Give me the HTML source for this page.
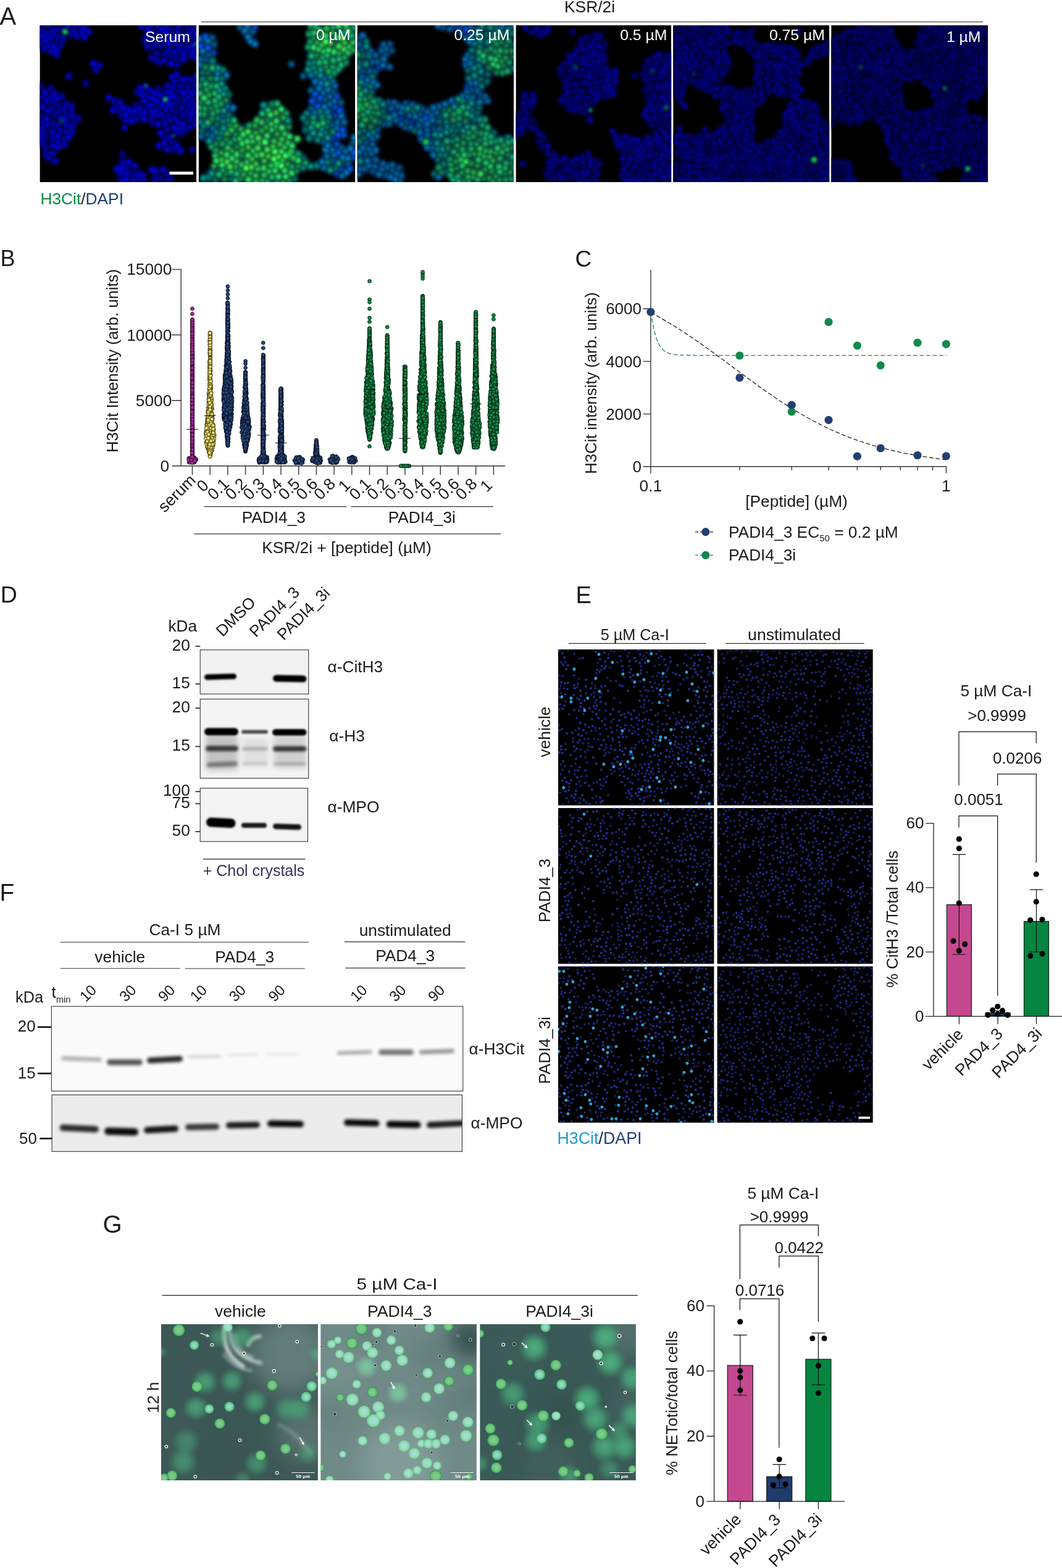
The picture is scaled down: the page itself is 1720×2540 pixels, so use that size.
<!DOCTYPE html>
<html lang="en"><head><meta charset="utf-8"><title>Figure</title>
<style>html,body{margin:0;padding:0;background:#fff}body{width:1720px;height:2540px;overflow:hidden}svg{display:block}</style></head><body>
<svg width="1720" height="2540" viewBox="0 0 1720 2540" font-family="&quot;Liberation Sans&quot;, sans-serif" font-size="26.3" fill="#1a1a1a">
<defs><filter id="b1" x="-20%" y="-100%" width="140%" height="300%"><feGaussianBlur stdDeviation="1.6"/></filter>
<filter id="b2" x="-20%" y="-150%" width="140%" height="400%"><feGaussianBlur stdDeviation="2.2"/></filter>
<filter id="b4" x="-20%" y="-150%" width="140%" height="400%"><feGaussianBlur stdDeviation="2.7"/></filter>
<filter id="b3" x="-30%" y="-30%" width="160%" height="160%"><feGaussianBlur stdDeviation="5"/></filter>
<clipPath id="cd1"><rect x="324.2" y="1052.8" width="175.6" height="71.4"/></clipPath>
<clipPath id="cd2"><rect x="324.2" y="1132.4" width="175.6" height="128.3"/></clipPath>
<clipPath id="cd3"><rect x="324.2" y="1276" width="174.3" height="87.2"/></clipPath>
<clipPath id="cf1"><rect x="83.3" y="1630.2" width="666.5" height="137.2"/></clipPath>
<clipPath id="cf2"><rect x="84.1" y="1773.6" width="664.3" height="91.7"/></clipPath>
<clipPath id="ca0"><rect x="64.4" y="41" width="253.6" height="254"/></clipPath>
<clipPath id="ca1"><rect x="321.7" y="41" width="253.6" height="254"/></clipPath>
<clipPath id="ca2"><rect x="578.6" y="41" width="253.4" height="254"/></clipPath>
<clipPath id="ca3"><rect x="835.4" y="41" width="251.8" height="254"/></clipPath>
<clipPath id="ca4"><rect x="1090.2" y="41" width="253" height="254"/></clipPath>
<clipPath id="ca5"><rect x="1346.2" y="41" width="253.8" height="254"/></clipPath>
<filter id="fa1" x="-5%" y="-5%" width="110%" height="110%"><feGaussianBlur stdDeviation="1.15"/></filter>
<filter id="fa3" x="-10%" y="-10%" width="120%" height="120%"><feGaussianBlur stdDeviation="3"/></filter>
<filter id="fa5" x="-50%" y="-50%" width="200%" height="200%"><feGaussianBlur stdDeviation="2.2"/></filter>
<clipPath id="ce00"><rect x="903.9" y="1052" width="252.7" height="252.8"/></clipPath>
<clipPath id="ce01"><rect x="1161.4" y="1052" width="252.4" height="252.8"/></clipPath>
<clipPath id="ce10"><rect x="903.9" y="1308.8" width="252.7" height="252.8"/></clipPath>
<clipPath id="ce11"><rect x="1161.4" y="1308.8" width="252.4" height="252.8"/></clipPath>
<clipPath id="ce20"><rect x="903.9" y="1565.3" width="252.7" height="253.5"/></clipPath>
<clipPath id="ce21"><rect x="1161.4" y="1565.3" width="252.4" height="253.5"/></clipPath>
<filter id="fe1" x="-5%" y="-5%" width="110%" height="110%"><feGaussianBlur stdDeviation="0.55"/></filter>
<clipPath id="cg0"><rect x="261" y="2145.1" width="253.9" height="253"/></clipPath>
<clipPath id="cg1"><rect x="519.2" y="2145.1" width="252.7" height="253"/></clipPath>
<clipPath id="cg2"><rect x="777.2" y="2145.1" width="252.7" height="253"/></clipPath>
<filter id="fg1" x="-10%" y="-10%" width="120%" height="120%"><feGaussianBlur stdDeviation="0.7"/></filter>
<filter id="fg2" x="-50%" y="-50%" width="200%" height="200%"><feGaussianBlur stdDeviation="2.5"/></filter>
<filter id="fg20" x="-60%" y="-60%" width="220%" height="220%"><feGaussianBlur stdDeviation="18"/></filter>
<radialGradient id="gcA"><stop offset="0" stop-color="#86cc8e"/><stop offset="0.6" stop-color="#74c680"/><stop offset="0.9" stop-color="#45b066"/><stop offset="1" stop-color="#1f7a45"/></radialGradient>
<radialGradient id="gcB"><stop offset="0" stop-color="#a9dfd8"/><stop offset="0.55" stop-color="#9bdcc8"/><stop offset="0.85" stop-color="#7fd89a"/><stop offset="1" stop-color="#6fbf8a"/></radialGradient>
<radialGradient id="gcC"><stop offset="0" stop-color="#9fd8d8"/><stop offset="0.5" stop-color="#86d6b4"/><stop offset="0.92" stop-color="#4fb873"/><stop offset="1" stop-color="#2f7f55"/></radialGradient>
<radialGradient id="ghA"><stop offset="0" stop-color="#52b884" stop-opacity="0.9"/><stop offset="0.45" stop-color="#4aae7c" stop-opacity="0.75"/><stop offset="1" stop-color="#3f9a70" stop-opacity="0"/></radialGradient>
<radialGradient id="ghB"><stop offset="0" stop-color="#7fd0a4" stop-opacity="0.85"/><stop offset="0.5" stop-color="#7fd0a4" stop-opacity="0.6"/><stop offset="1" stop-color="#7fd0a4" stop-opacity="0"/></radialGradient>
<marker id="arw" markerWidth="6" markerHeight="6" refX="3.2" refY="3" orient="auto" markerUnits="userSpaceOnUse"><path d="M0 0L6 3L0 6L1.6 3Z" fill="#fff"/></marker></defs>
<rect width="1720" height="2540" fill="#fff"/>
<g id="panelA"><text font-size="40" x="-0.5" y="40">A</text>
<text text-anchor="middle" font-size="26.4" x="955" y="20.2">KSR/2i</text>
<line x1="326" y1="35.5" x2="1592" y2="35.5" stroke="#222" stroke-width="1.2"/>
<text x="65.5" y="331"><tspan fill="#0b8a43">H3Cit</tspan>/<tspan fill="#1f3d7a">DAPI</tspan></text>
<g clip-path="url(#ca0)">
<rect x="64.4" y="41" width="253.6" height="254" fill="#000"/>
<path d="M64.4 41L128.9 41L148.3 47.5L140.2 58.8L132.2 62L117.7 57.1L101.5 62L98.3 86.2L93.4 92.6L87 87.8L80.5 81.3L69.2 81.3L64.4 83ZM227.4 41L318.4 41L318.4 97.5L303.2 95.9L290.3 105.5L280.6 108.8L266.1 103.9L246.7 103.9L241.9 94.3L246.7 86.2L237.1 78.1L233.8 66.8L235.5 53.9ZM148.3 102.3L156.4 98.3L162.8 103.9L163.6 112L158 115.2L150.7 112ZM64.4 134.6L74.1 141L85.4 141L93.4 150.7L106.4 157.2L116 168.5L117.7 181.4L127.3 189.5L124.1 202.4L120.9 216.9L111.2 223.3L111.2 233L96.7 237.9L91.8 247.6L88.6 255.6L90.2 263.7L82.2 262.1L74.1 254L70.9 242.7L64.4 234.6ZM318.4 123.3L306.5 128.1L293.5 124.9L287.1 116.8L279 120.1L277.4 133L266.1 141L246.7 145.9L238.7 137.8L225.8 136.2L219.3 147.5L224.2 154L233.8 157.2L232.2 163.6L219.3 170.1L209.6 178.2L201.6 173.3L198.3 165.3L187 163.6L177.4 154L174.1 157.2L183.8 170.1L182.2 178.2L191.9 184.6L201.6 194.3L214.5 197.5L225.8 192.7L240.3 199.1L254.8 204L264.5 202.4L259.7 215.3L264.5 218.5L258 231.4L254.8 239.5L271 242.7L290.3 247.6L295.2 241.1L282.2 231.4L280.6 218.5L296.8 216.9L303.2 208.8L318.4 202.4ZM198.3 247.6L203.2 257.2L216.1 262.1L219.3 270.1L212.9 278.2L227.4 279.8L235.5 286.3L235.5 295L193.5 295L190.3 283.1L183.8 275L190.3 265.3L195.1 255.6ZM245.1 273.4L264.5 270.1L272.6 279.8L279 295L246.7 295Z" fill="#000042" fill-rule="evenodd" filter="url(#fa3)"/>
<g fill="none" stroke-linecap="round" filter="url(#fa1)">
<g filter="url(#fa5)"><g stroke="#000044" stroke-width="13.5"><path id="a0p0" d="M99.9 156.4h0M205.5 271.5h0M294.8 71.7h0M244.3 70.2h0M246.1 198.6h0M122.2 41.5h0M68.3 198.4h0M87 185.2h0M71.4 42.7h0M192.9 180.4h0M94.6 201.8h0M316.5 41.8h0M278.4 49.1h0M212.2 187.4h0M73.4 215.6h0M85.8 165.6h0M287.7 161h0M251.2 286h0M259.1 101h0M254.8 44.3h0M65.3 140h0M198.3 249.5h0M286.2 71.3h0M114 54.9h0M74.1 240.3h0M296.5 56.9h0M258.3 54.7h0M245.3 189.7h0M285.2 181h0M105.8 186.3h0M189.6 172.4h0M274.5 195.5h0M272.9 186.4h0M294.1 216.1h0M306.5 195h0M254.2 86.6h0M266.7 86.8h0M122.2 197.5h0M289.5 148.3h0M269.7 209.5h0M261 73.6h0M216.7 281.9h0M259.4 288.3h0M256.3 144.2h0M318.4 152.5h0M276.3 91.7h0M72.9 225.6h0M304.9 64.3h0M95.3 171.4h0M65.2 158.2h0M225.4 185.6h0M103 48h0M270.5 294.7h0M268.2 151h0M306.4 90.8h0M94 181h0M286.8 105.4h0M284.9 217h0M194.7 287.9h0M81.4 142.9h0M237.2 176.2h0M244.4 92.8h0M285.6 95.8h0M250.5 293.9h0M64.7 188.6h0M248.4 77h0M302.4 179.2h0M302.1 45h0M266.1 221.9h0M312.7 62h0M92 66.3h0M93.6 57.9h0M221.8 149h0M279.8 66h0M84 224.2h0M250.2 51.2h0M271.4 282.4h0M65.9 70.3h0M283.1 167.7h0M278 231.2h0M103.1 224.9h0M219.4 170.8h0M281.2 242h0M80.4 41.9h0M196.3 188.2h0M265.8 192.6h0M126.8 190.6h0M130.8 42.3h0M65.7 167.3h0M84.6 174.7h0M73.8 249.4h0M300.3 210.7h0M317.6 69.2h0M220.8 194h0M276.1 288.8h0M99.4 71.6h0M318.4 78.8h0M138.6 135.4h0M311.3 242.7h0"/></g><g stroke="#000050" stroke-width="13.5"><path id="a0p1" d="M83 156.6h0M223.7 287.5h0M273.1 80.4h0M261.7 185.1h0M282.4 132.7h0M194.7 166.3h0M104.8 233.5h0M91.8 88.7h0M303.6 142.4h0M287.3 51.2h0M216.4 292h0M318 183.1h0M97.4 189.8h0M84.9 51h0M85.2 200.3h0M282 190.7h0M70 174.5h0M246 60.1h0M267.4 201h0M311.1 162.6h0M238 155.1h0M226.3 175.4h0M115.2 204.7h0M309.2 129.4h0M316.1 138.9h0M293.2 128.8h0M106.8 202.3h0M317.9 123.7h0M253.7 186.3h0M262.4 64.3h0M68.1 232.7h0M286.4 120.3h0M92.3 47.8h0M218.1 268.5h0M296 186h0M275.7 221.8h0M310.2 48.8h0M175.8 158.1h0M253.6 178.1h0M116.7 189.2h0M266.6 97.1h0M75.9 201.9h0M115.8 180.2h0M273 72.4h0M199.8 262.8h0M280.8 141.4h0M78.6 255.9h0M143.9 52.3h0M71.6 78.9h0M301.2 128.4h0M89.7 261h0M85.3 248.3h0M199.1 294.6h0M236.5 141.1h0M294.6 173.7h0M229.2 42.9h0M107.5 169h0M96.7 211h0M303 77.9h0M253.1 276.5h0M116.6 213.4h0M160.7 106h0M265.9 162.4h0M93.7 230.3h0M298.7 162.8h0M256.7 236.4h0M102.4 61.7h0M233 293.3h0M234.9 64.5h0M107.3 213.5h0M78.2 73.2h0M184.4 162.6h0M316.9 170.9h0M88.6 150.9h0M252.3 96.6h0M316.3 202.3h0M68.5 206.8h0M120.7 49.6h0M270.7 139.2h0M75.9 55.2h0M277.6 175.3h0M304.7 156.9h0M288.6 197.2h0M290.6 79h0M307.5 169.9h0M252.7 70.1h0M293.4 139.3h0M243.3 146.4h0M231.1 284.2h0M270.3 42.2h0M277.7 58h0M65.3 49.7h0M237.7 76h0M242.3 41.5h0M115.2 171.8h0M316.3 194.2h0M103.3 177.6h0M203.9 194.6h0M238.3 57h0M155.1 112.8h0M306.8 206h0M311.7 177.5h0M224.4 279.7h0M111.2 123.3h0M201.6 207.2h0"/></g><g stroke="#00005b" stroke-width="13.5"><path id="a0p2" d="M251 150.8h0M268.5 176.5h0M205.1 288.9h0M262 169.8h0M75.5 192.6h0M86.7 75.1h0M243.6 169.9h0M311.3 75.2h0M264.4 275h0M75.8 162.3h0M239.8 49.2h0M283.1 84.4h0M296.7 86h0M312 84.8h0M266 231.9h0M262.7 47.3h0M67.6 58.2h0M195.9 279.2h0M245.9 181.1h0M203.8 185.7h0M292.3 244.5h0M317.4 93.3h0M233.2 163.3h0M254 164.2h0M132.3 52.2h0M73.8 65.4h0M212.3 195.9h0M282 207h0M228.3 142.8h0M285.9 60.8h0M295.6 201.5h0M276.9 102.9h0M92.6 80.5h0M189.3 274.1h0M317.5 55.1h0M255.7 200.8h0M150.6 102.7h0M269.2 51.9h0M280.8 156.1h0M270.7 242.1h0M86.6 235.7h0M271.5 64.6h0M85.4 213.7h0M72.9 150.2h0M289.6 41.6h0M93.5 221.3h0M297.4 151.2h0M274.2 167.5h0M296 95.7h0M233.4 192.7h0M64.8 223.3h0M94.9 238.3h0M111.7 222.1h0M123.5 57.8h0M110.4 41.4h0M137.9 46.1h0M309.5 185.6h0M78.1 179.6h0M310.5 149.8h0M83.3 60.5h0M208.9 178h0M276.2 149.3h0M245.8 158.9h0M218 180.4h0M259.1 154.7h0M229.5 152.9h0M136.1 60.3h0M278.8 124.5h0M305 55.9h0M92.5 159.2h0M290.2 208.5h0M83 83.5h0M209.2 262.6h0M200.1 174.6h0M260.2 215.4h0M232.8 182.8h0M287 235.4h0M105.9 194.3h0M205.5 280h0M182.9 178.5h0M245.3 275.1h0M196.3 270.2h0M65.3 214.3h0M273.1 159.1h0"/></g></g>
<use href="#a0p0" stroke="#000078" stroke-width="9.4"/><use href="#a0p1" stroke="#00008d" stroke-width="9.4"/><use href="#a0p2" stroke="#0000a2" stroke-width="9.4"/>
<use href="#a0p0" stroke="#00009c" stroke-width="5.2"/><use href="#a0p1" stroke="#0000b8" stroke-width="5.2"/><use href="#a0p2" stroke="#0000d3" stroke-width="5.2"/>
</g>
<circle cx="105.5" cy="51.5" r="4.5" fill="#0acd46" opacity="1.00" filter="url(#fa5)"/>
<circle cx="267.7" cy="161.2" r="3.6" fill="#0acd46" opacity="1.00" filter="url(#fa5)"/>
<circle cx="236.3" cy="138.6" r="2.9" fill="#0acd46" opacity="0.60" filter="url(#fa5)"/>
<circle cx="280.6" cy="220.1" r="2.1" fill="#0acd46" opacity="0.80" filter="url(#fa5)"/>
<circle cx="316.1" cy="71.7" r="3.2" fill="#0acd46" opacity="0.50" filter="url(#fa5)"/>
<circle cx="99.9" cy="195.9" r="4.8" fill="#0acd46" opacity="0.25" filter="url(#fa5)"/>
</g>
<g clip-path="url(#ca1)">
<rect x="321.7" y="41" width="253.6" height="254" fill="#000"/>
<path d="M321.7 58.8L337.8 57.1L350.7 62L349.1 78.1L344.3 94.3L352.4 105.5L363.7 113.6L368.5 124.9L362 137.8L371.7 154L375 170.1L379.8 178.2L376.6 192.7L386.2 200.8L402.4 202.4L412.1 194.3L421.7 183L425 168.5L444.3 163.6L455.6 173.3L466.9 186.2L471.8 195.9L466.9 210.4L470.2 226.6L476.6 241.1L491.1 249.2L499.2 262.1L499.2 270.1L483.1 279.8L475 295L326.5 295L331.4 283.1L345.9 266.9L349.1 250.8L341.1 239.5L331.4 228.2L321.7 218.5ZM499.2 41L575.7 41L575.7 81.3L563.8 94.3L560.5 105.5L547.6 116.8L537.9 124.9L544.4 136.2L546 154L554.1 166.9L560.5 189.5L555.7 202.4L558.9 218.5L547.6 226.6L555.7 237.9L563.8 250.8L563.8 255.6L568.6 271.8L560.5 283.1L547.6 289.5L536.3 279.8L515.3 270.1L499.2 271.8L500.8 265.3L515.3 262.1L526.6 249.2L528.3 234.6L512.1 228.2L499.2 223.3L491.1 212.1L491.1 186.2L497.6 181.4L505.7 163.6L500.8 147.5L508.9 137.8L505.7 124.9L499.2 116.8L497.6 89.4L500.8 62ZM386.2 41L415.3 41L412.1 50.7L405.6 57.1L415.3 65.2L416.9 76.5L412.1 78.1L402.4 62L392.7 55.5ZM575.7 218.5L570.2 228.2L565.4 236.3L570.2 249.2L575.7 258.8Z" fill="#002564" fill-rule="evenodd" filter="url(#fa3)"/>
<g fill="none" stroke-linecap="round" filter="url(#fa1)">
<g filter="url(#fa5)"><g stroke="#002460" stroke-width="13.5"><path id="a1p0" d="M539.4 223.3h0M552.8 274.5h0M544.9 280.5h0M542.7 187.9h0M574.3 255.7h0M345.7 85.7h0"/></g><g stroke="#002a71" stroke-width="13.5"><path id="a1p1" d="M542.6 173.7h0M545.4 233.6h0M412.7 44h0M545.6 156.2h0M556.7 218.6h0"/></g><g stroke="#003082" stroke-width="13.5"><path id="a1p2" d="M336.8 77.2h0M510.3 152.2h0M518.9 159h0M514.9 172.2h0M548 218.5h0M324 74.5h0M505.6 163.8h0M550.5 179h0M554.9 210.5h0M332.7 59.3h0M573.2 247.7h0M548.3 246.5h0M566.5 273.3h0"/></g><g stroke="#02304d" stroke-width="13.5"><path id="a1p3" d="M337.8 88.9h0M563.4 264.9h0M523.9 229.5h0M333.7 95.9h0M335.6 217.6h0M503.5 146.6h0M504.1 175.5h0M552.4 166.1h0M572.9 230.7h0M539.7 150h0M388.6 43.8h0M361.3 187.6h0M343.6 60.8h0M538.6 261.3h0M346.5 71.9h0M409.3 51.4h0M527.1 160.8h0M538.2 203h0M553.1 239.3h0M471.8 103.9h0M491.1 123.3h0"/></g><g stroke="#02395a" stroke-width="13.5"><path id="a1p4" d="M325.3 220.8h0M344.3 207.6h0M525.3 126.5h0M368.5 172.3h0M529.5 253.2h0M557.3 197.8h0M541.5 251.2h0M324.4 96h0M546.5 198.4h0M524.7 271.6h0M534.3 156.5h0M538.3 242.7h0M538.8 131.6h0M559.9 245.1h0M534.6 168.8h0M545.4 207.1h0M542.6 139.3h0M554.3 284.6h0M343.5 220.3h0M509.5 182.5h0M523.9 149.9h0M541.7 164h0"/></g><g stroke="#024168" stroke-width="13.5"><path id="a1p5" d="M528.2 243.4h0M396.2 49.5h0M552.5 187.8h0M377.4 174.6h0M521.7 262.5h0M323 104.9h0M328 82.7h0M336.8 66.3h0M412.9 71.1h0M510.5 132h0M531 235.5h0M322.2 63.3h0M519.6 134.6h0M516.7 142.9h0M555.1 255.3h0M401.9 59.9h0M560.9 279.5h0M352.4 119.2h0M525.5 173.1h0M531.4 145h0M529.9 181.2h0M573.9 222.7h0M400.7 42.1h0M567.6 240.4h0M366.6 121.8h0M504.1 121.5h0M563.7 256.5h0M405.9 67.1h0"/></g><g stroke="#033d3a" stroke-width="13.5"><path id="a1p6" d="M374.4 289.5h0M494.9 210.5h0M348.6 292.1h0M328.1 117.7h0M496.8 198h0M531.2 197.1h0M351.3 201.5h0M359.4 127.4h0M527.6 215.4h0M370.4 152.5h0M326 212.1h0M476.9 289.9h0M370.3 186.5h0M491 257h0M336.4 117.6h0M544 272.3h0M529.2 205.2h0"/></g><g stroke="#044844" stroke-width="13.5"><path id="a1p7" d="M358.5 215.7h0M327.9 128.2h0M509 101.1h0M344.5 98.9h0M491 271.3h0M352.8 191.9h0M329.7 203.7h0M521.4 189h0M539.2 213.4h0M369.9 194.6h0M511.5 117.6h0M501 102.7h0M512.9 268.7h0M500.9 223.9h0M521.6 209.2h0M514.4 226.8h0M323.9 197.5h0M518.4 180.9h0M496.8 183.9h0M350.3 213.9h0M360.9 113.3h0M354.7 223.9h0M364.6 143.4h0M337.5 287.4h0M530.3 262.8h0M491.3 190.9h0M361.7 196.6h0M507.9 109.4h0M533 188.9h0M535.2 124.1h0"/></g><g stroke="#04524e" stroke-width="13.5"><path id="a1p8" d="M343 280.8h0M350.7 127.4h0M507.7 190.5h0M362 152.3h0M534.9 275.5h0M507.3 215.6h0M499.1 112.8h0M548.3 264.4h0M426.9 170.2h0M504.1 206.7h0M329.3 288.5h0M353.1 110.3h0M519.1 112.7h0M530.6 223.4h0M519 217.8h0M339.1 228.4h0M362.1 207.7h0M503.3 269.6h0M466.2 195h0M529.3 135.9h0M362.5 179.2h0M518.7 121.7h0M358.7 136.1h0M355.9 146.4h0"/></g><g stroke="#084b2e" stroke-width="13.5"><path id="a1p9" d="M391.5 251.7h0M389.2 289.5h0M508.1 61.5h0M363.7 290.4h0M341 127.3h0M324.9 165.1h0M433 195.3h0M449 294.1h0M323.4 138.4h0M342.2 175.9h0M383.8 237.9h0M349.7 233.3h0M440.8 169.1h0M560.4 101.7h0M332.6 108.9h0M381.7 217.3h0M343.5 192.4h0M458.4 294h0M467.6 205.4h0M365.9 162.2h0M528.3 108.6h0M512.7 89.4h0M389.4 275.8h0M480.2 276.6h0M468.4 292.3h0M372.2 203.1h0M366.5 225.8h0M483.1 268.9h0M366.3 281h0"/></g><g stroke="#0a5837" stroke-width="13.5"><path id="a1p10" d="M342.6 237.6h0M403.7 203.5h0M352.5 179.8h0M334.7 145.2h0M380.3 225.6h0M331.7 175.9h0M503.4 41.8h0M554.5 53.1h0M357.7 168h0M360.4 275.5h0M558.1 93.1h0M495 264.2h0M360.2 232.9h0M341.6 139.6h0M482.8 249.5h0M499.2 76.4h0M539.2 109h0M472.6 270.5h0M372.6 231.4h0M541.7 117.6h0M572.6 44.7h0M522.6 93.4h0M539.5 44.3h0M330.7 185h0M532.5 116.1h0M349.8 243.7h0M432.9 294.5h0M502.8 68.1h0M344.8 183.7h0M548.1 112.2h0M463.4 183.6h0M500.5 55h0M350 171.4h0M507.8 198.9h0"/></g><g stroke="#0b653f" stroke-width="13.5"><path id="a1p11" d="M322.1 184.6h0M526.9 100.5h0M354.8 282.5h0M347.6 151.4h0M504.4 90.8h0M515.1 203h0M517.4 101.5h0M529.9 89.5h0M337.1 165.5h0M424.9 184h0M343.9 110h0M549.2 95.7h0M348.3 163.2h0M350.7 139.8h0M539.8 97.9h0M569.3 58.1h0M374.2 278.3h0M323.8 151.5h0M322.3 174h0M552.5 105.4h0M336.5 198.5h0M434.3 178.5h0M440.5 286.9h0M448.8 168h0M381.8 293.2h0M354.4 156.9h0M332.9 136h0M511.5 42.4h0M378.9 195.3h0M383.4 281.3h0M523.2 199.6h0"/></g><g stroke="#125b2b" stroke-width="13.5"><path id="a1p12" d="M423.9 211.6h0M390.1 209.4h0M405.8 280.7h0M375.5 244.5h0M538.6 53.3h0M367.7 216.4h0M465.7 265.8h0M358.5 247.8h0M519.1 60.6h0M549 86.1h0M424.4 292.7h0M413.2 203h0M394.4 282.8h0M458.9 190.5h0M346.8 269.1h0M414.3 215.3h0M431 206.3h0M392.2 242.9h0M382 204h0M448.6 217h0M571.5 81.1h0M338.3 153.5h0M446.9 205h0M513.8 68.9h0M420.3 231.7h0M381.6 270.2h0"/></g><g stroke="#156b33" stroke-width="13.5"><path id="a1p13" d="M440 210.2h0M399.9 263.5h0M461 216.8h0M368.9 239.6h0M523.9 83.2h0M383.1 261.5h0M466.4 231.7h0M415.3 251.9h0M545.4 60h0M460.7 238.3h0M439 268.5h0M508.6 53.4h0M348.8 252.3h0M563.9 85.5h0M517.3 48.3h0M439.3 201h0M414.9 295h0M521.1 73.1h0M456.4 225.6h0M427.8 283.6h0M565.2 76h0M516 79.7h0M529.1 46h0M457.2 259.8h0M408.7 229.3h0M435.5 277.9h0M417.8 273.6h0M443.8 228.8h0M471.7 244.7h0M424 198.2h0M375 210.8h0M571.7 68.9h0M416.3 194.7h0M475.3 255.9h0M391.1 266.7h0M414.2 284.4h0M407.4 220.9h0M388.5 224.7h0M409.9 244.7h0"/></g><g stroke="#187b3b" stroke-width="13.5"><path id="a1p14" d="M394 217.6h0M448.1 265h0M548.3 42.1h0M482.8 260h0M437.9 185.9h0M507.8 76.9h0M472.4 280.2h0M563.5 50.2h0M445.4 276.3h0M451 286.1h0M527.3 58.3h0M432.6 220h0M375.7 256.6h0M392.3 232.3h0M447.7 196.1h0M461.1 276.5h0M402.4 290.9h0M462.8 286.2h0M540.7 83.9h0M330.6 158.8h0M427.2 272.3h0M359.9 267.2h0M400.2 229.3h0M455.8 245.5h0M455.6 177h0M402 251.9h0M456.5 207h0M367.3 250.6h0M473.1 236.3h0M468.9 221.3h0M560.3 41.1h0M383.3 250.2h0M531.9 81.1h0M557.1 79.7h0M350.5 260.5h0M481.5 225h0"/></g><g stroke="#1b6b28" stroke-width="13.5"><path id="a1p15" d="M535.7 69.7h0M358.7 259.1h0M428 260.6h0M402.3 238.4h0M447 182.8h0M558.3 69.1h0M414.6 265.7h0M434.4 252.8h0M453.3 233.2h0M408.1 257.4h0M442.2 237.4h0"/></g><g stroke="#207d2f" stroke-width="13.5"><path id="a1p16" d="M548.9 75h0M401.7 213.4h0M372.5 269.9h0M418.3 223.6h0M417.6 239.7h0M367.7 262.1h0M432.8 242.5h0M424 250.4h0M451.2 253.9h0M407.1 271h0M553.9 61.5h0"/></g><g stroke="#249036" stroke-width="13.5"><path id="a1p17" d="M445.3 245.6h0M429.3 230.2h0M462.5 252.1h0M398.7 272.3h0M455.6 268.6h0M443.8 257.5h0M527.6 67.6h0"/></g></g>
<use href="#a1p0" stroke="#002f80" stroke-width="9.4"/><use href="#a1p1" stroke="#003896" stroke-width="9.4"/><use href="#a1p2" stroke="#0040ad" stroke-width="9.4"/><use href="#a1p3" stroke="#024066" stroke-width="9.4"/><use href="#a1p4" stroke="#024c78" stroke-width="9.4"/><use href="#a1p5" stroke="#03578a" stroke-width="9.4"/><use href="#a1p6" stroke="#04514d" stroke-width="9.4"/><use href="#a1p7" stroke="#055f5a" stroke-width="9.4"/><use href="#a1p8" stroke="#066e68" stroke-width="9.4"/><use href="#a1p9" stroke="#0b643e" stroke-width="9.4"/><use href="#a1p10" stroke="#0d7649" stroke-width="9.4"/><use href="#a1p11" stroke="#0f8754" stroke-width="9.4"/><use href="#a1p12" stroke="#18793a" stroke-width="9.4"/><use href="#a1p13" stroke="#1c8e44" stroke-width="9.4"/><use href="#a1p14" stroke="#20a34e" stroke-width="9.4"/><use href="#a1p15" stroke="#248e36" stroke-width="9.4"/><use href="#a1p16" stroke="#2aa73f" stroke-width="9.4"/><use href="#a1p17" stroke="#30c049" stroke-width="9.4"/>
<use href="#a1p0" stroke="#003ea6" stroke-width="5.2"/><use href="#a1p1" stroke="#0048c4" stroke-width="5.2"/><use href="#a1p2" stroke="#0053e1" stroke-width="5.2"/><use href="#a1p3" stroke="#035485" stroke-width="5.2"/><use href="#a1p4" stroke="#03629c" stroke-width="5.2"/><use href="#a1p5" stroke="#0471b4" stroke-width="5.2"/><use href="#a1p6" stroke="#056964" stroke-width="5.2"/><use href="#a1p7" stroke="#067c75" stroke-width="5.2"/><use href="#a1p8" stroke="#078e87" stroke-width="5.2"/><use href="#a1p9" stroke="#0f8251" stroke-width="5.2"/><use href="#a1p10" stroke="#11995f" stroke-width="5.2"/><use href="#a1p11" stroke="#14b06d" stroke-width="5.2"/><use href="#a1p12" stroke="#1f9d4b" stroke-width="5.2"/><use href="#a1p13" stroke="#24b958" stroke-width="5.2"/><use href="#a1p14" stroke="#29d566" stroke-width="5.2"/><use href="#a1p15" stroke="#2fb946" stroke-width="5.2"/><use href="#a1p16" stroke="#37d952" stroke-width="5.2"/><use href="#a1p17" stroke="#3ff95e" stroke-width="5.2"/>
</g>
<circle cx="468.5" cy="250" r="4.5" fill="#0acd46" opacity="1.00" filter="url(#fa5)"/>
<circle cx="448.4" cy="266.9" r="4.5" fill="#0acd46" opacity="1.00" filter="url(#fa5)"/>
<circle cx="521.8" cy="192.7" r="2.3" fill="#0acd46" opacity="0.70" filter="url(#fa5)"/>
<circle cx="531.5" cy="115.2" r="2.3" fill="#0acd46" opacity="0.70" filter="url(#fa5)"/>
<circle cx="523.4" cy="241.1" r="1.6" fill="#0acd46" opacity="1.00" filter="url(#fa5)"/>
</g>
<g clip-path="url(#ca2)">
<rect x="578.6" y="41" width="253.4" height="254" fill="#000"/>
<path d="M578.6 53.9L588.3 57.1L596.4 68.4L594.7 81.3L610.9 83L620.6 68.4L633.5 70L635.1 83L627 92.6L623.8 102.3L631.9 108.8L615.7 112L607.6 124.9L612.5 137.8L604.4 150.7L609.3 160.4L620.6 163.6L635.1 165.3L649.6 168.5L665.7 165.3L681.9 168.5L691.6 174.9L710.9 166.9L723.8 168.5L733.5 157.2L749.7 150.7L757.7 144.3L754.5 131.4L757.7 116.8L752.9 105.5L754.5 89.4L764.2 83L760.9 70L740 50.7L715.8 45.8L707.7 41L832.6 41L832.6 118.5L817.4 116.8L804.5 121.7L788.4 123.3L791.6 131.4L785.2 141L778.7 152.3L786.8 157.2L791.6 163.6L777.1 170.1L773.9 181.4L788.4 191.1L785.2 202.4L794.8 210.4L804.5 213.7L798.1 221.7L811 220.1L832.6 221.7L832.6 295L736.7 295L728.7 283.1L704.5 287.9L698 283.1L707.7 271.8L706.1 257.2L694.8 244.3L683.5 233L675.4 223.3L678.6 216.9L662.5 210.4L649.6 204L631.9 200.8L617.3 202.4L610.9 215.3L612.5 225L602.8 231.4L609.3 242.7L602.8 252.4L617.3 263.7L631.9 266.9L643.1 266.9L652.8 278.2L648 295L622.2 286.3L594.7 279.8L578.6 283.1Z" fill="#002362" fill-rule="evenodd" filter="url(#fa3)"/>
<g fill="none" stroke-linecap="round" filter="url(#fa1)">
<g filter="url(#fa5)"><g stroke="#002059" stroke-width="13.5"><path id="a2p0" d="M649.5 192.7h0M665.9 198.8h0M613.1 109.1h0M756.9 140.7h0"/></g><g stroke="#002668" stroke-width="13.5"><path id="a2p1" d="M743.1 45.5h0"/></g><g stroke="#002b78" stroke-width="13.5"><path id="a2p2" d="M754.4 48.2h0M689.5 191.3h0"/></g><g stroke="#012c49" stroke-width="13.5"><path id="a2p3" d="M764.1 145.9h0M740.8 161.5h0M625.1 284h0M646.8 271.9h0M703 209.2h0M604 277h0M656.7 206.5h0M657.1 167.4h0M778 153.6h0M736.1 41.4h0M592.4 249.7h0M588.1 115.5h0M585.8 79.9h0M747.5 54.6h0M681.1 184.6h0M658 197.4h0M592.7 231.2h0M634.5 81.9h0M698.6 230.6h0M611.5 209.8h0M607.6 115.6h0M717.6 43.9h0M578.9 61.4h0M631.4 71.4h0M636.1 275.7h0M714 189.2h0M750.3 41.1h0M684.1 177.3h0M629 166h0M625.1 88.3h0M648.6 293h0M765.7 51.1h0M622 201.4h0M579.2 118h0"/></g><g stroke="#023355" stroke-width="13.5"><path id="a2p4" d="M633.7 175.8h0M691.9 210h0M600.5 82.9h0M648.9 182.5h0M707 182.5h0M635.3 267.1h0M754.9 61.9h0M597.1 241.6h0M772.8 146.7h0M757.4 156.8h0M608.7 258.7h0M711.9 208.8h0M663 186.6h0M581.8 72h0M678.2 203.2h0M650 284.7h0M592.2 136.7h0M621.2 72.2h0M599.3 115.5h0M729.1 46.9h0M762.5 42.7h0M692 218.3h0M602.8 100.4h0M603.2 233.9h0M580.4 282.4h0M749.3 155.7h0M757.4 89.1h0M700.1 240h0M691.7 181.3h0M627.3 270.8h0M590.3 273.3h0M608.3 89.4h0M618.1 81.4h0M765.5 157.6h0M641.6 194.4h0M711.5 171.9h0M610.9 100h0M607.3 269.3h0M682.2 194.5h0M762.5 134.5h0M789.7 163.5h0M650.5 201.1h0M642.2 281.1h0M586.3 124.8h0M682.3 224.8h0M631.2 108.4h0M603 224.8h0M630 200.1h0M644.1 171.7h0M582.3 273.8h0M618.6 273.8h0M620.5 265.4h0M601.8 248.6h0M610.6 220.8h0M754.2 105.3h0M667.7 170h0M698.5 186.7h0M597.6 268.5h0M756.1 148.8h0M637.9 166.1h0M625.8 79.2h0M665.3 206.8h0M785.7 156.6h0"/></g><g stroke="#023b62" stroke-width="13.5"><path id="a2p5" d="M691.7 200.4h0M595.2 260.4h0M731.5 163.4h0M597.1 218.1h0M832.4 43.8h0M621.4 95.5h0M761.7 102.2h0M679.9 214.3h0M763.1 59.6h0M587.4 57.7h0M692 239.1h0M700 194.6h0M614.2 282.5h0M721 168.6h0M582.2 246.2h0M610.6 137.9h0M620.5 105.9h0M587.6 239.5h0M672.9 188.4h0M701.7 251h0M776.6 165.8h0M640.3 290.8h0M812.8 43.3h0M770.5 134.5h0M638.5 186.9h0M632.5 286.8h0M761 67.5h0M604.4 132.8h0M702 174.5h0M608.7 243.6h0M710.2 286.6h0M753.8 96.1h0M709.4 41.8h0M651.8 174.7h0M595.1 129h0"/></g><g stroke="#033838" stroke-width="13.5"><path id="a2p6" d="M614.7 197.9h0M738.8 211.9h0M800.1 215.3h0M822 56.2h0M769.3 194.2h0M717.9 234h0M788.1 55.8h0M775.7 174.4h0M814.3 54.5h0M790.1 120.3h0M601.4 149.7h0M620.1 180.9h0M734.8 219.1h0M709.2 258.1h0M582.4 101.8h0M671.9 211.6h0M621.6 188.8h0M778.4 128.5h0M723.2 278.1h0M703.4 282h0M711.6 197.2h0M589 223.5h0M764.1 93.4h0M734.4 204h0M803.8 42.9h0M757.8 113.9h0M588.6 90.1h0M765 178.6h0M589.6 210.8h0M831.7 72.3h0M789.1 131.7h0M719.8 178.6h0M669.9 180.8h0M773.3 182.6h0"/></g><g stroke="#034142" stroke-width="13.5"><path id="a2p7" d="M613.4 162.8h0M780 139.5h0M799.7 54.6h0M823.4 47h0M718.5 265.3h0M603 124.3h0M582.4 229.1h0M832.2 110.9h0M763.9 81.6h0M593 67.2h0M581.3 214.5h0M721.1 251.1h0M743.4 202h0M597.3 90.2h0M768.9 70.5h0M689.8 230.5h0M823 223h0M829.7 53.8h0M708.7 241.1h0M600.1 140.1h0M723 197.4h0M724.2 205.7h0M732.3 228.4h0M730.9 211.4h0M775.9 106.5h0M749.8 163.7h0M777.6 75.9h0M759.1 126.9h0M712.9 251h0M604.1 214.4h0"/></g><g stroke="#044b4c" stroke-width="13.5"><path id="a2p8" d="M736.1 173.1h0M707.9 231.9h0M630 190.9h0M774.8 49h0M768.6 122.5h0M790.2 68.5h0M778.7 115.7h0M757.2 205.6h0M763.6 187.7h0M775.9 95.9h0M758.6 173.8h0M777.9 65.6h0M620.5 169.1h0M584.3 133h0M768.1 110.3h0M705 218h0M750 211.8h0M723 214h0M777.3 193.7h0M793.8 44.5h0M763.6 167.2h0M592.6 103.9h0M675.8 174.5h0M583.3 261h0M780.7 41.7h0M591.9 147.2h0M593.6 75.2h0M660.2 176h0M580 109.6h0M716.7 241.9h0M713.6 218.9h0M773.7 56.9h0M807.2 50.3h0"/></g><g stroke="#07432e" stroke-width="13.5"><path id="a2p9" d="M754.2 196.2h0M792 109.7h0M777 226.7h0M600.7 205.5h0M726 239.9h0M787.9 82.5h0M600.8 190.6h0M817.8 281h0M812.1 67.9h0M829.2 239.3h0M804.8 117.1h0M727.9 178.5h0M815.4 106.7h0M820.1 74h0M751.1 220.7h0M751.2 292.9h0M771.1 214.5h0M739.5 273.1h0M823.1 250.1h0M832 92.2h0M715.2 279.4h0M604.4 182.9h0M783.4 289h0M828.1 263.8h0M599.3 157.5h0"/></g><g stroke="#084f36" stroke-width="13.5"><path id="a2p10" d="M735.5 185.1h0M803 228.7h0M819.6 83.4h0M771.7 233.7h0M824.8 101h0M591 160.8h0M828.4 289.8h0M740.1 225.8h0M795 78.9h0M832.1 271.3h0M734.1 194.2h0M823.7 66.4h0M728.7 258h0M759 224h0M612.5 183.5h0M766.9 221.4h0M804.3 71h0M781.5 202.4h0M579.7 143.5h0M808.7 291.8h0M762.7 232.8h0M785.3 193.7h0M750.6 231.7h0M816.2 235.3h0M710.9 271.4h0M588.1 185.4h0M783.4 98.8h0M600.1 174.2h0M743.8 191.6h0M759.2 215.1h0M819.4 291h0M802.3 83.6h0M609 173h0M607.1 195.7h0M759.8 250.5h0M807.1 60.4h0M814 117.8h0M729.3 266.7h0"/></g><g stroke="#095b3f" stroke-width="13.5"><path id="a2p11" d="M787.4 216.8h0M830.2 254.2h0M767.2 207.2h0M735.1 246.1h0M821.7 115.3h0M722 186.3h0M795.2 230.3h0M819.9 264.6h0M741.7 286h0M749.5 173.8h0M830.9 228.5h0M605.4 164.3h0M586.2 202.2h0M724.1 228.8h0M756.4 184.3h0M776.4 84.7h0M810.9 227.5h0M749.2 242.3h0M743.6 181.1h0M578.7 88.5h0M584.2 152.4h0M733.9 290.6h0M582.2 160.6h0M595.9 181.3h0M789.8 206.8h0M823.3 230.9h0M799.4 64.1h0M742.3 294.2h0M785.8 224.6h0M729.4 284.1h0M795 221.4h0"/></g><g stroke="#0c4f2b" stroke-width="13.5"><path id="a2p12" d="M587.7 175.8h0M818.6 94h0M792.2 288.6h0M802.9 285.5h0M578.9 189.3h0M768.1 249.1h0M580.2 168.6h0M828.8 82.6h0M785.8 274.7h0M738.3 261.7h0M803 248.1h0M773.5 268h0M740.5 235.8h0M826.7 279.1h0M796.4 277.7h0M779 215.9h0M741.7 251.6h0M747.8 280.1h0M762.9 264.7h0M807.6 90.4h0M812.3 99.2h0M759.6 294.6h0M766.1 287.2h0M798.1 294.4h0"/></g><g stroke="#0f5d33" stroke-width="13.5"><path id="a2p13" d="M810.2 82.1h0M731.1 275.1h0M784.2 253.1h0M757.3 276.8h0M758.1 286.6h0M809.8 256.8h0M818 272.3h0M813 246.4h0M773.5 290.6h0M794.5 245.4h0M786.2 232.7h0M762.8 241h0M793.1 254.1h0M591.5 193.8h0M820.9 241.8h0M777.2 249.3h0M593.5 169.4h0"/></g><g stroke="#116b3a" stroke-width="13.5"><path id="a2p14" d="M748.7 268.3h0M806.1 107.3h0M751.6 250.9h0M579.1 177.4h0M809.7 278.2h0M782.5 90.2h0M808.1 270.1h0M802.6 96.9h0M787.2 263.8h0M794.3 269.5h0M794.7 94.4h0M777.5 240.7h0M775 258.9h0M805.7 240.1h0M798.8 104h0M746.9 258.5h0"/></g><g stroke="#125b28" stroke-width="13.5"><path id="a2p15" d="M798 260.4h0M766.7 279.1h0M786.4 244.5h0"/></g><g stroke="#197b36" stroke-width="13.5"><path id="a2p16" d="M754.5 262h0M778.4 281.8h0"/></g></g>
<use href="#a2p0" stroke="#002b77" stroke-width="9.4"/><use href="#a2p1" stroke="#00328b" stroke-width="9.4"/><use href="#a2p2" stroke="#0039a0" stroke-width="9.4"/><use href="#a2p3" stroke="#023a61" stroke-width="9.4"/><use href="#a2p4" stroke="#024572" stroke-width="9.4"/><use href="#a2p5" stroke="#034f83" stroke-width="9.4"/><use href="#a2p6" stroke="#044a4b" stroke-width="9.4"/><use href="#a2p7" stroke="#055758" stroke-width="9.4"/><use href="#a2p8" stroke="#056465" stroke-width="9.4"/><use href="#a2p9" stroke="#095a3e" stroke-width="9.4"/><use href="#a2p10" stroke="#0a6a49" stroke-width="9.4"/><use href="#a2p11" stroke="#0c7953" stroke-width="9.4"/><use href="#a2p12" stroke="#116a3a" stroke-width="9.4"/><use href="#a2p13" stroke="#137c44" stroke-width="9.4"/><use href="#a2p14" stroke="#168f4e" stroke-width="9.4"/><use href="#a2p15" stroke="#187a36" stroke-width="9.4"/><use href="#a2p16" stroke="#21a448" stroke-width="9.4"/>
<use href="#a2p0" stroke="#00379a" stroke-width="5.2"/><use href="#a2p1" stroke="#0041b5" stroke-width="5.2"/><use href="#a2p2" stroke="#004bd0" stroke-width="5.2"/><use href="#a2p3" stroke="#034c7e" stroke-width="5.2"/><use href="#a2p4" stroke="#035994" stroke-width="5.2"/><use href="#a2p5" stroke="#0366aa" stroke-width="5.2"/><use href="#a2p6" stroke="#056061" stroke-width="5.2"/><use href="#a2p7" stroke="#067172" stroke-width="5.2"/><use href="#a2p8" stroke="#078283" stroke-width="5.2"/><use href="#a2p9" stroke="#0b7550" stroke-width="5.2"/><use href="#a2p10" stroke="#0d895e" stroke-width="5.2"/><use href="#a2p11" stroke="#0f9e6c" stroke-width="5.2"/><use href="#a2p12" stroke="#158a4b" stroke-width="5.2"/><use href="#a2p13" stroke="#19a258" stroke-width="5.2"/><use href="#a2p14" stroke="#1dba65" stroke-width="5.2"/><use href="#a2p15" stroke="#209e46" stroke-width="5.2"/><use href="#a2p16" stroke="#2bd55e" stroke-width="5.2"/>
</g>
<circle cx="689.9" cy="229.8" r="4.2" fill="#0acd46" opacity="1.00" filter="url(#fa5)"/>
<circle cx="743.2" cy="160.4" r="4.5" fill="#0acd46" opacity="0.60" filter="url(#fa5)"/>
<circle cx="743.2" cy="178.2" r="2.6" fill="#0acd46" opacity="0.90" filter="url(#fa5)"/>
<circle cx="762.6" cy="161.2" r="1.9" fill="#0acd46" opacity="0.70" filter="url(#fa5)"/>
<circle cx="777.1" cy="163.6" r="1.9" fill="#0acd46" opacity="0.60" filter="url(#fa5)"/>
<circle cx="583.4" cy="171.7" r="3.6" fill="#0acd46" opacity="0.70" filter="url(#fa5)"/>
<circle cx="731.9" cy="266.9" r="1.9" fill="#0acd46" opacity="0.80" filter="url(#fa5)"/>
</g>
<g clip-path="url(#ca3)">
<rect x="835.4" y="41" width="251.8" height="254" fill="#000"/>
<path d="M843.5 44.2L888.7 42.6L885.4 53.9L875.7 58.8L864.4 57.1L854.8 49.1ZM932.2 70L951.6 57.1L972.6 50.7L977.4 65.2L983.9 70L980.6 89.4L985.5 112L1000 115.2L996.8 124.9L990.3 137.8L1000 150.7L980.6 157.2L961.3 166.9L958 178.2L951.6 186.2L958 197.5L948.4 189.5L938.7 179.8L916.1 179.8L912.9 166.9L908 162L916.1 150.7L912.9 131.4L903.2 121.7L909.6 105.5L919.3 91L930.6 86.2ZM845.1 152.3L866.1 150.7L867.7 160.4L859.6 173.3L861.2 192.7L867.7 202.4L877.4 215.3L887 231.4L891.9 244.3L903.2 250.8L919.3 258.8L935.4 257.2L948.4 249.2L954.8 242.7L951.6 254L964.5 258.8L972.6 266.9L967.7 276.6L967.7 295L890.3 295L880.6 279.8L888.7 266.9L887 254L880.6 242.7L874.1 231.4L867.7 215.3L856.4 205.6L845.1 215.3L835.4 221.7L835.4 186.2L843.5 179.8ZM1089.4 86.2L1064.5 87.8L1048.4 97.5L1043.6 108.8L1038.7 121.7L1046.8 131.4L1043.6 144.3L1046.8 163.6L1042 186.2L1050 202.4L1061.3 208.8L1061.3 218.5L1045.2 225L1021 225L1004.8 215.3L987.1 210.4L993.5 221.7L998.4 234.6L1006.5 250.8L1009.7 266.9L1006.5 283.1L1009.7 295L1089.4 295Z" fill="#00003b" fill-rule="evenodd" filter="url(#fa3)"/>
<g fill="none" stroke-linecap="round" filter="url(#fa1)">
<g filter="url(#fa5)"><g stroke="#000030" stroke-width="13.5"><path id="a3p0" d="M931.2 268.5h0M1088.1 293.6h0M930.6 162.2h0M912.6 276.2h0M921.8 124.7h0M914.9 104h0M1062.3 214.7h0M1053.4 241.2h0M1025.5 246.8h0M1077.1 195.5h0M913.7 156h0M945.9 122.5h0M1083 203h0M1044 231.3h0M1073.3 148.8h0M898 269.7h0M972.7 132.1h0M1057.7 226.1h0M1051.1 158.6h0M1067.7 239.5h0M1044.2 280.3h0M1083.1 169.7h0M898.9 289.1h0M941.6 64.2h0M1072.1 225.7h0M938.1 122.4h0M963.6 272.8h0M1079.6 117.7h0M1051.8 135.1h0M868.6 209.3h0M976.2 79.9h0M889.1 287.8h0M979.7 97.7h0M1067.2 198.8h0M1068.3 187.7h0M963.7 56.7h0M1022.2 278.9h0M1077.3 132.3h0M950.2 60.8h0M922.9 284.4h0M878.4 47.6h0M933.4 98.3h0M909 119.1h0M972.2 57h0M1042.3 267.3h0M1007.4 283.4h0M1005.6 223.7h0M1067.3 166.7h0M1032.8 284h0M880.2 221h0M966 260.4h0M944.6 159.6h0M992.5 131.1h0M878.2 238.3h0M860.8 195.1h0M959.2 166.9h0M853.6 184.2h0M1057.8 126.1h0M961.7 287h0M1045.2 146.2h0M1040.8 120.2h0M1056 202h0M946.1 181.9h0M914.2 265.2h0M1044.8 108.3h0M842.3 184.3h0M1070.1 96.2h0M1085.1 109h0M1051.6 264.6h0M928.1 148.8h0M893.6 280h0M918.7 294.3h0M897.1 249.3h0M1009.6 249h0M852.4 203h0M1088.9 120.6h0M1081.4 149.2h0M1065.7 127h0M923.6 138.3h0M978.8 71h0M933.2 293.6h0M1062.6 294h0M1088.9 256.6h0M946.1 270.6h0M1018.8 240.5h0M1058.6 162.2h0M981.6 156.6h0M1050.6 121.5h0M1010.9 240.1h0M1053.6 283.7h0M1079.5 91.9h0M904.7 280.1h0M952.7 248.5h0M928.7 277h0M1048.9 273.1h0M934.8 144.3h0M884.8 280.7h0M873.8 229.8h0M1087 210.4h0M916.1 167.6h0M930 121.2h0M1078.1 293.9h0M945.2 287.2h0M1037.2 273.9h0M1053.8 105h0M835.8 219.4h0M970.8 266.8h0M927.9 106.5h0M927.4 51.5h0M1027.4 122.5h0"/></g><g stroke="#000039" stroke-width="13.5"><path id="a3p1" d="M1083.8 156.7h0M1017.3 228.6h0M856.4 164.2h0M943.1 113.6h0M966.7 142.1h0M862.1 52.5h0M1036.6 234.4h0M1019.3 291.7h0M916.5 131h0M861 206.6h0M889.1 263h0M954.7 179.3h0M1088.9 218.5h0M953.8 74.7h0M1070.4 207.4h0M944.3 134.2h0M922.8 175.3h0M1059.1 154.2h0M1085.2 268.2h0M954.4 116.4h0M1068.5 257.5h0M951.3 294.4h0M1079.7 275.7h0M943.7 262.2h0M953.5 135h0M931.6 135.2h0M959 109.5h0M923.9 114.2h0M904.4 259.6h0M963.9 123.5h0M922.1 161.3h0M974.9 119.4h0M1063.3 103.7h0M1016.7 266.1h0M926.3 262.4h0M850.7 176.8h0M967.5 63.5h0M1086.4 100.3h0M955.8 144.8h0M1042.3 288.3h0M1049.1 98.4h0M921.3 91h0M840.7 195.6h0M966.5 114.3h0M942.5 148h0M1077.2 186.2h0M948.9 169.3h0M889.9 271.8h0M960.2 66.7h0M845.2 214.9h0M1086.8 88.5h0M1061.1 249.2h0M1059.8 93.1h0M908.4 111.2h0M1030.3 258.8h0M888 247.9h0M933.6 112.8h0M940.6 95h0M960.2 101.4h0M934.5 82.7h0M996 219.7h0M953.2 158.3h0M971 107.1h0M992.2 212.4h0M965.8 294h0M1032.8 250.6h0M992.6 144h0M1053.6 143.2h0M1086.7 130.5h0M1061.2 262.1h0M940.9 72.5h0M951.7 83.4h0M1088.8 196.1h0M1079.1 254.8h0M943.4 254.2h0M977.6 89.6h0M1062.4 173.5h0M1074.2 123.3h0M957.7 91.6h0M1011.1 291.2h0M964.7 133.1h0M961.6 76.1h0M1024.6 233.4h0M1088.6 177.1h0M872.8 217.7h0M860.7 171.3h0M932 178.8h0M1015.7 283.5h0M1044.2 239.2h0M915.6 139.9h0M1078.8 243.8h0M1013.4 221.5h0M988.8 116.4h0M929.3 170.1h0M998.6 228.6h0M1087.8 276.6h0M942.7 295h0M1045.2 128.7h0M967.3 280.4h0M846.7 265.3h0"/></g><g stroke="#000041" stroke-width="13.5"><path id="a3p2" d="M1060.2 269.8h0M909.2 163.2h0M849.9 153.8h0M844.8 205.9h0M1056.6 179.2h0M1008.6 258h0M1074.9 215h0M1055.8 112.9h0M985.3 123.7h0M1072.4 175.6h0M1071.5 157.9h0M929.3 90.1h0M909.6 288h0M970.8 154.1h0M863.6 154.6h0M1087.6 229.2h0M1086.4 185h0M961.9 84.9h0M1020.6 256.6h0M952 279.8h0M1001.6 236.5h0M850.1 193.4h0M1053.4 169.3h0M918.4 148.9h0M1039.3 256.9h0M948.4 93.7h0M1054.7 292.7h0M1047.2 178.1h0M1064.9 140.2h0M923.2 99.6h0M1060.2 190.2h0M969.5 89h0M1073.5 286.7h0M1062.2 281.5h0M961.1 151.6h0M1086.6 246.4h0M1033 226.9h0M1068.6 117h0M955.8 194.2h0M1009 231.8h0M1043.7 185.8h0M985.1 147.7h0M942.8 279.2h0M1077.9 103.2h0M944.5 102.3h0M938.5 172.7h0M1074.9 264.8h0M978.8 142.9h0M886.3 235.9h0M875.6 56.2h0M1010.4 273.7h0M1041.2 246.7h0M944.8 79.3h0M997 114.6h0M847.6 166.3h0M1081.8 283.8h0M1051.4 252.7h0M1028.2 269h0M1050.5 193.1h0M1075.2 235.9h0M851.4 45.4h0M980.8 111.5h0M1064.7 222.4h0M1084.8 139.9h0M934 284.3h0M956.4 259.6h0M1072.6 250h0M1035.1 293.8h0M1065.4 230.7h0M969.9 75.2h0M1074.4 111.3h0M920.8 274.5h0M895.8 258.9h0M970.2 99.3h0M1077.9 163.3h0M953.5 124.7h0M982.1 130.8h0M868.5 47.1h0M1069.5 275.8h0M836.5 209.5h0M914.1 256.6h0M992.8 152.9h0M996.2 123.4h0M965.7 160.3h0M1088.8 238.6h0M936.2 156.6h0M885.2 52.2h0M1067.3 88.4h0M1074.2 140.9h0M1080.8 222.8h0M1027.7 290.8h0M933.8 257.6h0M952.5 104.8h0M1032 242.1h0M1052.7 232.6h0M1025.3 225.4h0M985.9 138.8h0M1048.5 223.7h0M956.6 267.7h0M864.5 163.5h0M888 43.8h0M996.8 133h0"/></g></g>
<use href="#a3p0" stroke="#000056" stroke-width="9.4"/><use href="#a3p1" stroke="#000065" stroke-width="9.4"/><use href="#a3p2" stroke="#000074" stroke-width="9.4"/>
<use href="#a3p0" stroke="#000070" stroke-width="5.2"/><use href="#a3p1" stroke="#000083" stroke-width="5.2"/><use href="#a3p2" stroke="#000097" stroke-width="5.2"/>
</g>
<circle cx="956.4" cy="178.2" r="2.6" fill="#0acd46" opacity="1.00" filter="url(#fa5)"/>
<circle cx="1079.1" cy="174.1" r="4.5" fill="#0acd46" opacity="0.45" filter="url(#fa5)"/>
<circle cx="932.2" cy="108.8" r="4.8" fill="#0acd46" opacity="0.25" filter="url(#fa5)"/>
<circle cx="1056.5" cy="115.2" r="4" fill="#0acd46" opacity="0.20" filter="url(#fa5)"/>
</g>
<g clip-path="url(#ca4)">
<rect x="1090.2" y="41" width="253" height="254" fill="#000"/>
<path d="M1090.2 41L1180.9 41L1184.2 60.4L1174.4 79.9L1180.9 105.8L1171.2 125.2L1155 138.2L1145.3 147.9L1129.1 138.2L1109.6 135L1103.2 147.9L1109.6 170.6L1099.9 164.1L1090.2 151.2ZM1187.4 54L1219.8 47.5L1219.8 66.9L1239.3 73.4L1271.7 70.2L1291.1 83.1L1297.6 105.8L1291.1 125.2L1297.6 144.7L1291.1 160.9L1271.7 154.4L1245.7 151.2L1226.3 141.4L1223.1 122L1226.3 99.3L1213.3 79.9L1190.6 70.2ZM1297.6 105.8L1317 79.9L1344.2 66.9L1344.2 83.1L1323.5 92.8L1304.1 105.8ZM1145.3 147.9L1171.2 138.2L1197.1 144.7L1226.3 141.4L1245.7 151.2L1232.8 164.1L1219.8 177.1L1216.6 193.3L1197.1 196.5L1174.4 193.3L1168 177.1L1171.2 164.1L1155 154.4ZM1090.2 222.5L1103.2 212.7L1116.1 222.5L1155 216L1174.4 193.3L1197.1 196.5L1216.6 193.3L1219.8 209.5L1223.1 235.4L1245.7 228.9L1265.2 209.5L1271.7 183.6L1278.1 167.4L1297.6 160.9L1323.5 170.6L1330 193.3L1344.2 199.8L1344.2 295L1090.2 295L1090.2 267.8L1106.4 251.6L1096.7 235.4Z" fill="#000036" fill-rule="evenodd" filter="url(#fa3)"/>
<g fill="none" stroke-linecap="round" filter="url(#fa1)">
<g filter="url(#fa5)"><g stroke="#00002c" stroke-width="13.5"><path id="a4p0" d="M1172.9 205.5h0M1098.4 136.7h0M1272.6 201.7h0M1273.1 119h0M1308.8 268.8h0M1304 172.9h0M1323.8 90.4h0M1212.7 155.7h0M1239.9 248.8h0M1245.5 118.1h0M1147.4 103.4h0M1106.6 267.2h0M1232.8 141h0M1287.7 275.1h0M1133.9 82.1h0M1091.3 152h0M1201.5 149.3h0M1338.1 212.2h0M1335.3 198.5h0M1151.5 251.5h0M1301 231.2h0M1097.2 146.7h0M1340.3 69.3h0M1209.1 53.9h0M1319.4 247.8h0M1253 73h0M1097.3 42.8h0M1290.7 233.7h0M1095.6 266.5h0M1170.8 99.7h0M1209.6 235.7h0M1275.6 147.9h0M1188.5 57.9h0M1136.1 109h0M1117.8 60.8h0M1196.4 285.6h0M1233.7 110.4h0M1094.3 275.3h0M1225 292h0M1242.4 237.7h0M1260.4 285.5h0M1307.8 249.9h0M1176 159.5h0M1264.8 230.5h0M1188.8 238.3h0M1125.9 241.2h0M1227.8 74h0M1238.1 275.6h0M1153.6 92.9h0M1133.2 121.5h0M1161 75.2h0M1252.7 89.3h0M1337.6 241.8h0M1177.2 111.5h0M1109.1 71.3h0M1196 249h0M1121 255.5h0M1162.7 278.4h0M1278.8 287.8h0M1284.9 211.9h0M1164 129.6h0M1188.4 290.6h0M1175.8 184.3h0M1181.6 242.3h0M1168.1 241.8h0M1341.9 248.9h0M1154.7 222.8h0M1151.3 133.3h0M1305.7 285.1h0M1102.7 109.3h0M1141.4 281.7h0M1143.2 66.9h0M1104.9 254.2h0M1247.5 285.8h0M1234.4 118.6h0M1316.2 181.8h0M1124.3 114.8h0M1250.6 130.3h0M1205.6 62.9h0M1109.3 114.1h0M1184 223.5h0M1117.3 231.4h0M1214.9 201.7h0M1321.3 294.2h0M1289.7 110.1h0M1323.4 176.7h0M1176.9 267h0M1223.5 282.5h0M1291.8 222h0M1096.9 289.1h0M1316.5 195.7h0M1119.3 44.4h0M1142.9 243.2h0M1175.5 287.2h0M1184.7 175h0M1255.5 100h0M1210.3 146.3h0M1193.3 264.9h0M1304.5 103.7h0M1270 271.8h0M1281.2 137.8h0M1169.4 110.5h0M1143.2 269.6h0M1269.5 153.5h0M1291.4 98.6h0M1229.5 166.6h0M1312.6 278.2h0M1222 143.4h0M1343.6 235.8h0M1120 122.6h0M1147.3 231.6h0M1191.6 275.5h0M1091 51.9h0M1322.5 284.4h0M1249.7 241.6h0M1308.6 227.8h0M1270.7 132.5h0M1295.4 187.3h0M1216.8 50h0M1338 255.6h0M1200.3 176.7h0M1218.4 183.4h0M1156 54.2h0M1113.3 54.1h0M1185 161.5h0M1142 45h0M1131.3 91.2h0M1217.1 83.9h0M1320.3 277h0M1317.9 268.9h0M1180 152.7h0M1273.1 245h0M1169.4 271.3h0M1182.3 260.6h0M1283.7 229.5h0M1144.4 145.1h0M1266.3 99.7h0M1209 283.3h0M1260.9 221.6h0M1170.3 74.3h0M1206.1 261.8h0M1256.5 277.1h0M1131.2 48.8h0M1172.1 54.5h0M1171.1 166.6h0M1183.9 187.1h0M1107.8 226.8h0M1283.8 145.1h0M1241.8 82h0M1224.5 261.6h0M1173.2 63.4h0M1296 196h0M1090.7 108.5h0M1162.3 247.2h0M1232.5 294.2h0M1249.2 249.4h0M1120.4 222.9h0M1265.1 278.5h0M1301.2 263.9h0M1138.4 60.7h0M1090.9 282.3h0M1188.8 216.7h0"/></g><g stroke="#000033" stroke-width="13.5"><path id="a4p1" d="M1276.3 97.7h0M1173.2 223.2h0M1131 270h0M1309.8 189h0M1125.5 80.3h0M1304.8 218h0M1233.4 286.5h0M1142.5 81h0M1139.6 53.1h0M1122.5 130.8h0M1095.8 129h0M1264.1 213.2h0M1105.7 63.5h0M1124.9 279.1h0M1144.8 92.6h0M1235.9 76.6h0M1149.5 47.4h0M1244.8 102.1h0M1195.4 230.3h0M1200.4 269h0M1298.7 179.3h0M1216 277.6h0M1240.3 90.3h0M1099.6 86.3h0M1242.1 293h0M1215.6 59.5h0M1280.6 221.4h0M1334.6 220h0M1216 221.9h0M1128.9 59.7h0M1091.1 88.1h0M1123.1 268.8h0M1156.5 242h0M1105.3 50.4h0M1258 266.9h0M1231.7 258.2h0M1192.6 180.4h0M1244.2 149.6h0M1275.9 295h0M1213.9 176.5h0M1195.4 212.6h0M1307 236.5h0M1273.1 210.1h0M1191 195.6h0M1105.1 277.1h0M1323.4 237h0M1291 160.1h0M1196.9 220.7h0M1287.7 291.9h0M1164.8 262.7h0M1282.6 203.8h0M1279.5 128.3h0M1341.4 82.7h0M1211.9 68.6h0M1180.1 52h0M1149.5 120.8h0M1293.4 260.9h0M1178.6 69.1h0M1194 169.9h0M1110.6 132.4h0M1181.1 196.7h0M1219.8 69.9h0M1222.8 252.4h0M1286.9 176.3h0M1168.4 292.4h0M1211.8 78.1h0M1203 189.2h0M1172.4 234.5h0M1099.5 158.6h0M1193.7 150.1h0M1267.6 75.4h0M1091.3 65.4h0M1299.3 242.3h0M1223 239.2h0M1158 294.7h0M1295.7 283.6h0M1205.1 276.6h0M1232.4 236.5h0M1236.3 102.9h0M1262.5 87.9h0M1103.4 240.9h0M1179.9 141.1h0M1244 73.1h0M1122 53.6h0M1280.2 169.5h0M1209.9 253h0M1295 269.5h0M1304.2 199.4h0M1219.4 208.3h0M1222.8 91.1h0M1173.1 278.6h0M1157.9 67.8h0M1182.3 231.6h0M1199.9 237.8h0M1271.7 192.4h0M1301.2 274.6h0M1247.7 274.9h0M1324.2 77.9h0M1341.2 277.4h0M1241.8 266.8h0M1327.6 260.5h0M1286.6 81.3h0M1217.1 259.4h0M1139.7 99.8h0M1307.3 165.5h0M1256.6 294.2h0M1343.3 293.5h0M1216.5 193.4h0M1335.5 230.5h0M1132.9 220.2h0M1231.9 267.7h0M1197.8 60.3h0M1112.8 220.5h0M1240.8 127.2h0M1270.4 82.9h0M1182.2 278.4h0M1231.5 92.2h0M1327.7 273.3h0M1090.4 293.8h0M1265.2 254h0M1136.5 249.3h0M1149.3 278.1h0M1159.5 44.4h0M1177.8 170.9h0M1107.5 42.5h0M1128.7 137.4h0M1103.8 165.7h0M1138.4 226.3h0M1186.4 146.3h0M1221.1 171.8h0M1343.3 225.2h0M1107.9 85.6h0M1331.9 75.9h0M1133 279.2h0M1196.2 294.8h0M1256.4 237.2h0M1273.8 231.3h0M1137 141.1h0M1150.7 267.2h0M1102.6 76.8h0M1117.1 277.9h0M1311.5 175.4h0M1159.3 109.1h0M1209.2 209.8h0M1302 209h0M1242.9 109.8h0M1168.7 41.7h0M1223.9 126.4h0M1206.6 171.6h0M1090.9 141.2h0M1261.2 151.4h0M1327.1 243.8h0M1317 81.2h0M1243.2 230h0M1288 282.9h0M1203.4 156.8h0M1312.4 242.7h0M1277.7 110.8h0M1141.8 209.6h0M1099.9 208.8h0M1096.7 247.6h0M1293.5 50.7h0"/></g><g stroke="#00003b" stroke-width="13.5"><path id="a4p2" d="M1334.9 263.9h0M1193.5 159.3h0M1226 105.7h0M1294.3 252.6h0M1153 146h0M1259.8 246.8h0M1127.8 41.5h0M1251.8 256.7h0M1173.3 84.9h0M1110.2 93.5h0M1143.9 137.1h0M1287.1 197.2h0M1159.1 270.8h0M1232.3 149.2h0M1293.2 118.3h0M1118.8 245.3h0M1171.2 119.7h0M1100.3 120.7h0M1289.5 139.4h0M1179.5 101.1h0M1284 155.1h0M1161.2 85h0M1135.9 288h0M1146.1 219.5h0M1279.4 252.2h0M1322.2 188h0M1098.4 60.9h0M1124.4 71h0M1265.5 263.8h0M1311.5 292.4h0M1229.5 132h0M1243.1 136.9h0M1151.1 62.3h0M1177.7 253.2h0M1298.4 165.4h0M1293.2 203.3h0M1313.5 219.3h0M1254.6 229.6h0M1142 115.8h0M1163.9 51.2h0M1185.9 208.8h0M1226.3 118.7h0M1255.5 145.1h0M1279.3 77.7h0M1159.2 118.8h0M1113.9 285.1h0M1279.5 275.3h0M1202.9 164.7h0M1138.2 258.2h0M1282.7 91.2h0M1333.6 279.7h0M1284.4 246.3h0M1270.3 106.5h0M1170.3 175.6h0M1114.7 269.1h0M1204.5 197.1h0M1162.4 101.2h0M1312.9 204.4h0M1229.8 246.7h0M1319.7 214.2h0M1257.1 122.2h0M1126.3 104.7h0M1109.4 234.7h0M1283.7 261.9h0M1147.8 259h0M1149.6 71.5h0M1228.1 84.8h0M1291.3 152.2h0M1151.5 287.1h0M1210.6 183.9h0M1333.6 86.2h0M1115.6 101.3h0M1322 224.1h0M1095 102h0M1253.9 107.7h0M1330.7 290.3h0M1305.7 257.7h0M1137.7 74h0M1108.2 124.8h0M1209.2 293h0M1265.2 144.8h0M1165.2 93.8h0M1284.4 184.4h0M1317.1 230.2h0M1309.8 96.4h0M1160.7 142.6h0M1314.6 88.7h0M1325 195.4h0M1158.8 155.4h0M1190.9 257.3h0M1331.8 250.6h0M1279.4 237.1h0M1287.9 131.5h0M1128.7 250.6h0M1329.7 210h0M1113 77.9h0M1209 218.3h0M1127.1 228.5h0M1119.9 293.9h0M1243.4 257.9h0M1291.7 88.5h0M1134.2 232.9h0M1176.3 45h0M1206.7 227.7h0M1278.6 178.2h0M1283.5 101.7h0M1235.1 160h0M1176.3 92.8h0M1119.6 88h0M1174.4 214.4h0M1265.1 239.3h0M1215 244.8h0M1223.6 269.8h0M1166.5 227.8h0M1156.9 262.5h0M1094.8 74.8h0M1160.2 255.5h0M1165.6 60.9h0M1216 267.8h0M1094.2 115.9h0M1282.3 117.1h0M1259 135h0M1343.7 206h0M1103.5 218.7h0M1223.5 154.5h0M1294.4 211.7h0M1172.6 144.2h0M1319.4 258.9h0M1105.8 142.1h0M1137.1 132.2h0M1113.1 256.4h0M1167.1 210.7h0M1206.9 243h0M1251.2 81.2h0M1216.3 163.8h0M1268.2 294.7h0M1261.1 115.4h0M1202 254.5h0M1274.2 259.7h0M1169.3 153.4h0M1217.3 233.2h0M1199.8 69.8h0M1130.4 259.5h0M1271.2 283.5h0M1294.1 172.5h0M1266 125.3h0M1106.2 289.7h0M1095 221.4h0M1318 169.4h0M1280.4 191.6h0M1201.7 205.6h0M1101.2 233.4h0M1161.2 216.1h0M1321.2 205.2h0M1142.8 292.6h0M1195 52.5h0M1128.9 294.1h0M1270.1 219.6h0M1276.9 267h0M1104.3 152h0M1169.9 254.8h0M1150.3 83.6h0M1144.3 127.7h0M1107 102.2h0M1100.9 95.2h0M1297.8 293.1h0M1149.1 111.6h0M1341.2 285.4h0M1094.1 229.1h0M1343.2 268h0M1157.3 232.2h0M1217.1 291.4h0M1190.9 66.5h0M1109.9 246.9h0M1186.1 269.3h0M1192.9 204.7h0M1178.2 294.9h0M1250 265.4h0M1297.5 144.5h0M1162.6 286.8h0M1194.2 188.2h0M1258.7 79.1h0M1187.2 248.1h0M1273.2 183.9h0M1296.3 105.3h0M1229.4 276.5h0M1269.8 92.4h0M1156 126.1h0M1117.4 110.6h0M1133.7 241.1h0M1133 66.5h0M1123.5 96.9h0M1262.1 106.4h0M1109.6 171.7h0"/></g></g>
<use href="#a4p0" stroke="#00004d" stroke-width="9.4"/><use href="#a4p1" stroke="#00005b" stroke-width="9.4"/><use href="#a4p2" stroke="#000068" stroke-width="9.4"/>
<use href="#a4p0" stroke="#000065" stroke-width="5.2"/><use href="#a4p1" stroke="#000076" stroke-width="5.2"/><use href="#a4p2" stroke="#000088" stroke-width="5.2"/>
</g>
<circle cx="1318.5" cy="258.8" r="4.8" fill="#0acd46" opacity="0.95" filter="url(#fa5)"/>
<circle cx="1124.1" cy="119.3" r="2.9" fill="#0acd46" opacity="0.30" filter="url(#fa5)"/>
</g>
<g clip-path="url(#ca5)">
<rect x="1346.2" y="41" width="253.8" height="254" fill="#000"/>
<path d="M1346.2 41L1600.2 41L1600.2 295L1346.2 295ZM1443 41L1491.4 41L1488.2 60.4L1483.4 78.1L1468.8 83L1455.9 73.3L1446.2 60.4ZM1462.4 131.4L1491.4 124.9L1501.1 141L1510.8 154L1515.6 166.9L1507.6 178.2L1488.2 181.4L1475.3 186.2L1462.4 173.3L1457.5 154ZM1346.2 202.4L1355.9 192.7L1378.5 202.4L1394.6 195.9L1410.7 191.1L1426.9 199.1L1433.3 218.5L1439.8 242.7L1446.2 258.8L1462.4 270.1L1465.6 283.1L1462.4 295L1386.5 295L1378.5 266.9L1362.3 258.8L1346.2 260.5ZM1568.9 154L1585 160.4L1600.2 131.4L1600.2 192.7L1585 189.5L1568.9 183L1565.7 170.1ZM1507.6 279.8L1531.8 270.1L1547.9 263.7L1560.8 276.6L1557.6 295L1515.6 295ZM1346.2 41L1386.5 41L1365.6 53.9L1346.2 62Z" fill="#000032" fill-rule="evenodd" filter="url(#fa3)"/>
<g fill="none" stroke-linecap="round" filter="url(#fa1)">
<g filter="url(#fa5)"><g stroke="#000026" stroke-width="13.5"><path id="a5p0" d="M1430.5 81.3h0M1462.9 266.3h0M1598.9 196.9h0M1479.7 103.7h0M1505.3 69h0M1571 290.9h0M1505.7 252.1h0M1377 67.5h0M1468.2 241h0M1494.2 42.7h0M1530.7 155.4h0M1507.9 130.8h0M1540.3 188.1h0M1558.4 153.2h0M1460.5 228.9h0M1517.9 162.3h0M1416.6 158.7h0M1397.9 160.8h0M1559.9 42.8h0M1436.1 191.6h0M1441.2 72.4h0M1392.1 123.6h0M1489.5 236.2h0M1428.6 176.8h0M1499.9 230.6h0M1417.5 87.7h0M1418.3 173.3h0M1555.2 96.2h0M1378.3 113.7h0M1491.3 197.1h0M1386.4 98.5h0M1596.4 56h0M1562.6 146h0M1403.1 141.3h0M1529.6 107.4h0M1535.9 178.1h0M1490.4 105.7h0M1392.9 106.4h0M1465.2 188.2h0M1534.8 115.2h0M1449.8 219.3h0M1446.2 128.7h0M1364 74.8h0M1460.6 199.7h0M1375 182.6h0M1596.6 134.2h0M1540.2 57.3h0M1580 89.4h0M1500 207.5h0M1404.5 190.9h0M1486.3 91.6h0M1518 227.6h0M1354.5 164.8h0M1542.3 137.8h0M1415.3 96.3h0M1350.3 191.2h0M1588.2 239.4h0M1347 170.9h0M1375.7 199h0M1418.6 183.2h0M1526.6 265.7h0M1385.3 144.9h0M1356.5 281.1h0M1496.3 97.9h0M1456.1 176h0M1518.7 66.9h0M1445.1 108.1h0M1541.6 242.2h0M1407.7 116.8h0M1511.5 85.3h0M1347.1 275.3h0M1554.8 182.8h0M1363.9 292.3h0M1436.1 179.5h0M1545.6 103.8h0M1500.1 88.3h0M1525 193.9h0M1587.4 116.1h0M1536.6 91.9h0M1401.9 64.1h0M1460.7 209.1h0M1564.9 242h0M1572.8 45.9h0M1398.7 75h0M1572.9 237.6h0M1548.4 147h0M1553.5 171h0M1513.9 273.6h0M1400.9 45.6h0M1545.9 177.6h0M1385 132h0M1455.9 76.9h0M1558.1 66h0M1357.8 118h0M1505.1 114.4h0M1599.6 281.6h0M1450.6 228.3h0M1500.7 122.9h0M1577.1 78.4h0M1526.4 83.4h0M1538.3 260.3h0M1581.2 289.6h0M1398.9 114.7h0M1525.3 43.4h0M1550.3 266h0M1510.3 286.6h0M1351.6 104.5h0M1355 145.1h0M1415.9 123.3h0M1367.9 86h0M1560.5 269.4h0M1523 153h0M1366.9 144.2h0M1546 215.3h0M1418 41.2h0M1532.5 197.2h0M1464.3 178.2h0M1456 127.5h0M1540.3 166.6h0M1597.5 264.4h0M1429.2 49.7h0M1565.9 185.4h0M1369.2 154.6h0M1534.3 52.2h0M1377.9 171.2h0M1381.3 123.9h0M1409.8 136.6h0M1577.7 147.7h0M1539.4 224.2h0M1501.6 265.8h0M1583.2 232h0M1402 83h0M1425.2 164.2h0M1365.5 279.2h0M1508 187.5h0M1584.3 253.3h0M1578.1 189.2h0M1363.1 195.7h0M1572.7 262.9h0M1505.1 55.1h0M1536.2 146.8h0M1527.3 92.1h0M1560.7 251h0M1560.1 289.8h0M1590.5 260.5h0M1467 290h0M1497.7 250.4h0M1470.5 264h0M1492.2 206.4h0M1419.3 75.5h0M1501.1 195.2h0M1596.3 83.9h0M1499 106.2h0M1567.2 284.1h0M1514.4 113h0M1360.8 89.7h0M1418.6 191.2h0M1496.7 51.2h0M1452.4 85.8h0M1383.9 179.9h0M1563.1 112.5h0M1411.7 57.2h0M1346.3 291.7h0M1419.9 66.5h0M1449.2 249.1h0M1579.5 212.5h0M1444.3 64.7h0M1366.5 53.7h0M1453 202.6h0M1469 87.2h0M1409 41.6h0M1598.8 272h0M1463 249.1h0M1367.7 270.2h0M1346.3 73.2h0M1600.2 49.1h0M1537.8 159.3h0M1548.1 237.6h0"/></g><g stroke="#00002d" stroke-width="13.5"><path id="a5p1" d="M1455.1 138.7h0M1591.6 249.7h0M1556.4 236.4h0M1445.4 176.3h0M1477.1 191.2h0M1393.5 53.8h0M1513.6 58.3h0M1596 108.1h0M1407.5 50.3h0M1571.4 99.7h0M1560.2 177h0M1563.1 259.9h0M1520.1 119.8h0M1555.6 117h0M1351.9 93.3h0M1570.8 215.1h0M1530.3 62.7h0M1364 136.9h0M1533 219.2h0M1370.4 174.3h0M1515 217.3h0M1397.9 131.5h0M1354.8 294.2h0M1347.6 160.8h0M1557.1 130.7h0M1391.1 139.3h0M1371.6 190.9h0M1502.8 290.8h0M1386.7 156.5h0M1569.5 248.7h0M1591 277.2h0M1483.7 201.2h0M1599.7 92h0M1459.9 169h0M1407 73.8h0M1498.5 59.3h0M1514.4 251h0M1528 139.9h0M1454.1 256.2h0M1565.8 275.8h0M1545.5 67.4h0M1449.9 157.6h0M1493.1 114.7h0M1510.4 105.2h0M1477.2 268.7h0M1473.6 282.5h0M1394.4 148.3h0M1432.2 168.1h0M1385.9 109.7h0M1585.2 131.7h0M1583.2 203.9h0M1352.8 183.8h0M1456.7 244h0M1587.9 72.7h0M1439.3 124.7h0M1446.7 142.2h0M1583.1 158.7h0M1354 262.6h0M1523 59.3h0M1531.9 77.6h0M1387.7 76.3h0M1371.9 100h0M1355.4 73.3h0M1547 160.7h0M1575.1 140h0M1568.5 71.4h0M1392.8 44.1h0M1524.9 255.4h0M1472.1 128.2h0M1351.3 66.6h0M1572.3 203.7h0M1487.1 246.7h0M1566.2 228h0M1550.8 57.4h0M1551.3 45.7h0M1488.6 82h0M1375.7 76.7h0M1532.5 170h0M1443.6 56.4h0M1550.4 225.5h0M1547.3 111.3h0M1441.3 205h0M1463.9 127.2h0M1569.4 150h0M1363.6 263.6h0M1560 105h0M1477.3 207.6h0M1477.3 112.3h0M1521.2 105.9h0M1493.7 65.5h0M1525.9 247h0M1443.4 162h0M1544.2 230.9h0M1534.4 128.2h0M1513.4 176.8h0M1530.8 188h0M1513.7 194.1h0M1477.8 218.3h0M1361 158.6h0M1460 117.6h0M1480.6 125.9h0M1550.7 84.8h0M1481.4 283h0M1504 96.7h0M1428.3 190.7h0M1532.4 251.5h0M1466.4 109.2h0M1449.6 209.6h0M1470.7 117h0M1388.4 88.5h0M1352.8 153.3h0M1526 223.1h0M1552.6 244.5h0M1496.5 242.4h0M1535.2 237h0M1393.3 167.9h0M1355 58.8h0M1384.2 63h0M1457.4 149.8h0M1504.3 276.5h0M1591.3 143.3h0M1593.9 43.3h0M1561 211.1h0M1495.3 74.1h0M1363.7 184.7h0M1346.3 283.4h0M1542 152.7h0M1428 89.1h0M1583.3 281.3h0M1347.6 81h0M1492.3 225.7h0M1540.6 121.3h0M1434.2 41.8h0M1589.5 59.6h0M1425 137.4h0M1550.4 194.2h0M1548.4 125.3h0M1356.5 271.9h0M1572 271.2h0M1541.3 46.3h0M1500.5 222.1h0M1408.5 163.2h0M1525.6 175.4h0M1597.5 70.4h0M1585.2 149.8h0M1563.9 79.9h0M1481 240.1h0M1531.9 98.3h0M1580.6 269.3h0M1527 124.8h0M1463.8 99.9h0M1393.8 62.9h0M1568.2 61.8h0M1565.5 135.9h0M1485.9 69.1h0M1589.7 211.7h0M1551.3 139.3h0M1433.2 66.7h0M1346.3 201.4h0M1423.6 197.1h0M1483.9 274.4h0M1454.9 235.3h0M1600 243.9h0M1538.6 108.3h0M1486.3 255.5h0M1458.9 159.8h0M1495.1 180.6h0M1558.1 228.4h0M1521 76h0M1441.8 235h0M1407.6 99.3h0M1595.8 236.8h0M1370.1 118.1h0M1589.4 93.7h0M1450.3 102.3h0M1386.4 117.6h0M1483.6 117.3h0M1361.4 150.6h0M1588.2 124.3h0M1433.8 115.4h0M1512.9 41.3h0M1346.3 261.7h0M1526.4 114.9h0M1535.1 268.4h0M1426.4 42.1h0M1537.6 66.7h0"/></g><g stroke="#000034" stroke-width="13.5"><path id="a5p2" d="M1570.6 129.1h0M1581.5 97.6h0M1595.8 228.9h0M1474.3 235.2h0M1584.3 219.3h0M1376.2 147.1h0M1419.1 106.8h0M1568 121.5h0M1494.7 258.7h0M1375.2 132.9h0M1469.8 215.4h0M1537.7 210h0M1434.3 132.4h0M1404 107h0M1366.3 111.2h0M1544.7 251.9h0M1580.6 48.1h0M1520.8 184.1h0M1460.2 84.5h0M1490.7 57.2h0M1588.6 268.7h0M1499.3 187.4h0M1596.3 206h0M1427.4 121.7h0M1410.3 150.9h0M1393 179.7h0M1384.6 50.7h0M1375.5 273h0M1458.4 93.6h0M1466.9 256.3h0M1444.8 81.9h0M1558.3 197.7h0M1525.6 239.3h0M1346.2 141.8h0M1438.8 219.9h0M1542.4 198.3h0M1549.9 257.8h0M1515.2 145.7h0M1449.5 169.6h0M1412.5 79.8h0M1386 171.3h0M1372.3 290h0M1588.9 81.8h0M1446.8 241.7h0M1588.8 293.3h0M1489.5 217.6h0M1387.8 188.1h0M1440.1 89.2h0M1506.3 202.5h0M1366.3 165.9h0M1374.1 52h0M1381 192h0M1517.2 208.1h0M1543.1 75.3h0M1543 86.2h0M1457.7 104.8h0M1561.3 163.1h0M1358.9 99.4h0M1450.3 93.8h0M1441.5 115h0M1559.3 189.8h0M1490.7 286h0M1403.7 171.3h0M1494 274.9h0M1591 101.2h0M1489 123.2h0M1504.9 43.4h0M1419.2 53.9h0M1579.7 107h0M1425.6 61.3h0M1423.3 147.8h0M1437.8 212h0M1451.2 69.9h0M1442.7 48.7h0M1469 201.9h0M1471.8 94.8h0M1402.8 91h0M1571.6 84.3h0M1526.8 208h0M1435.3 57h0M1558 74.5h0M1412.1 66.5h0M1408.3 180.5h0M1454.3 188.4h0M1416.5 131.5h0M1524.6 51.5h0M1368.6 125.9h0M1376.9 161.6h0M1357.1 132.9h0M1594.5 219.6h0M1516.2 48.7h0M1358.2 109.3h0M1553.9 217.8h0M1577.1 256.1h0M1550.4 205h0M1497.2 214.7h0M1480.6 261h0M1483.6 226.8h0M1597.4 256.2h0M1568.1 193.6h0M1467.5 225h0M1512.6 75h0M1348.7 129.5h0M1377.7 85.3h0M1560.9 58.4h0M1517.4 129.4h0M1451.9 116.6h0M1516.4 239.5h0M1585.4 193.4h0M1438.2 97.6h0M1517.1 93.1h0M1358 174.3h0M1564.8 89.6h0M1434.9 145.6h0M1588.2 50.4h0M1493 295h0M1426.4 111.3h0M1431 103h0M1382.1 290.9h0M1357.2 82.7h0M1579.6 125h0M1403.2 154.2h0M1462.5 218.4h0M1506.8 139.8h0M1509.1 231.9h0M1579 70.8h0M1478.3 294.2h0M1574.7 225.8h0M1574.9 280h0M1365.2 61.3h0M1431.6 205.3h0M1578.2 246.3h0M1499.4 282.9h0M1395.8 97.9h0M1498.5 133.3h0M1506 212.9h0M1516.3 263.9h0M1583 140.5h0M1571.9 111.9h0M1512.2 121.6h0M1390.8 197.2h0M1438.1 154.1h0M1466.2 273.7h0M1448.5 196.1h0M1427.1 155.4h0M1375.6 283h0M1597.3 291.4h0M1405.9 129.6h0M1415.6 142.3h0M1477.4 84h0M1514 294h0M1412 109.8h0M1597.6 125h0M1518.5 170.4h0M1504.1 180.3h0M1443.1 188.2h0M1512.8 154.5h0M1475.3 248.6h0M1427.8 72.2h0M1436.9 227.6h0M1562.9 50.3h0M1562.2 219.2h0M1574.2 56.9h0M1485.2 185.2h0M1528.5 70.6h0M1379.2 104.3h0M1544.7 95.1h0M1445.2 256.1h0M1510.2 223.6h0M1582.6 56h0M1373.6 265.1h0M1579.6 114.9h0M1529.5 230.8h0M1349.3 121.2h0M1507.6 240h0M1502.1 80.7h0M1533.3 42.7h0M1520.1 138.3h0M1599.6 116.7h0M1567.1 157.6h0M1424 98.9h0M1508.8 262.2h0M1471.6 183.1h0M1521.7 272.6h0M1394 82.2h0M1526.4 164.1h0M1487.2 266.7h0M1575.8 155.2h0M1349.9 112.9h0M1519.5 199.4h0M1419.8 115.4h0M1395.8 188h0M1591.2 285.4h0M1599.9 101.2h0M1454.8 264h0M1402.3 56.3h0M1360.7 125.3h0M1376.2 93.3h0M1465.3 281.4h0"/></g></g>
<use href="#a5p0" stroke="#000044" stroke-width="9.4"/><use href="#a5p1" stroke="#000050" stroke-width="9.4"/><use href="#a5p2" stroke="#00005c" stroke-width="9.4"/>
<use href="#a5p0" stroke="#000059" stroke-width="5.2"/><use href="#a5p1" stroke="#000068" stroke-width="5.2"/><use href="#a5p2" stroke="#000078" stroke-width="5.2"/>
</g>
<circle cx="1567.3" cy="273.4" r="3.9" fill="#0acd46" opacity="0.95" filter="url(#fa5)"/>
<circle cx="1530.2" cy="143.5" r="3.6" fill="#0acd46" opacity="0.55" filter="url(#fa5)"/>
<circle cx="1393.8" cy="108.8" r="3.6" fill="#0acd46" opacity="0.35" filter="url(#fa5)"/>
<circle cx="1494.7" cy="267.7" r="3.2" fill="#0acd46" opacity="0.30" filter="url(#fa5)"/>
<circle cx="1362.3" cy="146.7" r="1.9" fill="#0acd46" opacity="0.30" filter="url(#fa5)"/>
</g>
<text text-anchor="end" fill="#fff" font-size="24.8" x="308" y="67.9">Serum</text>
<text text-anchor="end" fill="#fff" font-size="24.8" x="567.5" y="65.3">0 µM</text>
<text text-anchor="end" fill="#fff" font-size="24.8" x="825.5" y="65.3">0.25 µM</text>
<text text-anchor="end" fill="#fff" font-size="24.8" x="1080.5" y="64.6">0.5 µM</text>
<text text-anchor="end" fill="#fff" font-size="24.8" x="1336" y="64.6">0.75 µM</text>
<text text-anchor="end" fill="#fff" font-size="24.8" x="1588.5" y="68">1 µM</text>
<rect x="274.5" y="278" width="38.5" height="4.8" fill="#fff"/></g>
<g id="panelB"><text font-size="36" x="0.5" y="430.5">B</text><path d="M293.2 435.7V754.8M278.4 754.8H818.2" fill="none" stroke="#333" stroke-width="1.4"/>
<path d="M278.4 648.7H293.2M278.4 542.5H293.2M278.4 436.4H293.2M311.5 754.8V769.3M340.2 754.8V769.3M368.9 754.8V769.3M397.6 754.8V769.3M426.3 754.8V769.3M455 754.8V769.3M483.7 754.8V769.3M512.4 754.8V769.3M541.1 754.8V769.3M569.8 754.8V769.3M598.5 754.8V769.3M627.2 754.8V769.3M655.9 754.8V769.3M684.6 754.8V769.3M713.3 754.8V769.3M742 754.8V769.3M770.7 754.8V769.3M799.4 754.8V769.3" fill="none" stroke="#333" stroke-width="1.4"/>
<text text-anchor="end" x="274.2" y="763.8">0</text>
<text text-anchor="end" x="278.3" y="657.7">5000</text>
<text text-anchor="end" x="278.3" y="551.5">10000</text>
<text text-anchor="end" x="278.3" y="445.4">15000</text>
<text text-anchor="middle" font-size="25.7" transform="translate(191 584.5) rotate(-90)">H3Cit Intensity (arb. units)</text>
<text text-anchor="end" transform="translate(318.5 779.5) rotate(-45)">serum</text>
<text text-anchor="end" transform="translate(339.6 788) rotate(-45)">0</text>
<text text-anchor="end" transform="translate(372.6 785.3) rotate(-45)">0.1</text>
<text text-anchor="end" transform="translate(401.3 785.3) rotate(-45)">0.2</text>
<text text-anchor="end" transform="translate(430 785.3) rotate(-45)">0.3</text>
<text text-anchor="end" transform="translate(458.7 785.3) rotate(-45)">0.4</text>
<text text-anchor="end" transform="translate(487.4 785.3) rotate(-45)">0.5</text>
<text text-anchor="end" transform="translate(516.1 785.3) rotate(-45)">0.6</text>
<text text-anchor="end" transform="translate(544.8 785.3) rotate(-45)">0.8</text>
<text text-anchor="end" transform="translate(569.2 788) rotate(-45)">1</text>
<text text-anchor="end" transform="translate(602.2 785.3) rotate(-45)">0.1</text>
<text text-anchor="end" transform="translate(630.9 785.3) rotate(-45)">0.2</text>
<text text-anchor="end" transform="translate(659.6 785.3) rotate(-45)">0.3</text>
<text text-anchor="end" transform="translate(688.3 785.3) rotate(-45)">0.4</text>
<text text-anchor="end" transform="translate(717 785.3) rotate(-45)">0.5</text>
<text text-anchor="end" transform="translate(745.7 785.3) rotate(-45)">0.6</text>
<text text-anchor="end" transform="translate(774.4 785.3) rotate(-45)">0.8</text>
<text text-anchor="end" transform="translate(798.8 788) rotate(-45)">1</text>
<line x1="330.6" y1="820.6" x2="561.2" y2="820.6" stroke="#333" stroke-width="1.2"/>
<line x1="568.3" y1="820.6" x2="799" y2="820.6" stroke="#333" stroke-width="1.2"/>
<line x1="314.2" y1="864.8" x2="811" y2="864.8" stroke="#333" stroke-width="1.2"/>
<text text-anchor="middle" x="443.3" y="846.7">PADI4_3</text>
<text text-anchor="middle" x="683.3" y="846.7">PADI4_3i</text>
<text text-anchor="middle" x="561.5" y="895.5">KSR/2i + [peptide] (µM)</text>
<marker id="mm" markerWidth="8" markerHeight="8" refX="4" refY="4" markerUnits="userSpaceOnUse"><circle cx="4" cy="4" r="2.9" fill="#a22c9c" stroke="#2a0a26" stroke-width="0.9"/></marker>
<marker id="my" markerWidth="8" markerHeight="8" refX="4" refY="4" markerUnits="userSpaceOnUse"><circle cx="4" cy="4" r="2.9" fill="#eadf6e" stroke="#3a3612" stroke-width="0.9"/></marker>
<marker id="mb" markerWidth="8" markerHeight="8" refX="4" refY="4" markerUnits="userSpaceOnUse"><circle cx="4" cy="4" r="2.9" fill="#27477c" stroke="#080d18" stroke-width="0.9"/></marker>
<marker id="mg" markerWidth="8" markerHeight="8" refX="4" refY="4" markerUnits="userSpaceOnUse"><circle cx="4" cy="4" r="2.9" fill="#12894a" stroke="#04200f" stroke-width="0.9"/></marker>
<polyline fill="none" marker-start="url(#mm)" marker-mid="url(#mm)" marker-end="url(#mm)" points="311.6,586.6 311.6,699.6 311.1,685.8 311.9,574.9 311.5,612.2 311.5,718.5 312,664 311.7,739.2 311.3,670.6 317.2,744.8 311.3,651 311.7,732.6 311.5,521.5 311.9,735.9 311.6,655.5 311.9,744.3 311.5,519.4 311.9,701.3 314.1,749 311.5,603.9 311.7,548.2 311.6,615.4 311.1,634 311.9,648.1 311.5,540.2 312.5,747.7 311.4,585.5 311.6,636.8 311.9,688 313.7,749.2 311.5,525.7 311.3,609 309.1,743 311.5,715 311.4,676.4 311.5,584.2 311.6,647.9 311.4,722.1 311.6,567.2 313.9,740.9 311.3,714 311.8,601.8 311.5,739.3 311.3,701.1 311.1,714.9 311.9,696.9 311.7,680.5 311.6,521.7 311.2,655.6 311.4,690.6 317.8,744.7 311.3,606.1 311.7,739.6 308.9,746.1 311.2,724.8 311.7,587.8 311.9,655.7 311.3,726.8 311.1,613.2 311.5,678.2 311.5,528.4 311.7,627.8 311.4,695.5 311.8,652.7 311.8,721.5 311.8,713.6 311.7,585.9 311.6,721.7 308,748.6 311.3,729 311.4,670.8 311.6,607.3 311.7,579.7 311.2,720.7 311.6,546.9 311.4,685.4 311.5,610.9 311.2,662.4 311.8,665.5 311.3,660.5 311.7,733 311.5,529 311.9,703 311.4,543.1 313.7,746.6 311.8,616.8 311.4,595.7 311.9,597 311.5,520.5 311.5,715.4 311.5,700 311.1,644.2 311.6,604.8 311.7,576.7 311.5,636.8 311.3,710.7 311.3,647.1 311.8,551.1 311.4,705.5 311.8,598.2 311.5,529.9 312.4,743.8 310.6,744.4 311.6,568.9 311.3,619.7 311.5,709.6 311.9,677.7 311.2,575.3 311.3,660.8 311.6,582.8 314.8,746.4 311.3,581.1 311.3,624.4 306,744.7 311.5,523.7 311.2,571.6 311.6,543.9 311.9,669.2 311.9,727.2 311.5,630 311.3,623.6 311.4,716.5 311.9,595.5 311.8,647.2 311.6,647.5 311.8,622.4 311.3,634.4 311.7,652.3 311.2,569.5 311.5,579.2 311.5,521 311.7,555.9 311.5,532 311.3,644.2 311.1,608.5 311.5,677.6 311.5,508.6 311.5,669.5 311.2,729 311.4,680.4 311.9,590.4 311.5,729.3 311.4,652.9 311.3,570.1 311.1,710.1 311.1,678.8 311.8,703.3 311.2,631.8 311.7,581.5 311.4,711.5 311.2,706 310.9,745.2 311.3,708.9 311.1,689.5 311.5,519.7 311.2,694.9 311.5,557.8 308.7,743.4 311.5,731.3 311.3,649.9 311.8,674.3 311.6,527.4 311.1,691.5 311.3,554.5 311.2,749 311.9,674.2 311.1,586.2 311.9,618.8 311.4,575.8 311.3,665.9 311.3,685 311.6,536.7 312,570.3 311.7,610.7 311.1,608.3 311.6,727.1 311.3,735 311.7,599.4 311.6,651.3 311.2,692.7 311.7,555.7 312.6,747.2 311.6,749.1 311.4,684 311.4,705.9 311.8,630 311.5,542.9 311.6,571 311.5,528.1 311.5,712.2 311.7,694.3 311.4,649.1 311.6,544.9 312.7,744.3 311.5,568.6 311.8,628.8 310.7,741.5 311.7,628.2 311.4,714.2 311.5,704.5 311.5,610.8 311.3,696 311.5,553.3 311.8,567.6 311.3,672.4 311.7,667.6 311.6,625.2 310.7,749.2 311.5,535 311.6,540.3 311.2,679.7 311.7,733 311.5,632 311.5,558.7 311.8,737.4 306.6,742.2 311.1,677.3 311.4,554 311.6,604.5 311.3,620.9 311.3,731.1 311.8,712.7 311.9,702.4 311.7,649.7 311.2,626.7 310.2,745.2 311.5,558.4 311.5,651.6 311.5,656.3 311.7,624.9 311.4,558.8 311.2,730.4 311.7,646.1 311.4,541.3 311.8,651.1 311.8,715.3 311.4,674.4 311.3,595.7 311.1,577 311.2,710.5 311.1,621.3 311.6,652.1 311.1,612.7 306.3,749 311.8,663.5 311.8,637.2 311.5,521.9 311.3,686.3 311.4,534 306.6,748.2 311.4,736.8 311.3,729.3 311.4,674.1 311.5,527.1 311.5,528.4 312,590.7 311.3,739.1 312.1,692.4 311.8,677.1 311.5,642.3 311.4,671.3 311.1,699.4 311.2,703.2 311.5,571.4 311.5,689.4 311.3,594.4 311.4,724.1 311.8,613.8 311.8,665.8 311.1,615 311.5,517.5 311.3,614.1 311.4,541.7 308.8,743.1 311.8,722 311.2,623.6 311.7,570.7 311.1,716.9 311,691.5 311.3,690.3 311.8,556.2 311.3,626.2 311.3,557.6 311.4,668.6 311.1,700 311.3,573.9 311.6,559.6 311.7,572 311.7,734.3 311.5,660.2 311.3,549.2 311.9,584.4 311.4,673.5 311.2,593.9 311.2,646.9 311.5,546.4 311.6,725 311.5,526.9 311.8,707.3 311.3,636.1 311.7,642.1 311.3,705.3 311.1,522.4 311.4,694.2 311.5,559.5 311.8,699 311.5,544.1 311.5,534.4 311.6,533.8 311.5,667 311.7,574.1 311.5,669.8 311.7,641 311.5,591.9 311.5,736.9 311.8,716.8 311.6,629.6 311.7,639.4 311.3,671.6 311.4,622.9 311.7,687.5 311.1,641.5 311.8,732.2 312,560.8 311.7,589.7 311.3,721.5 311.8,689.6 311.8,637 311.9,646.9 311.1,557.9 311.4,700.6 311.3,567.9 311.6,539.4 312,576.3 311.7,599.5 311.4,607.9 311.2,660.7 311.4,533.3 311.1,680 311.6,641.5 311.6,697.6 311.1,636.5 311.5,670.7 311.2,723.9 311.2,657.8 311.6,564 311.6,607.7 311.3,696.2 311.8,565.5 311.6,566.2 311.5,706.6 306.6,748.4 311.5,539.6 311.8,631.1 311.8,554.7 311.8,725.1 311.5,688.3 311,649.4 311.2,720.7 311.2,692.3 311.5,582.1 311.4,563.6 311.7,584.2 311.5,524.6 311.1,604.9 314.9,749.1 311.3,568.7 311.6,649.1 311.3,681.9 311.5,648.9 311.3,695.6 311.4,542.4 311.7,580.5 311.2,591.9 311.4,693.9 311.4,656.8 311.4,632.1 311.6,702.8 312.1,696.3 311.9,580.3 311.7,621.5 311.4,571.7 311.3,595.5 312.1,581.7 314.8,741.3 311.1,639.9 311.5,500.1 309.8,745.5 311.3,562 311.2,592.9 311.4,539.9 311.5,721.2 311.7,708.5 311.8,699.2 307,747.1 311.4,685.3 311.5,529.6 311.5,525.3 311.2,576.7 312.6,740.3 311.8,581.7 311.8,714.2 311.6,540.8 311.2,592.1 312,644.7 311.9,622.7 311.2,623.8 311.8,728.2 311.1,609.9 312,724.9 311.2,572.1 311.6,612.4 311.1,580.5 311.4,739.8 311,705.3 311.8,529.9 311.1,581.9 311.7,518.3 311.6,600.5 311.3,611.4 311.3,582.5 311.8,639.6 310.9,730 311.9,601 311.1,695.8 311.7,693.8 311.9,610.8 308.8,744.1 311.9,641.4 311.5,682.5 311.2,549.7 305.7,742.2 311.5,721.2 311.1,732.6 311.1,724.2 311.5,526.5 311.7,712.7 311.1,567.6 311.5,659.4 311.3,680.2 311,701.6 308.6,741.7 311.8,735.4 311.3,741.6 311.6,533.9 311.3,727.2 311.4,540.1 311.8,671 312,537.2 312.1,658.4 310.9,741.9 311.5,534.5 311.3,577.8 311,675.3 311,626.8 311.4,541.2 307.7,749.1 311.4,539.9 311.7,681.4 311.4,568.8 311.4,536.3 311.5,529.5 311.8,558.9 311.4,729.3 311.8,608.3 311,603.9 311.6,588.1 311.3,558 311.5,686.8 311.9,572.8 311.8,684.3 311.2,666.3 311.1,667.6 311.5,607.8 311.2,651.8 311.2,739.1 311.2,562.2 311.6,618.5 317.2,743.3 316.3,745.6 311.4,595.1 313.6,746 311.7,700.9 311.6,562.7 311.8,594.5 311.7,625.9 311.3,569.1 311.2,675.8 314,743.6 311.5,525.5 312.5,748.2 311.2,652.6 311.5,657.8 311.8,725.2 311.3,544.1 311.5,525 311.4,560.7 311.6,674.9 311.1,620.8 315.5,747.2 305.9,745.4 311.3,679.6 311.5,536.4 311.5,526.2 311.5,574.2 311.5,562.1 311.4,641.8 311.8,571.9 311.7,727.5 311.2,717.6 311.8,704.2 311.3,587.9 311.5,651.3 311.2,531.6 311.4,748.4 311.5,535.1 311.5,535.8 311.5,561.8 311.6,571.2 311.9,609.6 311.2,720.2 311.1,717.5 311.8,679.6 311.3,717.4 311.9,728.6 311.9,693.6 311.3,610.1 311.5,595.4 311.4,618.7 309.9,744.7 311.5,534 311.7,595.8 311.2,566.5 311.3,652.4 311.3,660.5 311.6,539.8 311,597.4 311.4,715.2 311.4,739.2 311.1,654.3 311.3,698.6 311.1,647.7 311,749.3 311.1,653.7 311.7,583.7 311.2,612.2 311.7,619.6 311.8,642.5 311.4,556.9 311.7,710.5 311.4,553.6 311.7,596.1 311.2,733.8 315.7,746.3 311.8,538 311.4,540.9 311,740 311.3,697.8 311.2,739.9 311.3,692.2 311.5,523 311.4,660"/>
<line x1="302" y1="695.4" x2="321" y2="695.4" stroke="#111" stroke-width="1"/>
<polyline fill="none" marker-start="url(#my)" marker-mid="url(#my)" marker-end="url(#my)" points="343.7,698.2 340.8,706.5 344,710.2 338.7,721 339.3,641.2 341.4,670.4 340,584.1 340.2,558.1 340.3,707.3 339.5,636.4 339.9,586.3 341.5,694.6 340.2,736.5 339.8,597.3 339.8,710.5 340.2,628.8 339.5,601.8 341.3,646 336,690.6 340.3,693.9 340.8,578.4 333.8,701.5 335.5,685.7 334.5,701.3 339.7,639.6 346.1,695.5 339.7,672.1 340.4,616.7 345.2,699.2 339.9,554 340.3,564.4 338.8,678.9 338.7,668.8 340.2,738.5 334.3,716.4 342.1,685 338.2,705 341.6,688.4 336.9,665.8 337.9,728.7 343,669.5 346.6,707 338.5,680.2 337.3,660.5 339,722.8 340.1,662.8 344.8,687.7 340.2,570.9 339.9,612.9 336.9,693.2 338.4,708.2 341.2,652.7 338.2,721.4 339.7,572.1 340.9,651.6 341.2,732.3 339.8,646.9 345.4,715 340.5,624.3 340.2,632.7 340.4,718.6 339.6,679.6 340.7,610.6 340.6,598.1 339.9,585.1 342.5,686.8 345.4,699 340.4,566.3 344.3,694.5 340.4,682.4 338.3,649.6 343.5,703.9 341,643.3 339.6,662.2 335.7,686.1 341,655 339.1,641.3 341.4,657.5 338.6,689.6 342.6,703.4 340.8,658.3 339.7,666.8 340.1,616 340.4,601.6 337.9,710.1 336.3,725.1 340.1,558.9 340.9,683.9 339,682.2 339.9,654.1 338.3,694.4 345.7,703.7 337.8,699.8 340.7,629.3 340.5,661.7 336.7,675.9 341.6,689.4 340.6,613.2 344.8,722.5 340.4,731.4 342.6,675.8 340.4,566.6 340.9,685.2 340.2,605.7 340.2,547.2 343.7,716.5 335.3,682.1 340.1,568.6 339.4,623.4 337.7,673.7 339.3,707.9 340.2,643.7 340.4,591.3 340.3,662.2 340.4,584 342.3,648.2 339.9,588.8 340.1,539.5 340.4,669.5 334.9,687.9 335,706.1 341.1,701.2 340.5,621.9 340.6,622.3 338.9,641.5 340.1,573.3 340.1,707.3 340.4,600.1 340.8,668.3 342.8,683.4 340.1,692 334.9,715.1 340,711 340.3,697.5 339.6,700.5 339.7,686.9 344.7,698.3 340.2,612.3 340.4,591.9 341.1,689.4 340.5,589.5 339.9,591.2 344.1,718.6 340.2,739.4 335.7,701.6 334,702.8 339,733.6 340.2,550.6 338.8,684.3 338,651.2 340.1,632.2 341,623.2 340.2,548.6 340.2,539.2 339.4,624.3 339.4,681.7 340.5,579.8 340.3,643.4 340.8,660.1 344.1,672.8 339.9,632.6 337.8,676.5 340.7,599 340.2,737.9 339.7,606.9 340.1,641.2 338.7,637.6 345.4,688.2 338.9,697.2 340.2,738.1 341.1,652.7 340,686.4 343.2,660.9 340.3,568.6 342.1,687.1 336.8,709.3 341.2,629 336.1,694.2 334.9,716.9 339.3,680.5 338.8,639.4 333.6,700.1 340,571 340.3,642 339.9,605 339.8,614.1 340.2,542.4 338.1,646.4 340.8,598.9 337.5,662.9 340.7,591.8 340.2,547 340.3,565.6 339.1,664.2 343.6,671.6 340.3,565.6 340.8,736.6 340.1,555.7 340,650.2 340.5,625.6 340.8,698.6 342,667.8 339.8,602.5 339.5,728.1 335.7,679.2 339.9,716.6 341.5,718.2 339.6,586.8 340.5,631.4 339.8,593.5 342.4,657.9 340.3,737.5 343.3,688.5 337.3,725.3 339.9,564.2 338.1,704.6 340.4,576.8 341.4,734.6 339.9,550.1 343,674.8 346.3,695.2 338.8,630.9 340.3,560.3 341.5,728.5 339.6,726.8 337.5,727.8 340.6,730.3 340.7,621.5 341.3,648.7 343.1,719.6 335.4,709.4 339.8,612.3 342.5,660 341.7,718.2 340.5,678.6 340.6,726.9 341.2,725.8 345.4,721.7 338.2,664.4 340.8,650.2 340.2,551 339.8,593.6 340.2,548.1 339.4,712.9 336.7,726.9 339.9,700.2 340.4,569.3 340.2,586.9 338.3,641.5 341.1,616.9 341.7,702.1 343.1,729.9 344.2,677.4 334.2,708.8 339.6,719 339.3,675.5 341,607.6 341.1,618.7 340.8,722 340.2,737.9 339.9,671.6 339.6,613.5 337.5,680.3 340.3,568.6 340.4,697.6 340.1,737.9 335.8,700.7 337.2,667 340.7,713.8 342.6,703.4 342.8,716.2 340.6,612.4 340.3,735.3 341.6,677.6 342.1,661.7 338.3,651.9 336.8,695.6 341,728.3 341,618.5 336.9,725.1 342.7,728.7 341.4,624.4 344,694 334.9,687.7 334.9,717.7 340.6,731 341.5,663.4 338.9,675.9 341.7,654.1 342.8,686.7 338.3,732.7 341.4,653.7 339.8,595.6 336.9,719.5 335.2,687.1 338.9,705.2 335.1,714.8 340.6,575.8 338.8,697.9 345,689.9 337.2,686.3 339.9,566.9 338,665.9 339,651.8 340,596.6 334.5,717.6 340.2,552 340.3,588 341.2,669.5 341.9,669.5 340.3,603.1 344.3,686.7 339.9,606.5 344,679.8 335.4,719 340.5,591.7 340.5,584.8 336.1,718.4 340,605.5 341,731.5 341.7,630 340.1,572.2 338.1,661.3 339.7,600.6 339.6,616.4 343.1,691.9 341.1,643.9 340.2,548.5 338.5,637.6 340.8,622.6 339.8,559.1 341.1,607.6 339.3,720.4 337.6,725.4 335.8,693.2 340.4,575.1 343.3,662.4 338.8,639 340.3,583.5 344.2,711.9 340,592.8 335.4,724.1 340.5,727.3 340.2,579.3 340.4,689.9 340.3,588.8 343.6,716.9 344.6,706.4 342.4,647.6 336.9,721.4 340.2,739 339.8,686.9 340.1,660.7 340.3,588.2 338.7,654.8 339.8,636.2 338.8,637.1 340.7,640.1 338.3,700.5 338.1,729.3 341,700 339.9,585 335.8,679.3 343.8,713.7 334.4,716.5 338.8,663.4 345.4,690.9 340.3,578.7 340.1,717.4 340.9,600.8 340.7,629.8 342.2,648.3 340.2,563.3 342.2,703.2 340.9,636 336.9,716.7 339.9,667.8 340.2,542.3 340.1,674.3 340.7,734.7 343.5,716.6 340.4,575 341,643.1 340,713.8 347.1,705.3 338,675.3 340.1,605.6 341.3,643.8 340.2,548.8 341.1,626.1 340.6,569.5 342.5,701.6 340.3,652.2 344.1,724.8 341.2,630 340.2,738.9 333.2,703.7 340,630.2 340.4,693.4 340.1,583.8 339.6,677.4 343,663.1 344.6,720.6 341.6,626.4 340.8,703.5 346.2,717.2 337.5,713.3 337.2,668.2 337.9,647.2 338.5,664.7 342.5,675.9 342.2,708.3 336,699.6 341.5,707.2 339.8,659.9 341.3,663.2 339.5,659.6 337.1,683.3 339.6,730.2 340.6,632.6 334.8,690.3 341.4,673.1 340.1,629.5 343.5,728.6 337.8,711.3 340.2,724.4 345.1,712.8 335.2,686.4 338.9,699.9 339.8,621.3 340.2,738.8 341.1,632.3 339.7,604.9 335.7,703.9 340.2,541.2 337,702.6 347.2,705.1 336.4,676.8 335.6,686.6 340.5,597.9 344.1,720.7 338.6,638.5 340.3,556.5 340.3,633.9 342.8,703.2 339.6,616.6 345.8,708.6 340,654.7 340.9,599.5 339.5,696.2 341.5,649.1 339.8,664.7 340.3,578 340.2,543.2 340.4,581 335.9,723.4 339.6,596.2 340.2,541.1 339.6,638.7 340.3,617.1 342.8,659 343.6,677.6 335.2,687.4 341.1,708.2 336.4,691.4 342,636 341.1,692.6 340.2,606.8 341.3,678.3 340.2,541.4 336.9,692.7 339.6,674 340,585.5 344.8,701.3 340.3,672.6 340.4,702.5 341.6,712.9 339.5,652.3 340.4,575.4 336.4,713 339.6,553 340.6,588.6 339.7,696.7 340.4,567.4 338,695.3 340.4,635.8 340.6,641.7 341.3,659.1 334.2,717.6 346.1,709.6 340.2,546 340.2,594.2 339.9,614.5 342.6,693.8 339.7,596.6 340.4,590.4 342.8,688.3 340.4,677.1 339.7,721.1 338.3,648.2 337.6,682.9 339.8,711.9 340.1,598 340.1,713.8 339.3,611.1 345.9,707.4 340.4,691.4 346.4,706.7 340.4,698.8 340.6,659.1 336.6,708.4 340.1,611.4 337.9,688.8 337.6,660.7 342.9,682 334.6,718.8 342.9,729.8 341.6,655.7 337,717.5 339.5,645.2 339.9,612.4 337.9,654.7 341.4,681.6 339.8,693.8 340.7,734 339.6,634.3 344.3,692.3 340.3,609.3 339.4,616.5 337,707.2 340.2,739.3 340.6,714.5 340.1,564.7 343.6,721.4 335.7,710.7 338.5,635.5 340.1,542.8 340.8,668 336.3,674.1 338.9,724.3 341.9,639.2 339.9,575.1 334.3,705.3 340,726 340.3,608 338.5,712.5 340.4,645.6 340.1,665.1 342.8,654.4 346.5,713 338.3,696.1 340.2,542.9 340.3,556.5 340.5,636.7 341.5,626.5 341.9,642.6 338.8,722.4 341.8,731.1 340.3,652.2 340.5,627.5 340.4,572 340.3,561.7 342.2,667.7 339.9,592.9 346.8,710.7 344,707.3 341.2,664.8 341.3,697.1 333.6,710.6 340.3,675.7 334,697.4 338.7,716.6 340.5,543.5 340.2,568.1 339,675.9 341,705.6 340.1,637.4 341.7,638.4 339.9,668.2 341.7,727.3 340.4,614.8 340.2,554.4 340.1,557.7 340.3,574.2 340.4,659.6 340.4,584.3 338.9,643.7 338.8,716.6 334.8,699.3 340.2,583.7 340.7,646.5 339.3,610.3 341.1,718 339.8,655.5 340.3,583.8 337.4,694.9 334,701.8 337.2,682.9 340.4,570 339.4,606.7 337.2,678.3 335.7,687.9 339.9,724.5 338.5,690 340.2,544.3 340.2,547.4 339.4,701.4 340.7,591.7 338.7,732.8 346.6,702.9 340.2,544.6 341.1,682.5 340.3,556.4 339.7,670.4 335.5,688.8 340.2,547.8 340.8,633.7 338.6,670.8 344.1,715.5 339.7,730.5 335.8,714.8 340.2,606.1 340.4,692.8 342.4,646.5 342.3,644.4 343.2,707.3 342.5,649.4 340.5,678.6 339.9,671.1 337.2,669.7 340.3,717.5 340.9,650.9 340.8,662.1 340.3,598.3 339.4,607.3 339.9,676.2 337.7,676.7 339.6,721.3 341.7,663.4 345.8,698.4 340.5,722.6 340.1,547.8 343.8,710.4 339.2,628.6 342.5,671.8 337.5,662.3 340.2,544.8 340.3,735 342.1,700.6 338.6,646.7 344.6,713.5 336.4,694 340.5,558.9 341.3,675.7 342.8,689 339.3,622.3 335.6,691.4 340.4,611.6 338.4,664.9 339.8,588.9 338.9,718.8 343.1,717.3 334.3,693.3 340.1,585.4 340.9,654.9 340.1,598.9 339.9,586.3 336.7,667.2 340.2,541.3 339.3,688.1 344.8,700.7 340.1,573.7 336.2,699.8 340.8,608.8 340.1,568.3 337.3,709.7 343.2,671.2 340.3,567.4 339.6,588.6 345.3,704.2 340.7,625.7 340.2,677.6 344,720.4 339.7,660.3 342.5,686.5 340.3,568.9 338,703.8 337.2,680.5 340.6,587.9 340.8,621.3 339.9,663 340.6,619.5 341.9,655.9 340.2,550.5 339.8,652.4 338.8,725.1 339.9,593.8 338.3,647.8 336.6,667.8 340.2,540.4 340.4,585.1 340.1,658.9 340.3,572.9 340.2,553.9 337.4,670.3 341.3,617.7 342,641 339.5,733.3 341.4,724.7 340.2,538.9 340.5,716.2 344.2,719.9 340.2,569.8 344.8,701 344.9,689.1 337.6,667.1 340.5,594.1 340.2,539.7 345.4,700.8 340.5,640.1 339.7,602.9 345.6,694.7 339.1,723 340.2,554.6 339.6,719.9 342,637.1 343.2,678.9 340,663.6 341.9,714.2"/>
<line x1="330.7" y1="673.1" x2="349.7" y2="673.1" stroke="#111" stroke-width="1"/>
<polyline fill="none" marker-start="url(#mb)" marker-mid="url(#mb)" marker-end="url(#mb)" points="368.3,561.7 368.1,581.5 369.2,618.3 364.8,623.8 368.9,527.8 362.8,671.3 368.8,716.1 367.2,616.3 375.6,654.8 369.7,544.1 369.2,652.6 365.3,675.1 370.8,697.1 372,688.9 364.9,633.6 369.8,592.4 373.1,639.8 369.9,698.5 366.9,600.9 366.5,590.7 365.6,609.9 364.1,674.2 369.2,707.2 368.9,494.3 368.8,516.9 367.4,570.8 368.8,710.3 371.5,606.7 375,642.7 368.9,501.1 366,657.3 368.8,519.2 369,501.7 370.6,588.8 364.5,623.9 363.5,678.2 374,629.5 367.1,615.4 369.6,568 369.3,549.5 368.8,719 370.4,663.2 375.2,663.1 373.6,647.1 373.4,680.4 365.2,634.7 369.5,545.3 368.8,516.7 368.9,565 374.2,663.1 375.5,651.2 369.7,561.5 369,501.3 367.7,564.9 369,634.8 363.9,676.5 365.5,639.9 365,642.3 370.7,625.5 368.6,700.5 367.8,563.3 372.8,670 375.7,659.6 368.6,648.1 369.8,710.8 363.6,626.2 368.3,490.4 373.1,649.4 368.4,522.4 369.2,500.7 364.3,616.7 364.4,652.4 371.4,679.3 368.9,483.1 368.9,491.8 370.4,569.7 374.5,647.6 368.6,717.3 368.6,680.1 368.5,524.7 372.7,674.6 374.6,670.3 368.7,714.6 369.6,713.4 363.7,661.1 369.4,641.7 372.2,684.1 362.7,635.1 367.4,590.4 370.3,567.3 368.3,669.6 367.1,598 369.3,548.4 366.5,637.9 370.6,595.9 366.1,615.6 373.4,611 368.2,596.5 367.8,702.5 366.6,649.6 368.5,595.8 366.5,665.7 365,691.9 366.9,649.3 374,613.2 374.1,681.6 368.3,634.1 368.4,522.5 368.6,542.5 367.1,592.1 369.1,545.8 372.4,606.4 363.4,631.2 369.3,503.5 373.4,644.5 366.8,584.3 363.1,644.5 369.1,644.3 369,529.6 365.5,605.9 373.4,639.1 369,677.6 373.9,651.6 371,616.1 367.2,576.6 370,565.3 364.5,670.6 369,558.2 367.2,638.8 362.7,670.5 370.4,573.6 368.7,640.2 372,629 368.8,720.7 369.9,652.8 371.6,655.1 374.3,636.7 374.9,675.4 372.7,616.8 365.6,660.2 365.6,667.7 368.4,532.8 370.8,653.2 369.5,525.9 363.3,675.5 368.3,616.5 372.2,630.9 368.4,595.6 367.9,579.7 369.4,646.8 369.7,709.4 369.4,699.5 373.2,617.1 373.6,686.7 368.7,702.2 364.6,616.9 367.9,601 368.9,509.9 362.3,660.1 364.7,628.6 368.4,700.3 372.1,593.3 373.2,673.6 372.7,600.2 369,508.8 369.2,666.3 368.6,633 371.9,629.3 369.1,564.1 368.4,632.6 366.4,680.7 371.7,654 366.7,591.4 369.1,537.6 368.6,638.7 369.2,528.2 372.7,628.7 371,654.8 369.1,557.4 364.9,654.1 369.3,682.9 370.2,637.1 368,700.2 369.7,536.4 366,698.9 366.2,697 367.6,698.8 363.1,649.6 368.5,634.1 368.4,587 368.5,631 365.9,695.9 375,642.9 374.6,628.1 370.3,686.4 375.2,664.8 370.2,595.4 367.6,598.3 366.7,587 364.6,639.8 374,618.5 363.5,658.3 367.6,633.6 372.4,633.3 369.1,578.8 368.4,694.5 369.3,714.6 366.9,695.9 369.2,609 366.2,664.9 369.2,601.5 364.8,613.8 368.8,675.7 369.3,569.7 375,670.9 368.9,501.5 371.9,651.7 370.3,680.5 372.5,608.2 367.5,574.2 368.1,556.5 368,567 368.8,500.1 367.4,593.8 365.7,671.6 362.6,677.7 368.8,514.3 365.7,670 371.3,599.3 372.8,684.5 362.8,649.5 366.1,632.5 369.1,687.8 367.2,599.4 369.1,558.3 369.1,532 368,689.3 369.1,708.5 366.4,599.4 368.2,552.9 375.6,643.6 367.5,682.5 368.4,492.9 372.3,595.3 368.9,701.1 370.1,652.6 372.6,676 375,620.4 365.4,651.1 367.7,669.9 368.9,580.7 365.7,648.6 368.7,711.4 371.2,638.9 371.3,663.4 372.2,610.3 373.2,616.5 363.2,644.1 370.8,689.8 367.9,560 373,623.6 362.8,642.2 369.1,542.8 369.4,713.5 365.2,672.3 371.5,613.2 370,640.5 366.2,669.8 372.5,668.9 369,629.3 362.6,674 368.3,570.6 367.8,666.9 367.2,596.7 373.7,682.7 372.1,608.9 372.9,614.8 372.1,596.4 365.9,593.1 369.7,578.2 366.7,616.1 369,590.4 369.6,702.2 374.5,663.2 363.9,612.5 369.2,670.4 365.3,677.5 371.8,598.8 368.9,598.2 369.3,678.4 368.9,535.8 369.5,599.6 371.4,618.4 370.2,670.9 368.4,573.6 370.1,596.3 363.6,673 368.8,519.2 373.1,626.5 366.6,694.5 368.4,595.5 370.6,698.5 371.2,697.8 369.4,633.5 368.8,706.1 375.4,670.4 366.4,609 372.5,648.8 367.4,635.7 366.6,591.6 369.4,601.9 374.3,644.4 369.3,517.1 367.4,620 367.3,697.3 371.7,691.6 372.8,669.3 363.6,625.1 364.7,655.5 373.3,644.2 374.4,639.5 369.4,543.8 367.8,707.3 366.2,606.7 371.5,586.4 367.2,697.4 366.8,626.3 368.4,527.5 374.6,615.9 370.9,641 368.8,524.6 369,510.5 374.6,646.5 365.2,605.8 366.9,683.9 366.3,621.4 369.1,673.6 369.5,536.2 371.4,658.3 367.3,668.4 370.4,645.6 367,611.8 368.8,608 369.6,581.2 368.9,594.7 368.3,641.3 369,507.4 367.7,710.7 369.9,591.9 372,691.1 374.4,624 373.3,608.2 364.8,652.9 367.5,702.9 365.7,606.8 371.7,625.2 368.2,572 366.7,699.6 368.8,499.8 368.2,553.4 369.6,610.5 364.5,670.3 371.9,618 367.1,670.5 365.1,615.1 368.4,525.4 368,599.4 368.2,709.3 368.5,664.2 370.2,626.4 372.1,610.3 368.5,599.8 365.6,615.9 369.1,546.5 369.6,639.1 369.1,582 368.9,497.3 371.6,612.2 368.8,655.9 367.9,557.2 368.8,621.3 370.7,626.7 367.3,707 365,633.7 370.4,692.1 369.2,541.5 368.4,711.7 374,624.2 370.1,691.4 363.1,678.9 371.7,626.1 369,554.2 373.1,652 369.4,531.4 369.1,612.1 369.5,628.8 369.5,715.9 369.2,651.2 369.1,522.6 367.2,693.2 371.9,665.1 368.5,665.2 373.7,687.4 369.2,705.4 368.8,503.6 364.4,622.6 362.4,642.9 369.2,580.8 366.4,621 368.5,533.8 368.7,556.6 369.8,556.5 371.2,671.2 368.4,634.5 368.5,523.3 361.8,638.6 367.7,686.2 371.5,673.2 373.4,613.4 369.3,550.8 368.8,531.2 368.5,654 368.8,706.9 369.2,522.8 374.3,678.3 368.8,548.7 369.6,715.3 369.5,707.9 370.5,587.6 365.4,619.7 365.4,641.5 365.7,649.7 371.1,586.1 375.4,634.1 365.2,616.1 365.3,617.6 367.3,577.9 370.1,652.5 370.9,590.4 369.7,640.7 368.3,608.2 373.8,641.8 366.8,592.5 368.7,627 365.8,671.4 369.4,527.6 369.4,529.8 370,658.3 368.9,532.1 371.3,696.9 376.1,645 362.6,676.1 368.6,629.3 363.9,677.3 369.3,546.4 370.7,586.4 369.1,585.3 366.1,668.2 369.9,583.1 365.5,607.6 364.6,645.1 367.4,560.9 370.3,701.1 369.1,713.3 372.8,637.8 365.5,674.7 369.1,700 371.2,591.4 370.7,629.5 368.7,514.3 370.3,563.2 375.9,650.1 367.9,564.3 366.8,586.7 369.8,600.6 369.3,662.7 369,689.8 363.1,677.2 368.8,513.4 374,677.3 362.4,635.6 368.3,563.1 368.1,707 368.4,716.1 369.5,569.5 369.9,544.5 367.6,594.8 371,611.6 367.6,666.8 368.5,653.3 369.4,531.9 373.9,621.4 368.8,507.3 370.3,591.8 368.6,519.9 370.2,586.8 368.9,490.4 365.4,600.6 371.6,651.3 375.3,632.7 369.2,542.9 368.7,523.5 373.7,612.5 374.2,615.9 371.8,604.1 363.8,665.2 371.1,624.2 363.9,642.1 364,621 368.6,613.4 371.7,661.8 369.2,518.3 370,677.2 368.9,510.6 364.7,643.8 368.6,670.6 368.9,606.7 372.5,601.2 374.3,668.3 367.5,640.5 364.7,614.9 368,551 370.6,700.9 368.8,581.1 371.9,595.9 371.7,602 367.3,679.5 365.8,636.6 368.4,550.7 368.3,706.1 368.8,537.7 363.6,662.3 368.6,582.9 368.9,522.7 369.2,545.4 369.8,585.2 369.5,693.2 374.4,618.3 367.4,578.3 372,681.1 369.1,690.4 368.9,500.3 365,650.1 369.7,690.9 368.9,721.5 365.9,598.4 363.1,667.6 362.1,645.2 368.5,636.9 362.7,635.7 369.3,640.4 369.5,697.2 372.7,688 364,622.2 361.8,647.9 371.1,697.3 368.3,612 369.4,664.9 368.7,544 368.4,697.9 368.8,498.7 369,516 369.4,694.7 365.5,628.7 372.5,682.4 368,670.6 371.7,665.4 368.5,717.1 368.4,559.2 368.5,679.5 364.6,659.6 370.2,697.5 368.5,543.8 369.7,687.6 370,549.7 368.9,670.6 368.2,627.8 369.2,718.6 369.5,701.7 368.4,660.4 370.8,580.7 371.9,618.2 369.6,586.8 371,639.6 367.1,664.2 369.8,560 369.3,552.2 372,639.2 369.2,613.3 368.8,692.5 364.4,653 368.4,584.1 362.5,677.5 367.7,566.8 369.3,579 368.8,518.8 363.1,671 362.6,630.4 368.2,709.6 367.4,697.6 369.4,519.2 371.9,618.3 373,621.8 371,601.5 364.1,651.8 367.6,563.4 368.3,638.1 370.3,577.4 373.7,648 366.6,582.3 367.6,554.7 370.4,697.6 372.4,672.2 369.5,529.3 363.7,627.6 365.8,593.1 368.7,541.5 367.1,628.1 367.9,696.1 368.4,684.7 369,665.5 368.7,523.5 374.6,675.7 373.1,655.3 370.4,589.9 368.3,716.3 362.5,672.9 369,504.9 369.1,525.3 370.7,701.5 363.7,678.9 362.2,632.3 370.1,555.9 366.4,661.3 367.2,706.6 368.8,526 367.3,684.7 369.5,707 366.6,699 368.9,685.7 368.9,491.8 368.1,673 372.8,601.8 368.7,623.7 371.2,665.9 365.5,619.6 369.1,524.9 368.9,720 371.1,671.8 368.9,721.8 371.7,669.3 368.7,509.4 368.6,521.2 367.7,564.5 368.8,515.4 368.3,546.2 369.1,536.5 364.5,617.8 368.8,527.1 367.5,583.8 373,601.3 374.6,631.8 364.1,607.3 363.6,674.4 368.1,706.8 368.9,719.9 370.5,636.5 369,507.8 364.5,686.9 369.7,698.3 362.5,629 365.5,631.5 371.7,639.3 364.5,635.7 368.2,537.6 365.4,679.6 370.1,632.5 369.3,721.9 371.2,602.4 372.7,640.9 367.3,651.1 364.4,678.3 370.6,659.2 362.4,643.6 366.9,614.5 372.3,631.9 368.7,624.4 369.4,578.3 365.7,624.7 368.9,476.7 368.5,518.4 370.1,686.8 368.6,657.6 364,661.9 369.1,507 365.4,680.3 367.3,626.1 370.3,599.9 368.2,552.5 369.1,560.6 372.2,672.4 368.4,716.3 364.4,639.7 369.3,563.3 375,657.6 369.3,522.8 374.7,631.3 372.5,636.2 368.4,690.8 371.8,656.7 367.3,700.4 370.7,702.7 368.9,582.5 371.2,686.4 368.4,669.3 364.1,665.2 369,558.1 363.9,639.5 369.3,530.1 369.2,528.7 368.9,703.7 366.6,640.9 369.3,530.2 371.8,613.6 373.4,679.9 367.3,699.4 369.8,544.2 364.9,680.1 371.7,690 374.7,672.9 369.2,576.1 369.2,568.8 368.7,515.6 370.8,574.6 368,698.9 368.9,565.8 372.6,620.6 364.9,645.3 369.2,508.1 367,644.1 368.7,609.6 362.8,655.1 369.5,588 371.3,695.9 369.7,614.2 368.4,686.7 364.2,679 368.7,511.3 370.5,600.7 368.3,568.5 366.5,621 368.5,536 367.6,606.8 369.3,544.7 370,605.9 372.4,640.4 369.7,542.9 367.5,574.6 367.5,573.5 365.7,691.6 372.5,628.8 367.7,555.4 369.3,711.1 372.1,618.4 374.8,653 369.7,714.9 372.8,680.6 366.9,627.7 368.3,622.9 369.2,587.2 368.3,528.1 363.9,648.1 369.6,632.9 369.3,620.1 365.1,610.7 372.3,653.6 373.9,649.5 375.1,625.9 369.5,573.6 362.1,648.9 366.8,681.3 368.3,550 363.6,661.9 369.3,679.9 373.1,612.3 368,601.9 370.6,667.2 375.1,658.8 369.6,692 365.7,616.1 372.9,672.6 369.1,674.7 368.9,684 363.5,680.8 363.4,665.5 368.2,567 368.6,561.5 367.3,592 367.7,566.7 374.8,625 365,625.3 372.5,601 368.9,491.5 368.6,588.3 368.6,505.7 363.2,648.4 367.1,577.3 368.9,587.7 373.1,691.7 364.2,609.5 373.5,630.5 368.8,510.1 367.9,546.7 368.9,511.4 365.1,693.7 367.7,556.9 365.8,652 369.4,649.1 368,570.8 369.7,715.2 367.2,623.7 374.7,680 368.4,523.4 374.6,624.6 371.8,591.7 368.8,510.9 368.1,670.7 373.8,621.3 371.9,694.2 371.4,585.6 369.2,523.5 373.7,652.3 374.9,675 365.3,692.7 370.4,560.4 364.7,631.3 364.5,656.3 368.1,651.2 368.7,543.9 372.7,600 368.3,658.4 369.2,549 368.8,515.8 366.7,632.1 373.4,635.1 373.4,645.3 366,619.8 369.2,689.3 368.9,578.2 374.8,634.6 369.4,682.8 369.8,641.1 370.5,587.4 368.7,521 366.8,623.2 369.1,652.8 368.8,523 368.2,676.5 363.5,673.6 372,677.4 370.8,580.8 370.3,555.8 367.5,584.4 369.1,567.5 370,580.3 368.9,515.4 371,702.4 367.1,630.7 370.7,619.4 365.6,675.6 368.9,497.5 372.6,633.3 372.7,652.3 369.5,553.5 368.7,539.6 372.5,666.6 371.1,688.4 371,658 369.6,715.5 363.7,639.3 372.9,674.3 369.2,603.5 368.1,680.9 367.7,667.6 362.6,636.1 368.9,492.2 369.9,560 364.9,648 369,500.3 373.1,676.1 370.3,651.1 369,542.9 375.6,635.5 369.3,494.6 367.1,583.1 364.5,661.9 364.7,611.2 369.5,612.9 368.5,591.8 375.5,650.6 372.7,688.5 368.9,528.2 367,609.8 370.8,606.4 372.5,614.6 365.8,630.9 369.9,603.8 369.3,684.6 364.3,642.2 365.2,676.7 369.8,648.9 370.7,572.2 373,687.5 369.4,555.9 369.9,704 369.1,626.5 364.4,660.1 368.5,575.5 369.3,525.1 368.5,525.7 374.1,662.2 368.9,497.3 368.9,464 368,561.5 369.1,652.8 371.8,661 365.4,603.4 365.9,677 368.6,585.5 367.5,670.8 368.7,720 367.2,700.8 368.6,547.4 370.3,588.2 368.7,514.4 370.1,698.9 368.9,505.3 372.7,685 367.8,663.3 368.2,655.6 370.9,701.3 368.7,716.6 372.3,601.2 374,652.4 366.4,604 369.1,530.4 375,655.7 362.2,650.1 362.2,663.7 369,504.7 371.1,655.4 374.4,613.7 368.2,616.8 368.9,470.4 368.4,555.8 368.9,491.1 367.3,688.4 367.3,636.1 365.8,679.9 369.3,523.3 371.3,587.3 369.6,705.9 367.5,704.3 373.9,626.6 368.7,547.8 368.2,531.3 373.4,656.9 372.3,686 369.1,516.9 368.9,556.6 367.1,669.8 367.2,699.1 370.6,569.6 367.6,625.3 368,594.2 368.6,528.1"/>
<polyline fill="none" marker-start="url(#mb)" marker-mid="url(#mb)" marker-end="url(#mb)" points="397.9,660.1 397.6,608 400.3,705.4 395.6,665.9 401.8,683.3 394.1,708.9 397.4,611.1 397.6,610.9 403.1,684.4 396.9,713.5 398,644 398,684.9 397.6,608.6 401.1,705.6 394.3,709.4 402.7,684.7 396.4,636.7 397.4,721.3 397.9,722.3 393.8,679.1 396.8,635.1 396.2,706 395.1,662.7 400.9,669.5 397.2,669.7 397.4,664.1 402.8,688.3 396.7,638.2 398.2,621.3 400.4,661.6 402,681.1 400.3,714.8 392,693.4 398.8,658.1 402.3,686.8 396.7,626.9 397.6,689.1 399.2,688.4 398,670.4 399.8,704.1 400.1,654.9 400,710.2 398.9,645 395,701.8 401,709.7 398.8,642.5 399.7,681 403.4,696.5 397.1,674.7 397.9,639.7 397.2,629.4 398.1,710.6 392.1,685.4 396,724 398.1,633.6 402.5,705.7 397.7,707.5 392.2,689.5 395.6,720.7 396.6,717.1 394.2,666.1 396.9,682.9 397.5,660.4 401.7,712.1 398.6,682.5 397,644.6 400.6,709.3 397.8,608.5 393.9,693.9 397.9,613 402.9,681.7 401.1,694.2 395.7,708.6 397.2,680.9 397,653 397.3,638.1 395.1,676.1 398.3,727.2 397.1,633.2 399.3,662.5 397.7,678 397.4,612.1 398.3,619.2 397.3,728.1 399.7,646.2 397.2,619.5 398.1,664.4 397.8,711.7 395.7,677.4 399.2,645.2 399,689.1 398.6,694.6 397.9,688.2 391.4,692.2 398.7,629.5 398.4,670.8 399.7,722 394.1,667.5 398.4,706 397.3,609.7 392,700.4 398.4,660 398.1,685 398.6,720.6 399.3,711.1 399,652.3 398.1,712.5 397.9,721.6 397.2,609.9 397.4,728.9 400.7,672.3 398.8,633.4 395.4,711.6 400.4,664.5 394.9,672.6 395.1,681 398.2,622.7 394.8,676.8 397.6,602.9 398,652 397.3,731.2 394.5,660.1 397.8,721.9 394.8,666.4 398.8,715.2 400.3,681.1 392.4,691.7 400.2,709.7 397.3,616.3 399.1,676.9 394.5,659.7 397.7,650.4 401.4,692.5 399,667.8 396.1,675.9 393.8,699.9 399.1,650.7 398.3,699.4 397.6,595.6 397.4,639 402.3,694.3 399.3,703.2 398.4,709.3 392.1,686.4 397.4,714.9 398.6,649.4 399.1,637.2 394.8,662.2 397.3,725 403.4,690 397.5,617.5 398.3,703.1 397.3,624.8 401.4,691.7 399.4,668.4 393.8,688.5 396,685 393.4,699 398.3,675.3 400.3,665.8 398.1,719.9 397.6,603.4 393.8,705.6 397.2,626.1 397.9,677.3 398,654.8 397.6,602.5 397.6,731.2 397.3,693.4 399.7,671.7 397.6,585 402.9,704.1 398,725.9 397.5,624.5 397.6,606.5 396.1,703.2 396.2,648.6 394.2,694.4 394.6,680.5 397.2,718.5 398.8,715.4 399.4,683.4 397.8,729.7 395.9,703 398.4,643.8 395,714.6 398.1,603.4 397.5,627.8 392.9,700.5 397.4,673.9 400.6,690.8 402.8,701.8 398.1,617.1 397.6,607.2 396.6,657.3 395.4,697 394.2,680 401.8,705.7 400,654.2 396.8,705.8 399.9,700.4 397.8,617 403,689.7 397.7,727.4 397.9,683.1 402,678.6 402.5,706.8 403,682.7 396.6,627.8 396.3,671 397.8,608.2 401,712.7 397.4,625.4 396.3,642.7 400.5,678.2 397.3,630.6 401.4,705.4 397.7,680.6 396.5,647.1 397.7,627.7 395.2,712.8 399.5,712.6 395.2,656.1 395.2,706.8 393.1,679.9 394.1,701.1 397.2,672.5 399.9,652.6 398.2,624.9 396,641.3 402.3,708.7 397.6,722.1 397.8,647.2 397.9,646.2 398.6,670.9 401.3,670.7 397.3,681.2 399.5,696.3 400.8,666.9 401.1,692.9 398.2,630.4 393.1,702 397.8,684.3 396.5,710.5 400.4,677.9 397.5,648.1 398,619.5 397.9,661.3 401.2,703.3 397.8,697.9 399.6,718.4 393.5,705.5 396.5,716.7 395.5,648.3 400,711.7 397.6,604 394.7,714.9 396.6,648 402.2,685.9 394,690.5 397.5,621.7 397.6,686.7 397.1,668.6 398.7,662.5 397.9,656 397.2,604.7 396.6,657.5 395.4,658.6 398.2,635 397.3,704.6 395.3,661.2 397.9,662.8 396.3,655.1 398,613.9 400.7,686.7 402.2,676 399.2,693.4 400,666.4 396.7,623.6 397.6,603.3 392.4,680.6 397.6,642.3 398.4,622.7 401.3,677.8 396.9,674.8 394.1,681.7 395.3,720.6 399.3,637.6 397.6,605.2 398.6,685.9 397.5,702.1 402.8,680.1 397.5,692.9 397.7,664.8 397.5,710.5 397,715.7 396.5,713.7 397.6,715.2 395.7,721.3 400,674.3 394.8,653.5 397.4,633.8 398.6,667.3 399.6,678 398,656.5 397.6,607.4 397.9,688.3 392.5,687.6 397.1,668 397.5,605.4 398.4,651.4 401.3,673.1 397,679.8 397.3,710.9 399,636 399.7,664.7 397.7,609.7 396.6,669.9 396.9,709.7 398.1,722.4 397.5,635.2 398,666.1 396.2,660.3 396.5,722 397.6,712.7 397.8,609.8 397.7,652.2 393,694.4 397,680.8 397.6,730.6 394.3,692.2 397.1,633.5 396.1,652.8 393.6,709.3 397.3,623.6 396.1,695.6 397.1,678.2 398.9,634 400.8,714.8 392.2,683.2 400.5,704.4 398.5,633.5 397.3,649.8 396.8,632.4 397.4,609.1 395.7,663.9 399.2,648.1 401.7,703.3 397.4,655.7 399.2,664.2 401.8,678.7 399.9,708 397,681.2 398.5,657.5 395.7,704.2 397.8,646.8 393.2,692.9 397.6,662.3 397.3,614.8 397.6,604.6 401.5,680.3 397.8,632.9 399.8,709.3 395.3,705.1 397.1,627.1 396.2,661 395,702.9 397.7,663.6 391.9,692.4 402.9,690.8 396.2,716.1 396.3,710.1 399,721.6 394.9,715.7 398.2,663.5 394.5,699.7 396.7,725.6 397.6,643.1 398.8,725.7 394.6,677 400.2,692.2 397.7,613.6 398.3,660.7 400.2,657.5 403.3,702.6 400.5,670.3 398.1,625.8 397.6,589.2 401.7,706.9 397,676.3 397.6,721.9 395.2,710.8 400.1,652.1 393,676.9 393.5,682.7 398.8,708.4 397.3,639.9 396.6,626.8 398.4,628.3 396,642.8 397.4,609.4 395.4,680 397.4,727 395.9,698.3 397.4,631.4 397.7,623.7 399.7,658.3 404.1,691 395.4,662.8 396.9,673.8 397.2,702.1 395.2,679 396.6,725.4 396.9,706 397.6,674.4 396.7,676.8 393.7,681.9 397.6,712.4 397.1,676.2 396.1,706.5 401.5,683 397.5,709.2 397,673.3 397.5,706.2 398.3,629.8 397.9,728 402.3,677.3 397.6,605 398.4,630.4 398.7,695.2 397.6,604.9 391.4,700.2 396.2,636.1 397,728.6 397.2,627.1 393.9,677.8 401.5,700.5 398.3,726.6 397.3,645.4 395.1,711.9 396.7,656.7 395.2,660.4 396.1,663.9 394,697.2 401.5,701.4 397.6,724 398.1,622.8 398.5,650.7 397.9,646.8 397.7,612 396.4,668 397.3,724.1 397.2,657.4 394.3,683.6 397.3,677.8 397.7,640.2 398,630.9 400.1,652.1 395,652.8 397.8,656 395.3,674.1 398.9,671.9 397.6,630.4 395.7,678 398.1,619.8 397.9,694.3 394.8,703.4 397.8,711.4 396,642.5 399.8,720.2 404.3,692.2 403.9,691.4 400.4,696 399.8,677.4 393.3,697.2 397.6,691.6 395.9,673 403.6,692.9 397.6,608.6 398.2,660 398.8,702.8 397.8,691.5 399.9,711.8 392.8,706.5 395.5,686 395.7,687.6 400.2,659.4 397.8,611.1 394.9,711.4 399.5,693.7 400.8,663.4 397.4,623.8 397,628.8 396.7,701.9 400.2,652.5 398.8,724.1 395.7,703.1 399,720.9 394.1,673.7 398.9,657.6 395.5,668.8 397.2,719.1 397.8,659.4 396.4,633.8 397,726.8 395.7,692.1 393,709.8 397.7,690.6 397.3,698.4 399.7,713.2 394.3,714 399,707.8 401.7,706.6 398.4,630.4 397.5,627.1 397.1,677.5 397.5,626.8 400.6,659.5 397.5,722.8 401.1,669.6 397.9,677"/>
<polyline fill="none" marker-start="url(#mb)" marker-mid="url(#mb)" marker-end="url(#mb)" points="427.1,715.4 426.9,643.4 425.6,695.4 432.5,740.5 429.3,749.2 428.4,739.7 426.3,585.6 426.3,577.7 426.6,691.5 426.4,601.8 426.3,576 427.7,738.9 425.3,713.3 426.3,598 425.9,652.5 426.6,673.4 426.5,605 426.8,643 426.8,664.2 427.2,696.1 425.8,648.2 427.6,743.7 426.5,636.8 425.5,640.5 426.3,691 426.4,608.2 426.9,653.6 426.1,711.1 425.8,726.3 425.8,717.4 426.3,676.7 426.4,726 431.9,744.2 426.1,714.6 425.9,582.5 426.6,645.9 427.5,731.7 426.3,665.7 427.2,674.4 426.3,622.4 425.8,626.1 426,653.1 425.8,640.1 425.6,642.6 431,744.4 426.5,610.4 426,657.7 425.6,672 425.8,666.3 426.8,653.2 425.9,642.9 423.8,748 426.3,577.5 425.9,707.7 426.4,589.3 425.3,681.3 425.8,721.3 432.3,748.4 426,621.9 425.8,691.4 426.1,679.7 426.9,638.7 427.2,682.9 426.4,660.2 425.9,655.6 426.3,633.1 425.4,719.5 426.7,630.2 419.4,747.3 426.3,590.2 425.4,721.5 426.6,682.9 427.4,707.4 426.1,677.6 425,736.3 426,607.5 426,693.9 426.6,634.6 426.1,677.4 425.2,730.2 425.6,737.9 425.9,698.3 426.3,597.7 425.7,725.2 426.3,704.7 427,734.9 426.1,629.4 426.8,650.3 426.1,738.5 426.8,721.3 427.1,642.9 427.4,705.3 425.5,712.5 425.9,623.4 426.3,730.2 426.4,724.8 429,742.2 425.8,629 426.4,694 426.5,606.1 426.4,596.9 426.5,600.2 426.5,704.1 425.3,699.3 426.6,638.2 425.2,693.8 426.6,666.9 426.7,723.2 426.4,699.9 426.4,680.1 426.9,576.5 426.6,680.1 426.4,593.2 425.8,634.7 428.5,742.1 432.6,743.5 426,632.6 425.7,637.2 426.3,640.3 427,692.6 425.4,684.5 426.5,629.1 426.3,563.8 421.8,746.5 425.7,686 419.2,743.4 426.7,712.8 425.9,659.7 426.3,577.4 426.3,584.8 426.4,611.9 427.1,741.6 426.7,664.5 426.2,698.6 427.3,747.5 426.5,612.1 427.3,707.4 425.8,636.8 426.4,658.2 426.1,598.7 426.1,711.1 426.8,721.5 429.3,742.1 426.8,727.9 427.4,748.6 427.1,737 426.3,633.4 426.3,555.3 426.5,732.3 432.8,741.8 427.1,695 426.3,648.3 426.4,590.3 426.4,744.2 426.1,697.3 426.1,700.5 425.4,693.5 429.7,739.3 426,658 425.6,700.4 427.1,694.2 426.3,653.3 426.7,639.1 426.3,589.6 426.1,610.3 426.3,614.8 426.2,670.5 426.3,594.1 426.3,587.5 427,725.9 426.4,661.9 430.5,746.4 426.4,684.7 428.4,741.1 427,649 426.9,730.5 425.9,661.6 426.8,692.3 425.9,626.4 420.2,743 427,637.8 426.1,593.8 426.4,637.9 423.1,740.8 425.3,701.6 425.7,660.6 425.9,644.8 426.8,701.1 426.6,667.7 426.7,731.9 425.3,708.6 426.3,600.9 427.2,702.4 426.9,663 425.9,652 426.6,665.9 425.6,654.5 425.9,728.5 425.7,663.8 426.3,625 426.3,600.2 425.1,731.2 426.3,606.8 425.2,719.4 427,729.9 425.4,696.4 426.7,608.4 425.9,733.1 432.8,745.6 425.6,678.2 427.2,689.7 425.6,675.3 425.2,688.6 425.5,662.7 426.2,603.5 426.9,626.8 426.1,660.5 427.6,736.6 426.6,580.7 426.6,666.1 419.8,749.4 425.8,684.3 427,689 426,653.1 426.3,731.2 426.4,605.3 426.7,688 426,682.7 425.6,679.5 425.5,654.8 426.8,692 426.4,695.5 427.4,744.1 425.7,652.8 426.1,639.3 426.5,640.7 425.4,725.2 427.4,745.8 426.4,594.6 425,735 425.2,706.5 426.8,632.9 426.6,626.1 426.5,746.5 426.8,706.5 426.8,645.5 424.2,739.5 426.8,617.2 425.6,688.6 426.3,630.1 425.8,697.8 426.6,699.9 426.1,602.5 426.3,579.4 426,613.3 426.4,694.4 426.6,611.1 426.1,602.4 426.3,580.7 427.1,689.7 426.3,584.2 427,662.5 419.3,744.1 425.4,665.6 426.5,723.3 425.3,698.5 426,689.4 427.2,657.4 426.1,613.1 426.9,710.2 426.3,614.5 425.7,698.2 426.6,618.5 425.3,735.6 426.6,634.4 426.3,682.5 426.3,579.5 427.2,703.2 426.6,704.5 426.3,600.1 421.3,743.7 426.8,652.5 426.8,688.2 424.4,742.2 426.3,611.6 426.9,671 426.5,630.3 426.8,655 426.8,687.9 426.1,698.9 426.2,689.7 426.8,683.9 426.7,615.7 425.9,616.2 426.2,597.5 426.7,720.4 424.8,739.4 426.2,597.4 426.5,681.2 426.8,711.5 426.6,683.6 426.3,586 425.9,613.4 426.1,680.2 426.8,726.4 426.3,581.7 425.8,663 425.6,645.2 426,607.7 426.4,702.9 425.7,734.1 425.8,624.3 426.3,622.6 425.7,630.7 426.3,678.6 426.7,721.5 426.5,677 425.9,731.6 420,747.4 424.2,745.3 427.2,656.9 425.9,638.7 432.6,745.5 426.6,662.7 426.7,630.2 433,744.8 426.7,615.2 428.2,745.5 429.1,740.7 427,652 426.2,711.8 427.1,714 426.3,581.5 425.9,722.6 423.5,745.2 427.4,695.7 426.3,661.2 426.7,653.4 426.3,713.2 423.1,745.1 426.5,597.5 427.5,748 426.3,700.3 425.4,659 425.7,639.6 426.8,694.8 427.4,734 426.3,749.1 426.3,631.5 426.3,679 426.7,647.7 426.3,580.6 426.1,727.7 426.3,586.4 425.3,708.8 426.3,577.7 426.3,583.4 426.3,580.3 426.5,676.3 425.1,732.5 425.8,659.2 425.9,675.2 426.8,745.2 426.9,627.4 426.8,661.3 427,650.8 427.3,689.2 425.6,683.7 426.9,664.2 426.2,584.9 427.3,695.7 430.2,747.6 426.1,617.4 426.5,615.3 426,696.2 419.4,745.2 426.1,600.6 426.4,610.4 426.6,678.2 422.1,748.6 425.8,686.4 426.2,645.3 426.8,701.1 426.3,707.9 426.2,577.5 425.4,746.6 426.4,597.3 426.7,717.9 426.2,587.4 425.7,693.5 426.8,742 426.3,661.9 426.6,588.9 427.3,670.1 425.6,692.3 425.6,717 426.1,598.1 425.8,714 427.3,705.3 426.5,738.2 427.2,689.2 426.7,642.1 426.5,596.7 422.7,747 418.9,745.4 426.3,588.8 419.6,744.4 427.5,741.3 426.7,626.4 426.3,598.9 426.3,575.1 427.2,734.1 425.7,664.9 426,701.2 425.9,736.1 427.3,692.4 426.3,593.7 426.8,660.3 426.1,635.6 427.1,690.8 426.9,689.5 426,632.8 426.3,582.8 425.8,705.4 427.3,710.5 426.1,660.8 425.8,700.7 425.7,611 426.8,627.2 426.3,738 426.4,599.2 426.6,691.1 426.7,705.6 431.3,745.7 426.3,584 421.3,744.9 426.1,599.2 426.2,602.8 427.4,683.2 425.5,679.9 428.6,744.4 426.4,729.9 425.5,724.7 426.2,594 425.9,746.8 425.8,741.7 425.8,624.1 426.8,734.3 420.2,742.6 426,686.1 426.4,587.8 426.8,603.4 425.9,647.5 425.2,729.1 427.5,711.9 426.5,683 426.4,610.8 426.5,613.5 426.3,576.2 426.4,589.3 426,639.2 426.6,690.3 430.9,745.6 426.4,676.6 422.2,740.3 425.7,623.8 426,591.3 426.7,704.8 426.8,608.1 426.1,609.1 427.7,739.5 426.7,686.7 426,627.7 426.8,704.3 426.6,722.4 425.8,669.6 425.7,635 426.9,733.5 426.3,585.9 426.4,709.5 426.2,593 425.9,624.9 426.9,654.6 427.3,731 426.6,719.6 431.3,747.3 423.9,738.6 426.3,583.5 425.6,715.3 421,746.6 426.3,574.8 425.9,721.2 426.5,671.6"/>
<line x1="416.8" y1="704.9" x2="435.8" y2="704.9" stroke="#111" stroke-width="1"/>
<polyline fill="none" marker-start="url(#mb)" marker-mid="url(#mb)" marker-end="url(#mb)" points="454.3,720.3 455,681.1 454.8,651.2 456.6,691.5 456.6,681.9 452,742.4 454.7,722.7 455.5,637.9 455.4,634.5 453.3,681.3 456.1,694.4 453.6,693.2 454.5,678.9 455.9,649 456.8,745.8 461.2,739.5 456.6,699.6 455.4,644.7 453.8,743.1 456.7,745.7 455.6,703.4 456.5,681.6 460,748.1 455.1,649 454.1,662.3 453.8,720 456.8,694 454.7,686.6 455.8,737.9 454.4,666.2 456.2,655.7 456,697.4 453.7,709 461.2,748.2 454.5,675.2 456.6,700.4 455.5,703.3 455.1,710.6 455.5,695.2 453.8,669 453,723.2 453.7,707 456.7,726.5 456.1,700.6 456,693.1 454.5,682 456.1,643.5 454.5,714 455.7,630.9 453.5,694.3 455.9,717.8 448.6,745 456.7,724.6 455,686.8 453.2,746 451.8,736.4 455.9,685.8 456.7,744.8 451.9,741.7 454.5,704.8 454.6,650.6 455.7,698.4 453.3,713.5 454.7,649.5 456.2,713.9 456.1,741.3 454.8,706.4 456.1,651 455.2,713 450.9,743.9 454.9,698.1 457.7,742.7 456.1,671.8 455.3,644.7 454.9,677.2 453.3,696.5 454.2,654.9 456.3,675 456,709.6 454.7,659.9 455.1,654.8 455.6,725 456,733.4 456.8,731.8 455.7,684 448.1,742.5 447.9,743.4 455.7,697.1 454.8,709.3 453.2,725.9 456.5,683.6 454.7,672.4 455.4,664.9 449.7,744.9 455.8,701.9 455.6,649.8 454.5,670.3 455.9,638 456.4,685.5 460.4,749.1 453,717.7 453.1,715.5 455.3,642.1 453.5,682.3 454.8,708.6 455.3,723.8 455,650.8 456,641.4 453.7,732.3 454.9,666.5 453.2,709.3 454.6,740.5 456.1,691.3 456.9,692.9 454.9,654.5 454.2,715.5 454.9,657.6 452.3,742.8 448.9,739.3 456.4,727.3 456,726.1 457,746.9 454.4,687.4 456.1,650.7 454.3,698 454.5,666.7 456.5,703.6 456.5,685.3 453.7,709.9 453.4,713.9 455.7,630.5 456.1,661.3 456.4,724.8 454.5,662.6 455.1,634.2 455,679.6 457.3,739 455.5,645.9 454.9,631.9 454.3,706.7 448.6,746.5 455.3,721.8 454.1,633.2 455.4,678.9 458.4,736.8 453.4,708.9 453.6,698.9 453.5,672.7 453.6,717.5 455.6,701.3 454.4,646.4 454.5,727.2 454.1,749.3 457,737 453.6,670.6 456.9,737 454.8,740.5 454.8,631.1 455.2,727 455.1,674 455.7,701.4 452.9,738 458.2,737.1 459.5,745 456.6,696.9 455.7,701.5 459.3,739.9 449,746.7 456.1,667.1 454.5,636.4 458.7,738.4 458.4,738.5 456.1,708.3 457,708.9 454.8,649.9 453.8,693.7 455.6,707.9 457.6,740 455.3,717 456.9,722.8 456.4,730.9 455.8,738.6 456.1,690.3 449,747.3 453.9,714 454.4,726.2 456.1,687.8 454.7,661.1 455.1,716.8 455.2,708.9 455.5,635.7 454.1,693.6 454.7,659.2 453.6,693.8 456.1,718.6 455.1,700.6 455.9,739.3 453.9,679.9 454.6,704.6 455.9,679.1 452.9,725.1 455.3,673.6 454.4,679.1 454.2,642.5 454.2,655.7 454.5,697.5 453.4,748 452.3,746.4 457,732 455.7,674.9 455.2,633.9 455.1,643.5 454.7,703.4 456.3,749.1 461.5,742.9 455.1,704.7 453.9,697.7 456.2,685 454.8,663.2 456.9,709.1 456,663.8 452,748.5 458.3,743.9 456.3,681.9 462.4,748 454.5,748.8 455.2,633.8 454.1,634.8 455.7,694.7 451.9,746.3 456.6,682.5 460,744.7 453.4,741.8 455.4,651.6 455.7,664.3 456,666.6 455.1,665.2 454.6,710.3 454.5,685.6 455.3,644.3 453.5,699.7 456.7,694.9 455.5,643.1 455.7,646.8 449.2,740 453.6,728.8 454.3,692.2 455.3,668.5 456.1,666.7 453.7,731 453.9,683 455,692.1 455.3,668 455,695.9 455.1,657.3 455.7,629.7 456.1,692.2 454.5,653.3 451,748.1 453.9,663 450.5,741.9 455.5,654.8 451.7,748.1 456.2,665.1 456.7,728.7 458.7,742.1 454,739.3 456.3,693.1 454.9,673.1 455.5,650.1 454.9,638.9 453,739.2 454.9,691.5 456.8,707.9 456.7,735.5 454.4,668.2 457.8,746.6 455,629.6 455.9,649.6 455.8,649.3 454.7,699.8 455.8,643.6 454.8,653 454.9,698.1 456.1,723 455.4,743.9 454.6,639.1 454.5,747.3 452,742.8 453.2,697.6 455,639.6 456,680.3 450,744.8 461.5,748 456.1,710.3 454.1,667.7 454.2,722.2 454.1,732.3 455.4,681.3 456.9,715.8 456.1,679.2 454,720.7 454,670 455.4,635.1 455.4,651.6 461.2,746.8 455,735 457,706.4 454.4,670.4 453.7,706 455,686.4 455,666.3 450.8,745.1 455.2,686.1 454.2,647.7 455.7,647.9 454.1,674.8 456.7,688.3 450.9,749 452.3,740.2 460.6,747.5 453.1,728.7 455.2,639.3 455.9,688 454.6,639.4 455.3,669.8 455.1,716 450,749.3 461.2,739.3 456.4,742.7 452.4,743.4 457.1,712.8 456.4,719.4 454.5,642.2 456.4,694.1 456.7,692.5 454.9,645.9 456.7,682.2 454.6,730.6 453.2,709.6 455,720.5 456.6,689.8 452.7,745 455.9,663.2 454.2,730.5 455.3,645.6 455.6,645.8 454.5,644.4 454.6,707.4 452.9,721.9 453.6,688.9 456.8,686.6 453.2,696.6 455,637.9 453.4,672.4 455.8,678.7 455.3,675.6 454.7,661.1 456.9,693.3 453.2,743.4 456.8,710.7 453.2,731.7 453.3,746.5 454.4,630.6 455.3,745.5 453.2,684.4 455.2,678.7 455,658.2 453.9,709.1 455.6,647.3 455.8,668.9 455.1,730.2 455.2,729.9 456.9,713.2 455.6,742.7 455.2,662.6 454.4,629.8 454.4,675.2 456.1,665.1 447.9,748 457.3,736.9 458.2,738.6 454.8,664.9 456.7,731.2 455.2,660 455.5,664.8 456.4,732.1 454,677.1 458,748.8 455.1,682 456.4,698.4 456.1,712.2 455.8,733.4 456,635.6 455.5,736.3 454.7,689.1 454.7,652 455.1,690.3 453.6,726.2 454.8,713.1 453.5,683.2 453.1,733.4 455.5,715.7 456.3,662 455.3,649.6 454.5,658 455.5,731.2 454.6,641.6 455.7,656.3 457.1,715.4 454.6,635.1 454.4,666.6 455.1,723 455.9,694.2 455.5,719.6 456.2,686.2 454.9,655.5 456,713.4"/>
<line x1="445.5" y1="717.7" x2="464.5" y2="717.7" stroke="#111" stroke-width="1"/>
<polyline fill="none" marker-start="url(#mb)" marker-mid="url(#mb)" marker-end="url(#mb)" points="482.3,741.8 483.8,749.9 480.3,746 482.5,741.2 479.4,743.1 486.6,748.2 480.9,748.2 483.6,740.7 483.1,741 486.3,745.7 483.3,746 484.5,743.5 479.8,747.5 481,740.9 481.8,744.6 479.7,740.9 489.9,749.2 479.8,744.7 485.3,745.9 480,743.5 483.6,749 480.3,749.6 476.8,745.9 490.9,744.7 488.8,743.5 482.7,744.8 485.2,740.3 478.9,750.2 485.9,740.8 486.3,748.1 479,743.3 488.8,747.9 488.3,745.3 488.4,750.5 478.7,747.1 482.4,746.7 479.5,748.4 484.3,746.4 483.2,742.3"/>
<polyline fill="none" marker-start="url(#mb)" marker-mid="url(#mb)" marker-end="url(#mb)" points="509.7,747.8 512.5,733.8 513.6,747 512.2,723.8 511.9,725 511.6,737.8 518.7,749.6 512.8,719.6 510.8,745.4 512.8,749.8 513.6,747.5 512.8,718.2 513.5,729.8 512.4,713.9 513.2,723.4 514.1,746.9 512.4,719.4 513.6,749.6 512.4,720.4 510.8,740.9 505.8,744.3 514.3,734.7 512.1,714.6 513.5,733.5 510.2,742.3 507.7,744.8 518.9,745.5 513.4,744.7 510.1,744.5 513.9,727.4 512.7,733.3 513.5,722 508.6,747 512.5,722.6 513.1,730.1 516.5,740.1 513.1,718.8 511,732.2 514.7,745.4 510.8,732.8 510.9,744.9 519.8,746 510.5,735 511.6,737.2 516.9,741.3 518.5,746.3 514.6,746.6 513,730.4 509.5,748.3 518.5,742 511.1,743.8 512,739.2 513.8,728.7 511.5,741.8 506.7,744.3 515.1,750.2 519.1,742.4 511.8,727.2 510.3,745.6 511.9,737 511.2,739.8 513.9,743.9 510.6,742.2 511.8,725.9 511.8,727.7 512.2,737.9 516.3,739.4 512.5,743.7 505.5,746.6 518.5,746.8 511.5,724.1 510.6,744.2 512.3,737.6 512.4,743.1 514.4,750.4 516.7,749 510.4,733.5 512.3,723.1 517.4,741.8 512.8,740.7 512,735.1 512.3,715.9 513.3,733.4 514.1,731.8 511,726.6 510.4,739.5 514.6,743.9 511.1,736.6 509.8,748.1 510.8,730.1 512.2,714.7 511.3,738.7 512.3,739.5 513.3,727.4 511.9,731.5 512.1,749.6 512.4,712.9 512.8,716.4 512.4,720.3 506.1,747 512.6,724.5 512.3,742.8 506.2,744.7 512.2,730.5 511.5,719.9 513.8,729.2 512.9,721.9 512,716 512.1,721 510.4,735.4 511.4,721.6 511.1,743.1 512.1,732.5 515.6,749.8 511.1,745.3 515.6,743.3 513.5,724.3 513.6,741 507.4,741.6 511.6,735 512.5,716 512.7,719.1 512.7,746.3"/>
<line x1="502.9" y1="739.9" x2="521.9" y2="739.9" stroke="#111" stroke-width="1"/>
<polyline fill="none" marker-start="url(#mb)" marker-mid="url(#mb)" marker-end="url(#mb)" points="540.1,740.9 546.7,745.4 536.5,743.7 537,742.2 539,738.4 541.3,745.2 543.1,748.4 534.9,748.4 542.8,746.1 541.3,742.3 539.9,743.9 546,746.4 542,741.5 537.1,742.4 537.6,749.4 539.6,749.3 541.1,743.2 541.2,744.9 541.2,741 537.5,749.4 541.2,747 546.3,743.3 544.6,739.5 546.7,741.9 544,749.8 536.5,748.3 543.7,748.9 541.1,740.6 538.1,740.9 543.2,743.7 541.7,747.6 540.2,744.5 537.1,742.2 541.4,746.7 545.9,748.6 541.5,740.2 538.2,749.8 541.6,745.7 547.9,743.8 543.4,747.3 538,738.7 544.4,740.1 533.9,744.4 539.5,749.5 535.5,745.6 545.1,747.4"/>
<polyline fill="none" marker-start="url(#mb)" marker-mid="url(#mb)" marker-end="url(#mb)" points="571.4,740.1 569.4,740.8 568.7,742.2 569.6,745 568.2,747.4 566.5,744.7 566.2,747 569,740.9 572.1,748.2 566.8,747.5 573.4,749.3 576.3,746.4 569.7,749.2 573.5,745.5 571.2,746 573.4,744.5 568.4,747.2 575.3,742.3 571.8,747.7 565.7,748.7 569.5,748.9 565.7,745.2 569.3,744.8 564.9,742.6 571.6,744.7 571.4,743.3 567.8,746.8 571.8,742.7 571.2,743.5 568.2,743.7 571.2,745.2 571.3,742.2 568.7,742.6 569.5,743.7 565.3,743.2"/>
<polyline fill="none" marker-start="url(#mg)" marker-mid="url(#mg)" marker-end="url(#mg)" points="598.5,532.1 599.3,589.1 602.4,664 598.9,711.4 598.9,645.4 594.5,644.9 595.4,662.3 596.4,584.6 598.7,702.7 598.8,620.9 603.8,660.3 598.5,627 603.1,629.7 596.4,630.1 595.6,699.1 598.4,677.4 599,540.6 598.3,711 596,591.2 599,707.6 597.3,564.1 600.2,688 597.3,592.4 598.5,621.2 598.4,675.8 599.5,596.6 599.3,598.3 598.8,543.9 593.7,659.8 593.5,674.9 598.9,580.7 598.8,684.5 599.1,569.5 598.2,543 600.3,629.4 598.5,547.8 598.6,655.4 603.5,676.2 597.6,604.8 595.7,628 598.4,712.1 597.9,686.6 597.2,593.9 595.2,689.4 595.1,684.1 597.7,551 598.3,627.5 594.6,647.2 594.9,663 604.6,631.1 598.2,553.7 599.6,559.5 598.3,583.1 599.7,560.3 604.5,639.7 601.8,673.3 599.5,667.4 601.1,616.6 598.8,662.5 597.4,589.4 594.9,610.1 595.6,606.5 600.3,570.5 604.2,667.5 593.8,634.7 597.7,632.2 598.5,698.8 593.7,611.6 600.6,621 598.8,564 597.8,652.9 598.8,711.2 592.3,647.6 595.8,673.7 595.2,653.1 600.9,591.3 601.2,655.2 604.7,659 598,578.3 597.5,606.3 595.1,658.4 604.9,659 596.6,605.9 598.8,639.2 598.3,688.1 598.2,672.9 594.7,650.9 598.1,572.7 599.6,705.4 594,654.3 595.9,622.9 596.5,678.8 600.6,665.4 595.5,672 592.4,662.7 602.2,602.6 599.3,554.2 599.6,666.9 597.6,675.8 599,575.2 599.2,598.3 597.5,708.4 599.7,673.3 593.4,678 598.9,587.3 598.8,705.5 602.7,652.1 598.5,533.1 602,658.2 593.2,620.8 598.5,559.1 598.6,683.6 601.1,632.4 600.2,644.8 594.9,667.4 597.8,558.2 597.8,685.9 597.9,703.9 596.3,634.1 598.6,620.9 602.3,675.4 597.4,561.4 598.3,701.4 598.7,561.7 598.3,647.9 598.4,557 598.7,710.8 598.5,485.2 595.9,649.6 601.5,594.7 598,661.9 598.5,592 598.4,645.5 592.4,652.9 601.5,686.3 593,619 598.5,609.1 599.5,657.8 600.8,588.6 597.9,625.9 596.5,578.7 591.7,666.1 600.6,574.7 598.8,593.2 599.5,598.9 596.1,617.4 599.4,560.7 594.9,639.5 599.9,642.6 598.9,533.7 593,670.9 595.5,613.8 593.3,658.7 593.3,657 594.8,659.4 600.9,686.7 598.5,689.3 600.2,674.9 604.1,679.3 599.4,558.4 603,633.9 601.7,605.6 598.8,551.1 598.4,591.5 591.6,670 597.6,588.3 598.6,712.2 598.3,624.5 600.2,634.2 598.2,554.4 602.1,689.8 601.9,613.4 595.1,641.7 597.9,571.2 599.9,640 596.9,667.7 592.3,642.9 602.7,685.4 600.8,655.9 595.7,654.3 599.7,688.4 598.3,537.8 598.7,691.8 601.6,593.4 599.9,677.7 596.7,661.8 597.7,553.8 598.1,704.6 599.4,709 598.1,600.1 598.5,535.6 597.6,688.4 594.2,620.9 605,636.7 601,605.1 601.2,593.2 596.4,602.1 601.4,617.9 599,590.5 597.7,695.2 598.3,574.2 597.4,706.8 599,633.1 595,616.8 598.7,637.3 597.3,614.4 594.4,646.4 603.8,639.7 604.1,661.5 597.3,588 595.7,653.3 602.4,645.7 601,651.1 597.7,620.5 594.1,680.5 598.5,640.5 597.9,707.9 598.5,571.2 596.7,594.7 595.4,673.9 604.3,669 600.2,682.6 596.9,652.2 601,619.3 592.8,638.3 595.9,622 598.3,700.4 598.5,662.5 596.8,569.8 602.6,682.2 598.7,594 597.9,574.8 602.7,683.3 594.4,634.1 598.5,537.1 595.1,601.2 600.3,631.9 598.9,566.1 604.5,652.3 596.4,700 598.5,455.5 594.7,637.5 600.4,690.6 600.7,688.3 598.3,576 600.8,690.8 595.4,647.6 593.6,621.8 595.1,629.2 598.5,535 600.5,627 592.4,660.4 600.8,701.6 598.1,599.9 598.5,534 597.4,658.6 596,690.3 596.3,636.2 600.6,578.8 595.9,643.8 598.7,568.3 597.7,635.6 597.3,603.3 601.4,680.8 593.7,620.9 594.6,687.4 594.7,668.3 602.3,650.7 598.1,603.8 599.3,613.8 601.1,588.9 597,673.1 598.1,552.3 595.2,628.7 600.2,678.1 597.9,647.3 600.2,624.3 600.5,596.2 596.9,608.3 602.1,600.1 593,631.6 598.5,536.1 596.2,661.1 592.3,672.8 598.6,597.2 599.4,586 604.6,668.7 594.9,680.2 604.6,638.4 592.9,627.1 598.4,622.7 604.5,623.7 595.5,644.5 602.5,660.8 598.2,610.8 596.8,615.6 600.1,614 598.6,686.5 598.1,559.6 599.4,566.7 599.5,606.8 598.6,658.9 599.3,678.2 603,664 602,664.3 600.2,570 603.7,623.6 598.8,685.7 597.7,577.2 596.6,581.6 599.1,627 599.4,576.3 595.8,660 599.1,681.6 596.6,575.5 597.3,580.7 604.3,655.2 598.1,632 599.1,604.9 598.4,616.6 595.6,697.4 598.5,688.2 600.8,615.1 596.2,647.4 600.9,596.5 603,650.8 604.9,655.5 598.3,657.2 598.8,540.1 596.8,694 603.8,661.4 596.7,631.8 597.5,650.1 594.1,666.3 599.2,664.5 594.7,630.5 600.6,636.3 599.4,635.5 598.3,575.3 603.3,638.4 602.4,606.5 598.6,561.2 598.2,666 595.6,612.8 598.4,575.6 599.8,690.9 594.5,693.1 597.8,559 596.9,700.6 602.2,688.6 602.4,646.3 596.4,687.4 602,611.3 598.5,649.1 601,683.2 598.5,560.2 603.6,646.8 597.7,573.7 601,701.1 598.3,597.3 598.9,551.2 594.3,669.3 597.8,580.2 594.7,626.3 602.8,632.4 598.8,642.3 594.9,671.6 598.6,671.5 601.5,652 600.2,595.5 599.2,643.6 598.4,585.7 596.5,697.8 598.9,554.6 600.5,622.1 600.4,587.4 602.7,668.8 595.9,600.3 596.6,588.6 595.5,695.4 596.5,622.2 595.9,630.8 593.5,654.9 598.2,632.3 601.3,588.5 598.1,666.9 596.8,658.8 598.1,549.1 600.6,583.3 595.8,602.1 603.2,629.2 595.1,632.2 603.7,649.5 595.5,656.4 596.8,680 596.1,606.3 598.2,667.6 597.6,578.8 604.2,642.7 598.8,580.9 600.8,700.8 598.7,576.3 603.3,616.6 595.6,628.7 594.6,625.2 604.1,633.1 599.4,708.3 598.5,541.7 602.2,659 600.6,688 601.3,673.1 602.1,605.7 595.7,698.7 599.6,664.6 601.3,692.6 598.2,580.4 599.7,603.7 597.2,578.8 598.9,709.6 597.8,697.6 601,643 601.3,645.5 600.1,622.4 595.6,695.2 595.4,602.3 601.8,693 598.5,622.6 597.1,691.5 595.4,661.2 598.8,694.4 597,578.9 604,664.1 598.4,649.7 596.5,695.6 595.8,596.8 600.4,653.1 601.4,605.5 598.6,700.2 599.3,704.3 602.1,694.4 596.4,622.5 598.1,564.1 596.1,701.1 595.9,608.4 594.6,682.3 597.6,615.9 598.9,592.2 599.5,674.1 598.4,540.4 603.5,619.6 598.6,543.5 597.4,611.6 598.2,541.3 598.4,600.3 597,566.9 598.9,688.7 598.1,629.8 595.3,644.4 592.1,648.9 595.7,688.3 594,667.8 598.5,588.7 600.4,685.9 598.5,543.1 598.5,660 594.8,661 597.7,701.4 592,666.8 602.9,636.8 599,576.1 598.6,594.5 603,678.4 598.1,618.8 600.9,695.6 599,664 602.1,672.8 593.2,663.5 593.8,677.2 598.9,644.6 605.2,659.3 605.1,668.5 598.6,611.9 597.2,652 596.6,586.7 599.1,565.6 597.6,613.4 598.6,578.1 598.5,723 598.6,538.1 601.4,662.2 595,652.2 598.3,548.2 598.1,647 598.3,620.2 595.6,698.2 595.1,597.1 595.3,643.3 595.6,592.7 592.3,634 598.4,548.2 594.6,682.9 597.3,678.5 598.7,642.8 598.9,630.7 598.5,619.3 603.4,670.1 596.4,698.9 598.5,521.3 599.8,584.4 596.5,611.8 595.5,603.2 594.4,640.2 595,657 602.9,687.7 598.7,672 597.6,705.7 597.8,614.1 599.1,580.5 604,648.4 603.2,633.2 598.8,650.6 604.9,670 598.2,545.4 598.2,639.2 598.4,537.7 595.8,679.1 598.9,574.9 603.9,617.9 600.9,670.6 594.8,636.1 604.5,646.9 594.1,620.8 596.8,585 600.2,655.1 597,622.8 602.4,673.3 600.3,576.7 598.2,560.9 601.9,600.7 599.4,606.2 598.7,704.3 601,640.6 600.8,635 595.8,599.3 602.1,636.7 599.2,707.1 598.8,690.9 596.9,633.5 593.7,667.8 592.5,656.3 598.2,547.6 600.5,610.5 593.3,622.5 598.4,570.6 600.9,584.5 598.9,543.7 596.9,605.6 598.6,661.4 599.5,676 598.7,561.3 597.2,615.9 591.8,661.2 600.7,660.5 598.3,623.1 594.8,683.9 603.7,648 599.2,612.9 599,680 595.5,683.1 598.7,706.3 598.7,574.3 598.5,536.1 598,627.1 592.8,672.6 597.7,556.3 602.8,646 598.2,667.6 595.8,662.6 602.2,605.6 597.1,659.1 598,618.3 601.3,677.2 599.1,595.7 592.2,672.5 601.5,599.4 598.5,500.1 598.5,607.4 600.2,698.7 603.3,652.6 593.3,680.3 593.5,670.3 596.5,641.7 596.1,580.2 596.8,628 600.5,621.6 598.6,595.1 601.6,664.7 602.5,631.7 599,557.2 593.6,663.3 594.7,667.1 600.3,603.9 605,665.8 597.5,612.5 604.8,647.9 602,607.2 598.7,660 604.2,626.3 597.9,706.5 603.1,679.8 597.8,549.9 603.7,620.4 594.5,651.9 596.5,669.7 595.2,595.9 599.8,695.1 598.8,567.3 601.4,596.5 591.8,650.8 597.2,571.1 598.4,535.4 604,643 594,657.3 596.6,573.6 602.9,651.9 593.9,684.2 596.4,618.1 591.9,663.6 600,566.4 600,630.2 598.4,572.6 599.4,559.6 592.6,641.3 599.8,632.1 602.5,687.7 598.7,664.3 598.4,536.9 593,677.6 598.9,614.6 598.5,532 601.2,630.5 598.3,537.6 592.3,650.4 599,597.7 599,664.1 600.4,571.5 599.5,622.1 600.9,673.7 598.4,602.3 600.6,633.3 598.3,654.6 594.6,682.3 592.2,656.8 601.8,597.2 596.5,577.5 594.6,662.5 596.4,652.3 604.9,646.8 594,661.3 603.3,663.3 601.6,636 600.5,631.5 598.3,685.8 602.3,689.6 598.4,701.8 596.5,612.4 596.9,676.6 596.9,638.3 605.3,670.2 598.7,567 598.1,684 599,552.6 601.1,640.2 598.2,540.4 599.5,619.6 595.4,596 602.4,651.4 595.5,638.2 600.5,619.5 602.2,638.4 595.9,584.2 602.5,639.4 600.7,587.1 594.5,634.5 602.8,617.4 601.8,610.2 602.1,636.4 601.6,602.4 601.4,598.8 599.7,573.3 596.2,634.6 598.5,532.4 598.5,532.9 599.1,710.5 600.4,689.5 596,602.4 598.3,654.9 596.3,688.1 596.3,687.5 598.4,576.9 595.7,616.8 597.9,556.6 598.8,550.5 595,662.4 603.6,625.9 599.8,573.4 593.3,676.5 598.6,590.8 596.4,585.3 600.8,637.3 604.1,627.6 602,597.9 597.6,672.7 601.3,678 594.3,616.4 600.2,702.8 600.6,577.5 595.2,682.4 597.8,705.9 600.3,621 592.7,625.9 601.2,668.1 601.8,672.3 597.8,635.6 597.5,702.9 603.1,681.6 599.2,641.2 595.6,596.5 595.5,621.4 597.9,570.5 600.5,633.9 598.8,651.2 599.1,710.3 604.3,644.5 602.2,634.5 600.9,691.7 598,556.6 597.3,594.7 595.6,682.3 592.6,629.7 597,640.5 595.7,688.2 599.5,586.6 600.4,583.5 597.9,674 598.2,539.9 600.4,609.7 600.1,665.5 596.3,625.7 598.7,562.4 598.5,489.5 598.2,578.6 600.5,601.5 597.6,701.8 595.8,655.1 597.5,652.8 598,626.9 597.2,682.3 598.2,573.2 602.4,634.9 596.1,692.8 599.5,597 595.7,639.2 600.9,667 604.7,671 600.9,591.5 598.5,552.2 599.8,587.4 594.5,637.4 597.3,600.7 598.9,558.7 597.9,710.5 600.1,578.5 598.4,704.2 596.3,702.8 603.5,635.5 593.6,635.8 597.9,551.7 594.9,613.6 594.6,632.9 599.1,706.7 599.2,625.1 597.3,566.5 596.6,627.3 593.2,666.2 597.7,704.9 603.8,658.5 602.2,683.2 596,680.6 597.3,628.3 599.9,705.8 595.6,597.8 604.8,665.5 599,616.1 600.6,588.9 603.6,641.7 592.9,661.9 599.9,679.4 599.3,707.2 602.4,685.8 598.5,514.9 596.3,607.8 598.5,535.7 597.8,687.7 600.5,666.8 602.2,659.5 598.2,554.2 602.7,611.9 599.1,555.8 598.3,687.2 597.2,698.4 598.2,701.7 600.5,617.4 600,602 592.4,662.7 598.6,653.8 596.2,664.7 594,623.2 597.2,578.8 598.6,542.8 598.5,532.7 599.3,557.3 596.7,608.8 593.6,612.8"/>
<line x1="589" y1="630.6" x2="608" y2="630.6" stroke="#111" stroke-width="1"/>
<polyline fill="none" marker-start="url(#mg)" marker-mid="url(#mg)" marker-end="url(#mg)" points="626.9,563.2 626.2,713.4 630.6,644.5 627.4,629.3 626.3,589.6 625,697.5 624.8,663 621.5,656.7 621.2,673.6 626.3,631.9 627,562.5 624.1,684.7 625.1,720.5 631.2,717 625.4,633.4 625.8,680.7 627.7,633.8 623.8,657.3 626.7,595.7 623.2,711.1 623.9,632.8 620.9,667.8 633.1,668 629.6,692.1 630.4,644.1 627.8,677.6 628.5,662.7 624.2,708.8 633.7,684.1 633.1,690.8 629.8,636.3 627.4,693.9 632.1,661.4 621.9,692.6 630.8,701.9 629.2,636.1 625.4,626.4 627.7,661.1 627.2,544.8 624.2,715.1 630,718 627.3,567.1 631.3,649.7 627.2,555 631.6,655.8 626.8,609.8 625.2,628.5 625.8,690.7 623,704.4 626.1,607.3 627.4,568.7 630.3,701 620.3,678.2 630.7,678.8 629.6,700.1 633.2,678.3 629.6,647.9 621.2,682.9 627.7,584.1 626.8,629.9 621.9,662.7 624.5,678.4 629.1,654.3 630.8,648.6 626.1,662.7 631.2,684.8 628.4,681.3 627.1,643.9 626.7,631.9 626,640.8 627.3,706.6 624.4,633.2 633.4,683.3 626.2,589.7 631.9,676.3 628.3,677.8 628,576.8 627.6,642.3 634.3,682.1 626.9,657.9 622.5,692.5 628.2,590.6 630.2,688.9 624.2,687.5 628.3,725.5 628.2,596.5 624.9,694.8 627.4,722.4 630,687.3 627.1,655.4 627.9,593.7 628.5,594.5 628.5,699.6 629,637.8 626.4,619.5 627.2,649.2 627,564.1 625.8,647.9 631.2,638.3 629.4,701 625.2,633.6 623.5,717.8 627.8,672 627.7,596.1 625.3,699 624.1,699.3 633.3,702.6 627.3,717.4 630.9,717.9 628.3,645 633.6,683.6 629.1,705.8 627.2,543.3 623.6,651.7 625.5,632 628.6,671.7 627.1,548.8 627.1,674.9 627.4,656.8 632.2,675.4 627.8,566.8 627.6,629.1 628,675.3 627.3,557.5 625.8,686.2 626.3,697.9 627.2,550.9 625.4,695.6 627.2,551.6 626.6,637.7 627.6,585.9 626,725.5 626.8,640.7 627.5,678.9 627.4,585.1 624.8,625.2 624.9,636.6 627,622.1 628.8,665.1 627.6,559.6 624.8,642.1 625.6,651 629.9,711.3 632.6,687.3 628.3,678.3 626.1,597.6 625.8,671.1 626.7,650.4 627.9,699.3 627,709.2 630.2,668.5 625.5,619.7 628.2,678.6 627.4,698.3 626.9,663.7 622.5,670.9 627.3,722.9 627.9,633.3 626.4,682.1 621.9,650.9 621.4,697 623.5,659.1 628.8,692.8 622.2,712.6 628.2,724.7 626.3,622.9 626.2,697.6 628.6,644.6 629,630.4 620.9,679.4 630.2,707.3 627.8,686.9 627.2,549.6 626.3,726.3 634.5,689.2 632.8,654.2 628.2,583.5 626.6,647 623,650.9 627.3,552.5 624.5,673.4 620.4,671.8 627.6,696.6 627.6,710.9 627.5,632.3 624.4,684.5 625.3,658.7 628.3,605.9 624.5,629.6 627.5,688 625.7,667.9 625,724 626.5,667.3 627,580.9 630,704.1 627,713.9 626.9,717.6 624.8,718.1 630.7,708.8 626.5,672.3 632.7,661.2 626,702.8 632.8,664.3 629.2,707.5 625.4,602.7 627.6,595.4 628.3,608.8 626.4,631.8 626.9,563 626.5,724.8 626.4,584.3 626,591.6 626.8,596.6 625.6,614.1 626.9,587.1 627.7,620 628.7,678.7 628.6,659.1 626.5,620.1 632.2,662.9 625.6,690.2 631.3,679 628,716.2 623.6,683.8 630.7,636.4 622.8,701.2 623.2,693.3 630.4,710.6 626.2,588.3 627.1,642.4 630.9,694.1 622.9,668.9 627.3,561.7 626,713.2 625.4,609 626.2,652.1 627.9,575.9 625.1,632.3 626.2,599.4 621.1,663.2 629.3,668.1 626.2,619.5 627.3,549.3 626.2,698.2 622.6,644.7 630.2,632.4 633.8,691.8 627.3,619.4 626.2,705.1 623.9,690.3 627,582.2 626.7,716.2 627.7,617.3 628.4,656.8 627.2,556.6 626.2,722.4 622.6,645.5 627.2,543 633.7,697.4 620.6,698.9 626.5,666.7 626.8,611.1 627.6,605.5 626.6,694.3 627,709.1 631,704.9 624.9,612.2 627.5,660.1 627.1,612 629.6,707.4 621.3,668.8 622.2,703.9 620.3,667.9 626.8,552.8 626.9,560.1 628.4,716.8 632.4,688 627.6,688.7 629.4,723.7 630.8,682.4 626.9,602.5 629.2,705.8 627.8,593 626.9,601.5 626.3,636.6 624.4,678.9 632.3,704.5 625.9,689.2 624.7,695.6 625.8,673.8 622.1,695.2 623,675.3 627,593.5 627.2,548.6 627.2,546.3 627.7,574.6 627.2,546.7 625.4,649.2 627,699.6 630.3,650.3 624.2,702.8 625.6,627.2 628.5,659.4 622.6,704.5 628.6,719.8 625.2,710.1 634,673.2 632.4,662.9 627.9,572.2 627.1,576.1 622.5,643.7 626.8,573.7 632.7,671.3 624.3,703.3 626.3,621.4 625.8,608.5 626.7,571.2 626.8,604.8 626.9,726.3 627.3,581.7 625.3,606.7 625,646.1 627,556.9 625.2,664.2 633.5,683 627.1,699.7 629.5,670.4 627.5,625.5 624.2,711.3 634.1,661.5 625.2,652.7 630.2,689.5 628.1,708.4 625.6,671.6 631.6,704.7 629.7,722.5 623.1,711.2 626,688.5 629.5,704 627,578.4 629.4,699.3 630.2,720.9 628.3,629.5 620.7,680.3 625.8,622.7 633.1,683.2 627.3,586.1 622.6,713.2 628.7,611.7 623.3,670.2 631.2,636.7 627.4,555 625.1,711.6 623.5,644.4 629.3,693 626.8,727.1 627.3,558.5 627.2,607.5 625.9,622 627.5,708.2 632.8,689 628.5,665.7 626.9,665.2 627.3,563.6 628.8,646.3 627.5,621 625.6,646.7 626.8,605.4 628.7,608.6 625.6,721.2 629.1,637.7 628.4,605.7 626.8,616.3 623.7,667.8 623.2,680.7 628.3,705.1 631.2,679.3 626.2,605.2 627,700.2 625.7,680.1 625.4,676.7 625.2,629.7 627.5,714.9 627.1,586.1 626.7,687 625.9,627 628.8,635.2 621.9,705.6 630.1,685.7 621.3,705.6 628.1,612.9 628.1,578.5 627.2,557 626.5,648.8 626.3,660.4 627,556.9 627.2,640.6 620.4,693.9 626,641.4 621.5,669.7 631.3,648.2 629.7,633 620.2,694.1 624.8,720 627.4,561.4 634.2,683.9 628.3,632.9 621.2,694.3 630,713.3 626.7,593.2 629.6,672 631.6,662.5 625.9,648.4 633.7,686.5 624.1,719.3 629.6,715.9 624.8,638.6 622.5,710.2 622.5,679.5 629.1,637.6 633.3,674.5 625.9,647.7 628,587.8 626.7,544.7 628.7,626.4 627.2,578.6 631.3,694.4 627.4,578.3 626.2,595.8 629.7,666.8 622.6,687.7 628.1,628 627,668.1 625,647.6 620.6,689.8 622.9,712.9 628.4,616 624.6,651.7 622.6,649.7 627.1,706 627,609.2 630.4,656.7 633.6,690.8 626.7,664.5 620.9,677.7 627,564.6 625.7,650.2 626.8,601.8 627.7,699.7 625.8,631.2 626.5,611.6 626.1,721.1 627.4,576.3 633.1,694.7 626,596.2 621.7,678.6 626.4,623.2 627.2,668.7 632.8,709.1 627.9,613.8 632.6,704 624.8,629.6 628.4,701.7 625.5,639.2 622.7,694.9 627.8,590.8 625.7,599.1 628.3,726.1 627.6,587.4 628.4,641.4 627,719.7 627.1,692.4 625.7,612.7 629.7,633.9 621,699.9 623.2,702.7 626.5,675.9 626.8,711 624.2,668.9 630.7,683.7 631.3,645.1 629.6,687.1 624.7,635.2 627.4,637.5 626.2,673.5 632.4,703 626.9,565.9 626.5,633.9 622.5,679.6 627.1,547.9 621.8,670.3 627.9,678.5 627.2,598.8 626.8,690.1 626.8,579 625.8,625 627.1,630 623.6,655.1 626.5,573.2 632.5,703.9 628.6,720.3 630.1,690.1 622.4,663.1 629.7,615.7 632.8,702.5 633.3,704.8 627.4,674.4 627.1,555 625.1,659.9 631,649.2 627.1,557.3 621.2,653.6 621.2,677.5 628.5,630.4 626.5,597 631.2,696.3 630.6,637.3 626.9,556.7 626.7,610.5 625.6,619.9 625.2,692.8 624.7,710.7 628.8,699 627.7,582.4 628.1,610 629.5,618.8 623,696.2 627.7,712.8 620.5,682.2 632.6,651.3 628,677.3 627,558.5 626.6,571.9 625.9,604.3 624.2,631.5 628.6,599.5 624.5,668.1 627.2,611.9 627.7,590.2 631.6,673.2 632.8,672.5 631.7,651 626.9,589.1 629.6,673.3 625.1,711.5 631.8,651.6 630.2,679.2 622.9,683.9 622.1,653.5 627.7,571.2 627.4,556.1 632,684.1 630.2,718.1 624.6,688.6 629.2,709 628.7,639.2 627.2,553.2 628.5,598.9 628.2,604.8 627.5,586.1 625.6,701.6 628.3,712.8 630.9,653.4 628.3,662.8 627.2,573.3 621,677.3 631.8,685.1 620.7,658.4 628.3,708.5 626.8,585.7 627.2,583.3 626.4,594.3 620.1,681 627.3,642.9 627.9,616.4 627.7,667.7 623.1,644.6 623.1,647.3 627,609.7 627.2,553.7 625.3,612.8 623.6,716.2 627,574.2 626.7,562 628.8,599.8 630.4,643 627.7,648.9 627,694.6 626.9,556.6 627.9,600.4 623.1,672 627.1,562.3 630.2,655.7 627.6,583.2 627.2,614.8 623.7,677.8 627.6,618.9 626.3,617.8 629.2,621 627.2,548.7 626.2,648.2 626.8,669.3 629,618 627.3,608.3 628,596.7 629.1,633 627.4,612 627.5,649.8 626.3,583.6 624.3,657.8 628.5,702.1 625.6,622.2 626.4,670.5 624.8,670.1 629.9,646 633.5,663.8 632.7,686.6 627.3,610.8 632.2,688.7 629.1,644.7 627.1,635.8 622.1,654.2 627.3,603.8 625.5,602.8 627.5,656.8 628.2,682 625.3,705.1 625.2,646.3 626.8,578.8 621,669.5 627.1,660.2 627.7,639.5 627.9,589.5 621.9,687.3 627.8,564.6 627.2,574.8 627.3,584.2 628.6,718.3 631.9,690 627.2,577 626.4,712.2 626.9,625.5 625.6,684.3 627.2,529.8 625.5,628.9 629.3,614.4 628.9,655.8 630.8,643.4 621.1,660.3 625,685.2 630.2,678 620.5,684.7 628,593.1 629.2,714.1 623.1,666.5 632.4,656.5 629,650 620.4,696 624.3,703.3 629.6,617.1 627.5,608 630.9,658.3 624.5,619.4 627.4,596.9 627.3,609.4 627,698.7 627,700.2 630.8,705.8 633.6,664 634.3,674.3 627.5,633.5 625.1,681.2 625.8,617.7 630.7,665.6 626.7,723.7 628.6,611 633.6,688.6 625.5,623.6 632.5,659.6 625,672.9 620.8,686.1 621.7,689 627.1,548.1 627.1,553 628.3,655.9 627.4,576.8 634.4,683.7 629.4,633.6 622.6,667.2 620.6,688.8 633.9,688.2 626.1,634.1 626.7,582 623.7,711 624.7,685.9 627,720 627.2,578.1 627.7,611.2 627.2,547 622,702.5 626,660.3 627.6,705.5 629.6,619.5 630.5,655.2 631.1,670.7 627.7,693.1 627.6,671.1 628.7,714.2 624.8,645.2 623.3,642.1 627.2,684.3 628.3,603.7 633.6,683.3 621.7,705.9 621.1,669.3 627.7,584.2 629.3,708.3 627.1,560.7 626.3,664.9 633.3,691.8 627.2,575 623.6,704.5 620.7,658 624.2,652.3 627.3,551.4 629.2,708.5 631.8,647.4 621.4,697.8 621.9,694.7 628,578.4 626.9,703.9 622.4,667.7 625.3,681.6 625,706.5 627,655 634,661.5 627,583.8 627.4,568.9 628.7,620.7 622,663.9 629.8,650 626.4,695.7 628.7,726.3 624.4,665.6 625.4,721.7 627,588.5 631,634.7 625.2,714.2 626.8,644.6 629.9,672.6 627.1,583.7 628.2,582.5 627.7,687.1 627,591.6 629,623.7 625.8,624.1 627.5,568.1 621.2,701 628.5,601.3 627.1,554 629.6,717.7 628.3,721.2 627.8,685 627.3,560.7 620,681.7 626.6,649.6 623.8,693 624.6,706.2 627.2,653.5 626.2,610.9 626.1,608.2 624.9,669.8 627.1,575.9 628.5,601 627.4,573.9 625.2,646.9 624.5,692.2 626.9,637.8 628.3,725.5 620.3,669.1 628,613.8 628.4,635.6 626.2,620.9 626.1,716.6 623.4,717.8 623,672 626.6,686.7 628.2,585.2 631.9,663.8 624.2,632.6 626.9,567.6 629.1,721.3 621.5,679.4 628.7,659.2 624.9,631.5 622.3,661.6 624.7,628.6 627.7,609.6 622.1,669.2 631.4,682 626,674.5 627.8,683.1 632,665.7 631,656.5 631.7,706.8 625.1,638.4 634.2,683 628,717.4 628.1,710 629.7,640.4"/>
<line x1="617.7" y1="661.4" x2="636.7" y2="661.4" stroke="#111" stroke-width="1"/>
<polyline fill="none" marker-start="url(#mg)" marker-mid="url(#mg)" marker-end="url(#mg)" points="655.3,604.9 655.3,628.8 656.1,725.3 655.3,599.9 655.8,671.9 655.7,694.9 655.1,620.5 655.6,648.5 655.3,637.8 656.1,724.1 655.4,669.9 655.5,727.9 655.4,594.3 655.9,606 656.1,729.9 656.2,634.8 656,660.4 655.8,668.5 656.9,633.7 655.9,724.7 656.4,693 655.1,609.9 655.6,644.3 655.3,754.8 655.5,646.5 656.9,640.3 655.3,627.5 655.8,665.2 656.9,684.3 655.4,659.3 655.7,647.3 656.2,630.3 655.7,661.8 655.8,705.1 655.4,712.9 655.9,641.4 656.9,661.3 651.4,754.8 657,679.5 657.2,661.8 655.9,728.2 656.3,629.1 654.6,654.6 656.3,605.9 655.1,676 656.4,600 655.5,688.6 656.6,709 655.7,669 655.9,700.8 655.9,713.7 655.1,628.6 657.8,754.8 655.5,623.1 655.3,593.9 655.6,724.3 656.2,707.6 655.7,594.7 656.7,683 656.6,612.8 655.7,712.9 655.6,641.8 657.1,681 655.3,594.1 655.4,716.4 655.7,626.1 655.4,714.9 656.4,659.5 655.5,663.6 655.7,686 656.3,690.6 656.9,666.3 656.4,636.2 657.2,675.2 656.6,603.5 656.2,653.7 656.5,648.8 656.9,683.2 656.8,606.4 650.2,754.8 657,672.5 656.1,727.1 656.7,619.2 656.1,638 656.9,632 656.4,706.3 655.4,646.4 655.7,610.6 656,731 654.9,624.2 655.2,709.3 655.5,636.5 656.1,658.3 656.5,716.9 656.4,624.9 655.7,719.5 655.6,605 656.5,595.1 655.2,662.5 655.4,597.3 655,677 654.8,645.2 656.1,723.7 657.1,667.9 656.6,670.3 655.4,634.6 656.4,708.6 655.6,607.8 655.9,700.7 656.2,619.2 655.7,635 655.9,696.7 654.8,630.8 655.5,625.7 656.3,724.2 656.5,647.5 656.4,600.9 656.4,675.2 656.4,684.3 655.6,632.9 655.6,616.5 656.2,645.7 655.7,714.1 655.9,598.1 654.8,678.2 656,663.7 655.1,702.6 656.3,714.7 656.2,715.6 655.6,702.5 656.3,718.9 656.5,621.6 656,605.6 655.3,652.5 656,636 657.1,653.3 656.2,652.2 656.4,672.9 656,688 656.6,665.9 656.2,723.4 656.4,704.7 655.4,712.1 655.3,633.8 655,615.6 655.5,615.4 655.2,693.6 656.5,697.7 655.9,675.7 657.3,670.2 654,754.8 660.4,754.8 656.3,661.2 655.7,706.7 655.5,615.5 655.9,720.9 655.4,655.1 656.3,612.4 655,673.4 656.3,707.6 656,679.9 656.7,701.6 656.1,715.7 655.2,696.1 656.9,674 656.1,697.1 656.4,709.7 655.8,718.4 655.7,729.9 655.6,695 654.8,624.1 656.8,632.4 656.8,646.6 655.2,611.8 655.5,722.8 655.7,638.8 655.8,679.8 656.2,627.8 655.9,662.1 655.6,714.5 655.2,631.8 655.5,643 656,731 654.7,679.4 656.1,658 656.3,698.6 656,725.5 655.2,697.2 657,629.2 656.2,637 655,599 656.6,686.6 655.8,661.8 656.9,679.6 655.5,724.1 655.9,730.3 655.3,657.1 656.3,598.1 656.5,594 655.1,662 655.7,696.3 656,688.8 655.3,615.5 654.8,662.7 652.7,754.8 656.8,643.1 655.3,607 656.5,609.2 656.3,618.7 655.6,621.6 656.7,681.4 656.5,703.4 655.3,596.4 656.3,727.3 655.1,611.8 656.4,680.8 655.5,725.9 655.7,628.2 655.2,681.6 655.7,622.3 656,601.2 656.2,618.9 655.9,697.3 662.9,754.8 655.6,703.2 655.3,690.6 656.3,652.2 657.2,672.2 655.3,647.5 655.7,616 655,607.6 656.8,661.9 661.6,754.8 655.9,707.6 655.6,720.3 655.6,703.4 657,666.4 648.9,754.8 655.8,728.1 656.7,691.8 655.2,655.2 655.3,719.4 656.6,711.5 656.2,707.8 655.8,693.6 659.1,754.8 655.8,665.8 656.4,602.3 655.2,610.2 656.7,602.5 656.5,605.4 655.3,667.5 656.5,674.2 656.6,654 656.1,681.8 655.6,699.2 656,650.2 655.3,666.5 657,643.3 655.8,689.2 655.4,595.8 656.1,598.9 656.5,754.8 656,601.9 655.7,712.4 656.4,618.3 655.8,728.3 656.6,621.9 655.4,637.7 656.2,726.6 655.8,715.4 657,638.6 656.5,633 655.3,600.2 655.6,597.7 656.3,632.4 655.9,711.2 656.8,647.1 655.8,614.6 655.4,703.4 656.5,619 655.5,613 655.4,652.4 656.8,669.1 656.2,717.6 655.7,725 655.8,650.7 655.3,599.2 655.8,729.4 655.9,613.7 655.3,691.9 657.1,658.1 655.9,620.8 656.1,659.7 656.5,670.4 656.1,703.9 655.3,620.3 656.4,695.4 656.5,635.3 656.4,658.3 655.2,692.2 656.4,605 655.8,667.9 656.6,599.6 655.8,609.5 656.6,620.3 655,672.6 655.4,707.1 655.5,620.4 655.5,717.7 656.3,725 655.5,657.8 656.2,671.8 656.4,608.7 657,636.4 655.4,639 655.4,645.9 657.2,657.3 656.1,654.1 656,710.1 656.2,703 655.7,655"/>
<line x1="646.4" y1="710.2" x2="665.4" y2="710.2" stroke="#111" stroke-width="1"/>
<polyline fill="none" marker-start="url(#mg)" marker-mid="url(#mg)" marker-end="url(#mg)" points="685.1,530.9 682.8,584.4 679.8,666.1 678.5,682.2 691.2,683 683.8,543.4 682.6,627.9 684.4,700.7 681.3,603.9 682.3,615.1 685.3,719.3 684.2,521.9 684.6,488.4 686.8,580.9 679.9,642.8 684.1,631.7 685.2,690.2 684,700.3 684.8,520.5 682.7,712.8 684.6,479.5 690.2,686.6 682.2,590.1 689.5,638.8 687.1,639.4 684.7,575.4 685.8,649.7 681.8,612 687.9,712.4 688.7,628.8 685.9,711.8 684.6,486.6 682.8,588.9 687.6,694.9 688.7,633.8 687,641.1 682,663.8 689.9,628.4 686.3,678.1 684.6,493.3 682.1,650.7 685.5,644.5 683.3,560.2 690.6,638.2 684.5,553.6 687.4,608.7 686,566 686.4,562.7 685.7,578.5 682.7,669.6 684.3,534.6 684.8,521.2 681.8,586.1 684.6,484.5 681.9,611.7 685.8,547.8 687.3,616 687,647.8 684.4,586.8 680.5,705.1 684.8,675.3 681.3,650.7 686.1,582.2 686.7,601.4 681.3,687 686.6,675.1 685,523.2 684.5,578.7 686.7,635.7 690,683.1 682.9,621.4 680.6,662 684.1,719 684.9,515.1 683.7,638.9 690.4,685.5 685.2,638.2 685.1,525 678.4,641.1 679.7,683.4 681.2,676.8 683.6,599.2 685.9,577.4 687.7,595.6 684.7,494.1 681,624.5 677.8,682.2 683.4,561.8 689.3,682.4 684.8,551.2 678.1,666.8 689.7,647.6 687.7,693 686.7,708.1 685,675.5 686.3,630 690.3,678.1 684.7,619.7 683,608.6 688.1,654.4 685.4,532.6 687.5,604.4 684.1,690.9 688.2,604.1 688.6,700.7 682.1,644.8 684.4,683.2 687.2,666.9 680.8,697.3 683.8,697.7 683.3,549.1 687.8,616.7 684.8,578.9 680.5,625.6 686.1,671.2 685.6,648.2 684.6,581.1 687.3,599.4 684,587.3 690.6,643.1 684.4,530.5 689,640.9 683.9,556.8 685.4,543.4 684.2,690.8 686.8,672.6 684.2,523.8 685.6,678.6 684.6,493.2 679.3,699.4 686.8,682.2 685,603.4 682.6,579 688.6,649 685.2,665.1 680.3,644.9 684.7,521.3 686.9,654.8 685.1,710 678.7,647.6 679.2,658.5 684.1,700.5 684.7,509.3 682.6,653.3 691,651.7 684.5,521.9 682.6,570.5 684.8,519.3 678.6,690.9 681.7,681.2 687.5,715.4 684.4,563.8 681.3,671.4 685.3,652.4 687,637.9 683.7,610.9 678.9,665.8 684.9,585.8 684.6,487.2 685.2,512.1 683.1,623.6 685.5,622.9 686.3,576.9 684.6,633.4 684.4,528.2 684.8,604.4 681.6,675.5 686.8,626.5 686.7,689.3 682.9,635.4 690.1,631.9 684.6,482.6 684.8,566.2 683.7,554.1 690.6,636.6 684.7,601.1 685.1,485 684.6,506.2 685.3,578.8 687.3,657.7 678.9,652.1 687.1,577.6 679.5,680.1 680.5,669.1 681,654.9 687.6,661 683.4,692.3 687,704.5 684.9,539.3 684.4,610 679.9,658.3 681.1,677.2 679.3,632.1 684.4,555.9 681.2,626 682.9,619.1 685.7,723.1 684.5,494 681.5,695 690.1,640.3 684.1,603.2 683.4,569.3 685.2,585.6 685.1,579.9 684.7,583 684.4,599.8 684.1,646 683.2,666.9 683.6,671.5 682.4,660 685.9,559.6 681.2,701.8 690.2,674.6 686.6,588.4 678.8,680.6 684.5,495.7 681.6,673.5 684.5,568.2 685.2,714 687.3,603.3 685,694.1 687.9,601.2 683.6,609.7 682.1,695.1 682.6,623.2 680.4,698.1 683.7,719.7 683.9,722 686.9,591.5 684.6,490.5 683.6,587.7 684.9,504.7 682.1,618.4 685.6,571.7 687.1,598.4 685.1,488 682.4,647.7 682.2,631.8 687.8,591.3 687.4,697.3 686.3,567.8 681.5,643.7 683.3,620.7 682.3,719.2 684.4,609.7 680,692 685.7,555 686.3,597.2 680.4,671.6 684.4,480 687.5,658.1 685.7,631.6 684.4,516.1 684.6,486.3 687.7,687 681.3,707.9 685.2,556.7 690,673.4 685.1,552.4 684,720.2 684.5,511.8 685.1,647.8 686.2,606.1 684.6,488.1 687.5,693.6 685.4,702.8 688,621.7 684.6,483.3 678.7,693.4 686,647 689.2,675.7 685.3,670.4 684.2,524.3 684.5,499.6 687,597.7 684.8,527.9 681.3,598.3 689.4,698 681.4,691 685.2,599.5 684.4,523.6 686.8,642.5 683.9,549.1 680,701.1 686.6,641.5 686.3,610.7 684.1,542.2 686.2,606.3 682.6,692 685.1,630.5 688.9,627.3 677.9,682.1 688.8,619.5 684.8,630.8 682.5,654.8 684.2,715.7 684.3,709.9 682.4,607.9 684.4,512.3 684.5,494.3 682.5,573.1 681.9,700.6 684.9,616.6 681.5,648.2 685,678.9 681,647.1 684.6,492.3 683.1,668.7 684.7,499.3 687.1,682.9 678.4,645.9 684.6,577 691,674.8 684.3,572.4 687.5,603.8 685.1,532 684.3,649.9 685.6,599.9 688.1,633 687.6,712.1 683.5,629.4 682.4,663 679.3,658.2 685.1,703.6 679.7,700.1 683.8,673.8 683.7,716.7 684.8,717.8 682.8,587.9 684.5,521.9 684.1,560.7 685.2,658 690.6,690.8 683.5,721.7 685.1,525.9 682.6,631.5 684.5,575.9 684.2,547.2 682.4,715.2 679.7,639.8 684.6,520.2 683.1,622.5 685.2,639.6 685.4,650.5 680.2,616.7 682.6,689.4 684.9,531.5 688.1,632.6 681.7,599.6 686,693.6 689.6,686.2 690.9,672 685.5,593 689.3,692.9 685.2,694.7 683.4,722.3 679,691.9 684.6,646.9 680,641.2 684.3,600 685.9,718.1 684.7,682 685.3,692.7 684,672.8 684.6,638.9 684.3,678.6 682.4,598.9 682.9,676 690.7,647.5 686.4,615.7 681,638.1 684.7,506.1 682.8,705.1 689.4,672.4 684.3,565.8 686.5,609.9 689.3,621.3 684.1,625.9 685.8,607.1 684.7,521.4 688.1,636.5 682.4,621.5 684.3,544.5 689,623.7 684.9,539.7 685.3,571.8 683.6,647.8 685.1,723.2 684.6,498.6 683.9,542 683.2,668.7 688.2,698.5 684.6,489.3 682.4,718.8 686.7,570.6 683.5,639.5 682.5,617.4 683.8,555.1 687.9,662.2 688.5,655 687.8,651.7 684.1,668.9 682.6,671.6 684.6,527.7 681.3,634.3 681.3,693.7 686.8,663.4 684.3,529 684.6,615.9 682,611.9 681.7,627.1 691.2,684.5 684,586.7 682.3,617.2 683.1,554.7 683.5,651.5 687.7,655.7 680.4,684.6 683.3,724.2 685.5,653.1 684.7,525.2 684.6,603.3 684.7,514.6 684,603.5 682.7,712.3 684.8,523.5 687.2,616.5 686.5,575.3 686.3,719.6 682.5,676.4 685.9,665.2 684.6,566.8 678.9,675.3 687.4,583.3 682.6,652.4 688.2,647.7 690.3,648 684.2,674.3 680.4,682 685,573.5 681.2,710.5 686.1,690.1 687.4,637.4 688.3,697.8 688.9,680.6 685.3,533.4 684.6,513.4 682.1,703.8 684.7,516.7 683.3,621.6 687.9,616.4 687.2,669.7 682.1,700.3 681.2,648.4 690.1,640.3 685,632.8 684.3,522.7 684.3,584.3 684,628.4 687.8,601.4 686.5,683.3 679.8,618.4 684.6,697.9 683.6,676 685,495.4 684,582.5 684.2,723.4 684.1,680.3 688.1,708.6 685.2,531.4 685.5,632.3 685.9,708.5 691.1,677.3 684.8,643.4 684.9,651.7 684.3,511.9 680.5,677.4 685,567.2 686,578.4 683.2,683.3 687.3,580.9 685,581.5 684.5,503.4 688.5,694 688.9,641.4 680.3,642 685.6,616.4 685.5,671.3 681.3,649.7 684.5,658.1 682.9,621 681.2,624.9 686.9,646.9 686.1,562.3 684.5,720 684.9,490.3 686.1,627.4 684.7,557.5 685.2,721.6 685.4,555.5 679.7,629.6 684.6,482.2 684,582.8 680.1,690.1 685.4,724.3 683.7,721.4 684.9,502.4 686.5,646.6 688.3,664 682.7,663.1 682,620.6 688.9,618.7 684.3,522.5 684.6,498.1 687.3,605.2 686.2,706.3 681.6,638.7 684.8,538.8 684.2,687 684.8,511 685.7,580.7 679.3,625.2 690.1,641.7 685.1,542.4 682.8,570.8 684.1,623.1 679.7,696.2 686,695.4 689.6,660.1 689.8,670.5 684.9,599.1 684.6,577.8 684.5,636 685.9,609.7 684.7,704.8 684.4,540.5 684.8,645.6 681.4,673.6 678.5,664.3 682.4,601.8 681.8,701.3 690.2,640.8 684.6,549.9 684,717.7 687.6,710.2 680.8,662.4 689.5,618.8 681.1,615 690,687.8 685.1,561.8 683.7,637.2 684.5,498.1 682.7,602.7 682.8,620.4 685.2,572.8 686.3,646.6 685,622.9 678,667.6 685.4,617.8 688.4,609.9 685.4,573.8 685.9,574.8 684.9,659.3 689.5,627.2 685.5,558 684.6,480.2 683.9,634.9 685.1,638 688.5,671 684.8,503.7 683.7,600.7 688.3,650.9 680.7,687.6 688.3,665.1 680.3,610.8 684.6,481.3 683.6,541.9 688,640.9 686.9,682.7 685.5,548.5 684.4,717.2 687,623.1 686,672.3 684.7,547.7 688.7,704.4 687,685 688.8,696.1 684.6,493.2 684.3,672.5 686.5,578.5 684.3,564.9 681.7,679.3 690,698.4 683.8,552.7 684.9,704.6 683.1,663.3 684.8,546.4 685.1,657.4 684.4,546.8 680.6,679.9 679.5,642.8 683.8,535.9 689.5,702.2 680.2,630.9 689.8,661.7 685,609.5 688.4,652.7 687.2,670.9 689.6,690.8 683.1,653.5 687.6,650.3 685.2,722.8 685,533.8 683.3,581.2 684.3,669.9 679.6,656.3 685.3,579.7 686.8,577.3 685.8,709.1 685,653.5 679.5,663.4 684.8,557.9 683.7,595.8 683.6,718.4 684.3,668.6 680.7,697 685,558.5 680.9,687.3 689.8,654.2 685.7,565.1 685.2,544.9 687.2,636.3 681.3,704.4 678.9,691.7 680.3,671.6 683.1,666.4 681.2,612.2 684.5,503 683.7,572.2 682,638.6 683.8,656.7 684.5,709 681.6,672.3 684,693.1 684.1,660 684.2,593.4 684.4,575.2 683.1,576.7 686.2,578.4 679.8,625.7 683.8,579.1 684.8,516.7 689.1,702.3 685.6,716.5 684.5,507.9 684.6,525.9 685.1,708.5 684.5,502.9 686.3,700.8 685.2,533.1 678.5,655.1 683.6,547.4 685.5,599.1 683.4,638.1 686.5,648.8 684.4,568.1 680.6,691.9 679.5,626.4 679,652.6 684.8,643.3 681.9,678.3 684.6,442.8 678.8,657.3 684.8,511.7 686,567 678.9,661.1 682.5,644.2 683.1,718.3 681.4,610.1 689.7,684 686.9,585.6 687.1,677 681.9,687.1 684.6,659.8 686.6,577.7 686.2,675 683.1,625 684.4,524.2 681.8,647.3 685.9,590.5 682.2,591.8 687.2,662.4 685,609.2 685.1,718.9 679.8,694.9 685.2,538.7 683.5,551.9 679.2,628.8 685.5,569.4 684.3,539.8 684.5,497.9 682.5,661 684.1,586 682.7,652 686.3,710 680.1,626 687.8,663.6 684.5,550.4 684.9,659.6 684.8,636.7 681.9,702.3 684.7,624.8 686.5,662 684,569.1 684.6,440.6 686,585.3 686.5,679.6 685.2,528.3 682.9,675 690.9,686 685.1,509.7 684.2,559.3 689.8,673 685.3,536 683.8,543.5 684.5,591.6 683.7,607 684.8,632.2 687.9,691 691.1,648.6 684.7,536 682.8,571.8 688.5,623.1 683.3,697.8 681.3,646.4 686.4,688.1 686.1,608.6 684.4,697.7 684.8,672.9 689.3,690.5 678.4,657.9 685.4,661 690.9,655.1 682.6,718.9 685.2,498.7 687.9,704.6 685.8,624 685.6,722.9 685.1,716.4 683.4,545.5 690.3,697.9 684.9,643.6 687.8,694.5 685.7,577 678.3,644.4 688,631.9 686.8,617.9 681.9,654.1 681.3,653.7 690.5,653.5 684.6,525.7 685.4,564.5 684.7,604.9 684.1,561.1 687.3,590.9 686.4,718 684.5,609.9 688.4,660.5 686.1,630.1 687.8,623.5 683.5,645.2 684.1,532.2 686.4,643.7 684.5,503 688.9,622.6 683,690 683.6,551.4 684.9,527.1 682.4,580.9 686.7,579.3 685,717 681.6,629.3 686.3,608.2 685.6,567.1 685.6,551 684.4,515 683.2,566.5 684.6,493.4 679,681.5 680.1,620.3 685,564.3 683.7,564.5 684.9,655.1 683.3,641.7 684.6,493.1 685.7,702 685.1,591 685.2,652.4 682.4,637.9 684,548.2 684.9,607.2 684.2,521.9 682.2,620.2 683.5,700.7 684.6,638.5 685.7,624.9 684.1,617.7 684.7,494.3 683.4,556.7 680.9,709.3 684.8,483 682.6,716.6 684.8,607.1 685,596.5 687.8,619.2 687.4,709.3 682.3,657.8 686.3,625 683.1,587.2 683.8,636.6 685.9,553 687.9,682.1 685.7,664.8 684.9,668.5 688,631 687.7,704.4 679,692 691.4,679.7 685.2,692.4 689.1,674.8 684.4,692.2 689.6,691.6 685.5,704.5 683.2,711.5 686,611.3 681.2,609.8 680.6,654.4 684.6,480 681.3,646.2 681.9,590.4 689.4,669.2 685.5,609.4 684.6,481 684.6,535.2 684.6,491.1 683.7,606.3 685.3,708.3 685.6,722.8 684.5,519.8 687.2,610.9 684.2,635.3 684.2,567.3 682.9,690.4 679.5,659.9 682.1,607.9 685.5,546.3 686.1,675.4 683.2,593.4 687.2,658.9 686.7,673.3 684,702.2 684.6,494.8 687.2,604.6 687.8,637.5 686.1,699.1 684.1,652.6 684,575.3 684.7,574.8 684.8,537.4 684.6,484 680.8,616.3 689.2,651.5 687.7,611.5 686.7,694.2 680.6,674 689.4,694.3 689.6,703.2 684.6,632.5 691,670.6 685,517.1 681.6,611.4 684.8,507.4 682.1,660.4 689.4,648.1 678.2,661.4 684.5,662.7 684.5,556 684.6,447 679.7,645.1 684.5,555.6 687.6,681.5 684.3,698.4 688.8,674 688.6,703.4 684.5,632.4 686.7,611.9 684.8,612.6 688.7,624.7 689.3,682.6 683.5,613.8 686.4,651.4 680.6,663.9 681.5,652.6 686.4,586.4 685.1,711.4 687.4,696.7 684.9,560.5 688.5,687 688.9,673.3 685.7,545.7 685,621.5 686.4,597.2 684.4,690.3 687.1,717.9 684.6,494.4 686.4,609.9 687.1,588.4 685,590.2 685.4,552.7 685.3,597 681.6,649.4 688.4,622.2 683.4,559.9 679.4,646.8 687.9,674.1 685.7,654.4 684.4,572.7 683,569.1 685.1,657.5 685,521.7 680.2,642.3 681.9,705.7 680.5,643.2 686.2,557.5 689.4,690.8 686,630 684.8,509.1 683.8,653.1 681,647.8 684.8,504.8 682.8,608.4 683.7,718.1 685.1,531.9 685.5,604.9 683.9,720.7 683.3,674.3 688,641.4 685,626.3 684.8,713.9 689,631.7 685.8,564.6 685.2,494.7 684.6,488.9 684.2,557 682.2,714.8 691.1,645.3 690.9,650.8 682.5,630.3 684.6,482.6 684.8,570.8 683.7,554.7 683.8,550.9 686.5,569 688.2,694.4 684.6,519.5 686.7,586.4 686.4,598.6 683.9,622.2 683.5,642.7 682.7,632.9 690.6,670.4 683.4,576.5 682.7,581.1 684.7,703.8 684.2,520.1 683.2,606.6 681.4,697.4 684.6,451.3 689.1,655.7 678.7,692.8 682.7,719.8 679.1,681.4 684.1,617.2 684.6,485.4 681.3,679.2 684.6,663.2 687.4,605.1 685.1,693.2 682.8,602.6 685.2,542.9 685,505.4 679.4,686.3 684.5,561.4 690.9,655.6 684.5,503.9 684.4,617.6 680.5,680.8 684.9,602.6 687.1,669.8 685,615.8 684,564.7 680.3,706.8 685.2,539.1 680.9,610.5 685.2,654.1 683.9,595.6 685.1,724.1 684.8,513 678.3,669.3 686.4,563.8 685.3,673.4 678.8,675.9 687.9,712.6 684.5,565.2 684.8,722.2 686.4,707.8 689.8,639.1 687.3,696.6 684.7,635.4 684.9,530.1 684.6,480.6 686,563.9 684.6,482.6 682.6,576.1 685.5,554.8 683.2,716.3 687.4,701.5 688,611.2 681.5,646 680.8,683.1 684.7,707.9 684.6,586.2 686.9,678.5 686.4,599.9 684.2,692.8 684.5,568.7"/>
<line x1="675.1" y1="638.1" x2="694.1" y2="638.1" stroke="#111" stroke-width="1"/>
<polyline fill="none" marker-start="url(#mg)" marker-mid="url(#mg)" marker-end="url(#mg)" points="713.6,604.4 707.5,654.3 716.2,634 709.7,712.3 707.1,687.4 713.8,609 713.2,536.8 712.6,693.1 709.1,640.7 712.2,583.9 713.2,546.4 714.2,590 719.2,676.8 719.3,673 711,634.4 708.8,708.5 711.7,692.1 714.3,681.6 713.4,656.2 713.2,579.4 712.9,559.8 711.9,721.9 715.4,698.7 718.7,662.4 708.5,677 713.2,593.3 712.6,598.3 710.9,674.4 712.8,724.4 712.7,622.5 713.5,543.2 709.6,687.3 715.4,613.9 710.1,666.4 713.4,598 708.9,639.9 714.2,593.4 717.4,702.7 718,656.8 716.2,646 713,615 717.7,691.8 713,556.4 718.6,653.8 713.2,590 712.8,553.4 713,665.2 711.9,722.3 712.5,600 713.3,552.2 709.2,639.3 719.8,671.5 708.7,670.4 716.5,632.4 713.1,563.9 714.4,709.6 712.2,727.6 707.1,696.1 707.6,692.9 712.8,611.4 713.3,527.5 717.4,664.9 709.5,699.7 713.2,538.1 711.1,604.7 711,714.8 712.1,633.6 719.8,693.1 711.8,589.3 710.3,685.4 711.6,643.8 707.6,689.6 712.3,693.4 711.5,658.6 708.6,707.1 712.7,575.2 712.3,577.3 716.1,707.1 713.3,533.7 715.6,660.6 711,618.2 709.9,660.5 710.6,705.2 713.1,706 713.2,729.8 713.5,549.7 713,702.4 714.2,708.8 714.5,644.7 713.3,521.8 709.7,636.9 712.9,655.2 713.3,526.7 714.8,608.6 713,582.7 714.6,639.6 712.6,602.5 711.4,705.9 708.7,658.1 712.3,582.5 714.4,578.8 716.1,713.9 713.3,524.4 711.7,599.2 713.4,599.1 713.4,530.2 717.3,689.1 716.3,692.9 713.4,588 715.8,625.5 709.5,663.2 709.6,712.9 711.8,611.9 713.1,570 713.8,596.1 714.4,664 716.4,705.2 712.7,557.5 714.2,677.6 713.5,543 716,673.1 710.5,619 710.1,630.9 711.8,722.7 713.3,638.2 713.3,549.1 712.7,613.8 713.5,539.3 711.4,601.8 718.2,693.2 711.5,595.4 717.2,654.5 711.8,599.5 719.8,691.7 712.9,586.7 712.7,598 714.4,623.5 713.2,724 713.2,691.1 713.7,729.6 708.3,678.7 718,683.8 711.3,614.9 712.7,582.7 714.3,619.3 711.7,705 716,668.8 708.5,702 714.1,645.9 709.3,690.7 711.4,654.8 712.3,630.8 718.3,678.8 715.7,645.2 712.2,699.1 711,641.4 707.3,696 713.5,534.1 713.2,547.7 708,683.9 715.6,686.3 716.7,700.9 713.1,536.8 712.8,626.7 713,670.5 719.4,681.7 713.7,561.9 710.7,623.3 707.4,654.1 713.7,570.3 710.9,638.2 707.5,684.7 712.1,578.1 711.8,615.6 713.2,533.8 709.4,674.2 717.6,645.6 713.4,531.3 719.3,681.9 713.2,711.7 719,698.8 718.4,660.5 713.8,548 716.5,658.1 713,687.9 707.1,674.6 713.2,709.8 713,681.7 713.9,550.4 714.3,668.4 709.5,638.6 711.5,605 714,688.4 713.4,731 710.9,634.4 712.5,560.2 713.8,610.2 717.7,639.7 712.8,682.1 715.3,607.9 715.8,668.8 713.6,695.6 713.4,523.7 714.6,643.3 713.6,582.6 713.2,542.4 711.4,692.1 719.2,686.7 710.1,635.5 713.7,580.4 707.2,697.8 714.3,647.3 714,608.5 712.8,603.1 713.7,631.2 711,674.5 713.5,540 712.8,572 713,639.7 707.8,686.7 719.3,676.2 713.3,731.9 713.5,560.1 708.3,661.8 713.3,529.8 715.3,647 718.4,696.3 707.1,669.8 710.9,711.2 714.7,710.7 714.8,685.6 711.1,693.2 713.8,705.6 715,623.4 716.5,639 713.6,554.3 716.6,639.6 717.3,658.5 711.3,638.2 711.4,597.3 714.7,706.3 713.4,543.8 712.9,658.7 713,656.4 712.9,545.7 714.2,577.2 714.5,591.5 713.6,711.4 716.8,710.2 713.7,553.6 713.2,546.6 713.4,536.5 714.8,714.1 710.8,626.5 713,728.3 715.1,615.4 713.9,713.5 712.9,601.7 713,709.7 716.4,683.5 714.8,623.1 713.6,731.4 715.5,667.5 715,692.4 712.7,656 713.5,659.8 717.1,669.2 713.4,590.5 714.1,562.6 713.5,630.7 714.5,628.7 713.3,522.5 709,642.9 706.9,686.7 713.2,535.4 719.5,683.4 712.8,717.8 718.9,681.8 716.3,716.9 712.3,650.1 713.2,688.3 717.3,706.9 709.6,635.7 713.3,733.4 713.6,544.7 713.9,553 709,708.6 713.4,667.7 713.4,574 713.4,531.5 719.6,686 712.2,577.7 711.4,704.2 712.9,553 706.9,692 709.3,639.5 713.8,571.4 716.4,673.1 714,643 708.5,656.5 718,665.4 719,687.7 713.2,611.2 718.5,652.3 718.1,689.3 714.5,653.8 713,731 712,726.8 715.4,660.6 711.3,624 715.8,646.8 712.5,669.4 710.1,652.3 710.9,719.4 713.8,555.8 717.4,646.6 713.6,634.9 713.3,524.9 717.5,690.8 712.7,718.9 717.8,648 714.4,577.9 712.7,627.1 711.1,640.2 707.9,685.3 713.3,663.9 714.5,660.4 713.6,730.7 712.9,696.6 713.8,702.4 712.9,609.4 713.5,538.5 711.9,634.3 715.1,691.7 708.2,663.3 711.8,642.7 716.2,620.2 712.8,618.2 707.7,697.9 708.5,702.2 713.4,688.5 717.6,662.3 713.8,636.4 713.3,645.5 714.5,606.1 710.8,681.3 713.5,616.2 712.8,578.3 713.3,732.4 718.3,672.9 707.7,688.5 711.6,643.6 712.3,584.3 713.4,729.2 712.5,697.9 711,605.2 713.9,620.7 711,658.7 714.2,658 713.2,719.7 715.5,634.9 713.8,608.8 707.7,679 709.8,690.1 713.3,559.7 718.9,688.7 713.5,552.1 712.4,602.3 713.2,577.6 713.8,674.9 714.3,567.3 711,639.2 716.4,625.5 717.3,710.2 712.7,596.4 710.9,614.3 714.2,723 712.3,676.6 714,564.4 716.4,665.6 712.8,640.1 713.4,667.5 713.1,693.5 720,681.5 711.1,639.4 710.9,619.7 711.9,720 712.9,586.3 711.3,709.1 716.6,708.5 708.7,703.1 713.4,540.4 712.1,582.2 710.8,687.2 713.7,636.3 711.5,627.8 708,700.7 716.7,675.5 712.3,638 712,723.8 715.8,689.9 712.3,673.3 709,709.9 716.7,696.9 709.4,649.1 713.2,732.2 715.3,707.2 713.5,636.1 712.7,562.1 713.2,547.3 713.5,583.4 715.2,639.7 711.7,709.2 713.1,709.5 708.4,646 712.6,661.2 713.4,603.4 713,635.4 713.9,629.4 712.8,572.3 710.5,691 711.2,671.7 707.1,666.4 707,682.6 713,699.2 710.9,721 715,679.9 710.3,648.1 706.8,667.2 714.5,645.8 715.8,615.6 713.4,729.8 710.9,681.1 710.7,619.3 711.7,682.6 716.5,658 713.3,528.4 713.3,733.5 711.7,614.8 709,704.1 713.3,664.4 714.2,589.6 713.8,673.8 713.4,694 712.7,557.1 710.9,676.7 709.4,704.5 719.8,680.4 710.7,686.6 709,672.6 713.8,570.6 712.8,633.8 713.2,529.1 712.1,580.9 712.7,618.9 712.6,578.6 713.4,703.9 717.8,639.2 708.6,679.4 715,620.8 711,702.4 718.3,651.2 713.2,730.9 713.6,563.3 712.9,654.4 713.6,576.5 713.5,570.1 711,705.5 713.7,600.6 711.2,646 711.2,651.4 711.3,610.4 710.4,645.5 713.9,708.4 714.5,716.9 719.8,665.1 713.6,684.6 708.1,696.3 713.8,585.7 713.5,627.1 719.7,691.5 713.3,551.5 713.4,662.4 713.4,566.1 714.4,630.7 711.1,679.9 713.1,595.1 713.2,531.6 713.9,587.7 714.9,632.9 716,624.9 711.6,689 712.8,669 713.4,732.5 709.2,639.7 715,652.6 713.1,621.3 708.4,687.4 715.5,722.3 713.6,627.3 712.7,700.3 713.4,553.9 712.5,681.8 715.8,637.8 711.1,704.3 708.3,701.1 719.8,685.3 713.3,528.1 713.4,689.6 712.8,724.6 718.7,661.2 713.6,600.4 713.9,569.1 718.1,654.1 713.1,672.8 708,700.2 713.8,551.5 714.7,675.8 710.5,625.7 714.1,560.5 707.5,662.8 706.9,687.9 713.5,731.7 708.7,647.3 713.8,576.3 714.3,614.7 716.3,622.1 718.5,656.2 713.3,549.1 719.3,695.1 714.2,565 714.5,592.3 719.3,675.4 718.7,690.1 711,637.5 710.5,686.8 714.5,694.1 714.4,614.4 712,650.7 707.2,696.2 719.7,675 710,633.8 713.9,693.1 715,654.6 713.2,531.7 717.6,709.1 716.7,716.4 717.2,664.1 714,607.1 713.3,698 711.4,627.3 713.6,649.1 713.3,530.4 713,630.4 716.9,645 713.9,572.7 713.2,712.6 713.4,731.2 713.1,583.1 713.2,655.8 712.2,623.3 713.3,527.5 710.9,653.2 711.7,622.7 708.8,660 713.2,728.7 713.4,703.7 712.7,693.7 717.3,659.6 715.1,716.9 713.3,611.9 713.2,730.7 711.1,684.9 713.6,557.6 716.9,691.3 716,685.7 712.4,586.8 712.7,710.9 712.7,607.2 719.2,677.6 713.8,720.6 708.5,647.4 712,587.3 716.9,636.6 710.3,682.3 716.4,708.3 712.6,614.2 713.2,556.9 713.5,684.3 712.9,694.9 713.4,529.8 714.4,711.5 709.4,685.7 717.5,681.1 713.4,724.4 717.2,663.8 713.3,641.7 709.8,668.1 717,651.3 713.6,730.9 712.2,700.3 713.6,636.2 713.5,548.3 714.7,675.1 714.3,721.8 715.9,629.8 714.1,585.7 715.9,683 714.2,650.6 712.7,715 712.3,605.3 714.5,631.3 715,598.6 711.2,621.2 713.2,663 716.6,643.1 708,704.4 713,652.6 713.3,532.6 712.8,595.4 712.2,606.5 714,567.4 715.1,624.1 711.7,663.3 713.1,575.4 714.6,668.7 713,529.4 708.9,656.5 716.6,690.8 712.8,583.9 713.6,592.1 715.8,711.8 713.8,650.6 717.8,701.4 708.7,672.6 713.2,533.1 713.3,534.1 715,679.7 713.4,732.8 707.1,680 709.9,688 713.3,523.3 708.4,676 714.3,641.9 717.2,665.2 717.8,699.9 714.1,559.2 711.1,664.2 711.9,587.2 714.1,581.2 715.5,648.6 713.1,567 713.8,613.2 711.1,669 710.5,661.8 713.3,553.6 713.6,655.8 713.8,617.8 716.6,641.7 713.2,588 713.2,621.9 713.8,661.9 712.1,611.6 715,666.7 713.6,548.9 712.6,678.9 713.1,708 713.3,732.8 707,681 716.1,653.5 713.2,539.2 712.7,579.2 712.9,584 713.9,599.6 712.8,567.9 711.3,662.3 713.5,580.6 713.8,715.8 712.2,587.9 713.2,731.5 712.6,723.3 713.2,674.7 713.1,559.1 713.8,606.2 710.5,623.2 714.8,673.9 713,550.9 709.3,638.7 713,550 712.8,554.3 712,684.8 718.7,665.8 713.2,685 712.4,575.5 707.4,671.8 716.8,697.4 713.4,545.9 713.7,666.2 714.5,586.6 711.9,623.7 713.1,549.5 719.5,670.2 713.1,538.3 717.5,701.5 712.4,635.4 713.5,709.2 717.8,687.2 708.1,685 715.4,633.4 710,702.2 712.9,663.6 712.2,695.3 712.2,599.7 714.8,595.5 710.1,659.4 713.3,646.5 718.5,690.8 716.4,677 713.3,680 711.5,681.4 711.8,600.7 718.1,676.3 712.8,633.4 711.6,606.5 715.5,703.5 713.6,723.4 710.4,703.8 712.3,652.8 717.2,651.2 714.3,592.7 713.1,596.8 711,644.9 713.3,536.1 710.9,705.6 713.1,589.2 712.3,670.1 714.1,661.4 713,731 714.7,616.4 710.7,659.5 709.9,630.9 712.5,569.5 713.3,710.3 719,692.6 716.8,667.8 715.3,600.9 711,618.5 714.8,596.6 712.9,648.5 715.4,625 715,639.6 712.9,564.6 714.9,689.9 713.8,620.7 712.5,678.9 716,635.5 715.4,625.9 713.6,661 713.3,559 711.4,596.7 713.9,570.9 713.8,728.8 713.9,628 714.5,723.2 717.4,659.4 712.7,725.1 713.2,525.9 715.5,654.8 713.1,551 713.5,688.1 713.2,576.9 713.4,539.5 710.1,641.7 710.7,695.9 714.1,663.4 713.7,629.6 712.9,730.7 712.5,608.6 713.6,561.9 715.4,670.5 715.1,615.1 713.6,730.2 713.2,594.6 712.9,545.8 708.8,656.8 712.5,561.3 716.9,645.3 711.5,636.1 709,690.6 714.2,594.5 712.4,595.9 712,721.1 713.1,584.5 714.1,615.4 712,640.1 712.9,612.4 714,703.5 718,698.9 714.5,673.9 712.6,612.8 710.7,643.7 709.3,639.5 712.3,705.5 713.7,563.3 718,679.5 713,686.8 712.3,709.6 713.7,569 713.5,727.5 711.8,720.6 713.2,541.7 712.8,637.8 714,714 707.6,674.4 712.6,635.1 716.7,666.2 713.5,658 714,700 713.9,606.6 716.4,633.6 713.9,644.2 713.5,654.6 713.9,676.1 714.9,610.1 713.3,678.7 714.8,719.3 715.2,661.1 716.7,713.9 719.4,667.5 712.3,693 718.2,665.6 711.3,686.1 713.9,601.4 715.2,599.6 718,650.4 715.1,602.5 714.4,697.8 709.4,666 710.8,609.9 711.8,628.2 711.6,657 713.7,578.2 707.6,676 713.3,622.1 715.2,605.3 717,659.5 716.4,628.7 710.6,635.5 717,711 716.6,656.5 714.2,680.7 713.9,606 709.2,638.8 713.3,523.2 712.7,533.9 713,731 709.3,648.1 711,697.9 716.7,665 713.3,629.1 712,715 713.8,598.7 709,680.6"/>
<line x1="703.8" y1="657.2" x2="722.8" y2="657.2" stroke="#111" stroke-width="1"/>
<polyline fill="none" marker-start="url(#mg)" marker-mid="url(#mg)" marker-end="url(#mg)" points="740.4,626 743.6,614.4 744.2,643.5 743.7,698.2 744.1,725.6 743.9,688.3 742.3,567.9 735.8,710.4 737.7,675 740,639.9 744,632.3 742.2,571.7 738.9,692.5 744.5,681.5 742.4,694.3 741.2,596.1 741.4,593.5 742.8,722.7 747.8,699.2 742,567.9 742,559.1 743.6,633.3 741.8,620.4 740.7,641 741.6,674.6 742.6,717.8 745,638.1 743.8,716.3 741.5,583.2 744.4,713.4 738.5,687.3 741.8,705.2 743.4,675.2 735.6,691.1 742.6,615 748.5,710.6 739.6,632.5 741.9,606.6 741.3,587.3 742,557.6 741.9,662.3 741.4,625.3 743.8,696.3 743.6,631.3 739.6,700 742.5,696.7 744.1,685.9 745.2,687.3 742.3,633.8 741.7,726.5 744.8,639.2 741.6,578.1 735.9,706.5 740.1,724.6 737.6,703.6 742.5,593.2 738,720.2 742.2,593.7 740.1,701.2 738.3,689 741.1,626.4 736.7,688.7 743,673.4 743.2,705.2 744.4,712.9 745.7,653 742.7,652.7 745.8,665.3 742.5,668.6 743.4,679.2 741.4,724.7 742.3,582.2 738.6,706.7 739,728.1 739.1,669.7 745.1,667.1 738.1,707.9 745.7,687.7 742.4,711.3 737.4,692.2 745.4,675.1 742.9,701.1 742,581.7 742.6,616.6 742.2,568.1 740.7,605 737,707.1 745.9,724.2 742.2,563.7 738.3,721.5 744,616.3 742.2,567.5 748.6,685.1 742.3,631.4 740.6,646.7 741.1,682.7 741.2,722.1 741.2,630.9 743.3,669.9 739.1,636 742.4,660.4 741.6,600.1 745.4,708.3 745.3,709.6 740.6,604.9 741.6,612 740.9,611 741.5,581.6 743.5,641.4 746.1,717.9 740.1,663.9 742.2,587.1 739.9,678 738.7,714.5 737.9,656.6 744.5,632.4 747.2,717.1 743,601 743.6,672.3 741.5,693.7 741,649.5 737.2,669.5 744.9,706 748,711.5 739.2,675.1 741.4,682.7 741.9,573.6 742,599.5 742.2,715.7 736.9,696.8 741.4,603.9 742.9,670.4 739.7,715.3 743.4,631 742.3,630.8 741.3,614.4 745.1,647.8 741.8,664.3 744.3,651.4 739.1,708 742.8,640.7 743,589.2 743.2,627.9 740,626.7 741.7,713.5 741.8,694.9 742.7,646 741.8,684.6 742.5,628.7 735.4,690.2 741.3,659 741.7,731.6 744.3,727.4 742.6,663.9 741.5,708.1 742,559.8 742.4,599.9 741.3,714 742.5,652.3 743.3,714.2 739.1,708.6 747.9,712.8 745.8,676 742.6,591.8 742.1,665.9 742.8,588.4 746.8,666.5 743.1,598.6 740.1,643.5 742,556.3 741.9,727.2 744.3,700.2 740.4,694.4 745.9,684.9 742.7,725.8 741.5,618.4 737.3,667.2 737.6,702.8 742.6,654.6 736.5,700.1 742.2,660.9 743.2,732.7 742.2,716.1 742.2,577.9 742.1,581 746.6,720.7 747.3,675.8 736.8,700.3 737.6,710.5 744.1,630.3 741.1,613.4 743.3,634.2 736,675.7 739.2,683.4 747.5,675.7 743.9,638.3 741.1,584.7 741.5,610.6 740.7,695.3 741.6,730.4 738.1,657.8 738.6,725.3 745.2,663.5 741.7,699.5 742.2,607.6 746.2,720.4 742.2,579 735.9,716 743,611.4 736.9,673 742.7,618.5 740.8,623.9 743,718 739.7,727.9 739.3,634.9 743.3,597 738.3,651.1 738.7,696.1 739.1,685.2 740.4,702.6 740.1,731.1 743.3,722.8 736.8,717.3 742.5,586.3 747.3,667.7 739,676 739.6,630.6 742,609.3 741,601.8 748.8,682.2 742.3,582.3 746.7,719.7 741.7,596.5 741,610.4 743.8,617.7 742.6,594 742,556.7 742.5,623.4 742.9,707.2 743.9,730.9 744.3,668.1 741,599.6 742,590.3 744.7,726.5 737.5,720.7 741.3,663.6 742.1,560 742,559.6 739.3,673.3 743.4,648.4 741.8,574.7 739.4,686.9 738.8,706.4 742.8,694.3 741.8,715.3 741.9,568.2 746.6,672.8 743.3,626 745.8,652.1 748.1,681.2 742.1,597.4 741.5,650.3 746.9,718.1 741.7,650.3 740.8,714.8 739.7,651.9 738.2,708.1 741.5,671 746.1,694.6 744.2,628.2 741.9,601.1 741.5,570.8 741.4,631.4 743.2,641 737.1,695.3 742.3,581.7 743,604.2 741.1,689.7 738.3,664.5 748.3,701.4 740.3,625.8 745.3,684.2 742.6,714.7 736,682 745,725.3 742.4,625.5 741.8,596.5 741.5,707.4 744.6,678.8 742.3,643.8 739.7,663 737.7,695.7 736.9,679 743.7,645.3 742.4,675.6 744.1,723.4 740,652 743.6,632.5 741.5,597.5 742.6,599.6 741.5,584.6 738.4,695.9 741.1,716.8 741.9,612.8 739.9,669.1 741.6,590.9 744.3,628.6 736.5,709.8 747.4,711.2 744.6,674.7 736.4,709.6 741.1,632.3 741.7,575.2 743.5,729.2 738.7,726.5 742.4,574.6 746.3,715.5 742.3,567.9 739.1,676.3 742.4,689 748,689.8 741.9,564.4 742.1,570.3 744,636.4 748.2,677 743.6,638.6 735.5,694.2 739.5,688.4 741.3,634.4 741.6,732.1 738.7,708.9 738.8,699.2 748.5,686.2 741.5,601.2 736.9,703.6 738.4,659.8 741.6,639.9 742,611.7 740,682.2 742,723.5 737.6,665.2 743.9,662.3 743.5,684.8 744.3,676.2 745.5,703.2 740.3,690.8 746.1,657.3 742.6,654 737.5,690.3 741.5,578.7 738.5,682.5 746.1,659.8 741.7,603.8 744.8,708.9 743.6,645.4 741.7,631.7 744.7,667.7 744.6,728 744.4,719 742.4,576.5 742.4,661.5 745,654.1 741.3,588.7 742.1,591.3 742.6,649.7 737.4,670.2 743.5,653.9 743,718.7 741.9,729.6 741.1,717.1 743.9,716.5 742.5,575 741.2,665.9 742.2,580.7 747.3,670.2 738.1,692 742.7,609.6 737.8,659.3 743.6,634.7 746.7,721.4 735.8,702.5 741.5,640.8 741.3,580 741.2,658.5 744.2,708.7 741.7,571.8 741.4,714 744.6,643.1 741.7,654.8 735.3,683.8 739.5,713.1 744.9,660.1 738.5,667.7 739.1,692.7 746.9,676.7 742.4,624.9 738.1,653.3 742.5,628.6 741.8,613.6 743.9,667.6 746.7,671.7 738.1,687.8 745.2,716.1 741.9,644.3 744.1,711.5 741.7,573 740.8,712.2 738.4,686.3 748.7,686.8 740.4,677.3 747.4,686.6 742,625.2 746.2,657.2 747.9,715.2 741.4,729.5 745,670.9 736.7,692.4 746.7,685 741.8,619.1 745,656.8 742.6,690.5 745.2,643.6 742.8,603.5 739.6,684.4 743.7,654.4 742.3,594.5 742.1,698.9 741.4,720.8 742.3,601.1 740.4,613.6 747.5,696.7 742.7,596.5 737.8,677 738.1,687.3 742.6,725 737.5,685.8 745.5,644.8 742.5,595 741.5,687 743.2,731.8 741.5,611.8 744.8,646.2 737,688.8 744.4,680.3 741.6,597.2 735.5,679.7 745.1,652.4 742,559.7 743.4,651.9 738.2,657.8 741.7,724.6 745.8,670.7 745.8,716.6 745.2,660.2 742.5,578.2 747.5,692.9 741.4,693.4 740.6,691.3 738.9,691.7 745.4,726.3 740.7,709.1 741.1,587.4 748,675.8 743,594.6 740.7,660.2 747.1,688.7 741.4,650.5 735.9,679.9 742,582.6 745.3,725.4 744.2,644.2 742.1,563.8 741.5,565.9 742,557.1 742.5,637.6 740.9,683.1 747.5,678.6 739.5,685.3 745.8,695.2 742,566.6 748.3,702.5 747.2,720.3 745.7,690.1 736.8,714.5 741.8,569.1 742,633.4 743.9,666.5 739.2,644.4 741.7,561 740.2,631.5 742,604.1 741.2,619.7 737.9,678.5 743.9,682.2 742.3,570.9 744.8,707.9 743.5,680.4 740.6,612.3 743.5,664.6 743.8,666.2 742.1,644.7 744.1,645.3 741.5,599.1 742.1,583.6 744.1,710 746.5,692.6 740.4,728.5 743.1,645.7 740.6,603.5 743.2,723.7 744,654.7 744.8,713 742.7,722.4 743.4,666.3 741.3,615.9 742.6,588.8 742,731.5 742.6,693 740.1,707.3 742.8,607.3 744.7,703.4 747.3,691.8 741.6,633.8 742.5,702.9 740.6,644.1 742,556.7 742.3,702.8 746.4,680.4 737.4,663.9 742,589.6 741.2,727.9 746,714.3 744,697.4 736.3,671.5 742.5,632.7 741.6,555.5 740.7,661.1 738.7,700.4 742,559.8 742.5,696.8 741.3,640.7 744.8,728.4 743.2,594.9 738.5,674.7 740.9,677.4 742.1,562.7 742,557.8 743.2,646.7 736.3,696.5 745.3,688.9 740.1,648.8 742.6,642.3 743.4,665.2 738.4,708.8 743.6,688.5 742.3,713.9 735.5,696.9 737.6,692.5 742,608.8 737.1,668.3 741.6,670.7 744.1,708.2 741.7,578.5 742.4,707.6 743.7,643.7 740.8,692.7 742.5,632.5 748.1,710.9 746.5,685 743.2,650 739.2,659.3 742,555.9 742,732.9 740.1,680.7 736.3,674.7 741.9,622.7 746.3,666.2 742.7,625.8 737.3,715.8 737.3,666.3 742.2,574 743.8,663.5 742.8,700.5 742.3,681.6 746.7,716.9 743.8,693.9 742,555.5 743.1,654.3 740.9,703.2 741.9,637.1 744.3,626.2 738.9,684.1 744.8,673.6 740.8,594.6 736.7,705.9 739,637.9 745.6,647.6 743.7,631.3 740.1,628.3 739.6,687.7 742.7,585.7 740,664.3 739.4,639.8 740,621.7 738.6,645.5 736.3,682.4 744.2,668.5 741.9,595.5 740.8,673.5 741.4,702.4 745.3,673.5 736.4,689.7 743.7,639.7 739.8,659.2 742.1,588.8 747,710.1 740.1,619.8 742.3,599.5 746.3,719.3 743.2,595.5 741.6,704.2 742,599.1 742.4,610 742.4,574.8 743.6,714.6 742,590.3 742,698.2 741.1,707.1 743,598.8 742.2,659.2 741.5,590.4 743,628.5 741.9,625 742.1,577.6 744,715.8 739.9,626.5 743.7,621.8 743.8,725 740.3,670.1 748.3,689.4 741,658.5 744.2,641 741.8,676 744.4,672.7 740.4,676.9 738.6,716.5 738.9,650 745.7,665.6 742.6,697.5 743.1,595.3 740.3,730.8 740.4,699.1 740.1,705.4 744,617.9 743.7,615.3 737.6,718.6 738.6,663.3 740.1,666.2 742.9,731.5 747.7,686.4 748.5,708.2 742.7,594.4 747.2,677 742.4,706.5 742.6,676.7 744,681.8 740.2,619.8 740.3,678.9 740.3,606.9 741.5,581.9 742.1,713.6 742.5,559.2 745,684.6 742.5,710.1 743,720 743.6,658.2 742.9,677.6 740,711.1 743.4,626.5 739.2,636.2 740.6,638 740.6,632.4 742.8,606.5 745.6,693.7 742.5,732.8 746.3,661.2 741.2,594.7 748.2,675.6 741,632.9 747.1,701.8 747.2,673.2 744.2,705.1 741.6,673.4 743.7,612.2 742.1,679.8 736.9,687.7 739.5,674.6 737,698.2 739.1,693.9 740.7,722.3 744.3,688.3 742.3,708.8 742,595.1 744.2,727.9 742,645.5 742.9,587.6 740.4,630.6 742.1,667.4 745.9,700.7 741.9,631.4 744.9,647 744.5,680.9 741.8,574 743.4,601.2 742.9,629 742.2,647.5 737.7,691.7 741.6,709.2 742.6,683.5 742.3,579.6 740.7,670.9 736,692.5 736.6,677.7 742.2,649.5 742.1,717.6 742.2,572.6 737.5,686.5 741.3,626.8 738.7,656.1 742,730.9 741.5,693.8 740.6,728.8 744.8,717.6 739.1,644.4 746.9,677.4 742.6,658.4 747.2,705.6 740.9,605.1 742.2,595.3 738.5,656.4 738.8,688.7 741,600.7 747.4,668.2 742.4,594.5 744.7,690 741.6,627.1 741.9,591.4 743.9,700.9 740.1,712.8 741.9,700.8 741.5,600.9 743.3,602.8 744.9,709.7 742.4,654.2 737.9,683 739.6,716.7"/>
<line x1="732.5" y1="673.1" x2="751.5" y2="673.1" stroke="#111" stroke-width="1"/>
<polyline fill="none" marker-start="url(#mg)" marker-mid="url(#mg)" marker-end="url(#mg)" points="773.9,720 771.2,639.3 774.1,672.3 766.5,695.6 770.6,598.4 772.3,692.6 770.6,584.5 771.4,652 770,713.1 770.6,517.2 769.9,569.4 772.8,718.3 771,532.7 770.5,675.6 771,721.9 769.2,698 770.3,689.5 770.8,663.7 773.6,654.3 770.7,596.4 770.6,678.3 771.5,715.8 770.7,667.5 770.5,712.5 770.9,614.1 771.1,519.9 771.1,620.8 771.3,569 771.1,564.6 771.7,576.6 771.1,648.6 766.9,668 775.2,680.5 768.3,724 772.1,678.2 770.9,527.3 772.9,661.3 767.1,707.3 772.5,695.3 767,678.7 771.3,551.3 765.3,698.4 768.3,640.9 770.1,567.7 773.2,679.9 770.9,663.1 772.2,644.3 770.7,507.4 770.5,576.5 770.2,715.1 766.8,664.1 770.9,644.7 772.3,719.3 773.2,724.5 766.2,713 772.6,718 769.1,620.2 773.3,664.4 766.5,673.9 768.1,641.5 773.5,644.8 769.5,581.3 769.8,708.5 771.6,565.1 770.7,505.6 765.3,700.1 769.6,602.4 770.3,624.3 770.2,711.4 767.5,701.2 765.3,680.9 775,697 768,652.6 766.2,684.2 766.1,685.6 767.7,679.2 770.7,524 771.5,562.5 771,591.3 772,608.5 772.6,660.2 768.4,674.9 771.6,639.9 764.8,702.3 770.5,637.1 771.5,572 766,701.4 770.6,546.1 769.5,585.7 770.5,538 770,590.3 769.4,588.2 770.5,578.6 767.4,696.6 770.8,536.4 771.8,638 768.9,668.1 765.1,678.4 770.7,517.1 769.7,643.9 771,714 771.2,657.7 772.6,608.7 773.9,678.2 770.7,513.7 772.6,660.8 770.7,542.9 770.4,529.6 776.5,685.7 770.6,579.8 766.1,703.3 771.7,724.4 773.1,641.2 774,710.6 770.8,673 770.6,538.1 771,678.9 771.1,722.4 770.2,596 770.8,650.9 770.8,608.2 772.1,714.5 770.3,546.6 771.2,667.7 770.9,545.6 769.5,582.7 770.7,508.2 771.8,685.4 770.1,601.1 770.1,546.3 772.9,655.7 772.5,682 768.9,724.8 771.1,540.3 767.9,641.2 770.7,511.3 773.3,703.3 771.2,589.7 769.3,675.6 773.4,638.6 770.5,696.8 770.9,527.5 770.4,625.3 770.3,569 770.9,721.3 768.8,685.2 770.6,547.9 772.3,649.7 770.1,637.1 768.6,721.5 773.2,652.9 770.4,581.9 770.4,697.6 768.1,645 770.7,523.3 770.7,587.2 772,634.3 769.5,653.4 770.7,519.3 766.6,714.3 771,656.6 770.7,511.9 770.5,636.9 771.1,699.7 770,630.3 771.7,595.4 772.8,643.8 771,670.3 769,681.7 770.6,641.1 770.7,508.7 772.7,636.1 767.8,639.4 770.2,552.9 767.1,658.8 772,622.6 773.6,651 767.7,646.9 766.7,667.6 764.4,691.1 765.9,712 767.6,659.4 774.2,661.8 771.7,569.7 770.7,507 772.3,603.8 774.2,719.1 767.9,710.9 770.9,574.9 771.4,591.3 771.6,681.9 770.7,554.7 770.4,569.1 771,616.4 764.7,691.6 770.4,585.1 770.9,601.2 770.6,545.5 770.7,572.2 769.5,606.5 766.7,717.9 770.1,676.7 770.7,681.2 774.1,654.3 769.9,569.9 770.7,506.1 771.4,582.5 771.7,605.3 770.7,506.3 770.3,691.6 770.5,604.7 769,722.5 764.7,695.3 772.7,659 776.1,701.4 771.7,635.5 770,552.6 770.8,723 769.6,704.9 770.9,522.7 769.2,662.4 770.8,643.5 776.9,688 770.5,562.7 770.4,565.5 768.8,721.7 771.2,652.5 769.2,598.7 771,642.3 771,682.9 770.7,554 771.3,612.5 773.6,699.8 771.3,552.6 770.6,522.9 770.8,607.4 767.6,675 770.5,523.4 773.2,661.9 773.3,658.9 772,718.3 769.1,677.1 774.9,684.3 771.3,694.2 770.6,525.4 772.8,724.4 771.7,619.6 770.9,677.1 771,536.7 770.6,517.8 770.3,562.8 770.9,598.4 769.5,627.7 770.7,521.2 771.7,647.3 770.5,693.4 771.3,613.9 770.8,514.6 771.8,594.9 770.2,596.7 773.8,691.4 771.5,565.3 770.7,558.7 771.5,625 773.8,710.6 770.3,540.1 771.8,584.2 774.2,673.1 770.8,554.2 772.7,711 770.3,640.6 769.8,613.6 770.8,636.8 776.2,692.8 768.7,681 769.9,593.9 770.3,558.1 767,672.1 772.6,663.1 770.9,700.1 770.7,561.4 770.9,611.6 770.2,564.7 771,629.4 768.3,641.8 770.9,527.2 769.3,661.1 771.7,692.1 770.9,580.4 774.8,688.5 772.4,610.5 770.6,587.5 771.5,678.4 770.7,710.3 770.3,691.2 771.1,604.5 770.7,508.1 775.4,702.8 770.7,511.7 770.5,691.3 772.5,724 771.6,612.1 770.8,518.6 770.6,519 769.6,589.3 770.3,566.8 770.7,552 773.8,683.4 767.3,714 770.2,593 768.8,606.7 769.4,628.6 767.9,683 770.8,715.8 776.2,690 771.5,629.2 769,635.7 768.5,618.9 767.2,661 770.9,557.3 772.1,596.6 770.8,669 775.3,691.7 774,657.5 767.6,674.6 769.5,601.9 768.2,700 772.3,599.6 773.7,712.1 771.5,575.5 767.5,720.4 771,574.5 764.7,683.2 767.3,671.2 767.7,670.2 770.6,566 770.1,693 774.6,662.8 767.8,665.2 772.4,689 774.8,714.3 771.6,576.7 768.6,665.1 769.9,573.4 770.5,530.1 771.2,510.1 767.7,720.5 770.9,528.1 771.3,651.4 770.1,642.5 770.7,557.8 771.5,665 771.1,634.8 771.1,524.8 773.8,685.2 768.3,634.5 769.8,649.7 770.8,593.3 770.8,555.6 771.4,698.3 771.1,588.3 770.6,665.6 770.9,710.5 770.1,551.5 771.2,682.6 768.3,668.9 768.8,627 770.7,511.2 771,676.2 771.7,603.5 770.1,550.3 764.7,684.4 770.9,513 766.4,710.5 771.2,539.2 771.4,646.3 770.6,528.6 773.1,629.7 771.4,554.2 771.3,570.6 771.1,536 771.9,641.9 771,591.9 771.5,688.2 773.1,683 765.7,694.5 770.8,561.1 771.2,654.9 771,664.8 769.4,708.8 769.5,625.3 773.8,718.9 766.6,713.6 772.2,604.2 771.1,724.7 766.4,713.7 767.4,647.9 771.4,661.5 765,691.3 772.8,660.3 773.3,718.5 774.2,654.7 768.3,664.5 770.6,676.8 766,713.3 773.6,720.6 770,642.2 771.5,681.4 769.1,696.7 771,617.2 769.7,677.1 770.6,636.5 769.2,610.1 769.1,604 766.3,676.5 771.3,707.9 773,652.8 771.6,630.6 768.5,717.1 770,582.2 770,720.3 770.5,532.4 773.4,647.8 772.1,722.7 770.8,595 771.6,606.7 767.8,688.1 771,701.4 766.7,699.1 773.9,692.6 770,565.6 769.1,638.9 770.6,528.2 771.7,645.3 770.3,525.3 774.7,705.6 775,697.4 770.8,515.9 772.2,644.7 765.6,681.5 768.6,688.4 772.8,627.2 770.3,649.4 769.9,576 770.5,529.5 771.7,595.4 770.3,552.5 770.8,674.3 767,695 771.5,719.2 770.2,683.6 767.9,646.3 768.2,665.8 767.8,705.3 770.5,559.6 771.3,611.3 773.1,719 767.8,721.8 767.7,697.1 770.5,572.9 773.1,716.3 765.9,678.5 770,567.6 771.9,701.4 770.2,556.1 770.9,572.5 766.5,665.6 771.9,605.7 771.9,663.4 767.9,654.8 771.4,662.5 774.3,720.3 771.3,640.1 775.8,694 768.3,637.7 771.9,609.6 770.7,589.9 769.7,720.5 771.8,649.6 766.9,721.7 770.8,674 770.9,566.7 773,629.1 770.8,688 769.5,715.3 770.8,590.4 770.2,671 770.3,586.7 770.1,577.2 770.5,522.5 771.3,560 767.4,646.7 770.2,542.7 776.3,703 770.2,696.3 771.4,595.3 773.4,670 770.1,684.3 770.4,719.7 774.5,669 775.5,692.6 770.4,663.5 770.7,532.2 767.3,717 768.7,650 771.1,661.4 769.7,696.1 772.7,682 770.3,638.4 775.2,709.1 769.9,698.8 771,552.6 768.5,692.4 769.1,638.5 770.7,522.2 770.9,545.5 770.9,578.9 772.7,651.4 774.9,679.6 770.3,707.5 770.7,548.9 767.3,725 770.6,515.2 770.2,722.2 775.8,708.5 772.6,623.8 770.6,557 771.4,604.5 770.6,533.2 771.6,716.7 771.7,574.4 770.6,521.5 772.6,630.2 771,608.9 773.5,663.4 773.9,682.1 773.2,663.6 768.6,663.2 770.3,577.2 772.2,588.4 771.5,709.7 770.5,673.1 770.1,691.4 770.9,625.7 770.9,526 769,693.7 770.9,549.3 769.9,662.2 769,621.4 771,604.4 769.7,721.5 767.3,712.3 765.8,670.2 770.7,517.5 773.5,651.2 771.8,576 767.7,673.9 771,585.8 769.1,610.5 771.1,572.4 775.6,682.7 769.5,621.3 764.6,688.7 767.8,639.1 771.3,618.7 770.7,665.2 769.1,617.2 769.2,646.6 770.8,702.2 772,696.7 771.4,678.9 769.2,613.6 770.4,623.7 772.7,722.5 776.3,691 770.2,647.9 773.3,655.1 770.3,537.2 767.4,697.8 774.6,673.2 766.6,666.6 769.3,590.6 769.7,640.5 771,532.7 772.7,659.7 771.3,660.8 768.9,646.3 771.5,595.8 769.2,592 771.6,598.5 770.2,612.1 770.7,602.3 770.2,596.5 771.1,664.6 774.9,706.6 772.5,678.9 772.4,666.3 767.8,658.9 770.7,547.8 770.8,602.8 769.8,677.9 769.7,594.6 771.2,637.3 770.4,519.7 769.6,667.3 767.6,649.7 772.3,689.5 769.6,715.8 771.8,705.7 764.9,683.2 771.5,710.4 770.7,514.9 771.4,628 773.9,658 771,515.7 770.7,508.6 767.9,671.3 770.1,705.2 771.4,620.5 770.9,537 769,676.2 771.6,667.5 770.6,518 768,674.8 771.8,630.5 768.9,611.1 768,644.1 770.2,617.6 767.4,658.8 776.5,685.3 770.2,581.8 774.1,682.5 771.5,692.3 776.9,692.5 773.3,687.6 770.2,613.5 770.2,621.7 771.1,684.7 771.1,579.4 770.9,559.7 770.9,626.3 771.9,627.2 771.3,606.5 774.1,715.9 772.2,686.1 769.6,698 770.3,598.1 774.1,705.5 770.6,520.1 769.1,596.8 770.7,514.1 770.8,645 770.2,610.5 768.1,685.6 775.3,696.6 773.7,685.1 775.8,708.8 768.3,628.3 772.2,724.6 771.7,691 765.1,706.4 766.1,715.5 769.9,711.7 771.2,572 771.2,688.4 770.6,517.6 769.8,565 771.6,672.3 771.1,549.2 771.9,581.1 769.9,560.4 768.9,621.7 769.8,710.3 770.3,628.2 766.7,673.8 773.8,650 770.7,506.7 767.9,689.3 769.3,686.9 770.5,539.3 767.7,665 769.2,644.6 771.2,566.8 771.3,562.7 770.6,505.6 770.3,569.4 769.2,707.8 770.4,612.8 768.9,628.3 770.8,642.8 773.4,697.9 771.1,613.6 771.3,658.7 771.3,554.1 772.2,602 769,614.2 770.8,568.2 770.5,621.5 770.7,511.1 772.6,644.1 771.5,676 770.3,577.4 770,615.9 770.4,709.4 773.6,724.3 776.7,692.8 770.7,509.6 771.2,638.8 765.8,696.3 770.9,622.3 769.4,580.6 770.6,652 770.1,620.4 774.5,699 768.2,635.4 769.4,690.6 769.3,611.8 769.2,643.8 770.7,514 765.2,683.8 772.3,723.9 772.3,632.2 770,654.7 773.3,662.9 771,715.8 775.1,716.8 771,686 776.2,699.8 768.1,643.1 773,712.1 771,535.4 774.4,700.4 765.5,680.8 773,705.5 775.3,677 770.2,606.6 774.6,670.5 768.6,716.9 770.7,569.5 768.4,697.9 767.8,690 772.7,722.4 768.7,716.2 770.9,697.1 770.5,615.9 770.8,550.5 770.6,663.3 768.2,661 769.8,571.4 769.3,583.9 766.7,665.4 770.3,607.1 771.1,655.3 770.8,590 772.6,661.2 771.2,600.9 770.7,525.9 770.7,553.3 777,689.9 768.1,643.6 770.6,528.6 770.2,628.5 770,596.5 773.6,717.5 770.7,513.1 769.5,614.2 768.9,695.6 767.8,724 773.5,721.3 771.2,632.1 768.4,643.5 771,599 770.8,534.7 770.4,534.5 772.2,598.6 771.2,587.2 771.6,614.3 770.5,529 774.1,711.2 770.7,528.7 769.5,633.2 764.9,700.5 770.7,525.1 770.5,534.7 770,622.8 770,575.7 769.2,632.1 771.1,598.2 768.3,714.1 771,559.7 770.8,528.5 770.4,711.5 770.7,544.4 771.2,693.3 771.7,725 772.5,642.6 769.7,664.4 764.4,701.7 770.3,654.1 769.3,600.8 771.2,605.6 773.6,662.1 767.2,655.5 773.3,643.6 772,617.9 769.8,572 768.2,663.5 770.3,587.6 773.2,694.7 771.6,627.8 770.5,535.8 772.1,699.6 771.3,693 768.9,614.3 768.7,644.4 771.5,582.7 768.6,720 767.3,716.3 770.7,711.4 765.1,701.1 769,676.8 771.2,607"/>
<line x1="761.2" y1="654" x2="780.2" y2="654" stroke="#111" stroke-width="1"/>
<polyline fill="none" marker-start="url(#mg)" marker-mid="url(#mg)" marker-end="url(#mg)" points="804.2,690.7 799.4,666.3 796.4,703.5 803,666.2 799.3,628.8 802.8,658.4 798.9,586 805.4,649.5 796.9,674.9 800.3,590.9 795.7,618.3 799.2,572.6 799.9,616.2 799.5,564 803,677.7 800.8,599.1 800.5,585.7 797,635.8 797.7,694.9 799.4,600.2 803.3,686.9 796.8,603.2 801.9,648.4 800.3,725.4 798.9,579.5 799.6,566.4 801.8,624.6 796.5,633.7 805,694.9 800.4,632.7 801.6,700.7 799.8,582.9 799.7,549.3 798.8,552.1 802.9,650.9 798.3,638.7 805.2,646.3 800.6,595.9 799.3,539.4 802.2,716 798.5,687.3 802,719.1 797,600.8 799,612.6 797.2,684 798.8,560.6 801.6,709.3 798.6,581.7 796.8,641.1 804.2,657.5 793.4,692.1 796.8,693.1 800.8,724.4 794.7,655.9 797.8,722.9 804.6,669.9 800.5,701.8 801.9,692.6 798.4,579.1 803.1,631.3 803.7,695.4 800.9,594.6 799.7,569.6 799.8,564.3 795.2,673.8 798.8,617.7 795.8,707.8 799.6,663.1 799.3,615.5 800.2,574.4 799.7,701.1 802.9,650.5 798.1,686.3 800,664.1 799,701 799,557.7 799,586.1 798.2,665.2 796.3,664.1 804.4,642.3 797.4,687.4 793.5,668.4 798.1,690.1 795.3,694.2 803.5,622.5 798.6,721.3 798.9,555 800.2,575.1 799.6,710.6 803,673.5 802.8,676.2 796.6,656.9 793.6,646.3 795.7,618.6 800.1,615.9 798.8,699 801.1,595.1 798.2,717.2 805.2,654.9 799.7,727.1 798.6,693.3 802.8,698.7 802.9,714.5 800.9,710.6 797.4,704.4 799,596.9 795.9,632.6 799.3,538.5 799.8,634.9 799.2,615.2 796.1,675.6 800.5,667.6 799.9,564.2 799.4,548.3 801.6,637.5 798.5,665.5 799.5,567.7 803.2,678.9 806,684 797.5,660.1 799.5,542 794.1,651.4 795.3,658.8 804.8,697.4 796.8,666.7 801.7,649.8 799.9,555.8 803,624.7 799.4,517.1 797.4,706.3 798.8,686.3 803.8,634.3 794.1,648.5 798.8,629.9 794.3,694.9 802.6,661.7 800.8,642.8 799.6,701.2 799.6,702.4 799.7,576.5 804.6,641.8 798.9,680.7 794.6,656.1 796.1,685.2 799,581.6 800.1,714.2 793.4,666 794.3,665.9 802.9,690.2 799.2,645 800.4,676.6 799.8,575.2 798.2,671.2 799.3,560.8 799.4,607.4 799.6,571.8 799.9,688 802.1,616.5 805.3,685.9 798,660.9 800.6,671.2 797.8,676 799.6,713.5 801.8,683.5 800.8,636.5 800.5,649.8 800.3,636.5 801.6,606 799.7,579.8 800.5,640.9 799.5,670.1 792.7,683.4 799.7,665 793.5,643.4 799.1,557.7 802,684.4 795.9,659.3 800.8,720.5 804.7,690.9 794.8,640.9 799.4,535.3 797.8,667.5 800.1,604 797.8,714.8 797.7,625.6 800.9,599.4 796,684.9 796.8,704 796.5,640.8 798.6,593.4 793.6,688.9 801.1,659.7 801.5,685.3 802.2,629.6 802.7,700.8 799,557.6 805.1,647.3 798,597 798.9,651.2 796.2,644.8 799.3,546.5 794.1,704.8 800.1,566.4 797.9,635.3 801.1,629 798.9,568.4 797.8,719.2 799.1,656.9 802.3,606.9 796.6,658.1 796.2,709.2 802.3,720.9 801.5,616 804.5,673.1 798.8,651.4 799.7,665.9 795.4,706 796.3,624.9 800.2,691.7 799.3,556.2 799.4,629 799.8,638.5 798.7,565.1 800.2,593.5 800.8,717.8 799.1,624.2 799.4,653.7 802,717.5 796.9,711.4 799.3,638.2 800,571.8 799.4,532.7 799.9,689.8 794.6,678.9 797.4,592.4 799.3,681.1 799.1,546.7 804.5,636.4 805.3,650.4 797.8,599.8 798.8,558.7 798.1,685.2 799.4,536.2 800,569.5 795.5,709.4 803.8,668.4 798.4,655 802.2,679.6 804.1,644.4 802.5,611.3 802.5,610.2 793.9,672 803.8,673.8 796.1,643.8 799.6,609.1 796.1,609.6 802.3,694.2 799.4,614.6 795.3,701.7 793.7,677.7 800.5,620.4 799.1,555.8 804.6,679 796.9,630.7 797.8,624.5 796,672.1 795.4,668.6 804.3,689 793.5,673.6 799.7,595 797,614.8 794.9,633.1 797.6,691.8 803.1,697 799.5,715.8 802.2,684.2 799.7,572.6 796.2,609.7 798,659.4 798.7,571.3 800.7,719.7 804.2,639.7 804.7,661.8 801,604.9 799.9,624.7 799.7,671.3 799.7,566.6 799.8,589.2 805.7,679.5 802.4,665.1 797.1,693.4 799.6,714.5 799,575.1 795.9,718.8 799.5,706.5 795.8,627.3 799.8,626.1 804.5,676.8 795.3,634.1 802.1,647.7 797.5,591.1 799.3,683.7 793.5,668.5 801,687.8 800.9,680.9 797,709.3 802.6,650.2 803.1,641.3 798.8,626.2 797.9,690.1 793.1,682.7 802.3,653.6 801.7,721.1 796,690.5 799.2,641.3 800.8,615.8 800.1,726.9 799.2,675.8 795.8,619.9 797.3,684 797.1,643.3 799.2,552.4 800.7,718.6 798.8,722.7 800.9,603.4 800.6,642.1 793.6,657.5 799.7,705.8 799.6,547.5 801.9,616.1 800.4,615.9 797.7,686.7 801,643 800.7,630.3 797.2,708.6 802.8,673.4 798.3,576.8 800.3,723.5 802.2,720.6 797.3,668.8 796.2,634.5 801.5,610.7 796.4,713.1 794.6,662.2 802.3,690.8 801.1,601.6 794.5,669.2 795.1,677.8 801.9,629.9 793.8,651 800.4,636.5 804.4,700.1 800.6,634.6 801.4,693.7 799.1,647.5 801.2,631.7 800.8,725.2 802.7,632.8 804.8,673.6 802.5,695.9 795.2,689.6 799.8,581.2 797.1,596.3 794.2,669.8 794.5,690 794.5,702.6 799.4,674.8 805,658.9 799,584.9 803.7,674 799.8,564.2 799.9,545.2 799.6,544.5 799.9,566.7 801,712.3 799.7,560.2 799.1,667.6 800,680.2 796.7,607.9 804.5,686.6 802.7,710.1 802.2,622.7 796,646.9 799.7,559.3 804.4,698.4 797.3,689.2 794.9,659.9 793.9,698.8 799.5,540.2 799.6,581.6 802.2,652.7 801.3,621.7 805.2,690.6 800.6,579.3 792.9,675.9 799.4,587.1 801.8,713.1 798.2,641.7 798,618.6 794.8,637.2 795.5,690.4 797.7,595.4 799.9,721.8 799.7,686.6 801.9,670.9 803.2,700.4 798.9,646.8 801.2,715.1 798.1,623.8 797.9,652.5 799.8,657.8 797.9,592.5 795.8,681.1 800.3,602 800.1,720 800.1,571.2 801.3,605 803.9,655.5 794.2,661.8 798.9,715.2 797.6,592.4 804.8,695.8 793.1,657.6 801.2,629.5 798.6,719.3 800.1,567.2 799.9,567.6 805,684.4 802.1,675.3 799.2,689.8 796.4,700.1 801.5,674.6 804.3,661.1 799.2,558.4 801.4,656.2 803.4,651 799.7,670.2 799.2,669.6 799.5,612.8 800.6,628.9 799.8,663.2 803.9,636.7 797.5,648.8 799.3,549.7 802.2,626.6 799.2,724.1 797,611 801.6,624.8 798.6,632.5 799.8,564.4 804.4,668.2 798.9,621.5 806.2,678.2 797.6,714.3 800.6,616.7 801.3,670.6 798.4,626.6 797.1,633.3 799.6,624.3 799.5,587.9 798.9,595.1 800,676 804.9,656 796.5,621.3 798.8,694.8 799.5,558 799.9,611.7 799.5,641.6 795.7,629 805.3,660.5 801.4,669.2 798.9,593.5 798,709.4 796.8,705.7 798.5,671.4 801.3,613.9 802,705.4 800.8,656 801.5,610.7 801.3,652.2 800.9,645.9 800.2,721.1 795.5,705.2 796.1,644.3 802.5,668.8 799.5,540.9 795.4,666.1 800.3,710.6 795.4,707.6 793.8,668.6 794.8,655.9 802.1,625.8 801.4,724.4 799,564.3 803,629.6 798.6,565 799.3,553.8 799.1,548.7 794.7,644.8 803.9,655.8 799.5,705.9 795.6,686.1 798.5,571.3 796.1,617.2 802.9,616.5 800.2,566.8 797.1,673.7 798.7,571.7 800.1,709.5 804.4,695.1 799.3,542.3 802.4,610 799.1,562.6 795.7,713.4 799.7,566.6 803.2,616.8 799.2,623.8 794.7,634.3 797.7,684.2 797.4,606.4 799.6,576 797.4,632.7 801.4,609.8 803.5,690.7 799.3,704.9 796.1,663.9 799.9,579.1 799.7,546.6 799.8,632.5 800.5,594.2 799.3,539.9 799.4,553.1 798.9,696.9 799.3,597.2 799.1,698.9 796.4,616.6 804.7,653.3 796.7,671.6 799,563.2 799.5,691.2 797.8,700.7 797.3,611.5 799.8,551.4 799.5,599.8 799.5,598.9 796.8,712.4 798.1,662.4 799.4,596.3 793.9,652.6 800.9,691.7 798.7,679.7 799.9,620.2 802.5,654.2 800.4,660.9 800.1,614.1 797.2,657.8 793.9,700.1 799.3,541.2 799.8,549.4 796.8,622.3 793.2,669.9 799.8,535.3 804.8,667.6 794.8,700.3 799.7,592 798,597.9 801.6,700.1 804.2,658.4 800.5,631.8 799,665.3 799.8,722.8 801.3,644.7 796.8,620.5 799.6,554.7 795.6,642.9 795.4,660.8 802.4,648.5 801.3,699.4 801.6,636.5 796.8,653.2 800.9,654.7 799.3,543.4 803.4,697.5 799.3,541.8 801.7,651.9 800.8,675.6 799.2,635.7 799.2,582.3 804.2,644.2 798.3,607.2 805.9,680.7 799.8,621 805.1,652 796.4,716.1 797.9,639.5 800.8,585.7 799.8,606.9 797.2,618.9 799.6,588.4 795.5,682.8 798.8,671.2 799.8,664 796.6,721.4 805.5,674.3 803,622.9 798.8,627.3 796.9,606.8 798.3,656 798.8,646.9 799.3,542.6 798.2,616.5 799.3,542.6 799.4,665.3 799.8,666.7 803.6,697 798.7,592.5 792.9,656.4 799.3,572.1 801.3,687.9 804.5,646.7 799.1,636 794.9,634.6 803.5,673.8 799.6,691.8 799.9,540.8 799.3,545.8 802.3,679.4 799.5,621.8 805.2,655.7 800.7,595.7 797.7,648.4 800.4,579.4 802.2,617.3 805.1,666.8 805.2,669.3 794.6,696.8 797.2,611.5 795.2,622.4 795.3,627.4 799.9,560.4 801.9,664.8 799.6,538.9 798.7,722.3 799.4,563.8 801.7,696.3 798.2,631.5 794.5,646.1 799.9,601.8 802.2,648.7 798.3,717.9 802.9,718.6 803.5,634.6 803.3,620.7 802.8,711 797.1,641 802.6,709.7 800,626.8 799.4,510.7 800.7,593.3 795.8,677.7 802.4,678.1 801,595.8 805.5,674.9 797.8,629.1 800.6,630.3 801.2,622.6 800.5,589.6 799.5,691.6 798.8,578.8 797.3,602 793.7,652.4 800.1,568.7 803,698.3 793.4,688 797.7,604.4 799.4,550 799.1,553.4 800.9,724.4 799.4,568.4 796.7,679.4 798.7,603.9 798.6,721.8 800,659.9 793.8,681.8 799.1,648.9 797.6,724 799.8,646.7 798.7,631.3 799.8,725.1 799.3,593.9 799.6,637.2 802.8,612.1 799.7,661.1 796.5,629.8 799.1,569.9 795.5,644 799.2,716.3 802.4,636.9 800.1,645.8 799.3,549 798.6,573.6 799.7,561.3 799.2,702.9 802.6,612.8 800.3,709.5 803.3,690.8 801.3,622 798.8,556.6 802.7,677.4 797.7,714.1 801.6,704.4 804,675.3 799.5,695.4 799.8,532.5 796.6,723.3 796.5,719 799.5,602 800.2,665.1 802,686.8 802.9,639.5 805.6,678.6 801.3,635.9 799.5,541 799.9,691 793.4,662.6 801,642.8 798.6,698.5 801.5,710.7 799.4,533.7 800.8,699.9 800.5,697.8 800.3,569.3 802.4,636.7 799,602.9 799.5,653.3 797.6,712 799.5,544.8 797.7,665 799.9,638.7 799.2,616.1 804.5,693.1 804.3,661 800.5,628.1 799.9,720.3 799,695.7 795.8,672.5 797,726.1 792.6,672.3 802.2,658.9 797.2,615 799.1,684.8 795.3,624.3 799,553.8 799.8,591 798.2,614.5 802.5,710 798.9,605.1 800.5,611.1 797,600.8 801,634.5 798.7,727 799.1,558 794.3,696.8 801.5,624.2 804.1,633 796,666.6 798.9,673 797,705.9 800.6,605.8 800.3,679.6 803.8,649 801.9,720.9 801.5,680.2 797.5,677.1 803.5,698.3 801.5,695 799.6,675.2 803.8,698.2 797,690 802.2,708.4 797.7,669.2 798.6,596.8 799.2,610.4 801.6,699.4 805.8,654.4 796.4,641.8 800.3,707.1 801.7,720.5 797.4,610.1 799.4,536.5 802.4,687.6 793.8,639 798,604.1 803.9,680.9 804,698.7 799.7,638.3 805.1,668.5 799.9,707.9 799.3,714.5 800,557.3 802.1,717.5 799.8,654.8 797.2,718.2 800.8,722.8 799.1,669.9 802,643.6 799.7,722.7 799.6,564.7 802.5,627.3 799.5,657.4 799.6,719.1 798.1,642.9 799.4,668.3 798.3,705.9 799.2,584.1 799.5,651.9 797.1,703.2 800.8,614.7 802.2,712.8 794.4,676.1 798.1,691.8 801.8,620.7 799.1,556.2 802.9,615.6 801.1,662.1 801.7,724.5 802.3,681.5 800.4,727.2 801.3,641.2 799,662.2 805.3,683.1 799.6,717.8 801,709.1 799.3,590.1 799.1,637.2 793.1,688.8 795.6,657 796,710.3 799.5,543.8 798.9,593 798.8,660.1 799.2,674 799.7,675.8 800.9,587.5 799.5,597.8 799,703.3 799.9,633.9 799.1,650.2 803.8,660.4 804.2,692.7 793.8,685 802.7,640.4 797.2,713.5 798.9,563.1 799.4,536.6 800.4,590.5 793.2,651.7 799,619.9 799.2,544.1 795.9,672.2 798.9,571 793.7,656.8 799.8,725.2 799.8,682.9 801.6,618.5 804.2,646.3 805.2,699.9 799.1,630.1 799.6,556.2 804.6,686.9"/>
<line x1="789.9" y1="663.5" x2="808.9" y2="663.5" stroke="#111" stroke-width="1"/></g>
<g id="panelC"><text font-size="37" x="931.5" y="432.3">C</text><path d="M1053.9 436.9V766.8M1041.4 755.8H1533.1" fill="none" stroke="#333" stroke-width="1.4"/>
<path d="M1041.4 670.6H1053.9M1041.4 585.4H1053.9M1041.4 500.2H1053.9M1532.4 755.8V766.8M1197.9 755.8V761.8M1282.2 755.8V761.8M1342 755.8V761.8M1388.4 755.8V761.8M1426.2 755.8V761.8M1458.3 755.8V761.8M1486 755.8V761.8M1510.5 755.8V761.8" fill="none" stroke="#333" stroke-width="1.4"/>
<text text-anchor="end" font-size="26" x="1039" y="765">0</text>
<text text-anchor="end" font-size="26" x="1039" y="679.8">2000</text>
<text text-anchor="end" font-size="26" x="1039" y="594.6">4000</text>
<text text-anchor="end" font-size="26" x="1039" y="509.4">6000</text>
<text text-anchor="middle" x="1053.9" y="795.8">0.1</text>
<text text-anchor="middle" x="1532.4" y="795.8">1</text>
<text text-anchor="middle" x="1290" y="821.2">[Peptide] (µM)</text>
<text text-anchor="middle" font-size="25.6" transform="translate(965.8 620.6) rotate(-90)">H3Cit intensity (arb. units)</text>
<path d="M1053.9 506.3 L1058.7 508.9 L1063.5 511.5 L1068.3 514.1 L1073 516.9 L1077.8 519.6 L1082.6 522.5 L1087.4 525.4 L1092.2 528.3 L1097 531.3 L1101.8 534.3 L1106.5 537.4 L1111.3 540.6 L1116.1 543.8 L1120.9 547 L1125.7 550.3 L1130.5 553.6 L1135.2 556.9 L1140 560.3 L1144.8 563.7 L1149.6 567.2 L1154.4 570.7 L1159.2 574.2 L1164 577.7 L1168.7 581.2 L1173.5 584.7 L1178.3 588.3 L1183.1 591.9 L1187.9 595.4 L1192.7 599 L1197.5 602.6 L1202.2 606.1 L1207 609.6 L1211.8 613.2 L1216.6 616.7 L1221.4 620.2 L1226.2 623.6 L1230.9 627.1 L1235.7 630.5 L1240.5 633.9 L1245.3 637.2 L1250.1 640.5 L1254.9 643.8 L1259.7 647 L1264.4 650.2 L1269.2 653.3 L1274 656.4 L1278.8 659.4 L1283.6 662.4 L1288.4 665.3 L1293.2 668.2 L1297.9 671 L1302.7 673.8 L1307.5 676.5 L1312.3 679.1 L1317.1 681.7 L1321.9 684.2 L1326.6 686.7 L1331.4 689.1 L1336.2 691.5 L1341 693.7 L1345.8 696 L1350.6 698.1 L1355.4 700.2 L1360.1 702.3 L1364.9 704.3 L1369.7 706.2 L1374.5 708.1 L1379.3 709.9 L1384.1 711.7 L1388.9 713.4 L1393.6 715 L1398.4 716.6 L1403.2 718.2 L1408 719.7 L1412.8 721.1 L1417.6 722.5 L1422.3 723.9 L1427.1 725.2 L1431.9 726.5 L1436.7 727.7 L1441.5 728.9 L1446.3 730 L1451.1 731.1 L1455.8 732.2 L1460.6 733.2 L1465.4 734.2 L1470.2 735.1 L1475 736 L1479.8 736.9 L1484.6 737.7 L1489.3 738.6 L1494.1 739.3 L1498.9 740.1 L1503.7 740.8 L1508.5 741.5 L1513.3 742.2 L1518 742.8 L1522.8 743.4 L1527.6 744 L1532.4 744.6" fill="none" stroke="#222" stroke-width="1.3" stroke-dasharray="7 3.5"/>
<path d="M1053.9 505.3 L1058.7 533 L1063.5 549.7 L1068.3 559.9 L1073 566.1 L1077.8 569.8 L1082.6 572.1 L1087.4 573.5 L1092.2 574.3 L1097 574.8 L1101.8 575.1 L1106.5 575.3 L1111.3 575.4 L1116.1 575.5 L1120.9 575.5 L1125.7 575.6 L1130.5 575.6 L1135.2 575.6 L1140 575.6 L1144.8 575.6 L1149.6 575.6 L1154.4 575.6 L1159.2 575.6 L1164 575.6 L1168.7 575.6 L1173.5 575.6 L1178.3 575.6 L1183.1 575.6 L1187.9 575.6 L1192.7 575.6 L1197.5 575.6 L1202.2 575.6 L1207 575.6 L1211.8 575.6 L1216.6 575.6 L1221.4 575.6 L1226.2 575.6 L1230.9 575.6 L1235.7 575.6 L1240.5 575.6 L1245.3 575.6 L1250.1 575.6 L1254.9 575.6 L1259.7 575.6 L1264.4 575.6 L1269.2 575.6 L1274 575.6 L1278.8 575.6 L1283.6 575.6 L1288.4 575.6 L1293.2 575.6 L1297.9 575.6 L1302.7 575.6 L1307.5 575.6 L1312.3 575.6 L1317.1 575.6 L1321.9 575.6 L1326.6 575.6 L1331.4 575.6 L1336.2 575.6 L1341 575.6 L1345.8 575.6 L1350.6 575.6 L1355.4 575.6 L1360.1 575.6 L1364.9 575.6 L1369.7 575.6 L1374.5 575.6 L1379.3 575.6 L1384.1 575.6 L1388.9 575.6 L1393.6 575.6 L1398.4 575.6 L1403.2 575.6 L1408 575.6 L1412.8 575.6 L1417.6 575.6 L1422.3 575.6 L1427.1 575.6 L1431.9 575.6 L1436.7 575.6 L1441.5 575.6 L1446.3 575.6 L1451.1 575.6 L1455.8 575.6 L1460.6 575.6 L1465.4 575.6 L1470.2 575.6 L1475 575.6 L1479.8 575.6 L1484.6 575.6 L1489.3 575.6 L1494.1 575.6 L1498.9 575.6 L1503.7 575.6 L1508.5 575.6 L1513.3 575.6 L1518 575.6 L1522.8 575.6 L1527.6 575.6 L1532.4 575.6" fill="none" stroke="#1f8a4c" stroke-width="1.3" stroke-dasharray="7 3.5"/>
<circle cx="1197.9" cy="576" r="6.6" fill="#12894a"/>
<circle cx="1282.2" cy="666.8" r="6.6" fill="#12894a"/>
<circle cx="1342" cy="521.5" r="6.6" fill="#12894a"/>
<circle cx="1388.4" cy="559.8" r="6.6" fill="#12894a"/>
<circle cx="1426.2" cy="591.8" r="6.6" fill="#12894a"/>
<circle cx="1486" cy="555.2" r="6.6" fill="#12894a"/>
<circle cx="1532.4" cy="557.3" r="6.6" fill="#12894a"/>
<circle cx="1053.9" cy="505.3" r="6.6" fill="#233f73"/>
<circle cx="1197.9" cy="611.8" r="6.6" fill="#233f73"/>
<circle cx="1282.2" cy="656.1" r="6.6" fill="#233f73"/>
<circle cx="1342" cy="680.4" r="6.6" fill="#233f73"/>
<circle cx="1388.4" cy="739.2" r="6.6" fill="#233f73"/>
<circle cx="1426.2" cy="726" r="6.6" fill="#233f73"/>
<circle cx="1486" cy="737.5" r="6.6" fill="#233f73"/>
<circle cx="1532.4" cy="738.8" r="6.6" fill="#233f73"/>
<path d="M1126 861.6H1156" fill="none" stroke="#222" stroke-width="1.3" stroke-dasharray="5 3"/>
<circle cx="1142.8" cy="861.6" r="6.6" fill="#233f73"/>
<path d="M1126 899.4H1156" fill="none" stroke="#1f8a4c" stroke-width="1.3" stroke-dasharray="5 3"/>
<circle cx="1142.8" cy="899.4" r="6.6" fill="#12894a"/>
<text x="1180" y="870.5">PADI4_3 EC<tspan font-size="15" dy="6">50</tspan><tspan dy="-6"> = 0.2 µM</tspan></text>
<text x="1180" y="907.9">PADI4_3i</text></g>
<g id="panelD"><text font-size="37.5" x="0.8" y="975.8">D</text><text font-size="26.2" x="272.5" y="1022.5">kDa</text>
<text font-size="26" transform="translate(360.5 1032.5) rotate(-45)">DMSO</text>
<text font-size="26" transform="translate(414.5 1033.5) rotate(-45)">PADI4_3</text>
<text font-size="26" transform="translate(459.5 1038.5) rotate(-45)">PADI4_3i</text>
<g clip-path="url(#cd1)">
<rect x="324.2" y="1052.8" width="175.6" height="71.4" fill="#f2f2f2"/>
<rect x="331" y="1091.8" width="52" height="9" rx="4.5" fill="#000" opacity="1" filter="url(#b1)" transform="rotate(-1.7 357 1096.3)"/>
<rect x="442" y="1093.8" width="54.5" height="11" rx="5.5" fill="#000" opacity="1" filter="url(#b1)" transform="rotate(1.1 469.2 1099.3)"/>
</g>
<rect x="324.2" y="1052.8" width="175.6" height="71.4" fill="none" stroke="#222" stroke-width="1"/>
<g clip-path="url(#cd2)">
<rect x="324.2" y="1132.4" width="175.6" height="128.3" fill="#f4f4f4"/>
<rect x="333" y="1190" width="52" height="58" fill="#000" opacity="0.2" filter="url(#b3)"/>
<rect x="392" y="1195" width="42" height="48" fill="#000" opacity="0.08" filter="url(#b3)"/>
<rect x="443" y="1192" width="53" height="52" fill="#000" opacity="0.15" filter="url(#b3)"/>
<rect x="331" y="1179.2" width="55" height="12" rx="6" fill="#000" opacity="1" filter="url(#b1)"/>
<rect x="391" y="1182.5" width="43" height="6" rx="3" fill="#000" opacity="0.70" filter="url(#b1)"/>
<rect x="441" y="1181" width="55.5" height="10.5" rx="5.2" fill="#000" opacity="1" filter="url(#b1)"/>
<rect x="333" y="1208" width="53" height="9" rx="4.5" fill="#000" opacity="0.70" filter="url(#b2)"/>
<rect x="392" y="1210" width="42" height="6" rx="3" fill="#000" opacity="0.22" filter="url(#b2)"/>
<rect x="442" y="1208.8" width="54.5" height="8.5" rx="4.2" fill="#000" opacity="0.75" filter="url(#b2)"/>
<rect x="335" y="1234" width="50" height="8" rx="4" fill="#000" opacity="0.38" filter="url(#b2)" transform="rotate(-2.3 360 1238)"/>
<rect x="393" y="1235" width="41" height="4" rx="2" fill="#000" opacity="0.15" filter="url(#b2)"/>
<rect x="443" y="1235" width="53" height="5" rx="2.5" fill="#000" opacity="0.20" filter="url(#b2)"/>
</g>
<rect x="324.2" y="1132.4" width="175.6" height="128.3" fill="none" stroke="#222" stroke-width="1"/>
<g clip-path="url(#cd3)">
<rect x="324.2" y="1276.8" width="174.3" height="86.4" fill="#f3f3f3"/>
<rect x="334" y="1325.3" width="47.5" height="15" rx="7.5" fill="#000" opacity="1" filter="url(#b1)" transform="rotate(3 357.8 1332.8)"/>
<rect x="391" y="1333" width="41" height="8" rx="4" fill="#000" opacity="0.90" filter="url(#b1)"/>
<rect x="442" y="1334.8" width="46" height="9" rx="4.5" fill="#000" opacity="0.92" filter="url(#b1)" transform="rotate(1.9 465 1339.3)"/>
</g>
<rect x="324.2" y="1276.8" width="174.3" height="86.4" fill="none" stroke="#222" stroke-width="1"/>
<text text-anchor="end" x="307.8" y="1053.6">20</text>
<line x1="316.4" y1="1046.8" x2="324.2" y2="1046.8" stroke="#222" stroke-width="1.6"/>
<text text-anchor="end" x="307.8" y="1114.5">15</text>
<line x1="316.4" y1="1107.9" x2="324.2" y2="1107.9" stroke="#222" stroke-width="1.6"/>
<text text-anchor="end" x="307.8" y="1154.1">20</text>
<line x1="316.4" y1="1147.1" x2="324.2" y2="1147.1" stroke="#222" stroke-width="1.6"/>
<text text-anchor="end" x="307.8" y="1215.9">15</text>
<line x1="316.4" y1="1209.3" x2="324.2" y2="1209.3" stroke="#222" stroke-width="1.6"/>
<text text-anchor="end" x="307.8" y="1288.8">100</text>
<line x1="316.4" y1="1282.3" x2="324.2" y2="1282.3" stroke="#222" stroke-width="1.6"/>
<text text-anchor="end" x="307.8" y="1309.3">75</text>
<line x1="316.4" y1="1301.8" x2="324.2" y2="1301.8" stroke="#222" stroke-width="1.6"/>
<text text-anchor="end" x="307.8" y="1353.8">50</text>
<line x1="316.4" y1="1347.2" x2="324.2" y2="1347.2" stroke="#222" stroke-width="1.6"/>
<text x="530.5" y="1088.7">α-CitH3</text>
<text x="533.2" y="1200.9">α-H3</text>
<text x="530.5" y="1315.6">α-MPO</text>
<line x1="329" y1="1391.6" x2="494.5" y2="1391.6" stroke="#222" stroke-width="1.3"/>
<text text-anchor="middle" fill="#33335a" font-size="25" x="411" y="1419.2">+ Chol crystals</text></g>
<g id="panelE"><text font-size="38" x="932.5" y="976.8">E</text>
<text text-anchor="middle" font-size="25.2" x="1028.2" y="1036.9">5 µM Ca-I</text>
<line x1="920.8" y1="1042.4" x2="1143.7" y2="1042.4" stroke="#333" stroke-width="1.1"/>
<text text-anchor="middle" font-size="26.6" x="1286.5" y="1036.9">unstimulated</text>
<line x1="1175" y1="1042.4" x2="1399.5" y2="1042.4" stroke="#333" stroke-width="1.1"/>
<text text-anchor="middle" transform="translate(891.3 1185.5) rotate(-90)">vehicle</text>
<text text-anchor="middle" transform="translate(891.3 1442.6) rotate(-90)">PADI4_3</text>
<text text-anchor="middle" transform="translate(891.3 1701.4) rotate(-90)">PADI4_3i</text>
<text font-size="26.8" x="902.5" y="1852.7"><tspan fill="#1c9ad6">H3Cit</tspan>/<tspan fill="#1f3d7a">DAPI</tspan></text>
<g clip-path="url(#ce00)">
<rect x="903.9" y="1052" width="252.7" height="252.8" fill="#000"/>
<g transform="translate(903.9 1052)" fill="none" stroke-linecap="round" filter="url(#fe1)">
<path d="M227 240h0M152 121h0M12 230h0M180 64h0M117 45h0M215 106h0M7 6h0M71 116h0M85 105h0M36 93h0M146 213h0M200 184h0M89 97h0M68 211h0M243 195h0M244 233h0M222 238h0M69 85h0M223 118h0M42 244h0M139 246h0M99 150h0M56 124h0M104 59h0M11 208h0M221 22h0M30 161h0M250 129h0M194 186h0M121 195h0M5 157h0M55 113h0M231 189h0M36 67h0M116 170h0M7 96h0M1 77h0M240 76h0M190 149h0M36 119h0M115 131h0M191 40h0M174 25h0M162 187h0M22 237h0M166 168h0M70 155h0M41 131h0M96 174h0M164 179h0M51 95h0M132 22h0M122 42h0M44 122h0M67 128h0M178 52h0M150 98h0M33 138h0M87 134h0M104 165h0M75 5h0M239 171h0M123 99h0M163 38h0M130 129h0M246 36h0M159 7h0M136 147h0M245 214h0M55 158h0M76 20h0M184 204h0M157 155h0M246 59h0M81 14h0M29 177h0M141 212h0M113 209h0M252 244h0M239 152h0M113 67h0M141 113h0M63 33h0M75 31h0M129 237h0M147 114h0M43 83h0M99 101h0M220 26h0M12 73h0M100 58h0M175 174h0M45 49h0M212 64h0M196 120h0M29 229h0M55 227h0M250 220h0M172 16h0M227 26h0M13 32h0M159 146h0M119 226h0M50 126h0M167 11h0M67 36h0M163 198h0M176 121h0M227 87h0M218 203h0M45 60h0M221 9h0M227 9h0M144 196h0M160 63h0M188 129h0M58 92h0M126 233h0M250 164h0M68 16h0M31 207h0M224 248h0M50 221h0M221 186h0M141 22h0M35 147h0M34 99h0M107 206h0M150 230h0M96 182h0M35 249h0M92 163h0M5 53h0M230 108h0M14 136h0M23 135h0M158 107h0M124 160h0M68 77h0M107 105h0M236 86h0M130 1h0M77 88h0M223 170h0M205 203h0M35 191h0M137 222h0M134 39h0M250 96h0M26 58h0M248 140h0M11 55h0M126 19h0M131 115h0M180 147h0M137 125h0M171 130h0M209 166h0M168 232h0M154 145h0M42 95h0M200 126h0M143 224h0M237 196h0M140 82h0M96 123h0M44 216h0M182 20h0M15 64h0M233 252h0M100 11h0M204 109h0M114 102h0M136 170h0M103 137h0M143 229h0M108 129h0M27 63h0M7 168h0M147 191h0M149 173h0M239 231h0M152 61h0M152 135h0M169 63h0M37 75h0M53 63h0M98 142h0M247 89h0M118 32h0M70 60h0M130 225h0M2 167h0M65 111h0M133 242h0M182 190h0M32 151h0M26 98h0M226 41h0M8 252h0M44 196h0M39 236h0M77 215h0M210 161h0M116 233h0M171 210h0M133 8h0M142 66h0M141 186h0M34 81h0M243 12h0M81 67h0M16 54h0M71 27h0M21 212h0M200 115h0M209 26h0M103 215h0M67 161h0M229 17h0M174 73h0M25 74h0M70 195h0M5 162h0M245 145h0M215 168h0M119 113h0M230 144h0M115 193h0M197 42h0M216 189h0M120 136h0M178 83h0M18 217h0M136 192h0M181 112h0M107 170h0M249 116h0M63 91h0M120 252h0M156 171h0M99 115h0M116 37h0M250 75h0M109 110h0M28 235h0M134 34h0M237 52h0M191 121h0M127 111h0M74 147h0M17 228h0M79 206h0M150 208h0M10 13h0M187 212h0M12 162h0M109 123h0M149 53h0M178 250h0M251 135h0M88 144h0M214 148h0M32 196h0M174 199h0M131 231h0M164 73h0M8 25h0M137 116h0M132 83h0M232 45h0M216 233h0M240 109h0M168 77h0M220 67h0M40 14h0M69 248h0M32 56h0M62 105h0M118 105h0M155 244h0M151 182h0M104 27h0M3 89h0M68 240h0M51 251h0M88 185h0M193 26h0M252 158h0M116 19h0M57 175h0M124 14h0M105 142h0M18 198h0M120 170h0M228 77h0M145 147h0M247 198h0M61 4h0M176 163h0M178 91h0M233 220h0M109 160h0M16 26h0M147 186h0M215 31h0M8 181h0M2 131h0M239 61h0M26 157h0M189 154h0M26 240h0M209 46h0M151 198h0M119 237h0M223 37h0M169 51h0M77 27h0M140 206h0M37 173h0M108 1h0M242 30h0M38 140h0M114 229h0M252 104h0M221 32h0M72 245h0M233 172h0M220 142h0M243 121h0M76 122h0M10 91h0M14 215h0M76 59h0M26 42h0M20 171h0M180 174h0M7 213h0M100 163h0M2 2h0M37 87h0M75 172h0M233 9h0M6 129h0M233 149h0M34 128h0M62 185h0M102 106h0" stroke="#222c8c" stroke-width="4.2"/>
<path d="M183 225h0M241 140h0M43 145h0M222 192h0M133 187h0M14 241h0M214 199h0M226 83h0M146 67h0M67 98h0M147 140h0M11 189h0M130 138h0M193 158h0M142 158h0M170 87h0M54 132h0M124 133h0M112 11h0M174 230h0M149 2h0M178 30h0M225 149h0M193 206h0M62 82h0M86 2h0M86 161h0M169 205h0M133 52h0M128 122h0M62 238h0M162 104h0M175 44h0M200 164h0M17 247h0M110 233h0M63 215h0M234 106h0M201 134h0M85 195h0M191 142h0M12 153h0M130 202h0M169 44h0M143 5h0M200 154h0M154 213h0M4 202h0M221 92h0M163 156h0M46 205h0M34 47h0M154 151h0M35 15h0M137 251h0M94 51h0M131 150h0M12 84h0M104 181h0M229 177h0M118 123h0M30 79h0M102 19h0M2 97h0M244 182h0M145 130h0M58 77h0M208 190h0M176 225h0M27 196h0M157 238h0M153 87h0M246 105h0M218 45h0M153 193h0M193 117h0M30 218h0M146 120h0M5 21h0M90 113h0M144 76h0M202 171h0M206 183h0M177 34h0M242 68h0M119 160h0M38 206h0M115 27h0M60 86h0M86 117h0M209 117h0M82 8h0M249 28h0M37 221h0M83 167h0M194 66h0M181 213h0M156 27h0M188 178h0M162 173h0M144 100h0M117 215h0M56 241h0M198 56h0M12 21h0M195 168h0M228 117h0M0 55h0M44 166h0M76 112h0M134 27h0M162 125h0M208 152h0M2 64h0M220 209h0M100 204h0M149 237h0M139 102h0M25 144h0M85 156h0M36 241h0M147 83h0M7 195h0M78 159h0M215 14h0M181 166h0M142 201h0M131 197h0M226 215h0M126 155h0M185 184h0M187 103h0M1 122h0M144 37h0M160 43h0M145 239h0M250 150h0M252 6h0M226 156h0M167 226h0M203 49h0M120 203h0M186 38h0M68 137h0M125 188h0M108 186h0M107 45h0M0 50h0M226 0h0M46 135h0M81 236h0M3 232h0M105 198h0M54 73h0M46 248h0M45 71h0M236 242h0M139 61h0M232 35h0M81 141h0M154 67h0M69 219h0M225 112h0M101 126h0M236 66h0M154 202h0M199 223h0M191 112h0M196 102h0M60 63h0M238 201h0M74 210h0M239 119h0M183 70h0M200 142h0M125 204h0M206 8h0M241 222h0M139 94h0M60 127h0M58 216h0M184 161h0M164 2h0M245 21h0M159 141h0M4 186h0M64 0h0M204 158h0M112 240h0M64 22h0M140 240h0M186 165h0M55 55h0M80 46h0M139 10h0M150 131h0M189 199h0M217 129h0M246 15h0M41 152h0M120 50h0M61 96h0M156 230h0M105 34h0M248 171h0M161 136h0M16 1h0M123 60h0M18 105h0M213 141h0M171 244h0M130 211h0M100 156h0M89 148h0M136 201h0M204 23h0M73 221h0M115 6h0M5 70h0M101 86h0M135 75h0M50 157h0M121 217h0M2 42h0M208 142h0M209 177h0M231 224h0M224 100h0M62 38h0M211 156h0M122 126h0M117 243h0M236 159h0M62 248h0M91 3h0M78 154h0M140 89h0M91 198h0M28 131h0M10 63h0M240 250h0M162 131h0M138 152h0M173 250h0M99 194h0M4 59h0M222 126h0M173 183h0M77 168h0M70 33h0M197 160h0M133 68h0M163 14h0M252 186h0M198 189h0M161 225h0M7 43h0M209 205h0M21 189h0M91 79h0M163 193h0M26 7h0M18 223h0M205 127h0M84 29h0M85 51h0M49 145h0M28 185h0M187 139h0M85 127h0M31 61h0M207 221h0M48 163h0M110 190h0M142 14h0M77 99h0M244 41h0M214 118h0M183 217h0M148 202h0M232 195h0M227 209h0M175 107h0M212 194h0M87 201h0M231 2h0M60 59h0M227 61h0M56 101h0M250 202h0M27 202h0M223 134h0M24 149h0M108 220h0M59 145h0M236 99h0M70 71h0M169 121h0M111 142h0M75 163h0M132 252h0M195 153h0M187 171h0M92 177h0M70 226h0M172 99h0M103 192h0M218 121h0M34 214h0M136 16h0M47 183h0M153 44h0M28 245h0M206 210h0M145 167h0M143 137h0M30 111h0M95 131h0M49 152h0M134 93h0M223 74h0M216 153h0M244 204h0M251 85h0M242 52h0M78 129h0M96 21h0M157 54h0M228 234h0M27 165h0M131 106h0M171 58h0M61 132h0M163 57h0M37 162h0M161 117h0M65 146h0M58 70h0M230 94h0M41 105h0M44 175h0M164 25h0M181 13h0" stroke="#1b2370" stroke-width="3.8"/>
<path id="ey00" d="M43 99h0M121 176h0M166 66h0M9 224h0M90 190h0M182 152h0M74 186h0M215 183h0M48 79h0M21 85h0M164 86h0M113 182h0M118 166h0M208 37h0M210 126h0M195 177h0M181 74h0M165 147h0M225 68h0M135 227h0M235 124h0M21 79h0M104 132h0M101 186h0M61 47h0M235 180h0M174 143h0M245 250h0M26 32h0M6 77h0M148 223h0M146 19h0M231 231h0M227 162h0M66 8h0M164 214h0M67 68h0M166 142h0M124 53h0M190 223h0M160 208h0M129 41h0M139 49h0M210 83h0M217 56h0M88 21h0M183 130h0M105 40h0M252 38h0M151 7h0M170 39h0M166 245h0M154 162h0" stroke="#2fa0d0" stroke-width="4.8"/>
<use href="#ey00" stroke="#2e5cb0" stroke-width="3.0"/>
</g></g>
<g clip-path="url(#ce01)">
<rect x="1161.4" y="1052" width="252.4" height="252.8" fill="#000"/>
<g transform="translate(1161.4 1052)" fill="none" stroke-linecap="round" filter="url(#fe1)">
<path d="M202 7h0M197 238h0M241 118h0M246 158h0M19 51h0M220 214h0M229 88h0M93 235h0M8 89h0M104 176h0M66 77h0M252 252h0M161 17h0M48 191h0M197 212h0M50 32h0M191 167h0M226 181h0M240 7h0M136 184h0M170 213h0M43 78h0M22 111h0M38 19h0M42 178h0M201 33h0M211 194h0M57 245h0M58 46h0M208 24h0M24 148h0M120 178h0M198 159h0M66 3h0M196 30h0M82 19h0M93 225h0M122 8h0M52 41h0M241 13h0M61 108h0M136 40h0M125 41h0M145 192h0M86 25h0M36 40h0M101 6h0M245 41h0M68 169h0M76 67h0M90 148h0M102 36h0M179 202h0M159 228h0M135 95h0M215 28h0M72 9h0M231 1h0M4 0h0M129 91h0M57 76h0M236 135h0M80 234h0M182 162h0M251 212h0M128 57h0M225 241h0M221 104h0M79 149h0M48 49h0M128 70h0M118 142h0M61 170h0M237 139h0M148 172h0M172 10h0M91 126h0M94 213h0M157 76h0M151 4h0M178 135h0M167 82h0M44 206h0M241 35h0M80 207h0M167 218h0M52 166h0M87 187h0M240 184h0M126 33h0M158 215h0M16 90h0M153 221h0M110 134h0M237 144h0M27 57h0M64 45h0M33 53h0M186 146h0M72 90h0M124 136h0M94 158h0M131 246h0M154 196h0M104 43h0M111 146h0M164 179h0M137 121h0M211 32h0M250 64h0M119 246h0M54 36h0M103 229h0M105 186h0M237 89h0M91 66h0M13 134h0M141 39h0M82 120h0M230 6h0M222 63h0M128 124h0M15 210h0M143 174h0M192 43h0M126 211h0M46 144h0M197 189h0M84 73h0M173 177h0M9 220h0M158 52h0M58 232h0M137 159h0M104 147h0M202 215h0M111 80h0M139 49h0M195 220h0M129 204h0M182 28h0M146 229h0M230 147h0M16 120h0M208 49h0M79 131h0M135 72h0M77 180h0M131 171h0M144 74h0M249 124h0M148 183h0M232 71h0M232 222h0M236 240h0M191 19h0M244 174h0M187 210h0M73 208h0M141 129h0M189 217h0M65 108h0M72 133h0M235 214h0M212 10h0M67 52h0M61 154h0M213 89h0M177 230h0M10 96h0M29 247h0M172 240h0M144 31h0M210 206h0M174 54h0M107 75h0M71 123h0M159 239h0M53 240h0M95 172h0M112 245h0M238 128h0M113 215h0M72 196h0M196 195h0M81 239h0M60 191h0M42 248h0M65 22h0M95 208h0M251 87h0M95 167h0M47 125h0M67 93h0M112 119h0M77 248h0M46 72h0M160 196h0M177 184h0M97 150h0M145 6h0M159 89h0M98 228h0M113 109h0M137 206h0M24 69h0M217 3h0M194 200h0M203 147h0M232 180h0M13 154h0M222 140h0M75 99h0M75 137h0M70 111h0M160 37h0M111 126h0M169 151h0M119 183h0M11 227h0M158 121h0M229 169h0M54 2h0M238 70h0M152 108h0M83 78h0M42 235h0M226 128h0M173 200h0M148 235h0M235 113h0M76 230h0M97 79h0M122 128h0M16 66h0M154 38h0M87 130h0M12 77h0M240 192h0M89 195h0M26 15h0M213 216h0M77 118h0M3 129h0M225 24h0M19 77h0M16 46h0M42 152h0M204 108h0M28 93h0M76 157h0M223 228h0M139 228h0M29 203h0M120 200h0M22 86h0M104 61h0M88 15h0M250 69h0M236 20h0M88 160h0M96 243h0M52 196h0M36 92h0M216 179h0M15 188h0M129 107h0M96 14h0M197 16h0M29 88h0M132 48h0M83 174h0M58 66h0M218 167h0M66 128h0M176 8h0M203 65h0M18 161h0M229 236h0M146 123h0M1 242h0M162 24h0M125 103h0M142 101h0M218 161h0M171 20h0M153 100h0M126 252h0M108 70h0M75 21h0M34 100h0M53 134h0M41 119h0M223 199h0M74 84h0M72 49h0M232 59h0M228 45h0M73 16h0M133 119h0M116 166h0M250 187h0M174 234h0M21 221h0M131 193h0M216 135h0M85 36h0M118 153h0M117 147h0M25 100h0M112 39h0M56 205h0M127 7h0M242 51h0M94 39h0M228 63h0M212 117h0M201 226h0M57 200h0M237 250h0M104 237h0M120 251h0M9 203h0M202 248h0M43 41h0M194 171h0M105 141h0M172 192h0M58 161h0M128 77h0M169 162h0M111 239h0M55 24h0M173 40h0M65 161h0M66 27h0M146 54h0M223 169h0M68 81h0M175 171h0M75 41h0M212 244h0M5 186h0M80 54h0M14 247h0M195 24h0M170 59h0M178 175h0M164 249h0M227 176h0M237 101h0M36 186h0M103 167h0M243 168h0M185 173h0M28 223h0M52 214h0M11 15h0M143 16h0M220 233h0M44 225h0M141 164h0M5 142h0M180 252h0M248 221h0M17 177h0M38 71h0M198 165h0M241 66h0M51 85h0M202 141h0M192 206h0M70 186h0M198 79h0M150 195h0M170 183h0" stroke="#1e267a" stroke-width="4.2"/>
<path d="M206 42h0M248 183h0M247 97h0M96 181h0M67 251h0M63 245h0M110 12h0M206 239h0M155 235h0M84 109h0M9 130h0M175 31h0M182 235h0M51 101h0M220 10h0M228 213h0M102 242h0M9 242h0M96 193h0M218 148h0M81 143h0M113 61h0M141 27h0M73 5h0M16 221h0M205 16h0M90 240h0M246 70h0M204 187h0M233 123h0M210 237h0M82 41h0M27 51h0M147 10h0M75 78h0M223 207h0M47 231h0M164 60h0M36 151h0M37 212h0M195 141h0M24 179h0M228 32h0M37 162h0M209 174h0M10 106h0M68 235h0M165 205h0M115 159h0M182 222h0M117 35h0M93 132h0M124 236h0M127 130h0M41 26h0M185 184h0M241 113h0M91 25h0M167 2h0M133 213h0M179 148h0M159 7h0M104 123h0M138 8h0M95 186h0M189 196h0M32 73h0M112 181h0M69 201h0M200 182h0M237 231h0M24 78h0M247 80h0M2 70h0M50 172h0M135 34h0M36 198h0M138 251h0M151 25h0M35 177h0M125 181h0M11 71h0M61 24h0M90 118h0M145 79h0M24 157h0M159 68h0M90 73h0M11 198h0M245 105h0M140 245h0M213 189h0M198 246h0M212 107h0M5 218h0M11 117h0M17 5h0M222 32h0M46 182h0M140 117h0M166 244h0M182 245h0M175 36h0M85 250h0M142 87h0M252 75h0M206 118h0M232 163h0M250 203h0M173 209h0M40 5h0M236 157h0M95 198h0M129 26h0M233 26h0M250 134h0M234 82h0M107 53h0M33 206h0M211 132h0M60 182h0M101 52h0M214 38h0M40 65h0M244 60h0M60 85h0M145 252h0M22 2h0M248 30h0M122 81h0M185 19h0M19 61h0M133 4h0M169 44h0M101 94h0M84 151h0M151 19h0M17 109h0M208 164h0M236 177h0M121 32h0M50 60h0M50 92h0M23 194h0M236 62h0M161 143h0M140 151h0M108 165h0M1 76h0M107 205h0M121 189h0M155 10h0M34 250h0M100 253h0M97 43h0M31 2h0M61 74h0M82 199h0M6 250h0M181 212h0M151 242h0M123 146h0M111 45h0M60 215h0M137 191h0M124 169h0M234 208h0M247 240h0M190 239h0M3 21h0M156 187h0M115 197h0M77 62h0M113 6h0M117 191h0M137 172h0M1 215h0M228 112h0M212 249h0M49 158h0M202 21h0M121 109h0M48 11h0M41 92h0M117 132h0M56 252h0M125 225h0M189 157h0M130 39h0M215 62h0M122 21h0M213 122h0M30 13h0M201 127h0M99 160h0M246 115h0M228 159h0M236 171h0M31 161h0M119 52h0M121 122h0M145 145h0M108 193h0M129 187h0M139 18h0M89 203h0M1 155h0M4 208h0M143 138h0M96 121h0M246 252h0M243 94h0M152 118h0M117 71h0M219 248h0M58 129h0M101 202h0M55 188h0M84 59h0M47 176h0M91 230h0M41 85h0M166 132h0M198 69h0M130 141h0M209 99h0M161 243h0M64 220h0M92 45h0M175 217h0M242 149h0M32 218h0M141 70h0M34 79h0M109 159h0M194 7h0M189 5h0M39 45h0M234 234h0M214 155h0M45 242h0M67 61h0M131 99h0M137 165h0M4 122h0M153 50h0M241 43h0M209 71h0M186 252h0M46 238h0M83 13h0M60 140h0M244 235h0M118 65h0M127 14h0M207 225h0M199 207h0M75 31h0M153 213h0M98 63h0M111 229h0M115 223h0M19 152h0M52 177h0M92 2h0M228 57h0M169 51h0M133 227h0M50 69h0M32 31h0M24 243h0M100 100h0M55 50h0M64 205h0M9 139h0M176 123h0M243 3h0M216 55h0M18 205h0M139 238h0M247 49h0M2 97h0M154 249h0M153 208h0M48 198h0M46 112h0M111 19h0M221 157h0M203 169h0M78 165h0M57 111h0M227 18h0M6 152h0M77 1h0M91 191h0M206 137h0M133 241h0M199 135h0M177 190h0M251 229h0M48 27h0M96 71h0M80 9h0M28 83h0M6 78h0M11 22h0M185 76h0M99 136h0M74 114h0M132 165h0M229 81h0M13 60h0M241 81h0M133 135h0M235 35h0M153 140h0M82 83h0M128 220h0M105 28h0M228 11h0M213 162h0M166 36h0M117 211h0M15 71h0M232 130h0M2 223h0M161 109h0M33 129h0M252 144h0M226 71h0M140 196h0M74 71h0M192 151h0M106 251h0M132 148h0M242 220h0M213 199h0M77 106h0M223 40h0M74 215h0M48 218h0M130 234h0M2 203h0M11 125h0M100 72h0M100 1h0M178 84h0M98 126h0M8 8h0M70 147h0M3 83h0M44 98h0M107 173h0M219 44h0M7 234h0M219 38h0M114 187h0M36 85h0M0 135h0M226 250h0M232 189h0M231 138h0M24 187h0" stroke="#181e62" stroke-width="3.8"/>
</g></g>
<g clip-path="url(#ce10)">
<rect x="903.9" y="1308.8" width="252.7" height="252.8" fill="#000"/>
<g transform="translate(903.9 1308.8)" fill="none" stroke-linecap="round" filter="url(#fe1)">
<path d="M150 112h0M243 192h0M135 68h0M62 199h0M239 1h0M26 62h0M49 83h0M139 214h0M161 199h0M219 195h0M96 163h0M3 174h0M3 67h0M228 1h0M112 178h0M15 157h0M121 210h0M38 88h0M240 233h0M246 134h0M198 69h0M164 215h0M107 55h0M94 227h0M64 215h0M228 180h0M62 60h0M125 134h0M104 70h0M43 192h0M116 247h0M18 251h0M118 224h0M57 151h0M86 15h0M36 104h0M123 191h0M105 103h0M141 26h0M197 185h0M34 38h0M120 118h0M203 206h0M153 40h0M240 201h0M242 116h0M172 183h0M221 84h0M151 122h0M176 197h0M13 206h0M102 253h0M196 157h0M40 251h0M21 43h0M222 104h0M50 54h0M109 196h0M45 168h0M4 180h0M182 183h0M175 159h0M188 156h0M159 107h0M247 32h0M81 92h0M113 66h0M19 138h0M67 240h0M143 227h0M120 4h0M70 225h0M223 68h0M214 82h0M192 203h0M100 1h0M131 106h0M188 118h0M104 123h0M85 229h0M140 196h0M94 72h0M179 56h0M78 224h0M173 222h0M104 132h0M176 49h0M77 232h0M205 249h0M49 131h0M216 115h0M123 26h0M88 41h0M155 20h0M138 20h0M162 11h0M252 62h0M114 111h0M199 77h0M115 206h0M81 201h0M35 57h0M176 11h0M169 80h0M168 42h0M230 188h0M250 191h0M145 252h0M221 77h0M65 100h0M134 160h0M143 218h0M244 143h0M32 184h0M4 204h0M0 72h0M207 24h0M162 176h0M37 223h0M85 76h0M215 19h0M193 22h0M185 25h0M245 93h0M19 242h0M39 65h0M28 79h0M197 105h0M190 71h0M45 34h0M36 1h0M74 45h0M153 94h0M250 40h0M100 87h0M248 165h0M159 216h0M136 252h0M117 175h0M131 88h0M104 10h0M150 167h0M72 102h0M137 117h0M11 105h0M100 118h0M137 30h0M180 21h0M135 147h0M99 35h0M81 115h0M173 33h0M23 32h0M84 122h0M68 212h0M248 15h0M30 54h0M19 53h0M94 80h0M246 2h0M99 241h0M17 151h0M147 97h0M141 61h0M89 85h0M215 136h0M111 206h0M199 244h0M210 127h0M189 65h0M220 130h0M177 202h0M199 213h0M206 196h0M244 151h0M86 235h0M7 170h0M124 69h0M22 78h0M240 13h0M215 75h0M218 148h0M235 24h0M189 128h0M142 158h0M57 6h0M25 217h0M24 234h0M130 62h0M54 249h0M41 45h0M173 154h0M145 131h0M40 106h0M78 103h0M113 79h0M165 179h0M46 184h0M222 40h0M207 30h0M117 220h0M146 103h0M33 157h0M4 36h0M99 8h0M69 31h0M22 67h0M189 144h0M111 157h0M183 192h0M116 120h0M77 249h0M247 122h0M173 115h0M21 185h0M4 123h0M187 214h0M79 41h0M202 86h0M180 118h0M61 94h0M177 83h0M207 84h0M157 127h0M199 162h0M23 113h0M69 25h0M12 123h0M244 170h0M177 192h0M58 216h0M50 214h0M75 120h0M36 71h0M125 9h0M167 19h0M6 46h0M115 237h0M240 225h0M211 159h0M241 76h0M116 27h0M104 242h0M165 51h0M23 101h0M6 215h0M189 189h0M150 12h0M234 73h0M232 10h0M16 177h0M42 52h0M67 106h0M36 217h0M50 244h0M121 200h0M249 175h0M183 245h0M70 63h0M122 172h0M234 123h0M162 231h0M108 43h0M78 218h0M218 96h0M27 209h0M13 165h0M115 190h0M199 168h0M176 214h0M161 158h0M65 45h0M19 197h0M63 5h0M95 59h0M70 235h0M169 128h0M182 16h0M214 44h0M137 12h0M226 47h0M95 137h0M217 66h0M38 18h0M11 144h0M58 183h0M89 137h0M236 38h0M109 169h0M194 214h0M63 224h0M211 240h0M47 26h0M152 117h0M46 65h0M220 32h0M196 86h0M203 42h0M192 233h0M118 153h0M22 86h0M78 49h0M151 70h0M149 135h0M207 164h0M141 87h0M236 187h0M24 16h0M243 158h0M73 201h0M224 183h0M206 75h0M201 175h0M110 220h0M166 238h0M223 13h0M59 46h0M69 37h0M33 21h0M51 177h0M2 76h0M16 142h0M76 67h0M48 252h0M28 133h0M130 164h0M217 50h0M100 94h0M242 208h0M36 200h0M112 251h0M165 130h0M128 208h0M47 6h0M140 248h0M233 245h0M39 138h0M223 247h0M88 172h0M157 45h0M176 134h0M179 37h0M111 33h0M127 145h0M172 14h0M248 232h0M202 2h0M147 0h0M197 198h0M211 198h0M74 133h0M114 195h0M191 171h0M85 87h0M138 97h0" stroke="#222a82" stroke-width="4.2"/>
<path d="M247 246h0M135 228h0M125 139h0M75 24h0M42 220h0M6 243h0M60 173h0M244 80h0M126 126h0M184 107h0M233 193h0M172 239h0M203 120h0M45 41h0M51 31h0M72 50h0M215 26h0M178 102h0M63 111h0M242 175h0M4 237h0M136 132h0M250 110h0M223 190h0M16 120h0M168 169h0M125 242h0M239 128h0M120 96h0M103 64h0M102 17h0M19 171h0M124 218h0M148 175h0M30 203h0M99 49h0M67 88h0M138 80h0M230 23h0M143 209h0M45 86h0M149 204h0M252 239h0M160 27h0M169 99h0M99 99h0M92 243h0M161 57h0M80 211h0M213 206h0M106 85h0M185 252h0M100 105h0M248 47h0M249 81h0M246 52h0M132 119h0M104 188h0M112 184h0M97 198h0M115 95h0M43 146h0M14 80h0M148 31h0M96 186h0M4 92h0M170 191h0M173 59h0M190 1h0M192 228h0M186 57h0M62 192h0M53 37h0M201 65h0M171 227h0M196 46h0M101 214h0M102 199h0M210 105h0M208 225h0M79 34h0M12 214h0M195 52h0M200 128h0M144 141h0M156 136h0M98 13h0M40 236h0M27 87h0M200 59h0M217 12h0M179 235h0M94 39h0M145 108h0M240 184h0M179 111h0M224 178h0M159 147h0M241 105h0M56 69h0M156 61h0M113 91h0M239 242h0M13 74h0M8 55h0M34 16h0M238 165h0M68 74h0M31 101h0M3 97h0M150 128h0M247 117h0M136 172h0M16 231h0M165 209h0M219 239h0M138 7h0M205 17h0M30 224h0M248 9h0M248 23h0M224 27h0M180 251h0M153 154h0M130 225h0M12 45h0M27 252h0M104 39h0M7 159h0M205 155h0M68 188h0M117 16h0M230 32h0M81 9h0M45 232h0M192 84h0M111 139h0M251 196h0M49 191h0M172 8h0M91 1h0M52 18h0M194 141h0M211 94h0M236 250h0M131 82h0M220 6h0M220 219h0M58 164h0M77 244h0M96 149h0M184 147h0M201 139h0M153 175h0M53 99h0M109 26h0M32 96h0M61 84h0M99 247h0M235 91h0M220 62h0M210 53h0M0 246h0M120 21h0M129 153h0M84 129h0M64 18h0M109 121h0M209 11h0M140 112h0M60 212h0M149 57h0M108 163h0M129 171h0M170 199h0M9 193h0M61 249h0M165 34h0M72 206h0M114 164h0M31 3h0M240 196h0M64 186h0M129 75h0M106 5h0M98 192h0M88 112h0M121 234h0M206 68h0M110 228h0M28 244h0M153 140h0M153 192h0M124 85h0M3 15h0M147 147h0M209 47h0M74 138h0M77 97h0M165 189h0M132 48h0M88 190h0M209 113h0M72 77h0M245 252h0M239 89h0M156 9h0M17 236h0M40 214h0M5 113h0M128 234h0M181 228h0M168 144h0M64 126h0M176 69h0M87 68h0M120 66h0M156 75h0M159 250h0M33 193h0M74 13h0M133 126h0M168 110h0M173 149h0M228 241h0M142 11h0M248 145h0M5 41h0M179 3h0M99 222h0M172 137h0M184 94h0M162 103h0M226 90h0M75 239h0M124 80h0M226 236h0M108 72h0M227 203h0M90 221h0M88 54h0M233 203h0M201 195h0M134 241h0M158 114h0M252 201h0M126 159h0M173 107h0M55 105h0M85 29h0M234 49h0M14 172h0M200 54h0M225 95h0M63 40h0M225 212h0M98 209h0M109 241h0M242 101h0M24 123h0M189 208h0M95 84h0M11 131h0M47 70h0M13 227h0M122 163h0M53 26h0M185 84h0M18 71h0M38 60h0M197 229h0M40 75h0M160 68h0M105 237h0M45 241h0M57 240h0M239 30h0M238 69h0M215 1h0M196 236h0M79 127h0M103 177h0M130 201h0M214 61h0M54 222h0M211 4h0M205 51h0M13 58h0M7 63h0M132 181h0M6 211h0M0 4h0M23 175h0M26 190h0M193 152h0M103 207h0M104 76h0M244 68h0M119 242h0M128 246h0M181 134h0M85 59h0M22 22h0M110 117h0M163 164h0M13 242h0M239 18h0M202 188h0M134 199h0M106 138h0M148 37h0M43 128h0M43 91h0M14 101h0M66 51h0M215 251h0M179 168h0M86 209h0M69 119h0M148 92h0M234 81h0M229 120h0M182 220h0M207 244h0M17 27h0M153 236h0M139 221h0M119 104h0M122 248h0M83 243h0M189 239h0M151 180h0M72 20h0M140 186h0M20 164h0M126 183h0M180 88h0M185 129h0M203 219h0M72 180h0M172 122h0M247 240h0M183 233h0M97 204h0M194 62h0M222 135h0M1 30h0M73 71h0M135 166h0M18 76h0M28 92h0M196 117h0M234 237h0M239 111h0M154 218h0M228 252h0M245 85h0M123 16h0M154 29h0M224 207h0M22 145h0M12 150h0M19 105h0M110 233h0M232 42h0M90 238h0M59 28h0M146 75h0M219 119h0M130 133h0M97 214h0M19 12h0M114 12h0M142 243h0M58 232h0M140 127h0M56 60h0M151 86h0M11 222h0M197 18h0M3 222h0M209 35h0M103 110h0M12 252h0M182 177h0M201 111h0M102 143h0M19 90h0M159 40h0M143 174h0M64 78h0M195 100h0M3 128h0M30 197h0M231 152h0M231 94h0M221 114h0M74 229h0M234 100h0M64 69h0M134 137h0M19 221h0" stroke="#1b2268" stroke-width="3.8"/>
<path id="ey10" d="M42 10h0M53 78h0M225 124h0" stroke="#2fa0d0" stroke-width="4.8"/>
<use href="#ey10" stroke="#2e5cb0" stroke-width="3.0"/>
</g></g>
<g clip-path="url(#ce11)">
<rect x="1161.4" y="1308.8" width="252.4" height="252.8" fill="#000"/>
<g transform="translate(1161.4 1308.8)" fill="none" stroke-linecap="round" filter="url(#fe1)">
<path d="M2 217h0M74 136h0M228 188h0M122 35h0M85 117h0M196 219h0M222 156h0M144 127h0M41 167h0M74 204h0M183 180h0M236 64h0M244 99h0M143 8h0M154 221h0M133 196h0M71 65h0M217 144h0M31 74h0M60 18h0M174 30h0M166 118h0M116 116h0M86 91h0M209 44h0M180 132h0M224 81h0M136 93h0M128 231h0M67 21h0M37 184h0M150 124h0M122 3h0M44 64h0M127 219h0M182 58h0M37 243h0M190 181h0M239 95h0M171 173h0M137 52h0M227 101h0M51 167h0M54 220h0M187 238h0M139 211h0M37 58h0M11 42h0M70 243h0M197 213h0M71 72h0M116 80h0M232 4h0M109 212h0M228 253h0M136 118h0M140 230h0M106 84h0M56 180h0M62 238h0M36 70h0M138 198h0M149 56h0M220 79h0M97 236h0M11 243h0M165 160h0M41 246h0M44 60h0M132 115h0M138 13h0M179 198h0M32 177h0M11 10h0M15 37h0M91 15h0M233 235h0M171 139h0M197 19h0M175 64h0M217 104h0M230 46h0M40 195h0M106 107h0M91 117h0M110 139h0M57 3h0M5 186h0M91 132h0M156 150h0M156 229h0M8 144h0M98 244h0M122 103h0M191 61h0M28 222h0M141 102h0M50 119h0M163 74h0M98 81h0M89 22h0M49 136h0M183 72h0M201 35h0M236 127h0M194 209h0M212 210h0M245 86h0M121 109h0M15 102h0M67 34h0M14 24h0M251 15h0M72 26h0M147 226h0M236 225h0M14 112h0M180 10h0M136 42h0M168 98h0M212 136h0M217 17h0M192 55h0M167 8h0M139 219h0M20 3h0M205 48h0M41 180h0M40 172h0M152 250h0M82 168h0M154 72h0M120 127h0M232 129h0M86 159h0M36 12h0M106 54h0M78 192h0M159 209h0M180 33h0M113 63h0M107 135h0M94 55h0M156 21h0M142 54h0M112 152h0M219 213h0M156 63h0M73 51h0M115 49h0M63 213h0M215 30h0M101 213h0M174 126h0M64 107h0M61 231h0M82 208h0M113 239h0M192 153h0M62 193h0M111 27h0M121 231h0M138 190h0M158 188h0M37 150h0M158 128h0M159 49h0M248 34h0M47 29h0M154 202h0M116 176h0M102 241h0M148 233h0M116 216h0M169 3h0M112 126h0M247 47h0M251 196h0M80 4h0M100 149h0M73 12h0M20 230h0M149 140h0M104 176h0M161 147h0M196 128h0M75 107h0M245 110h0M216 132h0M236 245h0M51 207h0M153 98h0M23 251h0M191 249h0M163 22h0M109 146h0M206 201h0M135 33h0M176 100h0M108 73h0M247 53h0M160 159h0M56 21h0M209 38h0M149 241h0M196 77h0M30 131h0M235 84h0M184 79h0M172 116h0M171 90h0M146 83h0M162 243h0M151 159h0M145 215h0M126 165h0M34 39h0M232 191h0M68 251h0M96 69h0M38 142h0M205 65h0M150 85h0M180 119h0M20 198h0M3 24h0M111 9h0M15 169h0M113 248h0M128 104h0M245 27h0M75 60h0M190 15h0M144 89h0M121 201h0M118 157h0M175 182h0M33 225h0M98 156h0M31 170h0M232 249h0M47 11h0M146 198h0M80 197h0M50 228h0M177 246h0M17 156h0M58 59h0M216 199h0M138 244h0M49 150h0M145 33h0M67 55h0M59 145h0M90 77h0M35 119h0M236 72h0M11 208h0M128 15h0M244 178h0M103 64h0M139 64h0M242 212h0M225 236h0M10 170h0M157 173h0M38 177h0M170 76h0M152 211h0M44 209h0M182 2h0M224 161h0M237 181h0M2 225h0M59 54h0M182 19h0M247 93h0M141 117h0M144 159h0M83 16h0M105 47h0M153 236h0M204 233h0M226 136h0M56 138h0M120 66h0M203 17h0M158 13h0M165 134h0M157 37h0M59 111h0M157 29h0M122 154h0M50 190h0M34 204h0M170 82h0M186 41h0M95 112h0M35 194h0M226 180h0M228 203h0M44 141h0M13 94h0M150 93h0M239 32h0M164 81h0M41 15h0M250 211h0M226 66h0M124 182h0M185 122h0M172 54h0M97 49h0M89 35h0M118 240h0M80 246h0M185 117h0M69 84h0M53 79h0M56 192h0M171 14h0M170 122h0M17 32h0M161 213h0M99 114h0M222 230h0M37 7h0M44 221h0M150 116h0M72 143h0M28 216h0M80 104h0M108 237h0M209 227h0M175 176h0M218 205h0M95 29h0M164 68h0M252 228h0M169 70h0M232 139h0M177 40h0M29 99h0M252 94h0M85 9h0M151 25h0M94 9h0M21 242h0M145 68h0M65 231h0M250 130h0M18 15h0M233 147h0M71 193h0M89 112h0M70 92h0M70 105h0M3 178h0M102 88h0M211 72h0M34 252h0M64 125h0M137 82h0M27 1h0M43 33h0M77 20h0M118 7h0M159 238h0M135 61h0M174 225h0M142 151h0M14 18h0M110 18h0M223 34h0M3 205h0M3 58h0M54 163h0M174 241h0M249 75h0M170 202h0M84 60h0M230 32h0M192 190h0M189 91h0M125 98h0M5 91h0M152 172h0" stroke="#20287e" stroke-width="4.2"/>
<path d="M210 232h0M17 55h0M133 109h0M227 15h0M176 121h0M141 42h0M236 122h0M54 196h0M77 16h0M103 228h0M132 238h0M170 39h0M203 28h0M88 101h0M85 47h0M249 3h0M15 238h0M6 34h0M161 85h0M49 163h0M177 16h0M2 50h0M212 164h0M248 102h0M224 8h0M51 63h0M166 86h0M67 239h0M244 228h0M130 49h0M22 21h0M57 239h0M185 126h0M195 47h0M101 137h0M203 197h0M151 32h0M149 10h0M247 184h0M75 39h0M71 31h0M228 174h0M63 48h0M27 173h0M213 39h0M144 175h0M94 37h0M205 116h0M99 10h0M137 164h0M249 23h0M143 252h0M200 227h0M142 27h0M158 108h0M106 97h0M3 111h0M216 229h0M23 188h0M120 77h0M117 98h0M164 123h0M114 73h0M170 132h0M6 75h0M102 129h0M91 46h0M63 166h0M13 187h0M51 238h0M200 155h0M220 177h0M213 224h0M50 18h0M30 51h0M202 74h0M91 82h0M203 148h0M81 80h0M221 27h0M116 2h0M150 166h0M219 58h0M23 209h0M200 236h0M77 143h0M129 75h0M152 17h0M24 62h0M124 42h0M163 33h0M75 47h0M17 178h0M105 27h0M59 70h0M24 125h0M14 5h0M248 168h0M208 206h0M139 71h0M200 132h0M223 170h0M54 106h0M199 69h0M144 139h0M210 252h0M239 251h0M201 247h0M98 176h0M228 210h0M179 239h0M4 123h0M51 185h0M67 111h0M100 143h0M83 150h0M56 185h0M65 131h0M16 46h0M35 173h0M146 0h0M158 163h0M240 55h0M14 80h0M114 161h0M142 112h0M72 213h0M187 99h0M67 197h0M52 144h0M130 28h0M65 154h0M106 32h0M208 249h0M28 199h0M237 211h0M173 188h0M177 86h0M146 183h0M30 43h0M135 20h0M18 212h0M73 229h0M243 194h0M186 5h0M76 208h0M95 251h0M107 58h0M212 94h0M239 143h0M205 222h0M76 75h0M97 2h0M18 69h0M131 246h0M69 180h0M95 103h0M214 56h0M193 30h0M227 53h0M143 194h0M38 225h0M195 84h0M116 103h0M230 90h0M231 51h0M103 71h0M240 217h0M248 154h0M221 40h0M83 139h0M81 30h0M151 192h0M28 21h0M73 178h0M243 13h0M48 213h0M26 236h0M18 250h0M74 127h0M119 87h0M29 30h0M46 51h0M14 200h0M230 25h0M166 12h0M131 215h0M167 218h0M67 98h0M156 56h0M73 189h0M26 242h0M111 227h0M136 252h0M161 54h0M248 70h0M40 217h0M48 7h0M107 1h0M114 134h0M37 28h0M38 64h0M63 173h0M105 42h0M148 77h0M94 128h0M166 93h0M39 48h0M99 125h0M124 69h0M128 3h0M4 11h0M74 85h0M30 193h0M222 142h0M25 78h0M123 138h0M113 89h0M243 240h0M84 240h0M210 63h0M243 139h0M186 194h0M175 110h0M208 193h0M230 155h0M88 124h0M218 159h0M165 105h0M166 189h0M227 226h0M200 42h0M217 218h0M113 108h0M251 111h0M77 252h0M230 216h0M246 78h0M28 212h0M76 31h0M173 168h0M8 218h0M68 26h0M19 116h0M35 111h0M11 2h0M206 135h0M122 132h0M250 246h0M133 170h0M238 189h0M67 139h0M88 57h0M236 46h0M228 168h0M69 186h0M235 220h0M199 115h0M77 116h0M132 226h0M188 244h0M121 149h0M236 136h0M205 53h0M242 234h0M22 135h0M38 156h0M124 77h0M54 122h0M25 116h0M36 20h0M57 13h0M101 223h0M59 160h0M49 130h0M196 56h0M208 9h0M113 41h0M29 205h0M3 193h0M111 176h0M140 136h0M184 174h0M129 88h0M48 24h0M150 153h0M83 125h0M234 198h0M118 225h0M248 223h0M133 55h0M36 236h0M153 89h0M185 199h0M103 79h0M217 49h0M32 246h0M142 167h0M105 118h0M230 77h0M23 222h0M82 231h0M213 173h0M244 201h0M78 182h0M245 207h0M181 251h0M68 61h0M224 185h0M49 112h0M138 237h0M79 134h0M203 216h0M67 120h0M186 10h0M162 230h0M13 182h0M89 106h0M239 20h0M173 155h0M159 140h0M107 13h0M165 58h0M216 191h0M111 32h0M31 123h0M25 43h0M160 98h0M43 132h0M38 230h0M126 125h0M190 81h0M44 185h0M56 27h0M18 88h0M251 139h0M42 39h0M184 50h0M218 137h0M36 86h0M219 183h0M119 59h0M75 97h0M212 142h0M167 153h0" stroke="#1a2065" stroke-width="3.8"/>
</g></g>
<g clip-path="url(#ce20)">
<rect x="903.9" y="1565.3" width="252.7" height="253.5" fill="#000"/>
<g transform="translate(903.9 1565.3)" fill="none" stroke-linecap="round" filter="url(#fe1)">
<path d="M235 241h0M16 23h0M187 22h0M63 173h0M122 249h0M112 71h0M132 210h0M115 215h0M245 162h0M171 50h0M22 172h0M124 7h0M73 123h0M78 60h0M155 198h0M201 65h0M181 106h0M31 194h0M233 77h0M248 233h0M138 196h0M24 215h0M42 28h0M134 89h0M19 154h0M236 156h0M199 114h0M120 103h0M160 97h0M17 218h0M237 230h0M58 93h0M165 90h0M127 74h0M157 203h0M151 15h0M84 48h0M218 142h0M17 117h0M74 101h0M197 6h0M192 121h0M187 85h0M155 25h0M240 239h0M47 130h0M209 195h0M64 79h0M177 111h0M237 29h0M227 47h0M41 1h0M205 85h0M239 72h0M229 227h0M59 153h0M249 204h0M108 235h0M133 27h0M170 132h0M191 16h0M195 26h0M90 111h0M165 99h0M140 131h0M196 249h0M148 110h0M10 0h0M165 74h0M242 83h0M229 18h0M120 153h0M241 13h0M125 105h0M133 82h0M21 192h0M194 214h0M90 80h0M111 211h0M158 209h0M58 20h0M128 101h0M61 236h0M225 78h0M171 66h0M66 194h0M127 84h0M32 11h0M33 161h0M118 144h0M83 96h0M18 233h0M27 169h0M247 45h0M225 236h0M120 85h0M173 247h0M73 128h0M36 83h0M248 86h0M169 125h0M12 177h0M207 209h0M99 81h0M31 144h0M46 19h0M168 45h0M134 216h0M53 58h0M24 133h0M16 180h0M0 50h0M54 206h0M11 156h0M111 190h0M188 226h0M184 59h0M133 75h0M15 196h0M119 236h0M99 95h0M73 214h0M67 230h0M246 225h0M139 55h0M172 239h0M50 50h0M65 39h0M87 138h0M95 196h0M210 106h0M76 231h0M172 85h0M49 189h0M108 63h0M13 149h0M122 27h0M200 142h0M41 36h0M200 103h0M37 23h0M230 186h0M217 4h0M156 67h0M228 60h0M6 106h0M0 239h0M174 215h0M183 144h0M228 3h0M202 74h0M7 65h0M219 27h0M76 153h0M194 12h0M170 24h0M244 116h0M142 18h0M118 175h0M91 194h0M215 195h0M112 53h0M118 44h0M105 71h0M112 28h0M165 59h0M167 190h0M31 127h0M139 177h0M128 203h0M17 133h0M164 132h0M186 99h0M97 167h0M82 63h0M23 146h0M17 212h0M223 200h0M186 209h0M211 71h0M38 134h0M128 94h0M45 192h0M98 107h0M162 182h0M200 222h0M12 69h0M227 207h0M57 47h0M43 8h0M74 247h0M172 16h0M40 200h0M3 211h0M52 176h0M237 218h0M76 200h0M226 7h0M25 99h0M203 1h0M169 114h0M63 226h0M3 230h0M158 108h0M252 102h0M127 37h0M22 221h0M37 167h0M84 80h0M4 252h0M101 187h0M107 93h0M164 235h0M25 109h0M60 220h0M86 92h0M102 248h0M247 34h0M143 171h0M47 245h0M80 147h0M218 70h0M5 237h0M243 68h0M5 117h0M5 161h0M225 57h0M188 68h0M147 78h0M158 114h0M87 163h0M45 67h0M106 76h0M144 177h0M251 64h0M75 90h0M223 1h0M224 18h0M244 142h0M44 173h0M178 12h0M141 92h0M229 91h0M243 169h0M81 161h0M26 49h0M142 231h0M211 132h0M211 211h0M224 85h0M142 215h0M97 45h0M126 192h0M129 15h0M140 120h0M150 9h0M11 43h0M224 26h0M220 151h0M236 248h0M0 198h0M27 35h0M89 119h0M231 197h0M38 209h0M163 110h0M105 5h0M121 229h0M109 175h0M203 95h0M131 134h0M213 231h0M192 230h0M30 132h0M154 97h0M49 141h0M73 55h0M79 205h0M113 232h0M246 220h0M235 208h0M31 97h0M147 121h0M210 31h0M11 200h0M97 235h0M130 7h0M87 40h0M152 37h0M159 170h0M82 156h0M67 49h0M49 203h0M159 157h0M160 246h0M173 106h0M126 224h0M128 235h0M105 184h0M185 79h0M198 56h0M203 231h0M34 30h0M38 194h0M111 204h0M164 1h0M16 145h0M217 97h0M45 156h0M112 33h0M18 16h0M118 201h0M202 123h0M156 85h0M207 102h0M86 196h0M152 240h0M177 232h0M205 251h0M244 62h0M109 219h0M11 105h0M235 100h0M169 180h0M181 70h0" stroke="#222c88" stroke-width="4.2"/>
<path d="M101 42h0M223 182h0M202 176h0M113 247h0M135 20h0M130 119h0M230 244h0M51 67h0M96 40h0M91 185h0M214 9h0M48 61h0M230 70h0M146 197h0M8 243h0M124 176h0M106 25h0M50 183h0M53 119h0M164 121h0M27 139h0M59 51h0M69 242h0M206 119h0M230 42h0M219 186h0M62 118h0M223 228h0M88 105h0M32 49h0M113 7h0M189 203h0M93 224h0M80 69h0M79 117h0M68 189h0M34 66h0M73 73h0M39 78h0M139 67h0M126 242h0M25 76h0M186 90h0M120 219h0M223 127h0M120 65h0M178 0h0M21 39h0M210 143h0M8 25h0M5 45h0M140 79h0M215 43h0M251 43h0M155 154h0M5 193h0M121 181h0M112 186h0M197 149h0M104 253h0M96 203h0M8 222h0M45 200h0M122 113h0M144 56h0M56 186h0M4 99h0M32 6h0M37 100h0M231 177h0M223 191h0M178 249h0M80 176h0M197 184h0M226 162h0M172 222h0M196 80h0M111 171h0M75 219h0M195 239h0M148 0h0M151 102h0M241 33h0M97 182h0M190 141h0M62 165h0M234 61h0M218 105h0M164 197h0M251 92h0M91 51h0M213 55h0M32 245h0M52 74h0M43 237h0M178 27h0M146 44h0M18 204h0M171 137h0M43 94h0M238 18h0M166 208h0M87 67h0M86 130h0M9 19h0M220 61h0M5 35h0M198 20h0M145 191h0M219 157h0M152 245h0M147 128h0M134 121h0M242 21h0M180 174h0M44 60h0M30 122h0M64 244h0M227 156h0M137 37h0M39 66h0M197 139h0M161 69h0M187 189h0M146 86h0M154 2h0M219 113h0M18 226h0M205 144h0M107 201h0M51 7h0M229 143h0M3 19h0M13 97h0M15 159h0M185 121h0M149 67h0M244 98h0M174 75h0M23 201h0M2 205h0M235 54h0M183 213h0M142 37h0M227 138h0M78 215h0M243 187h0M90 98h0M14 92h0M129 220h0M238 179h0M132 41h0M13 171h0M74 38h0M53 109h0M141 240h0M66 146h0M69 105h0M251 77h0M49 251h0M160 175h0M65 130h0M165 7h0M238 167h0M134 59h0M63 155h0M211 100h0M240 39h0M250 199h0M70 237h0M57 173h0M67 55h0M55 214h0M187 10h0M219 234h0M133 202h0M92 210h0M207 225h0M144 134h0M147 139h0M22 21h0M80 86h0M107 47h0M64 179h0M40 71h0M104 82h0M50 93h0M59 144h0M134 192h0M251 152h0M64 87h0M248 171h0M8 49h0M78 253h0M18 140h0M9 251h0M200 27h0M19 73h0M67 166h0M76 169h0M38 204h0M151 31h0M10 84h0M1 27h0M31 209h0M99 31h0M160 187h0M208 63h0M168 155h0M211 152h0M150 94h0M202 245h0M37 115h0M15 165h0M174 90h0M152 168h0M145 28h0M96 55h0M154 128h0M0 92h0M138 14h0M234 84h0M102 160h0M57 125h0M126 42h0M91 171h0M199 86h0M217 82h0M137 146h0M81 193h0M3 130h0M16 4h0M82 43h0M30 232h0M62 212h0M230 234h0M145 160h0M78 41h0M162 152h0M66 111h0M125 22h0M92 157h0M75 78h0M12 225h0M247 212h0M77 108h0M221 162h0M17 53h0M251 180h0M181 6h0M52 0h0M247 57h0M109 41h0M228 132h0M170 144h0M222 41h0M29 83h0M54 137h0M141 100h0M109 225h0M93 93h0M110 105h0M1 112h0M15 125h0M181 90h0M186 107h0M242 56h0M85 56h0M164 225h0M19 43h0M145 238h0M222 52h0M250 241h0M74 174h0M208 201h0M247 166h0M72 148h0M146 71h0M90 145h0M80 245h0M52 233h0M180 34h0M205 193h0M63 91h0M210 43h0M109 16h0M38 14h0M12 120h0M242 50h0M197 39h0M204 185h0M170 7h0M29 58h0M143 9h0M56 13h0M174 228h0M240 4h0M25 89h0M4 147h0M34 173h0M253 215h0M233 4h0M22 251h0M120 168h0M216 166h0M98 147h0M191 73h0M147 153h0M23 181h0M250 116h0M64 207h0M80 56h0M217 239h0M212 244h0M70 79h0M133 152h0M137 26h0M214 120h0M20 177h0M160 26h0M63 33h0M154 251h0M190 133h0M6 41h0M106 213h0M205 236h0M136 49h0M96 252h0M195 131h0" stroke="#1b236d" stroke-width="3.8"/>
<path id="ey20" d="M209 157h0M204 134h0M9 8h0M145 147h0M113 83h0M54 248h0M213 218h0M104 36h0M31 117h0M44 122h0M44 208h0M216 129h0M2 8h0M179 76h0M128 54h0M10 206h0M143 226h0M87 247h0M133 247h0M18 67h0M249 251h0M81 131h0M24 25h0M98 225h0M127 31h0M117 17h0M216 170h0M170 0h0M236 37h0M199 253h0M13 217h0M14 81h0M238 120h0M51 217h0M99 212h0M8 93h0M19 58h0M132 177h0M155 145h0M166 12h0M124 77h0M142 114h0M150 58h0M37 229h0M142 3h0M56 69h0M80 140h0M38 243h0M1 138h0M0 102h0M52 81h0M240 106h0M216 208h0M94 247h0M69 162h0M218 221h0M104 66h0M160 82h0M14 29h0M73 135h0M53 223h0M71 228h0M152 116h0M57 100h0M189 115h0M183 227h0M245 240h0M94 130h0M137 95h0M48 151h0M63 71h0M204 172h0M16 239h0M137 166h0M154 234h0M160 239h0" stroke="#2fa0d0" stroke-width="4.8"/>
<use href="#ey20" stroke="#2e5cb0" stroke-width="3.0"/>
</g></g>
<g clip-path="url(#ce21)">
<rect x="1161.4" y="1565.3" width="252.4" height="253.5" fill="#000"/>
<g transform="translate(1161.4 1565.3)" fill="none" stroke-linecap="round" filter="url(#fe1)">
<path d="M17 186h0M172 106h0M246 1h0M245 128h0M85 251h0M70 214h0M69 184h0M43 27h0M126 32h0M111 231h0M219 36h0M151 167h0M44 9h0M40 131h0M132 78h0M24 179h0M24 101h0M60 21h0M61 81h0M130 64h0M152 220h0M174 14h0M110 193h0M64 77h0M122 192h0M82 93h0M117 185h0M118 73h0M161 141h0M87 117h0M31 207h0M216 25h0M150 185h0M55 124h0M239 87h0M3 176h0M184 205h0M35 17h0M69 73h0M46 150h0M63 146h0M230 3h0M2 222h0M50 103h0M135 239h0M20 59h0M221 88h0M29 119h0M148 91h0M74 12h0M234 18h0M51 51h0M9 95h0M24 167h0M241 212h0M2 128h0M73 247h0M155 102h0M125 222h0M132 129h0M119 43h0M206 26h0M97 249h0M125 230h0M129 179h0M177 162h0M107 246h0M188 153h0M56 11h0M115 244h0M117 176h0M46 143h0M46 216h0M251 122h0M82 164h0M47 82h0M187 221h0M225 38h0M226 58h0M239 186h0M123 248h0M88 37h0M82 182h0M16 241h0M219 146h0M119 225h0M179 112h0M244 99h0M22 130h0M112 155h0M187 100h0M186 131h0M243 165h0M10 104h0M57 101h0M34 50h0M57 31h0M204 17h0M138 215h0M79 146h0M68 63h0M8 154h0M195 131h0M16 199h0M68 153h0M4 19h0M62 70h0M198 17h0M118 104h0M101 103h0M59 151h0M43 2h0M61 239h0M18 249h0M121 253h0M101 136h0M127 171h0M107 170h0M66 17h0M65 233h0M134 42h0M74 6h0M126 68h0M132 196h0M74 217h0M74 134h0M131 149h0M251 81h0M229 144h0M58 182h0M234 52h0M79 80h0M143 110h0M216 249h0M16 144h0M132 166h0M200 59h0M57 247h0M96 130h0M215 163h0M100 117h0M137 93h0M167 240h0M251 15h0M97 240h0M4 253h0M197 23h0M24 162h0M159 246h0M237 166h0M94 59h0M173 150h0M10 246h0M241 137h0M210 144h0M146 33h0M105 91h0M153 229h0M94 162h0M216 152h0M130 190h0M108 114h0M93 202h0M85 10h0M57 216h0M190 107h0M35 38h0M180 81h0M210 0h0M97 7h0M24 230h0M149 129h0M151 204h0M243 178h0M149 115h0M57 3h0M98 43h0M60 90h0M90 63h0M167 132h0M87 17h0M16 176h0M108 84h0M58 193h0M65 37h0M147 150h0M129 48h0M190 32h0M77 190h0M105 110h0M238 48h0M215 170h0M16 155h0M6 209h0M223 33h0M212 19h0M91 207h0M166 103h0M47 60h0M86 131h0M140 56h0M183 232h0M111 8h0M112 239h0M250 140h0M118 116h0M221 112h0M90 151h0M98 109h0M64 115h0M73 235h0M30 107h0M199 227h0M25 58h0M229 203h0M86 212h0M90 21h0M53 244h0M35 133h0M26 157h0M30 40h0M164 15h0M40 50h0M228 226h0M138 162h0M100 21h0M194 103h0M44 197h0M7 170h0M194 48h0M225 77h0M18 28h0M132 213h0M74 123h0M182 154h0M7 184h0M48 123h0M80 60h0M108 60h0M115 39h0M147 195h0M213 31h0M53 190h0M100 183h0M7 48h0M17 47h0M121 82h0M105 15h0M155 154h0M53 198h0M181 249h0M157 63h0M235 160h0M246 24h0M28 132h0M53 83h0M219 167h0M145 52h0M79 170h0M22 200h0M195 64h0M148 239h0M65 48h0M104 198h0M24 76h0M252 9h0M132 85h0M245 105h0M200 47h0M73 149h0M38 176h0M202 35h0M124 12h0M238 2h0M124 119h0M46 243h0M238 97h0M204 228h0M224 244h0M60 163h0M37 77h0M245 77h0M34 102h0M12 147h0M68 91h0M137 183h0M162 249h0M79 47h0M111 44h0M75 139h0M45 222h0M200 67h0M28 71h0M15 115h0M234 45h0M148 120h0M74 198h0M223 3h0M53 152h0M230 238h0M80 236h0M209 56h0M164 45h0M38 247h0M56 176h0M191 52h0M241 218h0M91 241h0M211 246h0M137 204h0M213 41h0M63 199h0M145 115h0M12 251h0M164 145h0M59 76h0M101 30h0M37 58h0M72 0h0M63 204h0M115 189h0M101 76h0M238 25h0M80 126h0M144 178h0M90 124h0M105 33h0M246 207h0M227 10h0M196 40h0M36 236h0M39 183h0M183 227h0M84 239h0M87 70h0M64 108h0M11 54h0M1 234h0M97 176h0M207 36h0M206 139h0M17 69h0M251 117h0M112 249h0M241 120h0M141 226h0M119 99h0M128 26h0M84 31h0M72 207h0M163 165h0M79 74h0M138 250h0M194 144h0M129 95h0M114 138h0M11 42h0M225 161h0M235 153h0M225 152h0M64 8h0M8 231h0M142 207h0M242 58h0M44 161h0M97 88h0M34 243h0" stroke="#1e2678" stroke-width="4.2"/>
<path d="M209 78h0M61 46h0M147 232h0M101 94h0M0 42h0M157 163h0M16 99h0M27 113h0M19 172h0M237 141h0M34 126h0M198 29h0M65 97h0M205 45h0M16 123h0M29 138h0M112 215h0M235 128h0M44 100h0M117 1h0M71 102h0M235 252h0M136 47h0M57 251h0M16 1h0M191 139h0M209 127h0M251 208h0M216 126h0M251 245h0M76 162h0M58 223h0M160 120h0M152 137h0M50 94h0M101 69h0M38 94h0M29 94h0M243 14h0M114 169h0M22 112h0M6 142h0M209 156h0M229 220h0M167 125h0M115 83h0M175 157h0M42 84h0M209 134h0M134 51h0M145 187h0M217 4h0M148 69h0M73 35h0M37 116h0M84 57h0M111 164h0M52 4h0M161 131h0M182 129h0M66 211h0M153 56h0M66 83h0M22 51h0M129 57h0M171 224h0M6 13h0M11 126h0M218 44h0M44 125h0M233 75h0M59 234h0M178 243h0M205 164h0M40 68h0M10 8h0M94 232h0M134 109h0M198 232h0M209 61h0M118 19h0M46 45h0M3 24h0M86 106h0M120 31h0M51 167h0M11 196h0M31 163h0M144 124h0M22 1h0M4 90h0M197 240h0M93 215h0M248 131h0M167 156h0M62 194h0M75 111h0M163 213h0M226 97h0M173 125h0M5 133h0M124 204h0M200 126h0M5 188h0M107 21h0M177 143h0M5 53h0M42 147h0M81 16h0M125 156h0M25 174h0M94 83h0M221 238h0M222 13h0M26 34h0M230 160h0M23 120h0M3 228h0M209 252h0M55 141h0M252 154h0M121 91h0M111 95h0M101 16h0M168 70h0M129 12h0M251 74h0M4 0h0M107 177h0M33 81h0M242 115h0M251 164h0M106 132h0M51 13h0M78 231h0M150 144h0M159 104h0M157 175h0M72 80h0M22 14h0M140 143h0M65 25h0M59 127h0M19 233h0M68 118h0M132 173h0M120 211h0M182 119h0M14 23h0M87 229h0M115 194h0M136 132h0M42 74h0M42 139h0M220 76h0M136 193h0M15 86h0M145 162h0M54 235h0M134 118h0M189 125h0M250 199h0M51 18h0M46 233h0M233 147h0M148 62h0M222 22h0M30 172h0M240 198h0M9 162h0M250 52h0M250 4h0M7 204h0M194 87h0M27 50h0M194 151h0M97 145h0M43 186h0M83 109h0M21 156h0M92 224h0M230 135h0M78 23h0M103 148h0M212 65h0M147 138h0M250 34h0M252 86h0M204 3h0M148 211h0M105 125h0M159 51h0M89 42h0M142 77h0M88 187h0M141 40h0M171 118h0M146 248h0M118 155h0M225 207h0M32 190h0M120 241h0M130 30h0M52 133h0M100 160h0M228 46h0M84 87h0M178 26h0M25 45h0M22 9h0M8 31h0M149 252h0M109 219h0M89 167h0M125 109h0M30 238h0M164 234h0M115 159h0M44 107h0M92 75h0M247 193h0M146 216h0M51 25h0M152 30h0M166 253h0M78 203h0M214 133h0M109 135h0M191 250h0M199 151h0M230 249h0M117 251h0M236 64h0M146 86h0M246 61h0M6 111h0M231 69h0M113 225h0M48 129h0M114 69h0M108 76h0M218 58h0M142 91h0M15 227h0M117 164h0M237 207h0M109 102h0M58 53h0M119 126h0M88 197h0M141 166h0M160 148h0M232 82h0M208 14h0M72 157h0M114 219h0M149 98h0M60 61h0M131 123h0M113 179h0M112 143h0M69 7h0M82 189h0M158 251h0M125 236h0M1 153h0M120 147h0M191 114h0M132 19h0M168 63h0M90 32h0M103 225h0M105 53h0M192 4h0M11 185h0M187 226h0M141 150h0M140 238h0M217 229h0M237 107h0M246 45h0M8 21h0M231 24h0M169 49h0M78 66h0M166 119h0M234 115h0M41 156h0M22 105h0M21 41h0M13 168h0M44 167h0M19 164h0M178 62h0M105 72h0M212 47h0M87 203h0M207 6h0M54 230h0M104 38h0M167 9h0M95 39h0M216 63h0M126 151h0M36 152h0M36 141h0M1 245h0M103 164h0M125 213h0M20 93h0M13 111h0M225 52h0M154 6h0M204 250h0M247 175h0M35 107h0M30 197h0M162 136h0M125 132h0M129 200h0M237 71h0M102 179h0M95 135h0M247 153h0M98 234h0M187 37h0M185 111h0M104 236h0M232 90h0M88 144h0M125 19h0M74 55h0M102 220h0M223 8h0M24 187h0M7 236h0M88 3h0M46 114h0M185 69h0M104 98h0M67 169h0M17 210h0M206 69h0M48 40h0M37 87h0M1 167h0M208 73h0M138 127h0M236 220h0M134 208h0M232 107h0M14 131h0M251 127h0M65 123h0M128 207h0M1 198h0M142 155h0M1 98h0M61 16h0M74 223h0M20 83h0M82 176h0M73 228h0M63 247h0" stroke="#181e60" stroke-width="3.8"/>
</g></g>
<rect x="1390.6" y="1808.8" width="18.4" height="3.7" fill="#fff"/>
<rect x="1533.4" y="1465.5" width="40" height="180.8" fill="#c4488f" stroke="#1a1a1a" stroke-width="1.2"/>
<rect x="1596.1" y="1640.8" width="40" height="5.5" fill="#1f3b6e" stroke="#1a1a1a" stroke-width="1.2"/>
<rect x="1658.5" y="1492.6" width="40" height="153.7" fill="#05853f" stroke="#1a1a1a" stroke-width="1.2"/>
<path d="M1512 1333.1V1646.3M1499.4 1646.3H1722M1499.4 1542.1H1512M1499.4 1437.9H1512M1499.4 1333.7H1512M1553.4 1646.3V1658.9M1616.1 1646.3V1658.9M1678.5 1646.3V1658.9" fill="none" stroke="#222" stroke-width="1.3"/>
<text text-anchor="end" font-size="26" x="1496.5" y="1654.7">0</text>
<text text-anchor="end" font-size="26" x="1496.5" y="1550.5">20</text>
<text text-anchor="end" font-size="26" x="1496.5" y="1446.3">40</text>
<text text-anchor="end" font-size="26" x="1496.5" y="1342.1">60</text>
<path d="M1553.4 1384.2V1546M1542.6 1384.2h21.6M1542.6 1546h21.6M1616.1 1637.5V1644.5M1605.3 1637.5h21.6M1605.3 1644.5h21.6M1678.5 1441.1V1542M1667.7 1441.1h21.6M1667.7 1542h21.6" fill="none" stroke="#111" stroke-width="1.2"/>
<circle cx="1553.3" cy="1359.2" r="4.6" fill="#000"/>
<circle cx="1553.3" cy="1374.3" r="4.6" fill="#000"/>
<circle cx="1553.3" cy="1463.1" r="4.6" fill="#000"/>
<circle cx="1544" cy="1524.3" r="4.6" fill="#000"/>
<circle cx="1562.7" cy="1529.4" r="4.6" fill="#000"/>
<circle cx="1553.3" cy="1540" r="4.6" fill="#000"/>
<circle cx="1615.7" cy="1630.6" r="4.6" fill="#000"/>
<circle cx="1607.8" cy="1636.3" r="4.6" fill="#000"/>
<circle cx="1623.5" cy="1637.2" r="4.6" fill="#000"/>
<circle cx="1600" cy="1644.2" r="4.6" fill="#000"/>
<circle cx="1615.7" cy="1642.7" r="4.6" fill="#000"/>
<circle cx="1631.9" cy="1644.2" r="4.6" fill="#000"/>
<circle cx="1678.3" cy="1416.1" r="4.6" fill="#000"/>
<circle cx="1678.3" cy="1460.7" r="4.6" fill="#000"/>
<circle cx="1668.7" cy="1490.5" r="4.6" fill="#000"/>
<circle cx="1688" cy="1489.6" r="4.6" fill="#000"/>
<circle cx="1668.7" cy="1548.4" r="4.6" fill="#000"/>
<circle cx="1688" cy="1545.1" r="4.6" fill="#000"/>
<path d="M1553 1272.2V1185.4H1678.3V1204.1" fill="none" stroke="#111" stroke-width="1.2"/>
<path d="M1615.7 1272.2V1253.8H1678.3V1397.8" fill="none" stroke="#111" stroke-width="1.2"/>
<path d="M1553 1340.5V1321.6H1615.7V1613.1" fill="none" stroke="#111" stroke-width="1.2"/>
<text text-anchor="middle" font-size="26" x="1614.6" y="1168.3">&gt;0.9999</text>
<text text-anchor="middle" font-size="26" x="1647.7" y="1236.6">0.0206</text>
<text text-anchor="middle" font-size="26" x="1585" y="1304.4">0.0051</text>
<text text-anchor="middle" x="1613.4" y="1128.2">5 µM Ca-I</text>
<text text-anchor="middle" font-size="25.8" transform="translate(1453.6 1488.9) rotate(-90)">% CitH3 /Total cells</text>
<text text-anchor="end" transform="translate(1561.7 1677.1) rotate(-45)">vehicle</text>
<text text-anchor="end" transform="translate(1625.5 1676.3) rotate(-45)">PAD4_3</text>
<text text-anchor="end" transform="translate(1689.2 1675.9) rotate(-45)">PAD4_3i</text></g>
<g id="panelF"><text font-size="39" x="-0.5" y="1459.4">F</text><text text-anchor="middle" x="299.5" y="1515.3">Ca-I 5 µM</text>
<line x1="97.8" y1="1526.2" x2="499.9" y2="1526.2" stroke="#333" stroke-width="1.1"/>
<text text-anchor="middle" x="194.3" y="1558.6">vehicle</text>
<line x1="97.8" y1="1568.7" x2="291.9" y2="1568.7" stroke="#333" stroke-width="1.1"/>
<text text-anchor="middle" x="396.2" y="1558.6">PAD4_3</text>
<line x1="300" y1="1569" x2="493.7" y2="1569" stroke="#333" stroke-width="1.1"/>
<text text-anchor="middle" x="656.2" y="1516.1">unstimulated</text>
<line x1="557.8" y1="1525.6" x2="753.5" y2="1525.6" stroke="#333" stroke-width="1.1"/>
<text text-anchor="middle" x="656.2" y="1557.2">PAD4_3</text>
<line x1="559.4" y1="1568.1" x2="753.5" y2="1568.1" stroke="#333" stroke-width="1.1"/>
<text font-size="25.3" x="25" y="1623.5">kDa</text>
<text x="83.6" y="1616">t<tspan font-size="14.5" dy="7.5">min</tspan></text>
<text font-size="24" transform="translate(142.7 1609) rotate(-45)"><tspan x="0" y="8" text-anchor="middle">10</tspan></text>
<text font-size="24" transform="translate(207 1609) rotate(-45)"><tspan x="0" y="8" text-anchor="middle">30</tspan></text>
<text font-size="24" transform="translate(269.9 1609) rotate(-45)"><tspan x="0" y="8" text-anchor="middle">90</tspan></text>
<text font-size="24" transform="translate(321.6 1609) rotate(-45)"><tspan x="0" y="8" text-anchor="middle">10</tspan></text>
<text font-size="24" transform="translate(384.5 1609) rotate(-45)"><tspan x="0" y="8" text-anchor="middle">30</tspan></text>
<text font-size="24" transform="translate(448.3 1609) rotate(-45)"><tspan x="0" y="8" text-anchor="middle">90</tspan></text>
<text font-size="24" transform="translate(581.1 1609) rotate(-45)"><tspan x="0" y="8" text-anchor="middle">10</tspan></text>
<text font-size="24" transform="translate(644 1609) rotate(-45)"><tspan x="0" y="8" text-anchor="middle">30</tspan></text>
<text font-size="24" transform="translate(706.9 1609) rotate(-45)"><tspan x="0" y="8" text-anchor="middle">90</tspan></text>
<g clip-path="url(#cf1)">
<rect x="83.3" y="1630.2" width="666.5" height="137.2" fill="#fafafa"/>
<rect x="99" y="1712.1" width="66" height="6.9" rx="3.4" fill="#000" opacity="0.29" filter="url(#b4)" transform="rotate(2.2 132 1715.5)"/>
<rect x="173" y="1716" width="58" height="9.4" rx="4.7" fill="#000" opacity="0.65" filter="url(#b4)"/>
<rect x="238" y="1711.8" width="58" height="9.4" rx="4.7" fill="#000" opacity="0.84" filter="url(#b4)" transform="rotate(-3 267 1716.5)"/>
<rect x="303" y="1708.7" width="55" height="5.6" rx="2.8" fill="#000" opacity="0.13" filter="url(#b4)" transform="rotate(-1 330.5 1711.5)"/>
<rect x="368" y="1706" width="51" height="5" rx="2.5" fill="#000" opacity="0.08" filter="url(#b4)" transform="rotate(-1.1 393.5 1708.5)"/>
<rect x="430" y="1705" width="56" height="5" rx="2.5" fill="#000" opacity="0.06" filter="url(#b4)"/>
<rect x="546" y="1701.9" width="57" height="6.2" rx="3.1" fill="#000" opacity="0.32" filter="url(#b4)" transform="rotate(-2 574.5 1705)"/>
<rect x="613" y="1700.1" width="57" height="8.8" rx="4.4" fill="#000" opacity="0.53" filter="url(#b4)"/>
<rect x="679" y="1700.1" width="57" height="6.9" rx="3.4" fill="#000" opacity="0.40" filter="url(#b4)" transform="rotate(-2 707.5 1703.5)"/>
</g>
<rect x="83.3" y="1630.2" width="666.5" height="137.2" fill="none" stroke="#222" stroke-width="1"/>
<g clip-path="url(#cf2)">
<rect x="84.1" y="1773.6" width="664.3" height="91.7" fill="#ececec"/>
<rect x="96.5" y="1822.7" width="63.5" height="10.6" rx="5.3" fill="#000" opacity="0.82" filter="url(#b4)" transform="rotate(2.7 128.2 1828)"/>
<rect x="169" y="1827.1" width="55" height="11.9" rx="5.9" fill="#000" opacity="0.95" filter="url(#b4)" transform="rotate(1.6 196.5 1833)"/>
<rect x="233" y="1824.2" width="56" height="10.6" rx="5.3" fill="#000" opacity="0.92" filter="url(#b4)" transform="rotate(-3.1 261 1829.5)"/>
<rect x="300" y="1820.5" width="55" height="10" rx="5" fill="#000" opacity="0.76" filter="url(#b4)" transform="rotate(-1 327.5 1825.5)"/>
<rect x="366" y="1817.5" width="55" height="10" rx="5" fill="#000" opacity="0.89" filter="url(#b4)" transform="rotate(-1 393.5 1822.5)"/>
<rect x="433" y="1815.2" width="59" height="10.6" rx="5.3" fill="#000" opacity="0.97" filter="url(#b4)" transform="rotate(1 462.5 1820.5)"/>
<rect x="557" y="1813.7" width="57.5" height="10.6" rx="5.3" fill="#000" opacity="0.97" filter="url(#b4)" transform="rotate(1.5 585.8 1819)"/>
<rect x="625.7" y="1815.9" width="55.9" height="11.2" rx="5.6" fill="#000" opacity="0.97" filter="url(#b4)" transform="rotate(1 653.7 1821.5)"/>
<rect x="691" y="1816" width="61" height="10" rx="5" fill="#000" opacity="0.89" filter="url(#b4)" transform="rotate(-2.8 721.5 1821)"/>
</g>
<rect x="84.1" y="1773.6" width="664.3" height="91.7" fill="none" stroke="#222" stroke-width="1"/>
<text text-anchor="end" font-size="25.8" x="57.5" y="1671">20</text>
<line x1="60.9" y1="1663.7" x2="82.8" y2="1663.7" stroke="#111" stroke-width="2.6"/>
<text text-anchor="end" font-size="25.8" x="57.5" y="1746.7">15</text>
<line x1="60.9" y1="1738.9" x2="82.8" y2="1738.9" stroke="#111" stroke-width="2.6"/>
<text text-anchor="end" font-size="25.8" x="59.8" y="1852.7">50</text>
<line x1="64.3" y1="1844.3" x2="84.6" y2="1844.3" stroke="#111" stroke-width="2.6"/>
<text x="759.5" y="1707.6">α-H3Cit</text>
<text x="762.5" y="1828.4">α-MPO</text></g>
<g id="panelG"><text font-size="40" x="166.5" y="1997.2">G</text>
<text text-anchor="middle" font-size="25.5" textLength="131" lengthAdjust="spacingAndGlyphs" x="643" y="2088.7">5 µM Ca-I</text>
<line x1="262.6" y1="2098.3" x2="1032.8" y2="2098.3" stroke="#222" stroke-width="1.2"/>
<text text-anchor="middle" font-size="26.6" x="389.3" y="2133.3">vehicle</text>
<text text-anchor="middle" font-size="26.6" x="647.2" y="2133.3">PADI4_3</text>
<text text-anchor="middle" font-size="26.4" x="906" y="2133.3">PADI4_3i</text>
<text text-anchor="middle" font-size="26" transform="translate(256.9 2263.8) rotate(-90)">12 h</text>
<g clip-path="url(#cg0)">
<rect x="261" y="2145.1" width="253.9" height="253" fill="#3c5856"/>
<circle cx="470.8" cy="2193.5" r="64.5" fill="#6d8684" opacity="0.8" filter="url(#fg20)"/>
<circle cx="495" cy="2322.6" r="45.2" fill="#667f7d" opacity="0.7" filter="url(#fg20)"/>
<circle cx="309.4" cy="2209.6" r="58.1" fill="#3d5856" opacity="0.8" filter="url(#fg20)"/>
<circle cx="365.9" cy="2362.9" r="51.6" fill="#3a5553" opacity="0.8" filter="url(#fg20)"/>
<circle cx="277.1" cy="2306.5" r="38.7" fill="#415c5a" opacity="0.7" filter="url(#fg20)"/>
<path d="M364.3 2148.3C359.4 2177.4 370.7 2200 393.3 2212.9" fill="none" stroke="#e8f4f0" stroke-width="7" stroke-linecap="round" opacity="0.75" filter="url(#fg2)"/>
<path d="M372.3 2154.8C372.3 2180.6 383.6 2198.4 422.4 2208" fill="none" stroke="#e8f4f0" stroke-width="6" stroke-linecap="round" opacity="0.6" filter="url(#fg2)"/>
<path d="M401.4 2179C404.6 2169.3 412.7 2165.3 420.8 2164.5" fill="none" stroke="#e8f4f0" stroke-width="6" stroke-linecap="round" opacity="0.65" filter="url(#fg2)"/>
<path d="M362.7 2193.5C374 2209.6 388.5 2217.7 406.2 2220.1" fill="none" stroke="#e8f4f0" stroke-width="5" stroke-linecap="round" opacity="0.4" filter="url(#fg2)"/>
<path d="M380.4 2164.5C383.6 2187.1 394.9 2196.7 406.2 2198.4" fill="none" stroke="#e8f4f0" stroke-width="9" stroke-linecap="round" opacity="0.35" filter="url(#fg2)"/>
<path d="M451.4 2308.1C470.8 2316.2 486.9 2330.7 503.1 2354.9" fill="none" stroke="#e8f4f0" stroke-width="6" stroke-linecap="round" opacity="0.22" filter="url(#fg2)"/>
<circle cx="332" cy="2238.7" r="22.2" fill="url(#ghA)" opacity="0.80"/>
<circle cx="375.6" cy="2237.1" r="21.2" fill="url(#ghA)" opacity="0.80"/>
<circle cx="412.7" cy="2271" r="22.2" fill="url(#ghA)" opacity="0.80"/>
<circle cx="317.5" cy="2280.6" r="22.2" fill="url(#ghA)" opacity="0.80"/>
<circle cx="464.3" cy="2282.3" r="23.2" fill="url(#ghA)" opacity="0.64"/>
<circle cx="485.3" cy="2282.3" r="23.2" fill="url(#ghA)" opacity="0.64"/>
<circle cx="301.3" cy="2335.5" r="24.2" fill="url(#ghA)" opacity="0.56"/>
<circle cx="296.5" cy="2367.8" r="26.2" fill="url(#ghA)" opacity="0.64"/>
<circle cx="415.9" cy="2371" r="22.2" fill="url(#ghA)" opacity="0.64"/>
<circle cx="498.2" cy="2353.3" r="20.2" fill="url(#ghA)" opacity="0.48"/>
<circle cx="391.7" cy="2166.1" r="22.2" fill="url(#ghA)" opacity="0.72"/>
<circle cx="354.6" cy="2166.1" r="20.2" fill="url(#ghA)" opacity="0.56"/>
<circle cx="512.7" cy="2193.5" r="14.1" fill="url(#ghA)" opacity="0.64"/>
<circle cx="393.3" cy="2396.8" r="16.1" fill="url(#ghA)" opacity="0.48"/>
<circle cx="261" cy="2190.3" r="10.1" fill="url(#ghA)" opacity="0.48"/>
<g filter="url(#fg1)">
<circle cx="289.7" cy="2154.8" r="9.9" fill="url(#gcA)"/>
<circle cx="314.7" cy="2179" r="7.7" fill="url(#gcC)"/>
<circle cx="319.1" cy="2246" r="8.9" fill="url(#gcA)"/>
<circle cx="276.8" cy="2288.7" r="8.2" fill="url(#gcA)"/>
<circle cx="338.9" cy="2282.3" r="7.7" fill="url(#gcC)"/>
<circle cx="371.5" cy="2278.7" r="8.2" fill="url(#gcC)"/>
<circle cx="355.9" cy="2306" r="8.6" fill="url(#gcA)"/>
<circle cx="440.9" cy="2244" r="8.6" fill="url(#gcA)"/>
<circle cx="504.7" cy="2245.5" r="8.6" fill="url(#gcC)"/>
<circle cx="495.8" cy="2262.9" r="8.6" fill="url(#gcC)"/>
<circle cx="428.8" cy="2298.9" r="8.9" fill="url(#gcA)"/>
<circle cx="462.4" cy="2346.8" r="8.6" fill="url(#gcA)"/>
<circle cx="422" cy="2357.8" r="8.6" fill="url(#gcA)"/>
<circle cx="278.8" cy="2390.4" r="8.6" fill="url(#gcA)"/>
<circle cx="265.8" cy="2393.6" r="6.8" fill="url(#gcA)"/>
<circle cx="368.8" cy="2149.9" r="7.7" fill="url(#gcB)"/>
<circle cx="515" cy="2225.8" r="4.3" fill="url(#gcA)"/>
<circle cx="343.3" cy="2178.5" r="2.2" fill="#1c2a29" stroke="#f4fbfa" stroke-width="1.3"/>
<circle cx="395.3" cy="2192.4" r="2.2" fill="#1c2a29" stroke="#f4fbfa" stroke-width="1.3"/>
<circle cx="443.7" cy="2220.9" r="2.4" fill="#1c2a29" stroke="#f4fbfa" stroke-width="1.3"/>
<circle cx="481.3" cy="2173.3" r="2.2" fill="#1c2a29" stroke="#f4fbfa" stroke-width="1.3"/>
<circle cx="453" cy="2147.5" r="2.2" fill="#1c2a29" stroke="#f4fbfa" stroke-width="1.3"/>
<circle cx="388.5" cy="2332.8" r="2.2" fill="#1c2a29" stroke="#f4fbfa" stroke-width="1.3"/>
<circle cx="269.4" cy="2343.3" r="2.2" fill="#1c2a29" stroke="#f4fbfa" stroke-width="1.3"/>
<circle cx="316.3" cy="2392" r="2.2" fill="#1c2a29" stroke="#f4fbfa" stroke-width="1.3"/>
<circle cx="448.7" cy="2385.9" r="2.2" fill="#1c2a29" stroke="#f4fbfa" stroke-width="1.3"/>
<circle cx="479.7" cy="2356.8" r="1.5" fill="#1c2a29" stroke="#f4fbfa" stroke-width="1.3"/>
</g>
<path d="M324.7 2159.6L337 2164.1" stroke="#fff" stroke-width="1.5" fill="none" marker-end="url(#arw)"/>
<path d="M485.3 2328.3L491.1 2338.6" stroke="#fff" stroke-width="1.5" fill="none" marker-end="url(#arw)"/>
<path d="M472.1 2385.5H509.5" stroke="#fff" stroke-width="0.9"/>
<text x="490.5" y="2393.6" text-anchor="middle" font-family="&quot;DejaVu Sans&quot;, &quot;Liberation Sans&quot;, sans-serif" font-weight="bold" font-size="6.6" fill="#fff">50 µm</text>
</g>
<g clip-path="url(#cg1)">
<rect x="519.2" y="2145.1" width="252.7" height="253" fill="#6f8a87"/>
<circle cx="761.3" cy="2169.3" r="32.3" fill="#2e4644" opacity="0.95" filter="url(#fg20)"/>
<circle cx="773.2" cy="2258.1" r="19.4" fill="#4a6462" opacity="0.7" filter="url(#fg20)"/>
<circle cx="603.1" cy="2159.6" r="11.6" fill="#3a5452" opacity="0.7" filter="url(#fg20)"/>
<circle cx="648.3" cy="2371" r="64.5" fill="#8aa3a0" opacity="0.7" filter="url(#fg20)"/>
<circle cx="551.5" cy="2225.8" r="38.7" fill="#7a9592" opacity="0.6" filter="url(#fg20)"/>
<circle cx="696.7" cy="2193.5" r="25.8" fill="#55706d" opacity="0.5" filter="url(#fg20)"/>
<circle cx="535.3" cy="2290.3" r="25.8" fill="#5d7875" opacity="0.5" filter="url(#fg20)"/>
<circle cx="737" cy="2271" r="25.8" fill="#5a7572" opacity="0.5" filter="url(#fg20)"/>
<circle cx="593.4" cy="2214.5" r="19.2" fill="url(#ghB)" opacity="1.00"/>
<circle cx="644.3" cy="2256.4" r="19.2" fill="url(#ghB)" opacity="1.00"/>
<g filter="url(#fg1)">
<circle cx="585.4" cy="2152.4" r="10" fill="url(#gcA)"/>
<circle cx="610.4" cy="2158.8" r="7.7" fill="url(#gcB)"/>
<circle cx="695.9" cy="2150.7" r="8.2" fill="url(#gcB)"/>
<circle cx="725.8" cy="2148.3" r="8.2" fill="url(#gcA)"/>
<circle cx="537" cy="2177.4" r="6.9" fill="url(#gcB)"/>
<circle cx="547" cy="2170.9" r="6" fill="url(#gcB)"/>
<circle cx="570" cy="2175.8" r="9.5" fill="url(#gcA)"/>
<circle cx="594.2" cy="2180.3" r="7.7" fill="url(#gcB)"/>
<circle cx="633.8" cy="2170.9" r="7.7" fill="url(#gcB)"/>
<circle cx="603.4" cy="2191.1" r="8.8" fill="url(#gcB)"/>
<circle cx="549.9" cy="2193.5" r="6.9" fill="url(#gcB)"/>
<circle cx="564.4" cy="2198.8" r="9.1" fill="url(#gcB)"/>
<circle cx="646.7" cy="2187.4" r="7.7" fill="url(#gcB)"/>
<circle cx="651.5" cy="2203.5" r="9.1" fill="url(#gcB)"/>
<circle cx="625.4" cy="2212.1" r="8.8" fill="url(#gcB)"/>
<circle cx="728.7" cy="2207.7" r="8.8" fill="url(#gcB)"/>
<circle cx="758" cy="2219" r="9.5" fill="url(#gcA)"/>
<circle cx="537.3" cy="2224.5" r="9.5" fill="url(#gcB)"/>
<circle cx="522.4" cy="2236.3" r="6.4" fill="url(#gcB)"/>
<circle cx="692.7" cy="2224.2" r="8.2" fill="url(#gcB)"/>
<circle cx="727.4" cy="2237.1" r="8.2" fill="url(#gcA)"/>
<circle cx="577.6" cy="2242.4" r="6.9" fill="url(#gcB)"/>
<circle cx="711.2" cy="2249.5" r="8.8" fill="url(#gcB)"/>
<circle cx="603.1" cy="2255.3" r="8.8" fill="url(#gcA)"/>
<circle cx="690.3" cy="2263.4" r="8.2" fill="url(#gcB)"/>
<circle cx="551" cy="2263.7" r="6.4" fill="url(#gcA)"/>
<circle cx="570.8" cy="2267.3" r="10" fill="url(#gcB)"/>
<circle cx="612.5" cy="2279.4" r="9.5" fill="url(#gcB)"/>
<circle cx="589.7" cy="2286.8" r="10" fill="url(#gcB)"/>
<circle cx="616" cy="2292.3" r="7.7" fill="url(#gcB)"/>
<circle cx="604.7" cy="2301.3" r="10.6" fill="url(#gcB)"/>
<circle cx="733.8" cy="2293.6" r="8.2" fill="url(#gcB)"/>
<circle cx="757.7" cy="2303.6" r="8.8" fill="url(#gcB)"/>
<circle cx="647" cy="2317.8" r="8.8" fill="url(#gcB)"/>
<circle cx="677.3" cy="2320.7" r="9.5" fill="url(#gcB)"/>
<circle cx="698.8" cy="2323.4" r="8.2" fill="url(#gcB)"/>
<circle cx="623" cy="2330.2" r="9.5" fill="url(#gcB)"/>
<circle cx="587.3" cy="2333.9" r="7.7" fill="url(#gcB)"/>
<circle cx="720.6" cy="2332.3" r="8.2" fill="url(#gcB)"/>
<circle cx="754.8" cy="2325.8" r="9.5" fill="url(#gcB)"/>
<circle cx="682.2" cy="2338.3" r="6.4" fill="url(#gcB)"/>
<circle cx="693.5" cy="2338.7" r="7.7" fill="url(#gcB)"/>
<circle cx="706.1" cy="2338.7" r="7.7" fill="url(#gcB)"/>
<circle cx="654.4" cy="2342.3" r="9.5" fill="url(#gcB)"/>
<circle cx="670.9" cy="2354.4" r="9.1" fill="url(#gcB)"/>
<circle cx="555" cy="2355.7" r="5.5" fill="url(#gcB)"/>
<circle cx="691.5" cy="2369.9" r="8.8" fill="url(#gcB)"/>
<circle cx="708" cy="2374.2" r="6.9" fill="url(#gcB)"/>
<circle cx="675.7" cy="2381.5" r="6.9" fill="url(#gcB)"/>
<circle cx="661.2" cy="2386.7" r="8.2" fill="url(#gcB)"/>
<circle cx="705.6" cy="2391.2" r="10" fill="url(#gcA)"/>
<circle cx="627.6" cy="2391.5" r="6" fill="url(#gcB)"/>
<circle cx="519.2" cy="2377.5" r="6.4" fill="url(#gcA)"/>
<circle cx="533.7" cy="2396.8" r="6.4" fill="url(#gcB)"/>
<circle cx="759.6" cy="2392" r="5.5" fill="url(#gcA)"/>
<circle cx="639.4" cy="2156.4" r="2.3" fill="#22332f" stroke="#b9d2cb" stroke-width="0.9"/>
<circle cx="609.6" cy="2173.8" r="2.3" fill="#22332f" stroke="#b9d2cb" stroke-width="0.9"/>
<circle cx="604.2" cy="2177.9" r="1.8" fill="#22332f" stroke="#b9d2cb" stroke-width="0.9"/>
<circle cx="607.6" cy="2211.6" r="2.1" fill="#22332f" stroke="#b9d2cb" stroke-width="0.9"/>
<circle cx="674.1" cy="2227.4" r="2.1" fill="#22332f" stroke="#b9d2cb" stroke-width="0.9"/>
<circle cx="712.5" cy="2197.1" r="2.3" fill="#22332f" stroke="#b9d2cb" stroke-width="0.9"/>
<circle cx="741.6" cy="2164" r="1.8" fill="#22332f" stroke="#b9d2cb" stroke-width="0.9"/>
<circle cx="761.7" cy="2170.1" r="2.3" fill="#22332f" stroke="#b9d2cb" stroke-width="0.9"/>
<circle cx="672.5" cy="2147.5" r="2.3" fill="#22332f" stroke="#b9d2cb" stroke-width="0.9"/>
<circle cx="542.3" cy="2290.7" r="2.6" fill="#22332f" stroke="#b9d2cb" stroke-width="0.9"/>
<circle cx="724.5" cy="2301.6" r="2.1" fill="#22332f" stroke="#b9d2cb" stroke-width="0.9"/>
<circle cx="687.3" cy="2310.2" r="1.3" fill="#22332f" stroke="#b9d2cb" stroke-width="0.9"/>
<circle cx="699.1" cy="2352.9" r="2.1" fill="#22332f" stroke="#b9d2cb" stroke-width="0.9"/>
<circle cx="521.1" cy="2181.4" r="1.8" fill="#22332f" stroke="#b9d2cb" stroke-width="0.9"/>
</g>
<path d="M633 2238.7L638.1 2248.4" stroke="#fff" stroke-width="1.5" fill="none" marker-end="url(#arw)"/>
<path d="M729.8 2385.5H766.9" stroke="#fff" stroke-width="0.9"/>
<text x="748.3" y="2393.6" text-anchor="middle" font-family="&quot;DejaVu Sans&quot;, &quot;Liberation Sans&quot;, sans-serif" font-weight="bold" font-size="6.6" fill="#fff">50 µm</text>
</g>
<g clip-path="url(#cg2)">
<rect x="777.2" y="2145.1" width="252.7" height="253" fill="#3a5a57"/>
<circle cx="1019.3" cy="2161.2" r="38.7" fill="#5f7a78" opacity="0.7" filter="url(#fg20)"/>
<circle cx="1027.3" cy="2274.2" r="25.8" fill="#5a7573" opacity="0.6" filter="url(#fg20)"/>
<circle cx="906.3" cy="2290.3" r="38.7" fill="#34504e" opacity="0.7" filter="url(#fg20)"/>
<circle cx="825.6" cy="2193.5" r="38.7" fill="#3f5e5b" opacity="0.6" filter="url(#fg20)"/>
<circle cx="890.2" cy="2371" r="38.7" fill="#48635f" opacity="0.6" filter="url(#fg20)"/>
<circle cx="865.1" cy="2183" r="26.7" fill="url(#ghA)" opacity="1.00"/>
<circle cx="980.5" cy="2166.1" r="27.8" fill="url(#ghA)" opacity="1.00"/>
<circle cx="988.6" cy="2207.2" r="26.7" fill="url(#ghA)" opacity="1.00"/>
<circle cx="950.7" cy="2266.1" r="26.7" fill="url(#ghA)" opacity="1.00"/>
<circle cx="964.4" cy="2298.4" r="26.7" fill="url(#ghA)" opacity="0.90"/>
<circle cx="830.5" cy="2258.1" r="25.5" fill="url(#ghA)" opacity="0.80"/>
<circle cx="1024.1" cy="2232.2" r="25.5" fill="url(#ghA)" opacity="0.90"/>
<circle cx="1025.7" cy="2293.6" r="25.5" fill="url(#ghA)" opacity="0.90"/>
<circle cx="978.9" cy="2343.6" r="26.7" fill="url(#ghA)" opacity="0.90"/>
<circle cx="1011.2" cy="2343.6" r="25.5" fill="url(#ghA)" opacity="0.90"/>
<circle cx="870.8" cy="2306.5" r="25.5" fill="url(#ghA)" opacity="0.80"/>
<circle cx="867.6" cy="2333.9" r="23.2" fill="url(#ghA)" opacity="0.80"/>
<circle cx="1003.1" cy="2317.8" r="20.9" fill="url(#ghA)" opacity="0.60"/>
<circle cx="922.4" cy="2390.4" r="20.9" fill="url(#ghA)" opacity="0.70"/>
<circle cx="987" cy="2379.1" r="20.9" fill="url(#ghA)" opacity="0.50"/>
<circle cx="777.2" cy="2371" r="16.2" fill="url(#ghA)" opacity="0.60"/>
<g filter="url(#fg1)">
<circle cx="883.4" cy="2149.9" r="8.2" fill="url(#gcC)"/>
<circle cx="777.2" cy="2160.4" r="6.8" fill="url(#gcA)"/>
<circle cx="967.9" cy="2194.8" r="8.2" fill="url(#gcB)"/>
<circle cx="900.2" cy="2211.3" r="8.9" fill="url(#gcA)"/>
<circle cx="874" cy="2226.6" r="8.9" fill="url(#gcC)"/>
<circle cx="811.4" cy="2241.9" r="8.9" fill="url(#gcA)"/>
<circle cx="909.5" cy="2242.7" r="8.6" fill="url(#gcC)"/>
<circle cx="845.5" cy="2276.3" r="8.9" fill="url(#gcA)"/>
<circle cx="939.9" cy="2277.1" r="8.2" fill="url(#gcC)"/>
<circle cx="879.7" cy="2293.6" r="9.4" fill="url(#gcA)"/>
<circle cx="900.6" cy="2293.6" r="7.2" fill="url(#gcB)"/>
<circle cx="794.1" cy="2314.1" r="8.6" fill="url(#gcA)"/>
<circle cx="974.4" cy="2322.9" r="9.9" fill="url(#gcA)"/>
<circle cx="799" cy="2333.1" r="9.9" fill="url(#gcA)"/>
<circle cx="877.2" cy="2330.2" r="8.6" fill="url(#gcC)"/>
<circle cx="921.3" cy="2337.1" r="8.2" fill="url(#gcA)"/>
<circle cx="805" cy="2356.8" r="8.6" fill="url(#gcC)"/>
<circle cx="803.8" cy="2377.5" r="8.9" fill="url(#gcA)"/>
<circle cx="912.4" cy="2383.6" r="8.6" fill="url(#gcA)"/>
<circle cx="934.5" cy="2386.7" r="6" fill="url(#gcA)"/>
<circle cx="1024.1" cy="2379.9" r="6.5" fill="url(#gcA)"/>
<circle cx="953.9" cy="2393.6" r="7.7" fill="url(#gcA)"/>
<circle cx="826.1" cy="2207.2" r="4.4" fill="url(#gcA)"/>
<circle cx="815.1" cy="2178.2" r="2.4" fill="#1c2a29" stroke="#f4fbfa" stroke-width="1.3"/>
<circle cx="1003.1" cy="2164.1" r="2.7" fill="#1c2a29" stroke="#f4fbfa" stroke-width="1.3"/>
<circle cx="973.6" cy="2208.5" r="2.4" fill="#1c2a29" stroke="#f4fbfa" stroke-width="1.3"/>
<circle cx="1012.5" cy="2255.6" r="2.1" fill="#1c2a29" stroke="#f4fbfa" stroke-width="1.3"/>
<circle cx="981.3" cy="2278.7" r="1.1" fill="#1c2a29" stroke="#f4fbfa" stroke-width="1.3"/>
<circle cx="832.9" cy="2177.4" r="2.8" fill="#22332f" stroke="#b9d2cb" stroke-width="0.9"/>
<circle cx="829.6" cy="2278.7" r="2.8" fill="#22332f" stroke="#b9d2cb" stroke-width="0.9"/>
<circle cx="840.9" cy="2338.7" r="1.8" fill="#22332f" stroke="#b9d2cb" stroke-width="0.9"/>
</g>
<path d="M845 2175L852.5 2182.4" stroke="#fff" stroke-width="1.5" fill="none" marker-end="url(#arw)"/>
<path d="M853 2300L860.5 2307.8" stroke="#fff" stroke-width="1.5" fill="none" marker-end="url(#arw)"/>
<path d="M986.2 2308.9L993.9 2316.6" stroke="#fff" stroke-width="1.5" fill="none" marker-end="url(#arw)"/>
<path d="M987 2385.5H1024.9" stroke="#fff" stroke-width="0.9"/>
<text x="1006" y="2393.6" text-anchor="middle" font-family="&quot;DejaVu Sans&quot;, &quot;Liberation Sans&quot;, sans-serif" font-weight="bold" font-size="6.6" fill="#fff">50 µm</text>
</g>
<rect x="1178.3" y="2211.9" width="41" height="220.2" fill="#c4488f" stroke="#1a1a1a" stroke-width="1.2"/>
<rect x="1241.7" y="2392" width="41" height="40.1" fill="#1f3b6e" stroke="#1a1a1a" stroke-width="1.2"/>
<rect x="1304.9" y="2201.9" width="41" height="230.2" fill="#05853f" stroke="#1a1a1a" stroke-width="1.2"/>
<path d="M1156.6 2114.7V2432.1M1144.5 2432.1H1368.1M1144.5 2326.5H1156.6M1144.5 2220.9H1156.6M1144.5 2115.3H1156.6M1198.8 2432.1V2444.7M1262.2 2432.1V2444.7M1325.4 2432.1V2444.7" fill="none" stroke="#222" stroke-width="1.3"/>
<text text-anchor="end" font-size="26" x="1141" y="2440.5">0</text>
<text text-anchor="end" font-size="26" x="1141" y="2334.9">20</text>
<text text-anchor="end" font-size="26" x="1141" y="2229.3">40</text>
<text text-anchor="end" font-size="26" x="1141" y="2123.7">60</text>
<path d="M1198.8 2162.7V2260M1188 2162.7h21.6M1188 2260h21.6M1262.2 2372.3V2410.3M1251.4 2372.3h21.6M1251.4 2410.3h21.6M1325.4 2159.4V2243.4M1314.6 2159.4h21.6M1314.6 2243.4h21.6" fill="none" stroke="#111" stroke-width="1.2"/>
<circle cx="1198.7" cy="2141" r="4.6" fill="#000"/>
<circle cx="1198.7" cy="2220.8" r="4.6" fill="#000"/>
<circle cx="1198.7" cy="2231.3" r="4.6" fill="#000"/>
<circle cx="1198.7" cy="2252" r="4.6" fill="#000"/>
<circle cx="1262.1" cy="2364.1" r="4.6" fill="#000"/>
<circle cx="1262.1" cy="2391.9" r="4.6" fill="#000"/>
<circle cx="1252.4" cy="2405.6" r="4.6" fill="#000"/>
<circle cx="1272" cy="2404.3" r="4.6" fill="#000"/>
<circle cx="1315.8" cy="2168" r="4.6" fill="#000"/>
<circle cx="1335" cy="2168" r="4.6" fill="#000"/>
<circle cx="1325.4" cy="2212.3" r="4.6" fill="#000"/>
<circle cx="1325.4" cy="2256.7" r="4.6" fill="#000"/>
<path d="M1198.4 2072.1V1984.3H1325.4V2002.5" fill="none" stroke="#111" stroke-width="1.2"/>
<path d="M1261.8 2053.4V2034.7H1325.4V2141" fill="none" stroke="#111" stroke-width="1.2"/>
<path d="M1198.4 2122.3V2103.8H1261.8V2345.3" fill="none" stroke="#111" stroke-width="1.2"/>
<text text-anchor="middle" font-size="26" x="1262" y="1979.9">&gt;0.9999</text>
<text text-anchor="middle" font-size="26" x="1294.2" y="2030.3">0.0422</text>
<text text-anchor="middle" font-size="26" x="1230.5" y="2099.1">0.0716</text>
<text text-anchor="middle" x="1268.4" y="1941.9">5 µM Ca-I</text>
<text text-anchor="middle" font-size="25.8" transform="translate(1097.4 2272.8) rotate(-90)">% NETotic/total cells</text>
<text text-anchor="end" transform="translate(1202 2462.9) rotate(-45)">vehicle</text>
<text text-anchor="end" transform="translate(1265.7 2463.4) rotate(-45)">PADI4_3</text>
<text text-anchor="end" transform="translate(1332.9 2462.6) rotate(-45)">PADI4_3i</text></g>
</svg></body></html>
